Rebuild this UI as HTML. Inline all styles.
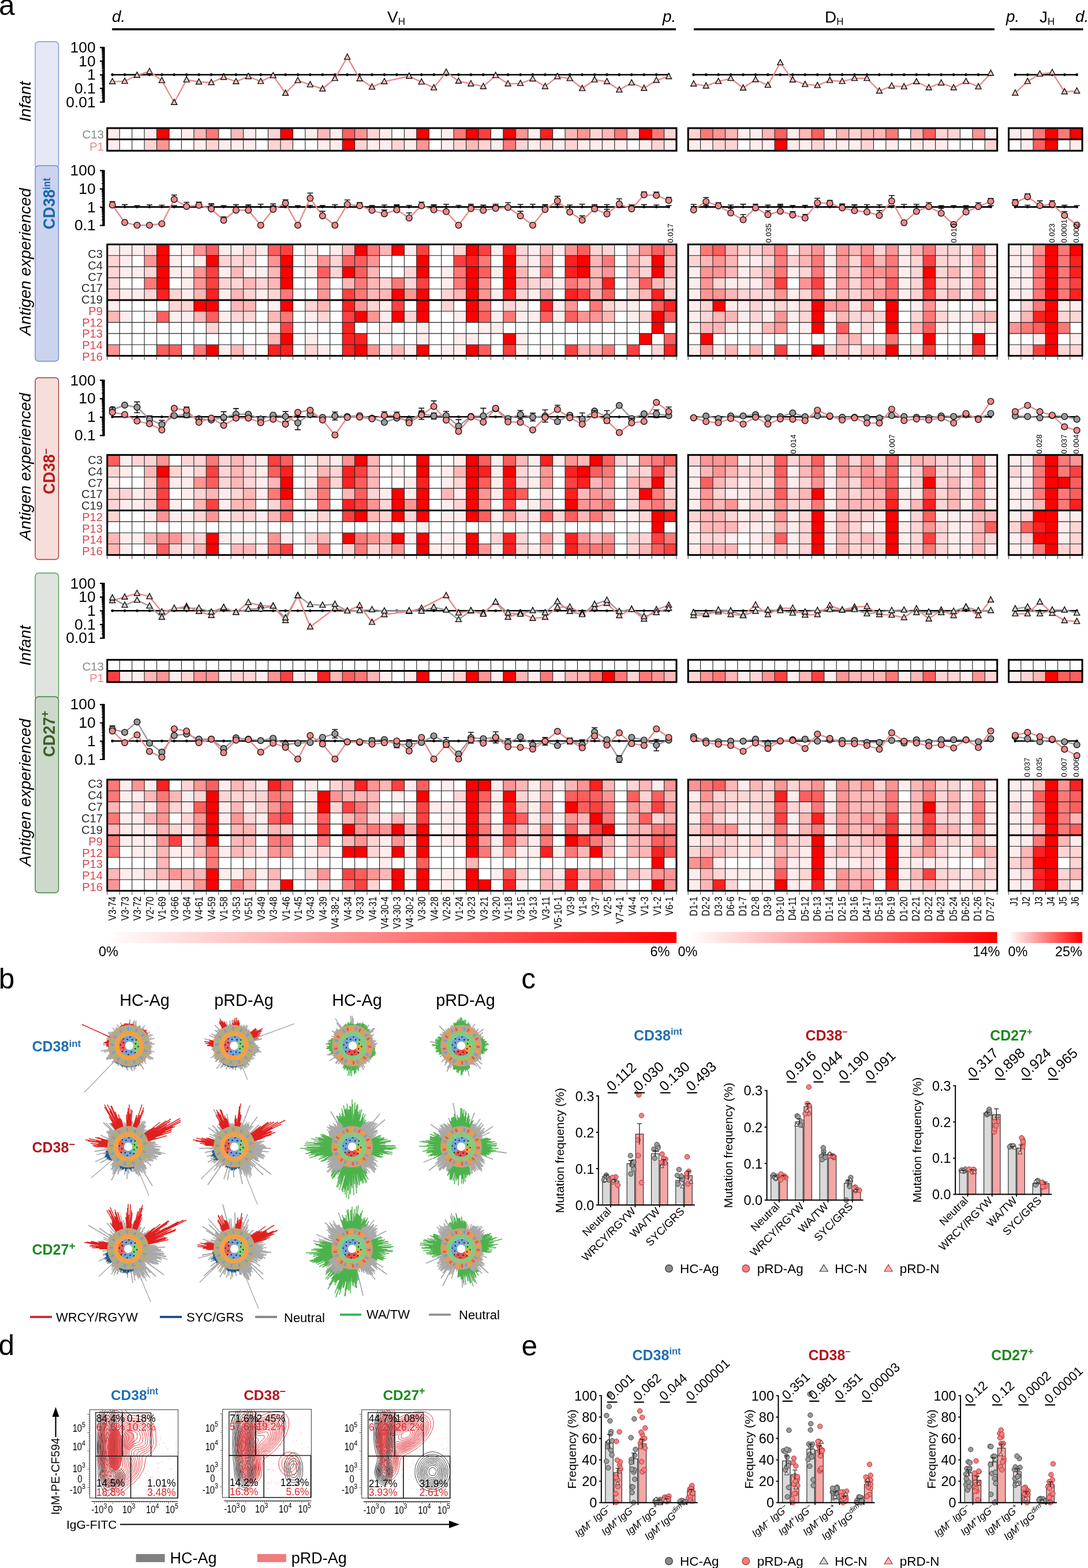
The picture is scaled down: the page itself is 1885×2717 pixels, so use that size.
<!DOCTYPE html>
<html><head><meta charset="utf-8"><title>Figure</title><style>html,body{margin:0;padding:0;background:#fff;}body{width:1885px;height:2717px;overflow:hidden;}svg{display:block;}</style></head><body>
<svg xmlns="http://www.w3.org/2000/svg" width="1885" height="2717" viewBox="0 0 1885 2717" font-family="'Liberation Sans', Arial, Helvetica, sans-serif">
<rect width="1885" height="2717" fill="#fff"/>
<text x="-2" y="25.6" font-size="49.5" text-anchor="start" fill="#000">a</text>
<text x="194" y="38" font-size="28" text-anchor="start" fill="#000" font-style="italic">d.</text>
<text x="1148" y="38" font-size="28" text-anchor="start" fill="#000" font-style="italic">p.</text>
<text x="671" y="38.5" font-size="28" text-anchor="start" fill="#000">V<tspan font-size="17" dy="4.5">H</tspan></text>
<text x="1429" y="38.5" font-size="28" text-anchor="start" fill="#000">D<tspan font-size="17" dy="4.5">H</tspan></text>
<text x="1743" y="38" font-size="28" text-anchor="start" fill="#000" font-style="italic">p.</text>
<text x="1801" y="38.5" font-size="28" text-anchor="start" fill="#000">J<tspan font-size="17" dy="4.5">H</tspan></text>
<text x="1863" y="38" font-size="28" text-anchor="start" fill="#000" font-style="italic">d.</text>
<path d="M194.2 50.7H1171M1202 50.7H1723M1749.4 50.7H1876.5" stroke="#000" stroke-width="3.6" fill="none"/>
<rect x="61" y="72.2" width="40.5" height="219.8" rx="6" ry="6" fill="#e6e8f6" stroke="#7f98cf" stroke-width="1.4"/>
<rect x="61" y="287" width="40.5" height="339" rx="6" ry="6" fill="#ccd3ee" stroke="#6f8cc9" stroke-width="1.4"/>
<rect x="61" y="654.5" width="40.5" height="315" rx="6" ry="6" fill="#f6dedb" stroke="#9b3b3b" stroke-width="1.4"/>
<rect x="61" y="993" width="40.5" height="219" rx="6" ry="6" fill="#dfe4df" stroke="#4f9a4f" stroke-width="1.4"/>
<rect x="61" y="1207.3" width="40.5" height="339.7" rx="6" ry="6" fill="#ccd9cb" stroke="#3f7f3f" stroke-width="1.4"/>
<text x="52.5" y="176" font-size="28" text-anchor="middle" fill="#000" font-style="italic" transform="rotate(-90 52.5 176)">Infant</text>
<text x="52.5" y="453.5" font-size="28" text-anchor="middle" fill="#000" font-style="italic" transform="rotate(-90 52.5 453.5)">Antigen experienced</text>
<text x="52.5" y="808.5" font-size="28" text-anchor="middle" fill="#000" font-style="italic" transform="rotate(-90 52.5 808.5)">Antigen experienced</text>
<text x="52.5" y="1118.5" font-size="28" text-anchor="middle" fill="#000" font-style="italic" transform="rotate(-90 52.5 1118.5)">Infant</text>
<text x="52.5" y="1373" font-size="28" text-anchor="middle" fill="#000" font-style="italic" transform="rotate(-90 52.5 1373)">Antigen experienced</text>
<text font-size="29.5" text-anchor="start" fill="#1668b0" font-weight="bold" transform="translate(94.6 397.5) rotate(-90) scale(0.92 1)">CD38<tspan font-size="17.5" dy="-8">int</tspan></text>
<text font-size="29.5" text-anchor="start" fill="#b81c1c" font-weight="bold" transform="translate(94.8 856.5) rotate(-90) scale(0.92 1)">CD38<tspan font-size="20" dy="-10">&#8211;</tspan></text>
<text font-size="29.5" text-anchor="start" fill="#3b5e25" font-weight="bold" transform="translate(94.6 1311.8) rotate(-90) scale(0.92 1)">CD27<tspan font-size="20" dy="-10">+</tspan></text>
<path d="M179.5 81.3V177.9" stroke="#000" stroke-width="4.4" fill="none"/>
<path d="M179.5 82.3H173M179.5 105.9H173M179.5 129.6H173M179.5 153.2H173M179.5 176.9H173" stroke="#000" stroke-width="2.2" fill="none"/>
<path d="M179.5 98.8H176.2M179.5 94.7H176.2M179.5 91.7H176.2M179.5 89.4H176.2M179.5 87.5H176.2M179.5 86H176.2M179.5 84.6H176.2M179.5 83.4H176.2M179.5 122.5H176.2M179.5 118.3H176.2M179.5 115.4H176.2M179.5 113.1H176.2M179.5 111.2H176.2M179.5 109.6H176.2M179.5 108.2H176.2M179.5 107H176.2M179.5 146.1H176.2M179.5 142H176.2M179.5 139H176.2M179.5 136.7H176.2M179.5 134.8H176.2M179.5 133.3H176.2M179.5 131.9H176.2M179.5 130.7H176.2M179.5 169.8H176.2M179.5 165.6H176.2M179.5 162.7H176.2M179.5 160.4H176.2M179.5 158.5H176.2M179.5 156.9H176.2M179.5 155.5H176.2M179.5 154.3H176.2" stroke="#000" stroke-width="1.5" fill="none"/>
<text x="165.6" y="90.9" font-size="26.4" text-anchor="end" fill="#000">100</text>
<text x="165.6" y="114.5" font-size="26.4" text-anchor="end" fill="#000">10</text>
<text x="165.6" y="138.2" font-size="26.4" text-anchor="end" fill="#000">1</text>
<text x="165.6" y="161.8" font-size="26.4" text-anchor="end" fill="#000">0.1</text>
<text x="165.6" y="185.5" font-size="26.4" text-anchor="end" fill="#000">0.01</text>
<path d="M194.7 129.5H1158.6" stroke="#000" stroke-width="2.6" fill="none"/>
<path d="M194.7 129.5h0M216.1 129.5h0M237.5 129.5h0M259 129.5h0M280.4 129.5h0M301.8 129.5h0M323.2 129.5h0M344.6 129.5h0M366.1 129.5h0M387.5 129.5h0M408.9 129.5h0M430.3 129.5h0M451.7 129.5h0M473.2 129.5h0M494.6 129.5h0M516 129.5h0M537.4 129.5h0M558.8 129.5h0M580.3 129.5h0M601.7 129.5h0M623.1 129.5h0M644.5 129.5h0M665.9 129.5h0M687.4 129.5h0M708.8 129.5h0M730.2 129.5h0M751.6 129.5h0M773 129.5h0M794.5 129.5h0M815.9 129.5h0M837.3 129.5h0M858.7 129.5h0M880.1 129.5h0M901.6 129.5h0M923 129.5h0M944.4 129.5h0M965.8 129.5h0M987.2 129.5h0M1008.7 129.5h0M1030.1 129.5h0M1051.5 129.5h0M1072.9 129.5h0M1094.3 129.5h0M1115.8 129.5h0M1137.2 129.5h0M1158.6 129.5h0" stroke="#000" stroke-width="4.8" stroke-linecap="round" fill="none"/>
<path d="M1201.7 129.5H1716.5" stroke="#000" stroke-width="2.6" fill="none"/>
<path d="M1201.7 129.5h0M1223.2 129.5h0M1244.6 129.5h0M1266 129.5h0M1287.5 129.5h0M1309 129.5h0M1330.4 129.5h0M1351.9 129.5h0M1373.3 129.5h0M1394.8 129.5h0M1416.2 129.5h0M1437.7 129.5h0M1459.1 129.5h0M1480.5 129.5h0M1502 129.5h0M1523.5 129.5h0M1544.9 129.5h0M1566.3 129.5h0M1587.8 129.5h0M1609.2 129.5h0M1630.7 129.5h0M1652.2 129.5h0M1673.6 129.5h0M1695 129.5h0M1716.5 129.5h0" stroke="#000" stroke-width="4.8" stroke-linecap="round" fill="none"/>
<path d="M1758.9 129.5H1865.7" stroke="#000" stroke-width="2.6" fill="none"/>
<path d="M1758.9 129.5h0M1780.3 129.5h0M1801.6 129.5h0M1823 129.5h0M1844.3 129.5h0M1865.7 129.5h0" stroke="#000" stroke-width="4.8" stroke-linecap="round" fill="none"/>
<path d="M194.7 141.4L216.1 140.8L237.5 130.5L259 123.9L280.4 139.6L301.8 177.5L323.2 138.3L344.6 142L366.1 143L387.5 133.9L408.9 141.4L430.3 132.7L451.7 141.1L473.2 131.1L494.6 161.5L516 139.6L537.4 146.8L558.8 154L580.3 135.8L601.7 99.1L623.1 136.4L644.5 150.8L665.9 141.4L708.8 132L730.2 142.1L751.6 152.1L773 125.1L794.5 140.5L815.9 145.2L837.3 149.9L858.7 130.8L880.1 145.2L901.6 144.6L923 136.7L944.4 149.9L965.8 132.7L987.2 136.1L1008.7 153.3L1030.1 138.3L1051.5 141.4L1072.9 155.8L1094.3 143.6L1115.8 153L1137.2 139.2L1158.6 132.7" stroke="#e98a8a" stroke-width="2.4" fill="none" stroke-linejoin="round"/>
<path d="M1201.7 145.4L1223.2 148.9L1244.6 141.1L1266 135.8L1287.5 152.5L1309 138L1330.4 147.6L1351.9 108.6L1373.3 138.4L1394.8 146.3L1416.2 148.1L1437.7 139.3L1459.1 141.1L1480.5 135.8L1502 135.8L1523.5 157.7L1544.9 148.9L1566.3 150.3L1587.8 141.5L1609.2 152L1630.7 143.7L1652.2 152L1673.6 141.1L1695 150.3L1716.5 127" stroke="#e98a8a" stroke-width="2.4" fill="none" stroke-linejoin="round"/>
<path d="M1758.9 161.2L1780.3 141.1L1801.6 128.3L1823 125.7L1844.3 159L1865.7 157.7" stroke="#e98a8a" stroke-width="2.4" fill="none" stroke-linejoin="round"/>
<path d="M194.7 135.7l5 9.5h-10zM216.1 135.1l5 9.5h-10zM237.5 124.8l5 9.5h-10zM259 118.2l5 9.5h-10zM280.4 133.9l5 9.5h-10zM301.8 171.8l5 9.5h-10zM323.2 132.6l5 9.5h-10zM344.6 136.3l5 9.5h-10zM366.1 137.3l5 9.5h-10zM387.5 128.2l5 9.5h-10zM408.9 135.7l5 9.5h-10zM430.3 127l5 9.5h-10zM451.7 135.4l5 9.5h-10zM473.2 125.4l5 9.5h-10zM494.6 155.8l5 9.5h-10zM516 133.9l5 9.5h-10zM537.4 141.1l5 9.5h-10zM558.8 148.3l5 9.5h-10zM580.3 130.1l5 9.5h-10zM601.7 93.4l5 9.5h-10zM623.1 130.7l5 9.5h-10zM644.5 145.1l5 9.5h-10zM665.9 135.7l5 9.5h-10zM708.8 126.3l5 9.5h-10zM730.2 136.4l5 9.5h-10zM751.6 146.4l5 9.5h-10zM773 119.4l5 9.5h-10zM794.5 134.8l5 9.5h-10zM815.9 139.5l5 9.5h-10zM837.3 144.2l5 9.5h-10zM858.7 125.1l5 9.5h-10zM880.1 139.5l5 9.5h-10zM901.6 138.9l5 9.5h-10zM923 131l5 9.5h-10zM944.4 144.2l5 9.5h-10zM965.8 127l5 9.5h-10zM987.2 130.4l5 9.5h-10zM1008.7 147.6l5 9.5h-10zM1030.1 132.6l5 9.5h-10zM1051.5 135.7l5 9.5h-10zM1072.9 150.1l5 9.5h-10zM1094.3 137.9l5 9.5h-10zM1115.8 147.3l5 9.5h-10zM1137.2 133.5l5 9.5h-10zM1158.6 127l5 9.5h-10z" fill="#f6c4c4" stroke="#111" stroke-width="1.4"/>
<path d="M1201.7 139.7l5 9.5h-10zM1223.2 143.2l5 9.5h-10zM1244.6 135.4l5 9.5h-10zM1266 130.1l5 9.5h-10zM1287.5 146.8l5 9.5h-10zM1309 132.3l5 9.5h-10zM1330.4 141.9l5 9.5h-10zM1351.9 102.9l5 9.5h-10zM1373.3 132.7l5 9.5h-10zM1394.8 140.6l5 9.5h-10zM1416.2 142.4l5 9.5h-10zM1437.7 133.6l5 9.5h-10zM1459.1 135.4l5 9.5h-10zM1480.5 130.1l5 9.5h-10zM1502 130.1l5 9.5h-10zM1523.5 152l5 9.5h-10zM1544.9 143.2l5 9.5h-10zM1566.3 144.6l5 9.5h-10zM1587.8 135.8l5 9.5h-10zM1609.2 146.3l5 9.5h-10zM1630.7 138l5 9.5h-10zM1652.2 146.3l5 9.5h-10zM1673.6 135.4l5 9.5h-10zM1695 144.6l5 9.5h-10zM1716.5 121.3l5 9.5h-10z" fill="#f6c4c4" stroke="#111" stroke-width="1.4"/>
<path d="M1758.9 155.5l5 9.5h-10zM1780.3 135.4l5 9.5h-10zM1801.6 122.6l5 9.5h-10zM1823 120l5 9.5h-10zM1844.3 153.3l5 9.5h-10zM1865.7 152l5 9.5h-10z" fill="#f6c4c4" stroke="#111" stroke-width="1.4"/>
<path d="M185.8 222h21.7v19.9h-21.7zM250.1 222h21.7v19.9h-21.7zM314.4 222h21.7v19.9h-21.7zM421.6 222h21.7v19.9h-21.7zM528.8 222h21.7v19.9h-21.7zM571.7 222h21.7v19.9h-21.7zM657.5 222h21.7v19.9h-21.7zM700.4 222h21.7v19.9h-21.7zM764.7 222h21.7v19.9h-21.7zM914.8 222h21.7v19.9h-21.7zM185.8 241.6h21.7v19.9h-21.7zM335.9 241.6h21.7v19.9h-21.7zM378.8 241.6h21.7v19.9h-21.7zM400.2 241.6h21.7v19.9h-21.7zM421.6 241.6h21.7v19.9h-21.7zM550.3 241.6h21.7v19.9h-21.7zM571.7 241.6h21.7v19.9h-21.7zM636 241.6h21.7v19.9h-21.7zM657.5 241.6h21.7v19.9h-21.7zM700.4 241.6h21.7v19.9h-21.7zM764.7 241.6h21.7v19.9h-21.7zM850.4 241.6h21.7v19.9h-21.7zM914.8 241.6h21.7v19.9h-21.7zM957.6 241.6h21.7v19.9h-21.7zM1000.5 241.6h21.7v19.9h-21.7zM1022 241.6h21.7v19.9h-21.7zM1043.4 241.6h21.7v19.9h-21.7zM1064.8 241.6h21.7v19.9h-21.7zM1107.7 241.6h21.7v19.9h-21.7zM1150.6 241.6h21.7v19.9h-21.7z" fill="rgb(255,236,236)"/>
<path d="M464.5 222h21.7v19.9h-21.7zM636 222h21.7v19.9h-21.7zM1022 222h21.7v19.9h-21.7zM1086.3 222h21.7v19.9h-21.7zM1150.6 222h21.7v19.9h-21.7zM250.1 241.6h21.7v19.9h-21.7zM357.3 241.6h21.7v19.9h-21.7zM464.5 241.6h21.7v19.9h-21.7zM486 241.6h21.7v19.9h-21.7zM614.6 241.6h21.7v19.9h-21.7zM678.9 241.6h21.7v19.9h-21.7zM786.1 241.6h21.7v19.9h-21.7zM829 241.6h21.7v19.9h-21.7zM893.3 241.6h21.7v19.9h-21.7zM936.2 241.6h21.7v19.9h-21.7zM979.1 241.6h21.7v19.9h-21.7zM1129.2 241.6h21.7v19.9h-21.7z" fill="rgb(255,212,212)"/>
<path d="M335.9 222h21.7v19.9h-21.7zM400.2 222h21.7v19.9h-21.7zM550.3 222h21.7v19.9h-21.7zM979.1 222h21.7v19.9h-21.7zM1043.4 222h21.7v19.9h-21.7zM807.6 241.6h21.7v19.9h-21.7z" fill="rgb(255,182,182)"/>
<path d="M614.6 222h21.7v19.9h-21.7zM893.3 222h21.7v19.9h-21.7zM1000.5 222h21.7v19.9h-21.7zM271.6 241.6h21.7v19.9h-21.7zM721.8 241.6h21.7v19.9h-21.7z" fill="rgb(255,148,148)"/>
<path d="M357.3 222h21.7v19.9h-21.7zM786.1 222h21.7v19.9h-21.7zM1064.8 222h21.7v19.9h-21.7zM1129.2 222h21.7v19.9h-21.7zM871.9 241.6h21.7v19.9h-21.7z" fill="rgb(255,120,120)"/>
<path d="M593.2 222h21.7v19.9h-21.7z" fill="rgb(255,94,94)"/>
<path d="M829 222h21.7v19.9h-21.7z" fill="rgb(255,64,64)"/>
<path d="M936.2 222h21.7v19.9h-21.7z" fill="rgb(255,32,32)"/>
<path d="M271.6 222h21.7v19.9h-21.7zM486 222h21.7v19.9h-21.7zM721.8 222h21.7v19.9h-21.7zM807.6 222h21.7v19.9h-21.7zM871.9 222h21.7v19.9h-21.7zM1107.7 222h21.7v19.9h-21.7zM593.2 241.6h21.7v19.9h-21.7z" fill="rgb(255,0,0)"/>
<path d="M207.2 222V261.2M228.7 222V261.2M250.1 222V261.2M271.6 222V261.2M293 222V261.2M314.4 222V261.2M335.9 222V261.2M357.3 222V261.2M378.8 222V261.2M400.2 222V261.2M421.6 222V261.2M443.1 222V261.2M464.5 222V261.2M486 222V261.2M507.4 222V261.2M528.8 222V261.2M550.3 222V261.2M571.7 222V261.2M593.2 222V261.2M614.6 222V261.2M636 222V261.2M657.5 222V261.2M678.9 222V261.2M700.4 222V261.2M721.8 222V261.2M743.2 222V261.2M764.7 222V261.2M786.1 222V261.2M807.6 222V261.2M829 222V261.2M850.4 222V261.2M871.9 222V261.2M893.3 222V261.2M914.8 222V261.2M936.2 222V261.2M957.6 222V261.2M979.1 222V261.2M1000.5 222V261.2M1022 222V261.2M1043.4 222V261.2M1064.8 222V261.2M1086.3 222V261.2M1107.7 222V261.2M1129.2 222V261.2M1150.6 222V261.2" stroke="#222" stroke-width="1.1" fill="none"/>
<path d="M185.8 241.6H1172" stroke="#000" stroke-width="3" fill="none"/>
<rect x="185.8" y="222" width="986.2" height="39.2" fill="none" stroke="#000" stroke-width="3"/>
<path d="M1277.9 222h21.7v19.9h-21.7zM1299.3 222h21.7v19.9h-21.7zM1363.6 222h21.7v19.9h-21.7zM1427.8 222h21.7v19.9h-21.7zM1706.3 222h21.7v19.9h-21.7zM1192.2 241.6h21.7v19.9h-21.7zM1213.6 241.6h21.7v19.9h-21.7zM1299.3 241.6h21.7v19.9h-21.7zM1320.7 241.6h21.7v19.9h-21.7zM1363.6 241.6h21.7v19.9h-21.7zM1385 241.6h21.7v19.9h-21.7zM1427.8 241.6h21.7v19.9h-21.7zM1449.2 241.6h21.7v19.9h-21.7zM1470.7 241.6h21.7v19.9h-21.7zM1534.9 241.6h21.7v19.9h-21.7zM1577.8 241.6h21.7v19.9h-21.7zM1599.2 241.6h21.7v19.9h-21.7zM1620.6 241.6h21.7v19.9h-21.7z" fill="rgb(255,236,236)"/>
<path d="M1192.2 222h21.7v19.9h-21.7zM1470.7 222h21.7v19.9h-21.7zM1620.6 222h21.7v19.9h-21.7zM1642 222h21.7v19.9h-21.7zM1235 241.6h21.7v19.9h-21.7zM1256.5 241.6h21.7v19.9h-21.7zM1406.4 241.6h21.7v19.9h-21.7zM1492.1 241.6h21.7v19.9h-21.7zM1706.3 241.6h21.7v19.9h-21.7z" fill="rgb(255,212,212)"/>
<path d="M1256.5 222h21.7v19.9h-21.7zM1320.7 222h21.7v19.9h-21.7zM1385 222h21.7v19.9h-21.7zM1449.2 222h21.7v19.9h-21.7zM1492.1 222h21.7v19.9h-21.7zM1513.5 222h21.7v19.9h-21.7zM1577.8 222h21.7v19.9h-21.7z" fill="rgb(255,182,182)"/>
<path d="M1235 222h21.7v19.9h-21.7zM1684.9 222h21.7v19.9h-21.7z" fill="rgb(255,148,148)"/>
<path d="M1213.6 222h21.7v19.9h-21.7zM1534.9 222h21.7v19.9h-21.7z" fill="rgb(255,120,120)"/>
<path d="M1342.1 222h21.7v19.9h-21.7zM1406.4 222h21.7v19.9h-21.7zM1599.2 222h21.7v19.9h-21.7z" fill="rgb(255,94,94)"/>
<path d="M1342.1 241.6h21.7v19.9h-21.7z" fill="rgb(255,0,0)"/>
<path d="M1213.6 222V261.2M1235 222V261.2M1256.5 222V261.2M1277.9 222V261.2M1299.3 222V261.2M1320.7 222V261.2M1342.1 222V261.2M1363.6 222V261.2M1385 222V261.2M1406.4 222V261.2M1427.8 222V261.2M1449.2 222V261.2M1470.7 222V261.2M1492.1 222V261.2M1513.5 222V261.2M1534.9 222V261.2M1556.3 222V261.2M1577.8 222V261.2M1599.2 222V261.2M1620.6 222V261.2M1642 222V261.2M1663.4 222V261.2M1684.9 222V261.2M1706.3 222V261.2" stroke="#222" stroke-width="1.1" fill="none"/>
<path d="M1192.2 241.6H1727.7" stroke="#000" stroke-width="3" fill="none"/>
<rect x="1192.2" y="222" width="535.5" height="39.2" fill="none" stroke="#000" stroke-width="3"/>
<path d="M1747.6 222h21.6v19.9h-21.6zM1768.8 222h21.6v19.9h-21.6zM1768.8 241.6h21.6v19.9h-21.6zM1853.8 241.6h21.6v19.9h-21.6z" fill="rgb(255,236,236)"/>
<path d="M1790.1 222h21.6v19.9h-21.6zM1832.6 222h21.6v19.9h-21.6z" fill="rgb(255,120,120)"/>
<path d="M1790.1 241.6h21.6v19.9h-21.6z" fill="rgb(255,94,94)"/>
<path d="M1811.3 222h21.6v19.9h-21.6zM1853.8 222h21.6v19.9h-21.6zM1811.3 241.6h21.6v19.9h-21.6z" fill="rgb(255,0,0)"/>
<path d="M1768.8 222V261.2M1790.1 222V261.2M1811.3 222V261.2M1832.6 222V261.2M1853.8 222V261.2" stroke="#222" stroke-width="1.1" fill="none"/>
<path d="M1747.6 241.6H1875.1" stroke="#000" stroke-width="3" fill="none"/>
<rect x="1747.6" y="222" width="127.5" height="39.2" fill="none" stroke="#000" stroke-width="3"/>
<text x="180" y="240.2" font-size="20.5" text-anchor="end" fill="#8a8a8a">C13</text>
<text x="180" y="261.2" font-size="20.5" text-anchor="end" fill="#ee8a8a">P1</text>
<path d="M179.5 294.7V391.6" stroke="#000" stroke-width="4.4" fill="none"/>
<path d="M179.5 295.7H173M179.5 327.3H173M179.5 359H173M179.5 390.6H173" stroke="#000" stroke-width="2.2" fill="none"/>
<path d="M179.5 317.8H176.2M179.5 312.2H176.2M179.5 308.3H176.2M179.5 305.2H176.2M179.5 302.7H176.2M179.5 300.6H176.2M179.5 298.8H176.2M179.5 297.1H176.2M179.5 349.4H176.2M179.5 343.9H176.2M179.5 339.9H176.2M179.5 336.9H176.2M179.5 334.3H176.2M179.5 332.2H176.2M179.5 330.4H176.2M179.5 328.8H176.2M179.5 381.1H176.2M179.5 375.5H176.2M179.5 371.5H176.2M179.5 368.5H176.2M179.5 366H176.2M179.5 363.9H176.2M179.5 362H176.2M179.5 360.4H176.2" stroke="#000" stroke-width="1.5" fill="none"/>
<text x="165.6" y="304.3" font-size="26.4" text-anchor="end" fill="#000">100</text>
<text x="165.6" y="335.9" font-size="26.4" text-anchor="end" fill="#000">10</text>
<text x="165.6" y="367.6" font-size="26.4" text-anchor="end" fill="#000">1</text>
<text x="165.6" y="399.2" font-size="26.4" text-anchor="end" fill="#000">0.1</text>
<path d="M194.7 358.6H1158.6" stroke="#000" stroke-width="2.6" fill="none"/>
<path d="M194.7 358.6h0M216.1 358.6h0M237.5 358.6h0M259 358.6h0M280.4 358.6h0M301.8 358.6h0M323.2 358.6h0M344.6 358.6h0M366.1 358.6h0M387.5 358.6h0M408.9 358.6h0M430.3 358.6h0M451.7 358.6h0M473.2 358.6h0M494.6 358.6h0M516 358.6h0M537.4 358.6h0M558.8 358.6h0M580.3 358.6h0M601.7 358.6h0M623.1 358.6h0M644.5 358.6h0M665.9 358.6h0M687.4 358.6h0M708.8 358.6h0M730.2 358.6h0M751.6 358.6h0M773 358.6h0M794.5 358.6h0M815.9 358.6h0M837.3 358.6h0M858.7 358.6h0M880.1 358.6h0M901.6 358.6h0M923 358.6h0M944.4 358.6h0M965.8 358.6h0M987.2 358.6h0M1008.7 358.6h0M1030.1 358.6h0M1051.5 358.6h0M1072.9 358.6h0M1094.3 358.6h0M1115.8 358.6h0M1137.2 358.6h0M1158.6 358.6h0" stroke="#000" stroke-width="4.8" stroke-linecap="round" fill="none"/>
<path d="M1201.7 358.6H1716.5" stroke="#000" stroke-width="2.6" fill="none"/>
<path d="M1201.7 358.6h0M1223.2 358.6h0M1244.6 358.6h0M1266 358.6h0M1287.5 358.6h0M1309 358.6h0M1330.4 358.6h0M1351.9 358.6h0M1373.3 358.6h0M1394.8 358.6h0M1416.2 358.6h0M1437.7 358.6h0M1459.1 358.6h0M1480.5 358.6h0M1502 358.6h0M1523.5 358.6h0M1544.9 358.6h0M1566.3 358.6h0M1587.8 358.6h0M1609.2 358.6h0M1630.7 358.6h0M1652.2 358.6h0M1673.6 358.6h0M1695 358.6h0M1716.5 358.6h0" stroke="#000" stroke-width="4.8" stroke-linecap="round" fill="none"/>
<path d="M1758.9 358.6H1865.7" stroke="#000" stroke-width="2.6" fill="none"/>
<path d="M1758.9 358.6h0M1780.3 358.6h0M1801.6 358.6h0M1823 358.6h0M1844.3 358.6h0M1865.7 358.6h0" stroke="#000" stroke-width="4.8" stroke-linecap="round" fill="none"/>
<path d="M194.7 355.2L216.1 385.6L237.5 390.3L259 390.3L280.4 387.7L301.8 345.5L323.2 357.7L344.6 355.8L366.1 362L387.5 381.8L408.9 364.2L430.3 364.2L451.7 390.3L473.2 362.7L494.6 352L516 390.3L537.4 343.6L558.8 374L580.3 390.3L601.7 354.2L623.1 356.4L644.5 364.6L665.9 370.5L687.4 363.6L708.8 377.7L730.2 356.4L751.6 363.6L773 366.8L794.5 390.3L815.9 361.4L837.3 364.6L858.7 361.1L880.1 359.5L901.6 374L923 390.3L944.4 363L965.8 348L987.2 367.4L1008.7 381.5L1030.1 362L1051.5 370.8L1072.9 353.6L1094.3 362L1115.8 337.6L1137.2 338.6L1158.6 347.3" stroke="#e98a8a" stroke-width="2.4" fill="none" stroke-linejoin="round"/>
<path d="M1201.7 363.7L1223.2 349.2L1244.6 356.7L1266 369L1287.5 380.8L1309 360.2L1330.4 372L1351.9 365.9L1373.3 372.5L1394.8 377.7L1416.2 351.4L1437.7 352.3L1459.1 360.2L1480.5 365L1502 367.2L1523.5 373.3L1544.9 348.3L1566.3 386L1587.8 366.3L1609.2 358L1630.7 369.4L1652.2 389.1L1673.6 367.2L1695 358L1716.5 348.8" stroke="#e98a8a" stroke-width="2.4" fill="none" stroke-linejoin="round"/>
<path d="M1758.9 351.4L1780.3 340.9L1801.6 356.2L1823 354L1844.3 373.3L1865.7 390" stroke="#e98a8a" stroke-width="2.4" fill="none" stroke-linejoin="round"/>
<path d="M194.7 358.6V355.6m-5 0h10M194.7 355.2V349.4m-5 0h10M216.1 358.6V354.6m-5 0h10M237.5 358.6V356.4m-5 0h10M259 358.6V355m-5 0h10M280.4 358.6V355.5m-5 0h10M301.8 358.6V356.4m-5 0h10M301.8 345.5V338m-5 0h10M323.2 358.6V356.5m-5 0h10M323.2 357.7V350.5m-5 0h10M344.6 358.6V356.4m-5 0h10M344.6 355.8V350.3m-5 0h10M366.1 358.6V355.3m-5 0h10M366.1 362V352.9m-5 0h10M387.5 358.6V356.2m-5 0h10M387.5 381.8V375.7m-5 0h10M408.9 358.6V354.7m-5 0h10M408.9 364.2V354.5m-5 0h10M430.3 358.6V354.9m-5 0h10M430.3 364.2V357.2m-5 0h10M451.7 358.6V353.7m-5 0h10M473.2 358.6V356.5m-5 0h10M473.2 362.7V353.4m-5 0h10M494.6 358.6V355.7m-5 0h10M494.6 352V346.3m-5 0h10M516 358.6V356.2m-5 0h10M537.4 358.6V355.7m-5 0h10M537.4 343.6V334.5m-5 0h10M558.8 358.6V356.1m-5 0h10M558.8 374V366.1m-5 0h10M580.3 358.6V354.7m-5 0h10M601.7 358.6V355.5m-5 0h10M601.7 354.2V346.5m-5 0h10M623.1 358.6V356.4m-5 0h10M623.1 356.4V351.1m-5 0h10M644.5 358.6V356m-5 0h10M644.5 364.6V356.2m-5 0h10M665.9 358.6V355.3m-5 0h10M665.9 370.5V363.9m-5 0h10M687.4 358.6V354.8m-5 0h10M687.4 363.6V356.3m-5 0h10M708.8 358.6V355.7m-5 0h10M708.8 377.7V368.7m-5 0h10M730.2 358.6V354.5m-5 0h10M730.2 356.4V350.2m-5 0h10M751.6 358.6V354.9m-5 0h10M751.6 363.6V356m-5 0h10M773 358.6V354m-5 0h10M773 366.8V358.2m-5 0h10M794.5 358.6V355.7m-5 0h10M815.9 358.6V353.7m-5 0h10M815.9 361.4V355.8m-5 0h10M837.3 358.6V355.3m-5 0h10M837.3 364.6V355.8m-5 0h10M858.7 358.6V356.1m-5 0h10M858.7 361.1V353.7m-5 0h10M880.1 358.6V356.5m-5 0h10M880.1 359.5V351.2m-5 0h10M901.6 358.6V354.3m-5 0h10M901.6 374V366.1m-5 0h10M923 358.6V354m-5 0h10M944.4 358.6V355.7m-5 0h10M944.4 363V354.5m-5 0h10M965.8 358.6V354.8m-5 0h10M965.8 348V340.1m-5 0h10M987.2 358.6V355.2m-5 0h10M987.2 367.4V358.2m-5 0h10M1008.7 358.6V353.8m-5 0h10M1008.7 381.5V374.1m-5 0h10M1030.1 358.6V354.6m-5 0h10M1030.1 362V356.7m-5 0h10M1051.5 358.6V354.5m-5 0h10M1051.5 370.8V362.6m-5 0h10M1072.9 358.6V353.6m-5 0h10M1072.9 353.6V344.5m-5 0h10M1094.3 358.6V355.7m-5 0h10M1094.3 362V355.1m-5 0h10M1115.8 358.6V354.6m-5 0h10M1115.8 337.6V332.5m-5 0h10M1137.2 358.6V355.2m-5 0h10M1137.2 338.6V332.8m-5 0h10M1158.6 358.6V356.2m-5 0h10M1158.6 347.3V342m-5 0h10" stroke="#111" stroke-width="1.6" fill="none"/>
<g fill="#f08888" stroke="#111" stroke-width="1.4"><circle cx="194.7" cy="355.2" r="5.3"/><circle cx="216.1" cy="385.6" r="5.3"/><circle cx="237.5" cy="390.3" r="5.3"/><circle cx="259" cy="390.3" r="5.3"/><circle cx="280.4" cy="387.7" r="5.3"/><circle cx="301.8" cy="345.5" r="5.3"/><circle cx="323.2" cy="357.7" r="5.3"/><circle cx="344.6" cy="355.8" r="5.3"/><circle cx="366.1" cy="362" r="5.3"/><circle cx="387.5" cy="381.8" r="5.3"/><circle cx="408.9" cy="364.2" r="5.3"/><circle cx="430.3" cy="364.2" r="5.3"/><circle cx="451.7" cy="390.3" r="5.3"/><circle cx="473.2" cy="362.7" r="5.3"/><circle cx="494.6" cy="352" r="5.3"/><circle cx="516" cy="390.3" r="5.3"/><circle cx="537.4" cy="343.6" r="5.3"/><circle cx="558.8" cy="374" r="5.3"/><circle cx="580.3" cy="390.3" r="5.3"/><circle cx="601.7" cy="354.2" r="5.3"/><circle cx="623.1" cy="356.4" r="5.3"/><circle cx="644.5" cy="364.6" r="5.3"/><circle cx="665.9" cy="370.5" r="5.3"/><circle cx="687.4" cy="363.6" r="5.3"/><circle cx="708.8" cy="377.7" r="5.3"/><circle cx="730.2" cy="356.4" r="5.3"/><circle cx="751.6" cy="363.6" r="5.3"/><circle cx="773" cy="366.8" r="5.3"/><circle cx="794.5" cy="390.3" r="5.3"/><circle cx="815.9" cy="361.4" r="5.3"/><circle cx="837.3" cy="364.6" r="5.3"/><circle cx="858.7" cy="361.1" r="5.3"/><circle cx="880.1" cy="359.5" r="5.3"/><circle cx="901.6" cy="374" r="5.3"/><circle cx="923" cy="390.3" r="5.3"/><circle cx="944.4" cy="363" r="5.3"/><circle cx="965.8" cy="348" r="5.3"/><circle cx="987.2" cy="367.4" r="5.3"/><circle cx="1008.7" cy="381.5" r="5.3"/><circle cx="1030.1" cy="362" r="5.3"/><circle cx="1051.5" cy="370.8" r="5.3"/><circle cx="1072.9" cy="353.6" r="5.3"/><circle cx="1094.3" cy="362" r="5.3"/><circle cx="1115.8" cy="337.6" r="5.3"/><circle cx="1137.2" cy="338.6" r="5.3"/><circle cx="1158.6" cy="347.3" r="5.3"/></g>
<path d="M1201.7 358.6V354.3m-5 0h10M1201.7 363.7V358.1m-5 0h10M1223.2 358.6V355.9m-5 0h10M1223.2 349.2V342.2m-5 0h10M1244.6 358.6V354m-5 0h10M1244.6 356.7V351.3m-5 0h10M1266 358.6V355.3m-5 0h10M1266 369V361.3m-5 0h10M1287.5 358.6V353.9m-5 0h10M1287.5 380.8V371.7m-5 0h10M1309 358.6V354m-5 0h10M1309 360.2V353.8m-5 0h10M1330.4 358.6V355.4m-5 0h10M1330.4 372V365.2m-5 0h10M1351.9 358.6V353.9m-5 0h10M1351.9 365.9V356.1m-5 0h10M1373.3 358.6V356.1m-5 0h10M1373.3 372.5V366.6m-5 0h10M1394.8 358.6V355.9m-5 0h10M1394.8 377.7V371.5m-5 0h10M1416.2 358.6V355.1m-5 0h10M1416.2 351.4V343.5m-5 0h10M1437.7 358.6V355.8m-5 0h10M1437.7 352.3V347.3m-5 0h10M1459.1 358.6V355.3m-5 0h10M1459.1 360.2V353.4m-5 0h10M1480.5 358.6V354.9m-5 0h10M1480.5 365V355.2m-5 0h10M1502 358.6V354.5m-5 0h10M1502 367.2V359.6m-5 0h10M1523.5 358.6V354.7m-5 0h10M1523.5 373.3V364.9m-5 0h10M1544.9 358.6V356.4m-5 0h10M1544.9 348.3V338.8m-5 0h10M1566.3 358.6V354.3m-5 0h10M1587.8 358.6V354m-5 0h10M1587.8 366.3V357.3m-5 0h10M1609.2 358.6V355.4m-5 0h10M1609.2 358V351m-5 0h10M1630.7 358.6V356.3m-5 0h10M1630.7 369.4V361.2m-5 0h10M1652.2 358.6V356.4m-5 0h10M1673.6 358.6V356.4m-5 0h10M1673.6 367.2V361.2m-5 0h10M1695 358.6V356.1m-5 0h10M1695 358V351.3m-5 0h10M1716.5 358.6V356.4m-5 0h10M1716.5 348.8V343.8m-5 0h10" stroke="#111" stroke-width="1.6" fill="none"/>
<g fill="#f08888" stroke="#111" stroke-width="1.4"><circle cx="1201.7" cy="363.7" r="5.3"/><circle cx="1223.2" cy="349.2" r="5.3"/><circle cx="1244.6" cy="356.7" r="5.3"/><circle cx="1266" cy="369" r="5.3"/><circle cx="1287.5" cy="380.8" r="5.3"/><circle cx="1309" cy="360.2" r="5.3"/><circle cx="1330.4" cy="372" r="5.3"/><circle cx="1351.9" cy="365.9" r="5.3"/><circle cx="1373.3" cy="372.5" r="5.3"/><circle cx="1394.8" cy="377.7" r="5.3"/><circle cx="1416.2" cy="351.4" r="5.3"/><circle cx="1437.7" cy="352.3" r="5.3"/><circle cx="1459.1" cy="360.2" r="5.3"/><circle cx="1480.5" cy="365" r="5.3"/><circle cx="1502" cy="367.2" r="5.3"/><circle cx="1523.5" cy="373.3" r="5.3"/><circle cx="1544.9" cy="348.3" r="5.3"/><circle cx="1566.3" cy="386" r="5.3"/><circle cx="1587.8" cy="366.3" r="5.3"/><circle cx="1609.2" cy="358" r="5.3"/><circle cx="1630.7" cy="369.4" r="5.3"/><circle cx="1652.2" cy="389.1" r="5.3"/><circle cx="1673.6" cy="367.2" r="5.3"/><circle cx="1695" cy="358" r="5.3"/><circle cx="1716.5" cy="348.8" r="5.3"/></g>
<path d="M1758.9 358.6V356.1m-5 0h10M1758.9 351.4V345.9m-5 0h10M1780.3 358.6V355.5m-5 0h10M1780.3 340.9V335.8m-5 0h10M1801.6 358.6V354m-5 0h10M1801.6 356.2V348.1m-5 0h10M1823 358.6V356.2m-5 0h10M1823 354V347.7m-5 0h10M1844.3 358.6V355.6m-5 0h10M1844.3 373.3V366.5m-5 0h10M1865.7 358.6V356.2m-5 0h10" stroke="#111" stroke-width="1.6" fill="none"/>
<g fill="#f08888" stroke="#111" stroke-width="1.4"><circle cx="1758.9" cy="351.4" r="5.3"/><circle cx="1780.3" cy="340.9" r="5.3"/><circle cx="1801.6" cy="356.2" r="5.3"/><circle cx="1823" cy="354" r="5.3"/><circle cx="1844.3" cy="373.3" r="5.3"/><circle cx="1865.7" cy="390" r="5.3"/></g>
<path d="M185.8 423.5h21.7v19.6h-21.7zM207.2 423.5h21.7v19.6h-21.7zM228.7 423.5h21.7v19.6h-21.7zM314.4 423.5h21.7v19.6h-21.7zM378.8 423.5h21.7v19.6h-21.7zM400.2 423.5h21.7v19.6h-21.7zM443.1 423.5h21.7v19.6h-21.7zM528.8 423.5h21.7v19.6h-21.7zM571.7 423.5h21.7v19.6h-21.7zM700.4 423.5h21.7v19.6h-21.7zM850.4 423.5h21.7v19.6h-21.7zM914.8 423.5h21.7v19.6h-21.7zM957.6 423.5h21.7v19.6h-21.7zM207.2 442.8h21.7v19.6h-21.7zM293 442.8h21.7v19.6h-21.7zM335.9 442.8h21.7v19.6h-21.7zM528.8 442.8h21.7v19.6h-21.7zM914.8 442.8h21.7v19.6h-21.7zM207.2 462.1h21.7v19.6h-21.7zM228.7 462.1h21.7v19.6h-21.7zM293 462.1h21.7v19.6h-21.7zM314.4 462.1h21.7v19.6h-21.7zM378.8 462.1h21.7v19.6h-21.7zM421.6 462.1h21.7v19.6h-21.7zM443.1 462.1h21.7v19.6h-21.7zM528.8 462.1h21.7v19.6h-21.7zM764.7 462.1h21.7v19.6h-21.7zM850.4 462.1h21.7v19.6h-21.7zM914.8 462.1h21.7v19.6h-21.7zM314.4 481.4h21.7v19.6h-21.7zM764.7 481.4h21.7v19.6h-21.7zM957.6 481.4h21.7v19.6h-21.7zM207.2 500.7h21.7v19.6h-21.7zM228.7 500.7h21.7v19.6h-21.7zM314.4 500.7h21.7v19.6h-21.7zM378.8 500.7h21.7v19.6h-21.7zM443.1 500.7h21.7v19.6h-21.7zM850.4 500.7h21.7v19.6h-21.7zM914.8 500.7h21.7v19.6h-21.7zM185.8 520h21.7v19.6h-21.7zM464.5 520h21.7v19.6h-21.7zM657.5 520h21.7v19.6h-21.7zM893.3 520h21.7v19.6h-21.7zM957.6 520h21.7v19.6h-21.7zM1064.8 520h21.7v19.6h-21.7zM1086.3 520h21.7v19.6h-21.7zM207.2 539.3h21.7v19.6h-21.7zM250.1 539.3h21.7v19.6h-21.7zM293 539.3h21.7v19.6h-21.7zM314.4 539.3h21.7v19.6h-21.7zM378.8 539.3h21.7v19.6h-21.7zM528.8 539.3h21.7v19.6h-21.7zM657.5 539.3h21.7v19.6h-21.7zM786.1 539.3h21.7v19.6h-21.7zM850.4 539.3h21.7v19.6h-21.7zM893.3 539.3h21.7v19.6h-21.7zM914.8 539.3h21.7v19.6h-21.7zM957.6 539.3h21.7v19.6h-21.7zM1086.3 539.3h21.7v19.6h-21.7zM464.5 558.6h21.7v19.6h-21.7zM657.5 558.6h21.7v19.6h-21.7zM721.8 558.6h21.7v19.6h-21.7zM829 558.6h21.7v19.6h-21.7zM850.4 558.6h21.7v19.6h-21.7zM528.8 577.9h21.7v19.6h-21.7zM721.8 577.9h21.7v19.6h-21.7zM786.1 577.9h21.7v19.6h-21.7zM807.6 577.9h21.7v19.6h-21.7zM893.3 577.9h21.7v19.6h-21.7zM378.8 597.2h21.7v19.6h-21.7zM421.6 597.2h21.7v19.6h-21.7zM550.3 597.2h21.7v19.6h-21.7zM657.5 597.2h21.7v19.6h-21.7zM700.4 597.2h21.7v19.6h-21.7zM764.7 597.2h21.7v19.6h-21.7zM786.1 597.2h21.7v19.6h-21.7zM893.3 597.2h21.7v19.6h-21.7zM936.2 597.2h21.7v19.6h-21.7z" fill="rgb(255,236,236)"/>
<path d="M250.1 423.5h21.7v19.6h-21.7zM421.6 423.5h21.7v19.6h-21.7zM786.1 423.5h21.7v19.6h-21.7zM893.3 423.5h21.7v19.6h-21.7zM1022 423.5h21.7v19.6h-21.7zM1043.4 423.5h21.7v19.6h-21.7zM1086.3 423.5h21.7v19.6h-21.7zM185.8 442.8h21.7v19.6h-21.7zM378.8 442.8h21.7v19.6h-21.7zM400.2 442.8h21.7v19.6h-21.7zM421.6 442.8h21.7v19.6h-21.7zM571.7 442.8h21.7v19.6h-21.7zM893.3 442.8h21.7v19.6h-21.7zM1107.7 442.8h21.7v19.6h-21.7zM185.8 462.1h21.7v19.6h-21.7zM250.1 462.1h21.7v19.6h-21.7zM571.7 462.1h21.7v19.6h-21.7zM700.4 462.1h21.7v19.6h-21.7zM1107.7 462.1h21.7v19.6h-21.7zM185.8 481.4h21.7v19.6h-21.7zM378.8 481.4h21.7v19.6h-21.7zM400.2 481.4h21.7v19.6h-21.7zM443.1 481.4h21.7v19.6h-21.7zM657.5 481.4h21.7v19.6h-21.7zM700.4 481.4h21.7v19.6h-21.7zM914.8 481.4h21.7v19.6h-21.7zM936.2 481.4h21.7v19.6h-21.7zM1086.3 481.4h21.7v19.6h-21.7zM1150.6 481.4h21.7v19.6h-21.7zM185.8 500.7h21.7v19.6h-21.7zM250.1 500.7h21.7v19.6h-21.7zM293 500.7h21.7v19.6h-21.7zM421.6 500.7h21.7v19.6h-21.7zM464.5 500.7h21.7v19.6h-21.7zM764.7 500.7h21.7v19.6h-21.7zM893.3 500.7h21.7v19.6h-21.7zM1086.3 500.7h21.7v19.6h-21.7zM1150.6 500.7h21.7v19.6h-21.7zM293 520h21.7v19.6h-21.7zM314.4 520h21.7v19.6h-21.7zM528.8 520h21.7v19.6h-21.7zM636 520h21.7v19.6h-21.7zM764.7 520h21.7v19.6h-21.7zM871.9 520h21.7v19.6h-21.7zM1043.4 520h21.7v19.6h-21.7zM400.2 539.3h21.7v19.6h-21.7zM421.6 539.3h21.7v19.6h-21.7zM550.3 539.3h21.7v19.6h-21.7zM700.4 539.3h21.7v19.6h-21.7zM1107.7 539.3h21.7v19.6h-21.7zM357.3 558.6h21.7v19.6h-21.7zM528.8 597.2h21.7v19.6h-21.7zM1129.2 597.2h21.7v19.6h-21.7z" fill="rgb(255,212,212)"/>
<path d="M593.2 423.5h21.7v19.6h-21.7zM657.5 423.5h21.7v19.6h-21.7zM936.2 423.5h21.7v19.6h-21.7zM1022 442.8h21.7v19.6h-21.7zM1086.3 442.8h21.7v19.6h-21.7zM1150.6 442.8h21.7v19.6h-21.7zM400.2 462.1h21.7v19.6h-21.7zM464.5 462.1h21.7v19.6h-21.7zM636 462.1h21.7v19.6h-21.7zM893.3 462.1h21.7v19.6h-21.7zM1022 462.1h21.7v19.6h-21.7zM1086.3 462.1h21.7v19.6h-21.7zM1150.6 462.1h21.7v19.6h-21.7zM421.6 481.4h21.7v19.6h-21.7zM464.5 481.4h21.7v19.6h-21.7zM593.2 481.4h21.7v19.6h-21.7zM636 481.4h21.7v19.6h-21.7zM893.3 481.4h21.7v19.6h-21.7zM1022 481.4h21.7v19.6h-21.7zM1129.2 481.4h21.7v19.6h-21.7zM335.9 500.7h21.7v19.6h-21.7zM400.2 500.7h21.7v19.6h-21.7zM636 500.7h21.7v19.6h-21.7zM657.5 500.7h21.7v19.6h-21.7zM786.1 500.7h21.7v19.6h-21.7zM1022 500.7h21.7v19.6h-21.7zM1107.7 500.7h21.7v19.6h-21.7zM400.2 520h21.7v19.6h-21.7zM421.6 520h21.7v19.6h-21.7zM550.3 520h21.7v19.6h-21.7zM185.8 539.3h21.7v19.6h-21.7zM335.9 539.3h21.7v19.6h-21.7zM464.5 539.3h21.7v19.6h-21.7zM1043.4 539.3h21.7v19.6h-21.7zM464.5 577.9h21.7v19.6h-21.7zM400.2 597.2h21.7v19.6h-21.7zM678.9 597.2h21.7v19.6h-21.7zM1000.5 597.2h21.7v19.6h-21.7zM1022 597.2h21.7v19.6h-21.7z" fill="rgb(255,182,182)"/>
<path d="M335.9 423.5h21.7v19.6h-21.7zM979.1 423.5h21.7v19.6h-21.7zM1107.7 423.5h21.7v19.6h-21.7zM1150.6 423.5h21.7v19.6h-21.7zM250.1 442.8h21.7v19.6h-21.7zM464.5 442.8h21.7v19.6h-21.7zM550.3 442.8h21.7v19.6h-21.7zM636 442.8h21.7v19.6h-21.7zM936.2 442.8h21.7v19.6h-21.7zM335.9 462.1h21.7v19.6h-21.7zM1043.4 462.1h21.7v19.6h-21.7zM335.9 481.4h21.7v19.6h-21.7zM550.3 481.4h21.7v19.6h-21.7zM829 481.4h21.7v19.6h-21.7zM1000.5 481.4h21.7v19.6h-21.7zM550.3 500.7h21.7v19.6h-21.7zM700.4 500.7h21.7v19.6h-21.7zM829 500.7h21.7v19.6h-21.7zM936.2 500.7h21.7v19.6h-21.7zM614.6 520h21.7v19.6h-21.7zM979.1 520h21.7v19.6h-21.7zM636 539.3h21.7v19.6h-21.7zM1000.5 539.3h21.7v19.6h-21.7zM1022 539.3h21.7v19.6h-21.7zM185.8 597.2h21.7v19.6h-21.7zM636 597.2h21.7v19.6h-21.7z" fill="rgb(255,148,148)"/>
<path d="M636 423.5h21.7v19.6h-21.7zM829 442.8h21.7v19.6h-21.7zM1043.4 442.8h21.7v19.6h-21.7zM786.1 462.1h21.7v19.6h-21.7zM936.2 462.1h21.7v19.6h-21.7zM250.1 481.4h21.7v19.6h-21.7zM614.6 481.4h21.7v19.6h-21.7zM678.9 481.4h21.7v19.6h-21.7zM786.1 481.4h21.7v19.6h-21.7zM979.1 481.4h21.7v19.6h-21.7zM486 500.7h21.7v19.6h-21.7zM614.6 500.7h21.7v19.6h-21.7zM829 520h21.7v19.6h-21.7zM1022 520h21.7v19.6h-21.7zM486 539.3h21.7v19.6h-21.7zM871.9 539.3h21.7v19.6h-21.7zM335.9 597.2h21.7v19.6h-21.7zM1043.4 597.2h21.7v19.6h-21.7z" fill="rgb(255,120,120)"/>
<path d="M357.3 423.5h21.7v19.6h-21.7zM464.5 423.5h21.7v19.6h-21.7zM1000.5 423.5h21.7v19.6h-21.7zM1129.2 423.5h21.7v19.6h-21.7zM593.2 442.8h21.7v19.6h-21.7zM614.6 442.8h21.7v19.6h-21.7zM550.3 462.1h21.7v19.6h-21.7zM614.6 462.1h21.7v19.6h-21.7zM829 462.1h21.7v19.6h-21.7zM1107.7 481.4h21.7v19.6h-21.7zM1043.4 500.7h21.7v19.6h-21.7zM1129.2 520h21.7v19.6h-21.7zM271.6 539.3h21.7v19.6h-21.7zM357.3 539.3h21.7v19.6h-21.7zM829 539.3h21.7v19.6h-21.7zM936.2 539.3h21.7v19.6h-21.7zM979.1 539.3h21.7v19.6h-21.7zM1150.6 539.3h21.7v19.6h-21.7zM1150.6 577.9h21.7v19.6h-21.7zM271.6 597.2h21.7v19.6h-21.7zM293 597.2h21.7v19.6h-21.7zM829 597.2h21.7v19.6h-21.7z" fill="rgb(255,94,94)"/>
<path d="M486 423.5h21.7v19.6h-21.7zM721.8 423.5h21.7v19.6h-21.7zM829 423.5h21.7v19.6h-21.7zM786.1 442.8h21.7v19.6h-21.7zM357.3 462.1h21.7v19.6h-21.7zM357.3 481.4h21.7v19.6h-21.7zM721.8 481.4h21.7v19.6h-21.7zM593.2 500.7h21.7v19.6h-21.7zM1000.5 500.7h21.7v19.6h-21.7zM678.9 520h21.7v19.6h-21.7zM593.2 539.3h21.7v19.6h-21.7zM486 558.6h21.7v19.6h-21.7zM871.9 597.2h21.7v19.6h-21.7zM979.1 597.2h21.7v19.6h-21.7zM1086.3 597.2h21.7v19.6h-21.7z" fill="rgb(255,64,64)"/>
<path d="M871.9 423.5h21.7v19.6h-21.7zM807.6 442.8h21.7v19.6h-21.7zM979.1 442.8h21.7v19.6h-21.7zM979.1 462.1h21.7v19.6h-21.7zM1043.4 481.4h21.7v19.6h-21.7zM271.6 500.7h21.7v19.6h-21.7zM357.3 500.7h21.7v19.6h-21.7zM871.9 500.7h21.7v19.6h-21.7zM979.1 500.7h21.7v19.6h-21.7zM1129.2 500.7h21.7v19.6h-21.7zM593.2 520h21.7v19.6h-21.7zM936.2 520h21.7v19.6h-21.7zM1150.6 520h21.7v19.6h-21.7zM593.2 558.6h21.7v19.6h-21.7zM593.2 577.9h21.7v19.6h-21.7zM614.6 577.9h21.7v19.6h-21.7zM464.5 597.2h21.7v19.6h-21.7zM486 597.2h21.7v19.6h-21.7zM593.2 597.2h21.7v19.6h-21.7zM1150.6 597.2h21.7v19.6h-21.7z" fill="rgb(255,32,32)"/>
<path d="M271.6 423.5h21.7v19.6h-21.7zM614.6 423.5h21.7v19.6h-21.7zM678.9 423.5h21.7v19.6h-21.7zM807.6 423.5h21.7v19.6h-21.7zM271.6 442.8h21.7v19.6h-21.7zM357.3 442.8h21.7v19.6h-21.7zM486 442.8h21.7v19.6h-21.7zM721.8 442.8h21.7v19.6h-21.7zM871.9 442.8h21.7v19.6h-21.7zM1000.5 442.8h21.7v19.6h-21.7zM1129.2 442.8h21.7v19.6h-21.7zM271.6 462.1h21.7v19.6h-21.7zM486 462.1h21.7v19.6h-21.7zM593.2 462.1h21.7v19.6h-21.7zM721.8 462.1h21.7v19.6h-21.7zM807.6 462.1h21.7v19.6h-21.7zM871.9 462.1h21.7v19.6h-21.7zM1000.5 462.1h21.7v19.6h-21.7zM1129.2 462.1h21.7v19.6h-21.7zM271.6 481.4h21.7v19.6h-21.7zM486 481.4h21.7v19.6h-21.7zM807.6 481.4h21.7v19.6h-21.7zM871.9 481.4h21.7v19.6h-21.7zM678.9 500.7h21.7v19.6h-21.7zM721.8 500.7h21.7v19.6h-21.7zM807.6 500.7h21.7v19.6h-21.7zM335.9 520h21.7v19.6h-21.7zM357.3 520h21.7v19.6h-21.7zM486 520h21.7v19.6h-21.7zM721.8 520h21.7v19.6h-21.7zM807.6 520h21.7v19.6h-21.7zM614.6 539.3h21.7v19.6h-21.7zM678.9 539.3h21.7v19.6h-21.7zM721.8 539.3h21.7v19.6h-21.7zM807.6 539.3h21.7v19.6h-21.7zM1129.2 539.3h21.7v19.6h-21.7zM1129.2 558.6h21.7v19.6h-21.7zM486 577.9h21.7v19.6h-21.7zM871.9 577.9h21.7v19.6h-21.7zM1107.7 577.9h21.7v19.6h-21.7zM357.3 597.2h21.7v19.6h-21.7zM614.6 597.2h21.7v19.6h-21.7zM721.8 597.2h21.7v19.6h-21.7zM807.6 597.2h21.7v19.6h-21.7z" fill="rgb(255,0,0)"/>
<path d="M207.2 423.5V616.5M228.7 423.5V616.5M250.1 423.5V616.5M271.6 423.5V616.5M293 423.5V616.5M314.4 423.5V616.5M335.9 423.5V616.5M357.3 423.5V616.5M378.8 423.5V616.5M400.2 423.5V616.5M421.6 423.5V616.5M443.1 423.5V616.5M464.5 423.5V616.5M486 423.5V616.5M507.4 423.5V616.5M528.8 423.5V616.5M550.3 423.5V616.5M571.7 423.5V616.5M593.2 423.5V616.5M614.6 423.5V616.5M636 423.5V616.5M657.5 423.5V616.5M678.9 423.5V616.5M700.4 423.5V616.5M721.8 423.5V616.5M743.2 423.5V616.5M764.7 423.5V616.5M786.1 423.5V616.5M807.6 423.5V616.5M829 423.5V616.5M850.4 423.5V616.5M871.9 423.5V616.5M893.3 423.5V616.5M914.8 423.5V616.5M936.2 423.5V616.5M957.6 423.5V616.5M979.1 423.5V616.5M1000.5 423.5V616.5M1022 423.5V616.5M1043.4 423.5V616.5M1064.8 423.5V616.5M1086.3 423.5V616.5M1107.7 423.5V616.5M1129.2 423.5V616.5M1150.6 423.5V616.5M185.8 442.8H1172M185.8 462.1H1172M185.8 481.4H1172M185.8 500.7H1172M185.8 539.3H1172M185.8 558.6H1172M185.8 577.9H1172M185.8 597.2H1172" stroke="#222" stroke-width="1.1" fill="none"/>
<path d="M185.8 520H1172" stroke="#000" stroke-width="3" fill="none"/>
<rect x="185.8" y="423.5" width="986.2" height="193" fill="none" stroke="#000" stroke-width="3"/>
<path d="M185.8 616.5V623.5M207.2 616.5V623.5M228.7 616.5V623.5M250.1 616.5V623.5M271.6 616.5V623.5M293 616.5V623.5M314.4 616.5V623.5M335.9 616.5V623.5M357.3 616.5V623.5M378.8 616.5V623.5M400.2 616.5V623.5M421.6 616.5V623.5M443.1 616.5V623.5M464.5 616.5V623.5M486 616.5V623.5M507.4 616.5V623.5M528.8 616.5V623.5M550.3 616.5V623.5M571.7 616.5V623.5M593.2 616.5V623.5M614.6 616.5V623.5M636 616.5V623.5M657.5 616.5V623.5M678.9 616.5V623.5M700.4 616.5V623.5M721.8 616.5V623.5M743.2 616.5V623.5M764.7 616.5V623.5M786.1 616.5V623.5M807.6 616.5V623.5M829 616.5V623.5M850.4 616.5V623.5M871.9 616.5V623.5M893.3 616.5V623.5M914.8 616.5V623.5M936.2 616.5V623.5M957.6 616.5V623.5M979.1 616.5V623.5M1000.5 616.5V623.5M1022 616.5V623.5M1043.4 616.5V623.5M1064.8 616.5V623.5M1086.3 616.5V623.5M1107.7 616.5V623.5M1129.2 616.5V623.5M1150.6 616.5V623.5M1172 616.5V623.5" stroke="#333" stroke-width="1" fill="none"/>
<path d="M1192.2 423.5h21.7v19.6h-21.7zM1363.6 423.5h21.7v19.6h-21.7zM1427.8 423.5h21.7v19.6h-21.7zM1556.3 423.5h21.7v19.6h-21.7zM1663.4 423.5h21.7v19.6h-21.7zM1706.3 423.5h21.7v19.6h-21.7zM1277.9 442.8h21.7v19.6h-21.7zM1299.3 442.8h21.7v19.6h-21.7zM1427.8 442.8h21.7v19.6h-21.7zM1556.3 442.8h21.7v19.6h-21.7zM1663.4 442.8h21.7v19.6h-21.7zM1706.3 442.8h21.7v19.6h-21.7zM1192.2 462.1h21.7v19.6h-21.7zM1277.9 462.1h21.7v19.6h-21.7zM1363.6 462.1h21.7v19.6h-21.7zM1427.8 462.1h21.7v19.6h-21.7zM1556.3 462.1h21.7v19.6h-21.7zM1663.4 462.1h21.7v19.6h-21.7zM1706.3 462.1h21.7v19.6h-21.7zM1192.2 481.4h21.7v19.6h-21.7zM1256.5 481.4h21.7v19.6h-21.7zM1277.9 481.4h21.7v19.6h-21.7zM1299.3 481.4h21.7v19.6h-21.7zM1427.8 481.4h21.7v19.6h-21.7zM1556.3 481.4h21.7v19.6h-21.7zM1663.4 481.4h21.7v19.6h-21.7zM1706.3 481.4h21.7v19.6h-21.7zM1192.2 500.7h21.7v19.6h-21.7zM1363.6 500.7h21.7v19.6h-21.7zM1427.8 500.7h21.7v19.6h-21.7zM1556.3 500.7h21.7v19.6h-21.7zM1663.4 500.7h21.7v19.6h-21.7zM1706.3 500.7h21.7v19.6h-21.7zM1192.2 520h21.7v19.6h-21.7zM1256.5 520h21.7v19.6h-21.7zM1277.9 520h21.7v19.6h-21.7zM1320.7 520h21.7v19.6h-21.7zM1363.6 520h21.7v19.6h-21.7zM1470.7 520h21.7v19.6h-21.7zM1577.8 520h21.7v19.6h-21.7zM1620.6 520h21.7v19.6h-21.7zM1684.9 520h21.7v19.6h-21.7zM1192.2 539.3h21.7v19.6h-21.7zM1277.9 539.3h21.7v19.6h-21.7zM1320.7 539.3h21.7v19.6h-21.7zM1363.6 539.3h21.7v19.6h-21.7zM1427.8 539.3h21.7v19.6h-21.7zM1642 539.3h21.7v19.6h-21.7zM1663.4 539.3h21.7v19.6h-21.7zM1192.2 558.6h21.7v19.6h-21.7zM1256.5 558.6h21.7v19.6h-21.7zM1299.3 558.6h21.7v19.6h-21.7zM1385 558.6h21.7v19.6h-21.7zM1620.6 558.6h21.7v19.6h-21.7zM1684.9 558.6h21.7v19.6h-21.7zM1706.3 558.6h21.7v19.6h-21.7zM1192.2 597.2h21.7v19.6h-21.7zM1235 597.2h21.7v19.6h-21.7zM1470.7 597.2h21.7v19.6h-21.7zM1663.4 597.2h21.7v19.6h-21.7z" fill="rgb(255,236,236)"/>
<path d="M1277.9 423.5h21.7v19.6h-21.7zM1299.3 423.5h21.7v19.6h-21.7zM1513.5 423.5h21.7v19.6h-21.7zM1620.6 423.5h21.7v19.6h-21.7zM1642 423.5h21.7v19.6h-21.7zM1192.2 442.8h21.7v19.6h-21.7zM1320.7 442.8h21.7v19.6h-21.7zM1363.6 442.8h21.7v19.6h-21.7zM1470.7 442.8h21.7v19.6h-21.7zM1577.8 442.8h21.7v19.6h-21.7zM1620.6 442.8h21.7v19.6h-21.7zM1642 442.8h21.7v19.6h-21.7zM1299.3 462.1h21.7v19.6h-21.7zM1385 462.1h21.7v19.6h-21.7zM1470.7 462.1h21.7v19.6h-21.7zM1577.8 462.1h21.7v19.6h-21.7zM1620.6 462.1h21.7v19.6h-21.7zM1235 481.4h21.7v19.6h-21.7zM1470.7 481.4h21.7v19.6h-21.7zM1577.8 481.4h21.7v19.6h-21.7zM1620.6 481.4h21.7v19.6h-21.7zM1642 481.4h21.7v19.6h-21.7zM1277.9 500.7h21.7v19.6h-21.7zM1299.3 500.7h21.7v19.6h-21.7zM1320.7 500.7h21.7v19.6h-21.7zM1385 500.7h21.7v19.6h-21.7zM1470.7 500.7h21.7v19.6h-21.7zM1577.8 500.7h21.7v19.6h-21.7zM1620.6 500.7h21.7v19.6h-21.7zM1213.6 520h21.7v19.6h-21.7zM1299.3 520h21.7v19.6h-21.7zM1342.1 520h21.7v19.6h-21.7zM1385 520h21.7v19.6h-21.7zM1213.6 539.3h21.7v19.6h-21.7zM1299.3 539.3h21.7v19.6h-21.7zM1385 539.3h21.7v19.6h-21.7zM1470.7 539.3h21.7v19.6h-21.7zM1492.1 539.3h21.7v19.6h-21.7zM1513.5 539.3h21.7v19.6h-21.7zM1577.8 539.3h21.7v19.6h-21.7zM1620.6 539.3h21.7v19.6h-21.7zM1492.1 558.6h21.7v19.6h-21.7zM1427.8 597.2h21.7v19.6h-21.7zM1577.8 597.2h21.7v19.6h-21.7z" fill="rgb(255,212,212)"/>
<path d="M1256.5 423.5h21.7v19.6h-21.7zM1320.7 423.5h21.7v19.6h-21.7zM1385 423.5h21.7v19.6h-21.7zM1470.7 423.5h21.7v19.6h-21.7zM1577.8 423.5h21.7v19.6h-21.7zM1213.6 442.8h21.7v19.6h-21.7zM1256.5 442.8h21.7v19.6h-21.7zM1385 442.8h21.7v19.6h-21.7zM1513.5 442.8h21.7v19.6h-21.7zM1256.5 462.1h21.7v19.6h-21.7zM1320.7 462.1h21.7v19.6h-21.7zM1642 462.1h21.7v19.6h-21.7zM1320.7 481.4h21.7v19.6h-21.7zM1513.5 481.4h21.7v19.6h-21.7zM1256.5 500.7h21.7v19.6h-21.7zM1449.2 500.7h21.7v19.6h-21.7zM1492.1 500.7h21.7v19.6h-21.7zM1642 500.7h21.7v19.6h-21.7zM1235 539.3h21.7v19.6h-21.7zM1256.5 539.3h21.7v19.6h-21.7zM1449.2 539.3h21.7v19.6h-21.7zM1684.9 539.3h21.7v19.6h-21.7zM1706.3 539.3h21.7v19.6h-21.7zM1213.6 558.6h21.7v19.6h-21.7zM1235 558.6h21.7v19.6h-21.7zM1320.7 558.6h21.7v19.6h-21.7zM1577.8 558.6h21.7v19.6h-21.7zM1449.2 577.9h21.7v19.6h-21.7zM1470.7 577.9h21.7v19.6h-21.7zM1256.5 597.2h21.7v19.6h-21.7zM1299.3 597.2h21.7v19.6h-21.7zM1449.2 597.2h21.7v19.6h-21.7zM1492.1 597.2h21.7v19.6h-21.7zM1513.5 597.2h21.7v19.6h-21.7z" fill="rgb(255,182,182)"/>
<path d="M1406.4 423.5h21.7v19.6h-21.7zM1449.2 423.5h21.7v19.6h-21.7zM1492.1 423.5h21.7v19.6h-21.7zM1534.9 423.5h21.7v19.6h-21.7zM1684.9 423.5h21.7v19.6h-21.7zM1235 442.8h21.7v19.6h-21.7zM1449.2 442.8h21.7v19.6h-21.7zM1684.9 442.8h21.7v19.6h-21.7zM1213.6 462.1h21.7v19.6h-21.7zM1235 462.1h21.7v19.6h-21.7zM1449.2 462.1h21.7v19.6h-21.7zM1492.1 462.1h21.7v19.6h-21.7zM1513.5 462.1h21.7v19.6h-21.7zM1684.9 462.1h21.7v19.6h-21.7zM1213.6 481.4h21.7v19.6h-21.7zM1385 481.4h21.7v19.6h-21.7zM1449.2 481.4h21.7v19.6h-21.7zM1492.1 481.4h21.7v19.6h-21.7zM1684.9 481.4h21.7v19.6h-21.7zM1213.6 500.7h21.7v19.6h-21.7zM1235 500.7h21.7v19.6h-21.7zM1342.1 500.7h21.7v19.6h-21.7zM1513.5 500.7h21.7v19.6h-21.7zM1684.9 500.7h21.7v19.6h-21.7zM1427.8 520h21.7v19.6h-21.7zM1449.2 520h21.7v19.6h-21.7zM1492.1 520h21.7v19.6h-21.7zM1599.2 520h21.7v19.6h-21.7zM1342.1 539.3h21.7v19.6h-21.7zM1342.1 558.6h21.7v19.6h-21.7zM1213.6 597.2h21.7v19.6h-21.7z" fill="rgb(255,148,148)"/>
<path d="M1213.6 423.5h21.7v19.6h-21.7zM1342.1 423.5h21.7v19.6h-21.7zM1599.2 423.5h21.7v19.6h-21.7zM1342.1 442.8h21.7v19.6h-21.7zM1406.4 442.8h21.7v19.6h-21.7zM1492.1 442.8h21.7v19.6h-21.7zM1534.9 442.8h21.7v19.6h-21.7zM1342.1 462.1h21.7v19.6h-21.7zM1406.4 462.1h21.7v19.6h-21.7zM1534.9 462.1h21.7v19.6h-21.7zM1406.4 500.7h21.7v19.6h-21.7zM1534.9 500.7h21.7v19.6h-21.7zM1599.2 539.3h21.7v19.6h-21.7zM1534.9 577.9h21.7v19.6h-21.7z" fill="rgb(255,120,120)"/>
<path d="M1235 423.5h21.7v19.6h-21.7zM1534.9 481.4h21.7v19.6h-21.7zM1449.2 558.6h21.7v19.6h-21.7zM1599.2 558.6h21.7v19.6h-21.7z" fill="rgb(255,94,94)"/>
<path d="M1599.2 442.8h21.7v19.6h-21.7zM1342.1 481.4h21.7v19.6h-21.7zM1406.4 481.4h21.7v19.6h-21.7zM1599.2 500.7h21.7v19.6h-21.7zM1342.1 597.2h21.7v19.6h-21.7zM1599.2 597.2h21.7v19.6h-21.7zM1684.9 597.2h21.7v19.6h-21.7z" fill="rgb(255,64,64)"/>
<path d="M1599.2 481.4h21.7v19.6h-21.7z" fill="rgb(255,32,32)"/>
<path d="M1599.2 462.1h21.7v19.6h-21.7zM1235 520h21.7v19.6h-21.7zM1406.4 520h21.7v19.6h-21.7zM1534.9 520h21.7v19.6h-21.7zM1406.4 539.3h21.7v19.6h-21.7zM1534.9 539.3h21.7v19.6h-21.7zM1406.4 558.6h21.7v19.6h-21.7zM1534.9 558.6h21.7v19.6h-21.7zM1213.6 577.9h21.7v19.6h-21.7zM1599.2 577.9h21.7v19.6h-21.7zM1684.9 577.9h21.7v19.6h-21.7zM1406.4 597.2h21.7v19.6h-21.7zM1534.9 597.2h21.7v19.6h-21.7z" fill="rgb(255,0,0)"/>
<path d="M1213.6 423.5V616.5M1235 423.5V616.5M1256.5 423.5V616.5M1277.9 423.5V616.5M1299.3 423.5V616.5M1320.7 423.5V616.5M1342.1 423.5V616.5M1363.6 423.5V616.5M1385 423.5V616.5M1406.4 423.5V616.5M1427.8 423.5V616.5M1449.2 423.5V616.5M1470.7 423.5V616.5M1492.1 423.5V616.5M1513.5 423.5V616.5M1534.9 423.5V616.5M1556.3 423.5V616.5M1577.8 423.5V616.5M1599.2 423.5V616.5M1620.6 423.5V616.5M1642 423.5V616.5M1663.4 423.5V616.5M1684.9 423.5V616.5M1706.3 423.5V616.5M1192.2 442.8H1727.7M1192.2 462.1H1727.7M1192.2 481.4H1727.7M1192.2 500.7H1727.7M1192.2 539.3H1727.7M1192.2 558.6H1727.7M1192.2 577.9H1727.7M1192.2 597.2H1727.7" stroke="#222" stroke-width="1.1" fill="none"/>
<path d="M1192.2 520H1727.7" stroke="#000" stroke-width="3" fill="none"/>
<rect x="1192.2" y="423.5" width="535.5" height="193" fill="none" stroke="#000" stroke-width="3"/>
<path d="M1192.2 616.5V623.5M1213.6 616.5V623.5M1235 616.5V623.5M1256.5 616.5V623.5M1277.9 616.5V623.5M1299.3 616.5V623.5M1320.7 616.5V623.5M1342.1 616.5V623.5M1363.6 616.5V623.5M1385 616.5V623.5M1406.4 616.5V623.5M1427.8 616.5V623.5M1449.2 616.5V623.5M1470.7 616.5V623.5M1492.1 616.5V623.5M1513.5 616.5V623.5M1534.9 616.5V623.5M1556.3 616.5V623.5M1577.8 616.5V623.5M1599.2 616.5V623.5M1620.6 616.5V623.5M1642 616.5V623.5M1663.4 616.5V623.5M1684.9 616.5V623.5M1706.3 616.5V623.5M1727.7 616.5V623.5" stroke="#333" stroke-width="1" fill="none"/>
<path d="M1747.6 423.5h21.6v19.6h-21.6zM1768.8 423.5h21.6v19.6h-21.6zM1747.6 442.8h21.6v19.6h-21.6zM1768.8 442.8h21.6v19.6h-21.6zM1747.6 462.1h21.6v19.6h-21.6zM1768.8 462.1h21.6v19.6h-21.6zM1747.6 481.4h21.6v19.6h-21.6zM1768.8 481.4h21.6v19.6h-21.6zM1747.6 500.7h21.6v19.6h-21.6zM1768.8 500.7h21.6v19.6h-21.6zM1832.6 520h21.6v19.6h-21.6zM1853.8 520h21.6v19.6h-21.6zM1747.6 539.3h21.6v19.6h-21.6zM1790.1 577.9h21.6v19.6h-21.6zM1853.8 577.9h21.6v19.6h-21.6zM1747.6 597.2h21.6v19.6h-21.6z" fill="rgb(255,236,236)"/>
<path d="M1768.8 520h21.6v19.6h-21.6zM1832.6 539.3h21.6v19.6h-21.6zM1853.8 539.3h21.6v19.6h-21.6zM1768.8 597.2h21.6v19.6h-21.6zM1832.6 597.2h21.6v19.6h-21.6zM1853.8 597.2h21.6v19.6h-21.6z" fill="rgb(255,212,212)"/>
<path d="M1768.8 539.3h21.6v19.6h-21.6z" fill="rgb(255,182,182)"/>
<path d="M1790.1 423.5h21.6v19.6h-21.6zM1747.6 558.6h21.6v19.6h-21.6z" fill="rgb(255,148,148)"/>
<path d="M1832.6 423.5h21.6v19.6h-21.6zM1790.1 442.8h21.6v19.6h-21.6zM1832.6 442.8h21.6v19.6h-21.6zM1790.1 462.1h21.6v19.6h-21.6zM1832.6 462.1h21.6v19.6h-21.6zM1790.1 481.4h21.6v19.6h-21.6zM1832.6 481.4h21.6v19.6h-21.6zM1790.1 500.7h21.6v19.6h-21.6zM1832.6 500.7h21.6v19.6h-21.6zM1790.1 520h21.6v19.6h-21.6zM1768.8 558.6h21.6v19.6h-21.6zM1832.6 558.6h21.6v19.6h-21.6z" fill="rgb(255,120,120)"/>
<path d="M1790.1 558.6h21.6v19.6h-21.6z" fill="rgb(255,94,94)"/>
<path d="M1853.8 481.4h21.6v19.6h-21.6zM1790.1 597.2h21.6v19.6h-21.6z" fill="rgb(255,64,64)"/>
<path d="M1853.8 442.8h21.6v19.6h-21.6zM1853.8 462.1h21.6v19.6h-21.6zM1853.8 500.7h21.6v19.6h-21.6zM1790.1 539.3h21.6v19.6h-21.6z" fill="rgb(255,32,32)"/>
<path d="M1811.3 423.5h21.6v19.6h-21.6zM1853.8 423.5h21.6v19.6h-21.6zM1811.3 442.8h21.6v19.6h-21.6zM1811.3 462.1h21.6v19.6h-21.6zM1811.3 481.4h21.6v19.6h-21.6zM1811.3 500.7h21.6v19.6h-21.6zM1811.3 520h21.6v19.6h-21.6zM1811.3 539.3h21.6v19.6h-21.6zM1811.3 558.6h21.6v19.6h-21.6zM1811.3 577.9h21.6v19.6h-21.6zM1811.3 597.2h21.6v19.6h-21.6z" fill="rgb(255,0,0)"/>
<path d="M1768.8 423.5V616.5M1790.1 423.5V616.5M1811.3 423.5V616.5M1832.6 423.5V616.5M1853.8 423.5V616.5M1747.6 442.8H1875.1M1747.6 462.1H1875.1M1747.6 481.4H1875.1M1747.6 500.7H1875.1M1747.6 539.3H1875.1M1747.6 558.6H1875.1M1747.6 577.9H1875.1M1747.6 597.2H1875.1" stroke="#222" stroke-width="1.1" fill="none"/>
<path d="M1747.6 520H1875.1" stroke="#000" stroke-width="3" fill="none"/>
<rect x="1747.6" y="423.5" width="127.5" height="193" fill="none" stroke="#000" stroke-width="3"/>
<path d="M1747.6 616.5V623.5M1768.8 616.5V623.5M1790.1 616.5V623.5M1811.3 616.5V623.5M1832.6 616.5V623.5M1853.8 616.5V623.5M1875.1 616.5V623.5" stroke="#333" stroke-width="1" fill="none"/>
<text x="177.8" y="447" font-size="20" text-anchor="end" fill="#2b2b2b">C3</text>
<text x="177.8" y="466.8" font-size="20" text-anchor="end" fill="#2b2b2b">C4</text>
<text x="177.8" y="486.5" font-size="20" text-anchor="end" fill="#2b2b2b">C7</text>
<text x="177.8" y="506.2" font-size="20" text-anchor="end" fill="#2b2b2b">C17</text>
<text x="177.8" y="526" font-size="20" text-anchor="end" fill="#2b2b2b">C19</text>
<text x="177.8" y="545.8" font-size="20" text-anchor="end" fill="#dc4550">P9</text>
<text x="177.8" y="565.5" font-size="20" text-anchor="end" fill="#dc4550">P12</text>
<text x="177.8" y="585.2" font-size="20" text-anchor="end" fill="#dc4550">P13</text>
<text x="177.8" y="605" font-size="20" text-anchor="end" fill="#dc4550">P14</text>
<text x="177.8" y="624.8" font-size="20" text-anchor="end" fill="#dc4550">P16</text>
<text x="1165.8" y="421" font-size="13.5" text-anchor="start" fill="#000" transform="rotate(-90 1165.8 421)">0.017</text>
<text x="1335.9" y="421" font-size="13.5" text-anchor="start" fill="#000" transform="rotate(-90 1335.9 421)">0.035</text>
<text x="1657.2" y="421" font-size="13.5" text-anchor="start" fill="#000" transform="rotate(-90 1657.2 421)">0.010</text>
<text x="1826.5" y="421" font-size="13.5" text-anchor="start" fill="#000" transform="rotate(-90 1826.5 421)">0.023</text>
<text x="1847.7" y="421" font-size="13.5" text-anchor="start" fill="#000" transform="rotate(-90 1847.7 421)">0.0001</text>
<text x="1869" y="421" font-size="13.5" text-anchor="start" fill="#000" transform="rotate(-90 1869 421)">0.002</text>
<path d="M179.5 657.9V755.7" stroke="#000" stroke-width="4.4" fill="none"/>
<path d="M179.5 658.9H173M179.5 690.8H173M179.5 722.8H173M179.5 754.7H173" stroke="#000" stroke-width="2.2" fill="none"/>
<path d="M179.5 681.2H176.2M179.5 675.6H176.2M179.5 671.6H176.2M179.5 668.5H176.2M179.5 666H176.2M179.5 663.8H176.2M179.5 662H176.2M179.5 660.4H176.2M179.5 713.1H176.2M179.5 707.5H176.2M179.5 703.5H176.2M179.5 700.4H176.2M179.5 697.9H176.2M179.5 695.8H176.2M179.5 693.9H176.2M179.5 692.3H176.2M179.5 745.1H176.2M179.5 739.5H176.2M179.5 735.5H176.2M179.5 732.4H176.2M179.5 729.8H176.2M179.5 727.7H176.2M179.5 725.9H176.2M179.5 724.2H176.2" stroke="#000" stroke-width="1.5" fill="none"/>
<text x="165.6" y="667.5" font-size="26.4" text-anchor="end" fill="#000">100</text>
<text x="165.6" y="699.4" font-size="26.4" text-anchor="end" fill="#000">10</text>
<text x="165.6" y="731.4" font-size="26.4" text-anchor="end" fill="#000">1</text>
<text x="165.6" y="763.3" font-size="26.4" text-anchor="end" fill="#000">0.1</text>
<path d="M194.7 722.3H1158.6" stroke="#000" stroke-width="2.6" fill="none"/>
<path d="M194.7 722.3h0M216.1 722.3h0M237.5 722.3h0M259 722.3h0M280.4 722.3h0M301.8 722.3h0M323.2 722.3h0M344.6 722.3h0M366.1 722.3h0M387.5 722.3h0M408.9 722.3h0M430.3 722.3h0M451.7 722.3h0M473.2 722.3h0M494.6 722.3h0M516 722.3h0M537.4 722.3h0M558.8 722.3h0M580.3 722.3h0M601.7 722.3h0M623.1 722.3h0M644.5 722.3h0M665.9 722.3h0M687.4 722.3h0M708.8 722.3h0M730.2 722.3h0M751.6 722.3h0M773 722.3h0M794.5 722.3h0M815.9 722.3h0M837.3 722.3h0M858.7 722.3h0M880.1 722.3h0M901.6 722.3h0M923 722.3h0M944.4 722.3h0M965.8 722.3h0M987.2 722.3h0M1008.7 722.3h0M1030.1 722.3h0M1051.5 722.3h0M1072.9 722.3h0M1094.3 722.3h0M1115.8 722.3h0M1137.2 722.3h0M1158.6 722.3h0" stroke="#000" stroke-width="4.8" stroke-linecap="round" fill="none"/>
<path d="M1201.7 722.3H1716.5" stroke="#000" stroke-width="2.6" fill="none"/>
<path d="M1201.7 722.3h0M1223.2 722.3h0M1244.6 722.3h0M1266 722.3h0M1287.5 722.3h0M1309 722.3h0M1330.4 722.3h0M1351.9 722.3h0M1373.3 722.3h0M1394.8 722.3h0M1416.2 722.3h0M1437.7 722.3h0M1459.1 722.3h0M1480.5 722.3h0M1502 722.3h0M1523.5 722.3h0M1544.9 722.3h0M1566.3 722.3h0M1587.8 722.3h0M1609.2 722.3h0M1630.7 722.3h0M1652.2 722.3h0M1673.6 722.3h0M1695 722.3h0M1716.5 722.3h0" stroke="#000" stroke-width="4.8" stroke-linecap="round" fill="none"/>
<path d="M1758.9 722.3H1865.7" stroke="#000" stroke-width="2.6" fill="none"/>
<path d="M1758.9 722.3h0M1780.3 722.3h0M1801.6 722.3h0M1823 722.3h0M1844.3 722.3h0M1865.7 722.3h0" stroke="#000" stroke-width="4.8" stroke-linecap="round" fill="none"/>
<path d="M194.7 709.8L216.1 702L237.5 705.8L259 726.4L280.4 735.8L301.8 720.2L323.2 718.6L344.6 725.5L366.1 727.7L387.5 723.3L408.9 717.7L430.3 717.7L451.7 726.4L473.2 719.2L494.6 721.4L516 732.7L537.4 717.7L558.8 723.3L580.3 720.8L601.7 721.7L623.1 720.2L644.5 724.5L665.9 731.8L687.4 724.5L708.8 728.6L730.2 717L751.6 720.8L773 720.2L794.5 738.3L815.9 721.4L837.3 720.8L858.7 708.3L880.1 725.2L901.6 718.3L923 722.7L944.4 720.8L965.8 730.5L987.2 719.5L1008.7 726.4L1030.1 712.3L1051.5 722.4L1072.9 702.6L1094.3 725.2L1115.8 717L1137.2 717L1158.6 720.2" stroke="#9a9a9a" stroke-width="2.4" fill="none" stroke-linejoin="round"/>
<path d="M1201.7 723.9L1223.2 720.8L1244.6 725.2L1266 720.8L1287.5 720.8L1309 718.6L1330.4 724.3L1351.9 722.1L1373.3 715.5L1394.8 722.1L1416.2 720.4L1437.7 721.7L1459.1 723L1480.5 723L1502 723.9L1523.5 724.3L1544.9 719.9L1566.3 721.7L1587.8 723L1609.2 723.9L1630.7 720.8L1652.2 721.7L1673.6 718.6L1695 725.2L1716.5 716.4" stroke="#9a9a9a" stroke-width="2.4" fill="none" stroke-linejoin="round"/>
<path d="M1758.9 720.8L1780.3 721.7L1801.6 723.9L1823 719.9L1844.3 721.7L1865.7 726.5" stroke="#9a9a9a" stroke-width="2.4" fill="none" stroke-linejoin="round"/>
<path d="M194.7 714.5L216.1 718.3L237.5 729.6L259 734.3L280.4 744.9L301.8 707.6L323.2 710.8L344.6 731.8L366.1 724.5L387.5 737.1L408.9 724.5L430.3 724.5L451.7 732.4L473.2 726.4L494.6 734.9L516 714.5L537.4 710.8L558.8 727.7L580.3 753.7L601.7 723.3L623.1 722.7L644.5 725.8L665.9 719.8L687.4 720.2L708.8 732.7L730.2 719.2L751.6 704.2L773 728L794.5 747.4L815.9 722.4L837.3 731.4L858.7 707.6L880.1 731.1L901.6 731.8L923 744.9L944.4 723.3L965.8 709.5L987.2 723.9L1008.7 734.9L1030.1 718.9L1051.5 728.9L1072.9 749.6L1094.3 732.7L1115.8 730.2L1137.2 697.3L1158.6 713" stroke="#e98a8a" stroke-width="2.4" fill="none" stroke-linejoin="round"/>
<path d="M1201.7 723.9L1223.2 730.4L1244.6 732.6L1266 725.2L1287.5 734.8L1309 723L1330.4 734.8L1351.9 726L1373.3 726.5L1394.8 728.7L1416.2 710.7L1437.7 720.8L1459.1 727.8L1480.5 723.9L1502 733.1L1523.5 733.1L1544.9 708.9L1566.3 728.7L1587.8 726L1609.2 727.8L1630.7 724.3L1652.2 733.1L1673.6 716.4L1695 726.9L1716.5 695.4" stroke="#e98a8a" stroke-width="2.4" fill="none" stroke-linejoin="round"/>
<path d="M1758.9 713.3L1780.3 702.4L1801.6 713.3L1823 719.5L1844.3 739.6L1865.7 745.8" stroke="#e98a8a" stroke-width="2.4" fill="none" stroke-linejoin="round"/>
<path d="M237.5 705.8V696.4m-5 0h10M237.5 705.8V715.2m-5 0h10M259 726.4V720.5m-5 0h10M259 726.4V732.3m-5 0h10M280.4 735.8V728.4m-5 0h10M280.4 735.8V743.2m-5 0h10M323.2 718.6V713.4m-5 0h10M323.2 718.6V723.8m-5 0h10M387.5 723.3V713.4m-5 0h10M387.5 723.3V733.2m-5 0h10M408.9 717.7V707.9m-5 0h10M408.9 717.7V727.5m-5 0h10M494.6 721.4V713.1m-5 0h10M494.6 721.4V729.7m-5 0h10M516 732.7V720.8m-5 0h10M516 732.7V744.6m-5 0h10M580.3 720.8V713.8m-5 0h10M580.3 720.8V727.8m-5 0h10M730.2 717V707.3m-5 0h10M730.2 717V726.7m-5 0h10M751.6 720.8V715.5m-5 0h10M751.6 720.8V726.1m-5 0h10M773 720.2V712.7m-5 0h10M773 720.2V727.7m-5 0h10M794.5 738.3V727.1m-5 0h10M794.5 738.3V749.5m-5 0h10M837.3 720.8V707.4m-5 0h10M837.3 720.8V734.2m-5 0h10M901.6 718.3V711.3m-5 0h10M901.6 718.3V725.3m-5 0h10M923 722.7V715.9m-5 0h10M923 722.7V729.5m-5 0h10M944.4 720.8V710.2m-5 0h10M944.4 720.8V731.4m-5 0h10M1008.7 726.4V715.5m-5 0h10M1008.7 726.4V737.3m-5 0h10M1051.5 722.4V711.5m-5 0h10M1051.5 722.4V733.3m-5 0h10M1137.2 717V710.4m-5 0h10M1137.2 717V723.6m-5 0h10" stroke="#111" stroke-width="1.6" fill="none"/>
<g fill="#999999" stroke="#111" stroke-width="1.4"><circle cx="194.7" cy="709.8" r="5.3"/><circle cx="216.1" cy="702" r="5.3"/><circle cx="237.5" cy="705.8" r="5.3"/><circle cx="259" cy="726.4" r="5.3"/><circle cx="280.4" cy="735.8" r="5.3"/><circle cx="301.8" cy="720.2" r="5.3"/><circle cx="323.2" cy="718.6" r="5.3"/><circle cx="344.6" cy="725.5" r="5.3"/><circle cx="366.1" cy="727.7" r="5.3"/><circle cx="387.5" cy="723.3" r="5.3"/><circle cx="408.9" cy="717.7" r="5.3"/><circle cx="430.3" cy="717.7" r="5.3"/><circle cx="451.7" cy="726.4" r="5.3"/><circle cx="473.2" cy="719.2" r="5.3"/><circle cx="494.6" cy="721.4" r="5.3"/><circle cx="516" cy="732.7" r="5.3"/><circle cx="537.4" cy="717.7" r="5.3"/><circle cx="558.8" cy="723.3" r="5.3"/><circle cx="580.3" cy="720.8" r="5.3"/><circle cx="601.7" cy="721.7" r="5.3"/><circle cx="623.1" cy="720.2" r="5.3"/><circle cx="644.5" cy="724.5" r="5.3"/><circle cx="665.9" cy="731.8" r="5.3"/><circle cx="687.4" cy="724.5" r="5.3"/><circle cx="708.8" cy="728.6" r="5.3"/><circle cx="730.2" cy="717" r="5.3"/><circle cx="751.6" cy="720.8" r="5.3"/><circle cx="773" cy="720.2" r="5.3"/><circle cx="794.5" cy="738.3" r="5.3"/><circle cx="815.9" cy="721.4" r="5.3"/><circle cx="837.3" cy="720.8" r="5.3"/><circle cx="858.7" cy="708.3" r="5.3"/><circle cx="880.1" cy="725.2" r="5.3"/><circle cx="901.6" cy="718.3" r="5.3"/><circle cx="923" cy="722.7" r="5.3"/><circle cx="944.4" cy="720.8" r="5.3"/><circle cx="965.8" cy="730.5" r="5.3"/><circle cx="987.2" cy="719.5" r="5.3"/><circle cx="1008.7" cy="726.4" r="5.3"/><circle cx="1030.1" cy="712.3" r="5.3"/><circle cx="1051.5" cy="722.4" r="5.3"/><circle cx="1072.9" cy="702.6" r="5.3"/><circle cx="1094.3" cy="725.2" r="5.3"/><circle cx="1115.8" cy="717" r="5.3"/><circle cx="1137.2" cy="717" r="5.3"/><circle cx="1158.6" cy="720.2" r="5.3"/></g>
<path d="M194.7 714.5V705.5m-5 0h10M323.2 710.8V705.2m-5 0h10M344.6 731.8V722.3m-5 0h10M387.5 737.1V728m-5 0h10M494.6 734.9V729.8m-5 0h10M665.9 719.8V713.5m-5 0h10M687.4 720.2V714m-5 0h10M730.2 719.2V712.1m-5 0h10M751.6 704.2V694.6m-5 0h10M965.8 709.5V702.3m-5 0h10M987.2 723.9V718.9m-5 0h10M1030.1 718.9V711.5m-5 0h10M1094.3 732.7V725.1m-5 0h10M1158.6 713V705.2m-5 0h10" stroke="#111" stroke-width="1.6" fill="none"/>
<g fill="#f08888" stroke="#111" stroke-width="1.4"><circle cx="194.7" cy="714.5" r="5.3"/><circle cx="216.1" cy="718.3" r="5.3"/><circle cx="237.5" cy="729.6" r="5.3"/><circle cx="259" cy="734.3" r="5.3"/><circle cx="280.4" cy="744.9" r="5.3"/><circle cx="301.8" cy="707.6" r="5.3"/><circle cx="323.2" cy="710.8" r="5.3"/><circle cx="344.6" cy="731.8" r="5.3"/><circle cx="366.1" cy="724.5" r="5.3"/><circle cx="387.5" cy="737.1" r="5.3"/><circle cx="408.9" cy="724.5" r="5.3"/><circle cx="430.3" cy="724.5" r="5.3"/><circle cx="451.7" cy="732.4" r="5.3"/><circle cx="473.2" cy="726.4" r="5.3"/><circle cx="494.6" cy="734.9" r="5.3"/><circle cx="516" cy="714.5" r="5.3"/><circle cx="537.4" cy="710.8" r="5.3"/><circle cx="558.8" cy="727.7" r="5.3"/><circle cx="580.3" cy="753.7" r="5.3"/><circle cx="601.7" cy="723.3" r="5.3"/><circle cx="623.1" cy="722.7" r="5.3"/><circle cx="644.5" cy="725.8" r="5.3"/><circle cx="665.9" cy="719.8" r="5.3"/><circle cx="687.4" cy="720.2" r="5.3"/><circle cx="708.8" cy="732.7" r="5.3"/><circle cx="730.2" cy="719.2" r="5.3"/><circle cx="751.6" cy="704.2" r="5.3"/><circle cx="773" cy="728" r="5.3"/><circle cx="794.5" cy="747.4" r="5.3"/><circle cx="815.9" cy="722.4" r="5.3"/><circle cx="837.3" cy="731.4" r="5.3"/><circle cx="858.7" cy="707.6" r="5.3"/><circle cx="880.1" cy="731.1" r="5.3"/><circle cx="901.6" cy="731.8" r="5.3"/><circle cx="923" cy="744.9" r="5.3"/><circle cx="944.4" cy="723.3" r="5.3"/><circle cx="965.8" cy="709.5" r="5.3"/><circle cx="987.2" cy="723.9" r="5.3"/><circle cx="1008.7" cy="734.9" r="5.3"/><circle cx="1030.1" cy="718.9" r="5.3"/><circle cx="1051.5" cy="728.9" r="5.3"/><circle cx="1072.9" cy="749.6" r="5.3"/><circle cx="1094.3" cy="732.7" r="5.3"/><circle cx="1115.8" cy="730.2" r="5.3"/><circle cx="1137.2" cy="697.3" r="5.3"/><circle cx="1158.6" cy="713" r="5.3"/></g>
<g fill="#999999" stroke="#111" stroke-width="1.4"><circle cx="1201.7" cy="723.9" r="5.3"/><circle cx="1223.2" cy="720.8" r="5.3"/><circle cx="1244.6" cy="725.2" r="5.3"/><circle cx="1266" cy="720.8" r="5.3"/><circle cx="1287.5" cy="720.8" r="5.3"/><circle cx="1309" cy="718.6" r="5.3"/><circle cx="1330.4" cy="724.3" r="5.3"/><circle cx="1351.9" cy="722.1" r="5.3"/><circle cx="1373.3" cy="715.5" r="5.3"/><circle cx="1394.8" cy="722.1" r="5.3"/><circle cx="1416.2" cy="720.4" r="5.3"/><circle cx="1437.7" cy="721.7" r="5.3"/><circle cx="1459.1" cy="723" r="5.3"/><circle cx="1480.5" cy="723" r="5.3"/><circle cx="1502" cy="723.9" r="5.3"/><circle cx="1523.5" cy="724.3" r="5.3"/><circle cx="1544.9" cy="719.9" r="5.3"/><circle cx="1566.3" cy="721.7" r="5.3"/><circle cx="1587.8" cy="723" r="5.3"/><circle cx="1609.2" cy="723.9" r="5.3"/><circle cx="1630.7" cy="720.8" r="5.3"/><circle cx="1652.2" cy="721.7" r="5.3"/><circle cx="1673.6" cy="718.6" r="5.3"/><circle cx="1695" cy="725.2" r="5.3"/><circle cx="1716.5" cy="716.4" r="5.3"/></g>
<g fill="#f08888" stroke="#111" stroke-width="1.4"><circle cx="1201.7" cy="723.9" r="5.3"/><circle cx="1223.2" cy="730.4" r="5.3"/><circle cx="1244.6" cy="732.6" r="5.3"/><circle cx="1266" cy="725.2" r="5.3"/><circle cx="1287.5" cy="734.8" r="5.3"/><circle cx="1309" cy="723" r="5.3"/><circle cx="1330.4" cy="734.8" r="5.3"/><circle cx="1351.9" cy="726" r="5.3"/><circle cx="1373.3" cy="726.5" r="5.3"/><circle cx="1394.8" cy="728.7" r="5.3"/><circle cx="1416.2" cy="710.7" r="5.3"/><circle cx="1437.7" cy="720.8" r="5.3"/><circle cx="1459.1" cy="727.8" r="5.3"/><circle cx="1480.5" cy="723.9" r="5.3"/><circle cx="1502" cy="733.1" r="5.3"/><circle cx="1523.5" cy="733.1" r="5.3"/><circle cx="1544.9" cy="708.9" r="5.3"/><circle cx="1566.3" cy="728.7" r="5.3"/><circle cx="1587.8" cy="726" r="5.3"/><circle cx="1609.2" cy="727.8" r="5.3"/><circle cx="1630.7" cy="724.3" r="5.3"/><circle cx="1652.2" cy="733.1" r="5.3"/><circle cx="1673.6" cy="716.4" r="5.3"/><circle cx="1695" cy="726.9" r="5.3"/><circle cx="1716.5" cy="695.4" r="5.3"/></g>
<g fill="#999999" stroke="#111" stroke-width="1.4"><circle cx="1758.9" cy="720.8" r="5.3"/><circle cx="1780.3" cy="721.7" r="5.3"/><circle cx="1801.6" cy="723.9" r="5.3"/><circle cx="1823" cy="719.9" r="5.3"/><circle cx="1844.3" cy="721.7" r="5.3"/><circle cx="1865.7" cy="726.5" r="5.3"/></g>
<g fill="#f08888" stroke="#111" stroke-width="1.4"><circle cx="1758.9" cy="713.3" r="5.3"/><circle cx="1780.3" cy="702.4" r="5.3"/><circle cx="1801.6" cy="713.3" r="5.3"/><circle cx="1823" cy="719.5" r="5.3"/><circle cx="1844.3" cy="739.6" r="5.3"/><circle cx="1865.7" cy="745.8" r="5.3"/></g>
<path d="M207.2 788.3h21.7v19.6h-21.7zM443.1 788.3h21.7v19.6h-21.7zM528.8 788.3h21.7v19.6h-21.7zM571.7 788.3h21.7v19.6h-21.7zM786.1 788.3h21.7v19.6h-21.7zM850.4 788.3h21.7v19.6h-21.7zM914.8 788.3h21.7v19.6h-21.7zM957.6 788.3h21.7v19.6h-21.7zM1086.3 788.3h21.7v19.6h-21.7zM207.2 807.6h21.7v19.6h-21.7zM314.4 807.6h21.7v19.6h-21.7zM443.1 807.6h21.7v19.6h-21.7zM528.8 807.6h21.7v19.6h-21.7zM678.9 807.6h21.7v19.6h-21.7zM764.7 807.6h21.7v19.6h-21.7zM850.4 807.6h21.7v19.6h-21.7zM914.8 807.6h21.7v19.6h-21.7zM185.8 826.8h21.7v19.6h-21.7zM293 826.8h21.7v19.6h-21.7zM314.4 826.8h21.7v19.6h-21.7zM443.1 826.8h21.7v19.6h-21.7zM528.8 826.8h21.7v19.6h-21.7zM700.4 826.8h21.7v19.6h-21.7zM764.7 826.8h21.7v19.6h-21.7zM850.4 826.8h21.7v19.6h-21.7zM914.8 826.8h21.7v19.6h-21.7zM228.7 846.1h21.7v19.6h-21.7zM314.4 846.1h21.7v19.6h-21.7zM378.8 846.1h21.7v19.6h-21.7zM443.1 846.1h21.7v19.6h-21.7zM657.5 846.1h21.7v19.6h-21.7zM700.4 846.1h21.7v19.6h-21.7zM786.1 846.1h21.7v19.6h-21.7zM850.4 846.1h21.7v19.6h-21.7zM207.2 865.4h21.7v19.6h-21.7zM228.7 865.4h21.7v19.6h-21.7zM293 865.4h21.7v19.6h-21.7zM378.8 865.4h21.7v19.6h-21.7zM764.7 865.4h21.7v19.6h-21.7zM893.3 865.4h21.7v19.6h-21.7zM914.8 865.4h21.7v19.6h-21.7zM250.1 884.6h21.7v19.6h-21.7zM293 884.6h21.7v19.6h-21.7zM314.4 884.6h21.7v19.6h-21.7zM378.8 884.6h21.7v19.6h-21.7zM443.1 884.6h21.7v19.6h-21.7zM528.8 884.6h21.7v19.6h-21.7zM764.7 884.6h21.7v19.6h-21.7zM786.1 884.6h21.7v19.6h-21.7zM850.4 884.6h21.7v19.6h-21.7zM914.8 884.6h21.7v19.6h-21.7zM1086.3 884.6h21.7v19.6h-21.7zM721.8 903.9h21.7v19.6h-21.7zM207.2 923.2h21.7v19.6h-21.7zM228.7 923.2h21.7v19.6h-21.7zM378.8 923.2h21.7v19.6h-21.7zM400.2 923.2h21.7v19.6h-21.7zM421.6 923.2h21.7v19.6h-21.7zM486 923.2h21.7v19.6h-21.7zM700.4 923.2h21.7v19.6h-21.7zM764.7 923.2h21.7v19.6h-21.7zM786.1 923.2h21.7v19.6h-21.7zM957.6 923.2h21.7v19.6h-21.7zM207.2 942.5h21.7v19.6h-21.7zM250.1 942.5h21.7v19.6h-21.7zM314.4 942.5h21.7v19.6h-21.7zM443.1 942.5h21.7v19.6h-21.7zM528.8 942.5h21.7v19.6h-21.7zM743.2 942.5h21.7v19.6h-21.7zM764.7 942.5h21.7v19.6h-21.7zM786.1 942.5h21.7v19.6h-21.7zM850.4 942.5h21.7v19.6h-21.7zM914.8 942.5h21.7v19.6h-21.7z" fill="rgb(255,236,236)"/>
<path d="M228.7 788.3h21.7v19.6h-21.7zM250.1 788.3h21.7v19.6h-21.7zM314.4 788.3h21.7v19.6h-21.7zM335.9 788.3h21.7v19.6h-21.7zM378.8 788.3h21.7v19.6h-21.7zM421.6 788.3h21.7v19.6h-21.7zM550.3 788.3h21.7v19.6h-21.7zM1064.8 788.3h21.7v19.6h-21.7zM185.8 807.6h21.7v19.6h-21.7zM293 807.6h21.7v19.6h-21.7zM335.9 807.6h21.7v19.6h-21.7zM378.8 807.6h21.7v19.6h-21.7zM421.6 807.6h21.7v19.6h-21.7zM571.7 807.6h21.7v19.6h-21.7zM893.3 807.6h21.7v19.6h-21.7zM1086.3 807.6h21.7v19.6h-21.7zM1107.7 807.6h21.7v19.6h-21.7zM250.1 826.8h21.7v19.6h-21.7zM378.8 826.8h21.7v19.6h-21.7zM421.6 826.8h21.7v19.6h-21.7zM571.7 826.8h21.7v19.6h-21.7zM786.1 826.8h21.7v19.6h-21.7zM893.3 826.8h21.7v19.6h-21.7zM1150.6 826.8h21.7v19.6h-21.7zM185.8 846.1h21.7v19.6h-21.7zM207.2 846.1h21.7v19.6h-21.7zM250.1 846.1h21.7v19.6h-21.7zM335.9 846.1h21.7v19.6h-21.7zM400.2 846.1h21.7v19.6h-21.7zM528.8 846.1h21.7v19.6h-21.7zM636 846.1h21.7v19.6h-21.7zM936.2 846.1h21.7v19.6h-21.7zM1086.3 846.1h21.7v19.6h-21.7zM1150.6 846.1h21.7v19.6h-21.7zM185.8 865.4h21.7v19.6h-21.7zM250.1 865.4h21.7v19.6h-21.7zM464.5 865.4h21.7v19.6h-21.7zM657.5 865.4h21.7v19.6h-21.7zM786.1 865.4h21.7v19.6h-21.7zM1086.3 865.4h21.7v19.6h-21.7zM185.8 884.6h21.7v19.6h-21.7zM335.9 884.6h21.7v19.6h-21.7zM400.2 884.6h21.7v19.6h-21.7zM421.6 884.6h21.7v19.6h-21.7zM550.3 884.6h21.7v19.6h-21.7zM657.5 884.6h21.7v19.6h-21.7zM700.4 884.6h21.7v19.6h-21.7zM893.3 884.6h21.7v19.6h-21.7zM957.6 884.6h21.7v19.6h-21.7zM1107.7 884.6h21.7v19.6h-21.7zM314.4 923.2h21.7v19.6h-21.7zM335.9 923.2h21.7v19.6h-21.7zM528.8 923.2h21.7v19.6h-21.7zM850.4 923.2h21.7v19.6h-21.7zM893.3 923.2h21.7v19.6h-21.7zM1086.3 923.2h21.7v19.6h-21.7zM1107.7 923.2h21.7v19.6h-21.7zM293 942.5h21.7v19.6h-21.7zM593.2 942.5h21.7v19.6h-21.7zM636 942.5h21.7v19.6h-21.7zM657.5 942.5h21.7v19.6h-21.7zM893.3 942.5h21.7v19.6h-21.7zM1086.3 942.5h21.7v19.6h-21.7z" fill="rgb(255,212,212)"/>
<path d="M400.2 788.3h21.7v19.6h-21.7zM636 788.3h21.7v19.6h-21.7zM893.3 788.3h21.7v19.6h-21.7zM1000.5 788.3h21.7v19.6h-21.7zM250.1 807.6h21.7v19.6h-21.7zM400.2 807.6h21.7v19.6h-21.7zM550.3 807.6h21.7v19.6h-21.7zM636 807.6h21.7v19.6h-21.7zM786.1 807.6h21.7v19.6h-21.7zM1150.6 807.6h21.7v19.6h-21.7zM400.2 826.8h21.7v19.6h-21.7zM464.5 826.8h21.7v19.6h-21.7zM636 826.8h21.7v19.6h-21.7zM1022 826.8h21.7v19.6h-21.7zM1086.3 826.8h21.7v19.6h-21.7zM1107.7 826.8h21.7v19.6h-21.7zM357.3 846.1h21.7v19.6h-21.7zM421.6 846.1h21.7v19.6h-21.7zM593.2 846.1h21.7v19.6h-21.7zM764.7 846.1h21.7v19.6h-21.7zM1000.5 846.1h21.7v19.6h-21.7zM1043.4 846.1h21.7v19.6h-21.7zM335.9 865.4h21.7v19.6h-21.7zM400.2 865.4h21.7v19.6h-21.7zM421.6 865.4h21.7v19.6h-21.7zM936.2 865.4h21.7v19.6h-21.7zM1150.6 865.4h21.7v19.6h-21.7zM464.5 884.6h21.7v19.6h-21.7zM636 884.6h21.7v19.6h-21.7zM1000.5 884.6h21.7v19.6h-21.7zM1043.4 884.6h21.7v19.6h-21.7zM185.8 923.2h21.7v19.6h-21.7zM250.1 923.2h21.7v19.6h-21.7zM550.3 923.2h21.7v19.6h-21.7zM657.5 923.2h21.7v19.6h-21.7zM1022 923.2h21.7v19.6h-21.7zM185.8 942.5h21.7v19.6h-21.7zM335.9 942.5h21.7v19.6h-21.7zM400.2 942.5h21.7v19.6h-21.7zM421.6 942.5h21.7v19.6h-21.7zM936.2 942.5h21.7v19.6h-21.7zM1107.7 942.5h21.7v19.6h-21.7z" fill="rgb(255,182,182)"/>
<path d="M271.6 788.3h21.7v19.6h-21.7zM593.2 788.3h21.7v19.6h-21.7zM979.1 788.3h21.7v19.6h-21.7zM1107.7 788.3h21.7v19.6h-21.7zM936.2 807.6h21.7v19.6h-21.7zM335.9 826.8h21.7v19.6h-21.7zM936.2 826.8h21.7v19.6h-21.7zM1043.4 826.8h21.7v19.6h-21.7zM829 846.1h21.7v19.6h-21.7zM1022 846.1h21.7v19.6h-21.7zM636 865.4h21.7v19.6h-21.7zM700.4 865.4h21.7v19.6h-21.7zM829 865.4h21.7v19.6h-21.7zM1000.5 865.4h21.7v19.6h-21.7zM1022 865.4h21.7v19.6h-21.7zM1107.7 865.4h21.7v19.6h-21.7zM271.6 884.6h21.7v19.6h-21.7zM357.3 884.6h21.7v19.6h-21.7zM871.9 884.6h21.7v19.6h-21.7zM271.6 923.2h21.7v19.6h-21.7zM293 923.2h21.7v19.6h-21.7zM464.5 923.2h21.7v19.6h-21.7zM636 923.2h21.7v19.6h-21.7zM936.2 923.2h21.7v19.6h-21.7zM1000.5 923.2h21.7v19.6h-21.7zM1043.4 923.2h21.7v19.6h-21.7zM678.9 942.5h21.7v19.6h-21.7zM829 942.5h21.7v19.6h-21.7z" fill="rgb(255,148,148)"/>
<path d="M357.3 788.3h21.7v19.6h-21.7zM1129.2 788.3h21.7v19.6h-21.7zM1043.4 807.6h21.7v19.6h-21.7zM550.3 826.8h21.7v19.6h-21.7zM464.5 846.1h21.7v19.6h-21.7zM550.3 846.1h21.7v19.6h-21.7zM1129.2 846.1h21.7v19.6h-21.7zM486 865.4h21.7v19.6h-21.7zM550.3 865.4h21.7v19.6h-21.7zM1043.4 865.4h21.7v19.6h-21.7zM1129.2 865.4h21.7v19.6h-21.7zM1022 884.6h21.7v19.6h-21.7zM614.6 923.2h21.7v19.6h-21.7zM1150.6 923.2h21.7v19.6h-21.7zM464.5 942.5h21.7v19.6h-21.7zM550.3 942.5h21.7v19.6h-21.7zM614.6 942.5h21.7v19.6h-21.7zM1000.5 942.5h21.7v19.6h-21.7zM1022 942.5h21.7v19.6h-21.7zM1043.4 942.5h21.7v19.6h-21.7z" fill="rgb(255,120,120)"/>
<path d="M185.8 788.3h21.7v19.6h-21.7zM486 788.3h21.7v19.6h-21.7zM829 788.3h21.7v19.6h-21.7zM871.9 788.3h21.7v19.6h-21.7zM1043.4 788.3h21.7v19.6h-21.7zM1150.6 788.3h21.7v19.6h-21.7zM464.5 807.6h21.7v19.6h-21.7zM1022 807.6h21.7v19.6h-21.7zM357.3 826.8h21.7v19.6h-21.7zM614.6 826.8h21.7v19.6h-21.7zM829 826.8h21.7v19.6h-21.7zM614.6 846.1h21.7v19.6h-21.7zM893.3 846.1h21.7v19.6h-21.7zM486 884.6h21.7v19.6h-21.7zM829 884.6h21.7v19.6h-21.7zM936.2 884.6h21.7v19.6h-21.7zM979.1 884.6h21.7v19.6h-21.7zM271.6 942.5h21.7v19.6h-21.7zM1129.2 942.5h21.7v19.6h-21.7z" fill="rgb(255,94,94)"/>
<path d="M464.5 788.3h21.7v19.6h-21.7zM357.3 807.6h21.7v19.6h-21.7zM614.6 807.6h21.7v19.6h-21.7zM1129.2 807.6h21.7v19.6h-21.7zM271.6 826.8h21.7v19.6h-21.7zM979.1 826.8h21.7v19.6h-21.7zM271.6 846.1h21.7v19.6h-21.7zM271.6 865.4h21.7v19.6h-21.7zM357.3 865.4h21.7v19.6h-21.7zM614.6 865.4h21.7v19.6h-21.7zM871.9 865.4h21.7v19.6h-21.7zM593.2 884.6h21.7v19.6h-21.7zM1129.2 923.2h21.7v19.6h-21.7zM486 942.5h21.7v19.6h-21.7zM1150.6 942.5h21.7v19.6h-21.7z" fill="rgb(255,64,64)"/>
<path d="M936.2 788.3h21.7v19.6h-21.7zM486 807.6h21.7v19.6h-21.7zM593.2 807.6h21.7v19.6h-21.7zM829 807.6h21.7v19.6h-21.7zM979.1 807.6h21.7v19.6h-21.7zM593.2 826.8h21.7v19.6h-21.7zM721.8 826.8h21.7v19.6h-21.7zM871.9 826.8h21.7v19.6h-21.7zM1000.5 826.8h21.7v19.6h-21.7zM871.9 846.1h21.7v19.6h-21.7zM979.1 846.1h21.7v19.6h-21.7zM593.2 865.4h21.7v19.6h-21.7zM1150.6 884.6h21.7v19.6h-21.7zM871.9 923.2h21.7v19.6h-21.7zM979.1 923.2h21.7v19.6h-21.7zM871.9 942.5h21.7v19.6h-21.7zM979.1 942.5h21.7v19.6h-21.7z" fill="rgb(255,32,32)"/>
<path d="M614.6 788.3h21.7v19.6h-21.7zM721.8 788.3h21.7v19.6h-21.7zM807.6 788.3h21.7v19.6h-21.7zM1022 788.3h21.7v19.6h-21.7zM271.6 807.6h21.7v19.6h-21.7zM721.8 807.6h21.7v19.6h-21.7zM807.6 807.6h21.7v19.6h-21.7zM871.9 807.6h21.7v19.6h-21.7zM1000.5 807.6h21.7v19.6h-21.7zM486 826.8h21.7v19.6h-21.7zM807.6 826.8h21.7v19.6h-21.7zM1129.2 826.8h21.7v19.6h-21.7zM486 846.1h21.7v19.6h-21.7zM678.9 846.1h21.7v19.6h-21.7zM721.8 846.1h21.7v19.6h-21.7zM807.6 846.1h21.7v19.6h-21.7zM1107.7 846.1h21.7v19.6h-21.7zM678.9 865.4h21.7v19.6h-21.7zM721.8 865.4h21.7v19.6h-21.7zM807.6 865.4h21.7v19.6h-21.7zM979.1 865.4h21.7v19.6h-21.7zM614.6 884.6h21.7v19.6h-21.7zM678.9 884.6h21.7v19.6h-21.7zM721.8 884.6h21.7v19.6h-21.7zM807.6 884.6h21.7v19.6h-21.7zM1129.2 884.6h21.7v19.6h-21.7zM1129.2 903.9h21.7v19.6h-21.7zM357.3 923.2h21.7v19.6h-21.7zM593.2 923.2h21.7v19.6h-21.7zM678.9 923.2h21.7v19.6h-21.7zM721.8 923.2h21.7v19.6h-21.7zM807.6 923.2h21.7v19.6h-21.7zM357.3 942.5h21.7v19.6h-21.7zM721.8 942.5h21.7v19.6h-21.7zM807.6 942.5h21.7v19.6h-21.7z" fill="rgb(255,0,0)"/>
<path d="M207.2 788.3V961.7M228.7 788.3V961.7M250.1 788.3V961.7M271.6 788.3V961.7M293 788.3V961.7M314.4 788.3V961.7M335.9 788.3V961.7M357.3 788.3V961.7M378.8 788.3V961.7M400.2 788.3V961.7M421.6 788.3V961.7M443.1 788.3V961.7M464.5 788.3V961.7M486 788.3V961.7M507.4 788.3V961.7M528.8 788.3V961.7M550.3 788.3V961.7M571.7 788.3V961.7M593.2 788.3V961.7M614.6 788.3V961.7M636 788.3V961.7M657.5 788.3V961.7M678.9 788.3V961.7M700.4 788.3V961.7M721.8 788.3V961.7M743.2 788.3V961.7M764.7 788.3V961.7M786.1 788.3V961.7M807.6 788.3V961.7M829 788.3V961.7M850.4 788.3V961.7M871.9 788.3V961.7M893.3 788.3V961.7M914.8 788.3V961.7M936.2 788.3V961.7M957.6 788.3V961.7M979.1 788.3V961.7M1000.5 788.3V961.7M1022 788.3V961.7M1043.4 788.3V961.7M1064.8 788.3V961.7M1086.3 788.3V961.7M1107.7 788.3V961.7M1129.2 788.3V961.7M1150.6 788.3V961.7M185.8 807.6H1172M185.8 826.8H1172M185.8 846.1H1172M185.8 865.4H1172M185.8 903.9H1172M185.8 923.2H1172M185.8 942.5H1172" stroke="#222" stroke-width="1.1" fill="none"/>
<path d="M185.8 884.6H1172" stroke="#000" stroke-width="3" fill="none"/>
<rect x="185.8" y="788.3" width="986.2" height="173.4" fill="none" stroke="#000" stroke-width="3"/>
<path d="M185.8 961.7V968.7M207.2 961.7V968.7M228.7 961.7V968.7M250.1 961.7V968.7M271.6 961.7V968.7M293 961.7V968.7M314.4 961.7V968.7M335.9 961.7V968.7M357.3 961.7V968.7M378.8 961.7V968.7M400.2 961.7V968.7M421.6 961.7V968.7M443.1 961.7V968.7M464.5 961.7V968.7M486 961.7V968.7M507.4 961.7V968.7M528.8 961.7V968.7M550.3 961.7V968.7M571.7 961.7V968.7M593.2 961.7V968.7M614.6 961.7V968.7M636 961.7V968.7M657.5 961.7V968.7M678.9 961.7V968.7M700.4 961.7V968.7M721.8 961.7V968.7M743.2 961.7V968.7M764.7 961.7V968.7M786.1 961.7V968.7M807.6 961.7V968.7M829 961.7V968.7M850.4 961.7V968.7M871.9 961.7V968.7M893.3 961.7V968.7M914.8 961.7V968.7M936.2 961.7V968.7M957.6 961.7V968.7M979.1 961.7V968.7M1000.5 961.7V968.7M1022 961.7V968.7M1043.4 961.7V968.7M1064.8 961.7V968.7M1086.3 961.7V968.7M1107.7 961.7V968.7M1129.2 961.7V968.7M1150.6 961.7V968.7M1172 961.7V968.7" stroke="#333" stroke-width="1" fill="none"/>
<path d="M1277.9 788.3h21.7v19.6h-21.7zM1427.8 788.3h21.7v19.6h-21.7zM1556.3 788.3h21.7v19.6h-21.7zM1663.4 788.3h21.7v19.6h-21.7zM1706.3 788.3h21.7v19.6h-21.7zM1192.2 807.6h21.7v19.6h-21.7zM1363.6 807.6h21.7v19.6h-21.7zM1427.8 807.6h21.7v19.6h-21.7zM1663.4 807.6h21.7v19.6h-21.7zM1706.3 807.6h21.7v19.6h-21.7zM1192.2 826.8h21.7v19.6h-21.7zM1277.9 826.8h21.7v19.6h-21.7zM1320.7 826.8h21.7v19.6h-21.7zM1363.6 826.8h21.7v19.6h-21.7zM1427.8 826.8h21.7v19.6h-21.7zM1663.4 826.8h21.7v19.6h-21.7zM1706.3 826.8h21.7v19.6h-21.7zM1192.2 846.1h21.7v19.6h-21.7zM1256.5 846.1h21.7v19.6h-21.7zM1277.9 846.1h21.7v19.6h-21.7zM1427.8 846.1h21.7v19.6h-21.7zM1556.3 846.1h21.7v19.6h-21.7zM1577.8 846.1h21.7v19.6h-21.7zM1663.4 846.1h21.7v19.6h-21.7zM1706.3 846.1h21.7v19.6h-21.7zM1192.2 865.4h21.7v19.6h-21.7zM1277.9 865.4h21.7v19.6h-21.7zM1427.8 865.4h21.7v19.6h-21.7zM1556.3 865.4h21.7v19.6h-21.7zM1663.4 865.4h21.7v19.6h-21.7zM1706.3 865.4h21.7v19.6h-21.7zM1277.9 884.6h21.7v19.6h-21.7zM1320.7 884.6h21.7v19.6h-21.7zM1363.6 884.6h21.7v19.6h-21.7zM1427.8 884.6h21.7v19.6h-21.7zM1513.5 884.6h21.7v19.6h-21.7zM1620.6 884.6h21.7v19.6h-21.7zM1642 884.6h21.7v19.6h-21.7zM1663.4 884.6h21.7v19.6h-21.7zM1192.2 903.9h21.7v19.6h-21.7zM1277.9 903.9h21.7v19.6h-21.7zM1299.3 903.9h21.7v19.6h-21.7zM1320.7 903.9h21.7v19.6h-21.7zM1363.6 903.9h21.7v19.6h-21.7zM1427.8 903.9h21.7v19.6h-21.7zM1492.1 903.9h21.7v19.6h-21.7zM1513.5 903.9h21.7v19.6h-21.7zM1556.3 903.9h21.7v19.6h-21.7zM1642 903.9h21.7v19.6h-21.7zM1663.4 903.9h21.7v19.6h-21.7zM1192.2 923.2h21.7v19.6h-21.7zM1256.5 923.2h21.7v19.6h-21.7zM1299.3 923.2h21.7v19.6h-21.7zM1363.6 923.2h21.7v19.6h-21.7zM1427.8 923.2h21.7v19.6h-21.7zM1556.3 923.2h21.7v19.6h-21.7zM1642 923.2h21.7v19.6h-21.7zM1663.4 923.2h21.7v19.6h-21.7zM1192.2 942.5h21.7v19.6h-21.7zM1299.3 942.5h21.7v19.6h-21.7zM1320.7 942.5h21.7v19.6h-21.7zM1363.6 942.5h21.7v19.6h-21.7zM1427.8 942.5h21.7v19.6h-21.7zM1556.3 942.5h21.7v19.6h-21.7zM1642 942.5h21.7v19.6h-21.7zM1663.4 942.5h21.7v19.6h-21.7zM1706.3 942.5h21.7v19.6h-21.7z" fill="rgb(255,236,236)"/>
<path d="M1192.2 788.3h21.7v19.6h-21.7zM1299.3 788.3h21.7v19.6h-21.7zM1320.7 788.3h21.7v19.6h-21.7zM1363.6 788.3h21.7v19.6h-21.7zM1470.7 788.3h21.7v19.6h-21.7zM1513.5 788.3h21.7v19.6h-21.7zM1620.6 788.3h21.7v19.6h-21.7zM1642 788.3h21.7v19.6h-21.7zM1277.9 807.6h21.7v19.6h-21.7zM1299.3 807.6h21.7v19.6h-21.7zM1320.7 807.6h21.7v19.6h-21.7zM1577.8 807.6h21.7v19.6h-21.7zM1620.6 807.6h21.7v19.6h-21.7zM1642 807.6h21.7v19.6h-21.7zM1256.5 826.8h21.7v19.6h-21.7zM1299.3 826.8h21.7v19.6h-21.7zM1385 826.8h21.7v19.6h-21.7zM1470.7 826.8h21.7v19.6h-21.7zM1577.8 826.8h21.7v19.6h-21.7zM1620.6 826.8h21.7v19.6h-21.7zM1235 846.1h21.7v19.6h-21.7zM1299.3 846.1h21.7v19.6h-21.7zM1320.7 846.1h21.7v19.6h-21.7zM1363.6 846.1h21.7v19.6h-21.7zM1470.7 846.1h21.7v19.6h-21.7zM1620.6 846.1h21.7v19.6h-21.7zM1299.3 865.4h21.7v19.6h-21.7zM1320.7 865.4h21.7v19.6h-21.7zM1363.6 865.4h21.7v19.6h-21.7zM1385 865.4h21.7v19.6h-21.7zM1620.6 865.4h21.7v19.6h-21.7zM1192.2 884.6h21.7v19.6h-21.7zM1256.5 884.6h21.7v19.6h-21.7zM1299.3 884.6h21.7v19.6h-21.7zM1385 884.6h21.7v19.6h-21.7zM1470.7 884.6h21.7v19.6h-21.7zM1492.1 884.6h21.7v19.6h-21.7zM1577.8 884.6h21.7v19.6h-21.7zM1385 903.9h21.7v19.6h-21.7zM1470.7 903.9h21.7v19.6h-21.7zM1577.8 903.9h21.7v19.6h-21.7zM1620.6 903.9h21.7v19.6h-21.7zM1213.6 923.2h21.7v19.6h-21.7zM1235 923.2h21.7v19.6h-21.7zM1320.7 923.2h21.7v19.6h-21.7zM1385 923.2h21.7v19.6h-21.7zM1470.7 923.2h21.7v19.6h-21.7zM1513.5 923.2h21.7v19.6h-21.7zM1577.8 923.2h21.7v19.6h-21.7zM1620.6 923.2h21.7v19.6h-21.7zM1706.3 923.2h21.7v19.6h-21.7zM1385 942.5h21.7v19.6h-21.7zM1470.7 942.5h21.7v19.6h-21.7zM1492.1 942.5h21.7v19.6h-21.7zM1513.5 942.5h21.7v19.6h-21.7zM1577.8 942.5h21.7v19.6h-21.7zM1620.6 942.5h21.7v19.6h-21.7z" fill="rgb(255,212,212)"/>
<path d="M1385 788.3h21.7v19.6h-21.7zM1577.8 788.3h21.7v19.6h-21.7zM1599.2 788.3h21.7v19.6h-21.7zM1213.6 807.6h21.7v19.6h-21.7zM1256.5 807.6h21.7v19.6h-21.7zM1385 807.6h21.7v19.6h-21.7zM1470.7 807.6h21.7v19.6h-21.7zM1513.5 807.6h21.7v19.6h-21.7zM1235 826.8h21.7v19.6h-21.7zM1449.2 826.8h21.7v19.6h-21.7zM1642 826.8h21.7v19.6h-21.7zM1385 846.1h21.7v19.6h-21.7zM1449.2 846.1h21.7v19.6h-21.7zM1492.1 846.1h21.7v19.6h-21.7zM1513.5 846.1h21.7v19.6h-21.7zM1642 846.1h21.7v19.6h-21.7zM1235 865.4h21.7v19.6h-21.7zM1449.2 865.4h21.7v19.6h-21.7zM1470.7 865.4h21.7v19.6h-21.7zM1492.1 865.4h21.7v19.6h-21.7zM1513.5 865.4h21.7v19.6h-21.7zM1577.8 865.4h21.7v19.6h-21.7zM1642 865.4h21.7v19.6h-21.7zM1213.6 884.6h21.7v19.6h-21.7zM1235 884.6h21.7v19.6h-21.7zM1449.2 884.6h21.7v19.6h-21.7zM1684.9 884.6h21.7v19.6h-21.7zM1706.3 884.6h21.7v19.6h-21.7zM1213.6 903.9h21.7v19.6h-21.7zM1235 903.9h21.7v19.6h-21.7zM1256.5 903.9h21.7v19.6h-21.7zM1342.1 903.9h21.7v19.6h-21.7zM1449.2 903.9h21.7v19.6h-21.7zM1684.9 903.9h21.7v19.6h-21.7zM1449.2 923.2h21.7v19.6h-21.7zM1492.1 923.2h21.7v19.6h-21.7zM1684.9 923.2h21.7v19.6h-21.7zM1213.6 942.5h21.7v19.6h-21.7zM1235 942.5h21.7v19.6h-21.7zM1256.5 942.5h21.7v19.6h-21.7zM1342.1 942.5h21.7v19.6h-21.7zM1449.2 942.5h21.7v19.6h-21.7zM1684.9 942.5h21.7v19.6h-21.7z" fill="rgb(255,182,182)"/>
<path d="M1213.6 788.3h21.7v19.6h-21.7zM1235 788.3h21.7v19.6h-21.7zM1256.5 788.3h21.7v19.6h-21.7zM1449.2 788.3h21.7v19.6h-21.7zM1492.1 788.3h21.7v19.6h-21.7zM1684.9 788.3h21.7v19.6h-21.7zM1235 807.6h21.7v19.6h-21.7zM1449.2 807.6h21.7v19.6h-21.7zM1492.1 807.6h21.7v19.6h-21.7zM1406.4 826.8h21.7v19.6h-21.7zM1492.1 826.8h21.7v19.6h-21.7zM1513.5 826.8h21.7v19.6h-21.7zM1684.9 826.8h21.7v19.6h-21.7zM1213.6 846.1h21.7v19.6h-21.7zM1684.9 846.1h21.7v19.6h-21.7zM1213.6 865.4h21.7v19.6h-21.7zM1256.5 865.4h21.7v19.6h-21.7zM1342.1 865.4h21.7v19.6h-21.7zM1684.9 865.4h21.7v19.6h-21.7zM1342.1 884.6h21.7v19.6h-21.7zM1599.2 903.9h21.7v19.6h-21.7z" fill="rgb(255,148,148)"/>
<path d="M1406.4 807.6h21.7v19.6h-21.7zM1684.9 807.6h21.7v19.6h-21.7zM1342.1 826.8h21.7v19.6h-21.7zM1406.4 865.4h21.7v19.6h-21.7zM1599.2 942.5h21.7v19.6h-21.7z" fill="rgb(255,120,120)"/>
<path d="M1342.1 788.3h21.7v19.6h-21.7zM1406.4 788.3h21.7v19.6h-21.7zM1534.9 788.3h21.7v19.6h-21.7zM1342.1 807.6h21.7v19.6h-21.7zM1534.9 807.6h21.7v19.6h-21.7zM1599.2 807.6h21.7v19.6h-21.7zM1213.6 826.8h21.7v19.6h-21.7zM1534.9 826.8h21.7v19.6h-21.7zM1342.1 846.1h21.7v19.6h-21.7zM1599.2 846.1h21.7v19.6h-21.7zM1599.2 884.6h21.7v19.6h-21.7zM1706.3 903.9h21.7v19.6h-21.7zM1342.1 923.2h21.7v19.6h-21.7z" fill="rgb(255,94,94)"/>
<path d="M1534.9 846.1h21.7v19.6h-21.7zM1599.2 923.2h21.7v19.6h-21.7z" fill="rgb(255,64,64)"/>
<path d="M1534.9 865.4h21.7v19.6h-21.7zM1599.2 865.4h21.7v19.6h-21.7z" fill="rgb(255,32,32)"/>
<path d="M1599.2 826.8h21.7v19.6h-21.7zM1406.4 846.1h21.7v19.6h-21.7zM1406.4 884.6h21.7v19.6h-21.7zM1534.9 884.6h21.7v19.6h-21.7zM1406.4 903.9h21.7v19.6h-21.7zM1534.9 903.9h21.7v19.6h-21.7zM1406.4 923.2h21.7v19.6h-21.7zM1534.9 923.2h21.7v19.6h-21.7zM1406.4 942.5h21.7v19.6h-21.7zM1534.9 942.5h21.7v19.6h-21.7z" fill="rgb(255,0,0)"/>
<path d="M1213.6 788.3V961.7M1235 788.3V961.7M1256.5 788.3V961.7M1277.9 788.3V961.7M1299.3 788.3V961.7M1320.7 788.3V961.7M1342.1 788.3V961.7M1363.6 788.3V961.7M1385 788.3V961.7M1406.4 788.3V961.7M1427.8 788.3V961.7M1449.2 788.3V961.7M1470.7 788.3V961.7M1492.1 788.3V961.7M1513.5 788.3V961.7M1534.9 788.3V961.7M1556.3 788.3V961.7M1577.8 788.3V961.7M1599.2 788.3V961.7M1620.6 788.3V961.7M1642 788.3V961.7M1663.4 788.3V961.7M1684.9 788.3V961.7M1706.3 788.3V961.7M1192.2 807.6H1727.7M1192.2 826.8H1727.7M1192.2 846.1H1727.7M1192.2 865.4H1727.7M1192.2 903.9H1727.7M1192.2 923.2H1727.7M1192.2 942.5H1727.7" stroke="#222" stroke-width="1.1" fill="none"/>
<path d="M1192.2 884.6H1727.7" stroke="#000" stroke-width="3" fill="none"/>
<rect x="1192.2" y="788.3" width="535.5" height="173.4" fill="none" stroke="#000" stroke-width="3"/>
<path d="M1192.2 961.7V968.7M1213.6 961.7V968.7M1235 961.7V968.7M1256.5 961.7V968.7M1277.9 961.7V968.7M1299.3 961.7V968.7M1320.7 961.7V968.7M1342.1 961.7V968.7M1363.6 961.7V968.7M1385 961.7V968.7M1406.4 961.7V968.7M1427.8 961.7V968.7M1449.2 961.7V968.7M1470.7 961.7V968.7M1492.1 961.7V968.7M1513.5 961.7V968.7M1534.9 961.7V968.7M1556.3 961.7V968.7M1577.8 961.7V968.7M1599.2 961.7V968.7M1620.6 961.7V968.7M1642 961.7V968.7M1663.4 961.7V968.7M1684.9 961.7V968.7M1706.3 961.7V968.7M1727.7 961.7V968.7" stroke="#333" stroke-width="1" fill="none"/>
<path d="M1747.6 788.3h21.6v19.6h-21.6zM1768.8 788.3h21.6v19.6h-21.6zM1768.8 807.6h21.6v19.6h-21.6zM1747.6 826.8h21.6v19.6h-21.6zM1768.8 826.8h21.6v19.6h-21.6zM1747.6 846.1h21.6v19.6h-21.6zM1768.8 846.1h21.6v19.6h-21.6zM1747.6 865.4h21.6v19.6h-21.6zM1768.8 865.4h21.6v19.6h-21.6zM1747.6 884.6h21.6v19.6h-21.6zM1832.6 884.6h21.6v19.6h-21.6zM1853.8 884.6h21.6v19.6h-21.6zM1832.6 903.9h21.6v19.6h-21.6zM1747.6 923.2h21.6v19.6h-21.6zM1832.6 923.2h21.6v19.6h-21.6zM1747.6 942.5h21.6v19.6h-21.6zM1768.8 942.5h21.6v19.6h-21.6z" fill="rgb(255,236,236)"/>
<path d="M1747.6 807.6h21.6v19.6h-21.6zM1768.8 884.6h21.6v19.6h-21.6zM1747.6 903.9h21.6v19.6h-21.6zM1853.8 903.9h21.6v19.6h-21.6zM1768.8 923.2h21.6v19.6h-21.6zM1853.8 923.2h21.6v19.6h-21.6zM1832.6 942.5h21.6v19.6h-21.6zM1853.8 942.5h21.6v19.6h-21.6z" fill="rgb(255,212,212)"/>
<path d="M1790.1 865.4h21.6v19.6h-21.6z" fill="rgb(255,182,182)"/>
<path d="M1853.8 788.3h21.6v19.6h-21.6z" fill="rgb(255,148,148)"/>
<path d="M1790.1 788.3h21.6v19.6h-21.6zM1832.6 788.3h21.6v19.6h-21.6zM1790.1 807.6h21.6v19.6h-21.6zM1832.6 807.6h21.6v19.6h-21.6zM1790.1 826.8h21.6v19.6h-21.6zM1790.1 846.1h21.6v19.6h-21.6zM1832.6 846.1h21.6v19.6h-21.6zM1832.6 865.4h21.6v19.6h-21.6zM1790.1 942.5h21.6v19.6h-21.6z" fill="rgb(255,120,120)"/>
<path d="M1853.8 826.8h21.6v19.6h-21.6zM1853.8 846.1h21.6v19.6h-21.6zM1768.8 903.9h21.6v19.6h-21.6z" fill="rgb(255,94,94)"/>
<path d="M1853.8 807.6h21.6v19.6h-21.6z" fill="rgb(255,64,64)"/>
<path d="M1853.8 865.4h21.6v19.6h-21.6zM1790.1 903.9h21.6v19.6h-21.6z" fill="rgb(255,32,32)"/>
<path d="M1811.3 788.3h21.6v19.6h-21.6zM1811.3 807.6h21.6v19.6h-21.6zM1811.3 826.8h21.6v19.6h-21.6zM1832.6 826.8h21.6v19.6h-21.6zM1811.3 846.1h21.6v19.6h-21.6zM1811.3 865.4h21.6v19.6h-21.6zM1790.1 884.6h21.6v19.6h-21.6zM1811.3 884.6h21.6v19.6h-21.6zM1811.3 903.9h21.6v19.6h-21.6zM1790.1 923.2h21.6v19.6h-21.6zM1811.3 923.2h21.6v19.6h-21.6zM1811.3 942.5h21.6v19.6h-21.6z" fill="rgb(255,0,0)"/>
<path d="M1768.8 788.3V961.7M1790.1 788.3V961.7M1811.3 788.3V961.7M1832.6 788.3V961.7M1853.8 788.3V961.7M1747.6 807.6H1875.1M1747.6 826.8H1875.1M1747.6 846.1H1875.1M1747.6 865.4H1875.1M1747.6 903.9H1875.1M1747.6 923.2H1875.1M1747.6 942.5H1875.1" stroke="#222" stroke-width="1.1" fill="none"/>
<path d="M1747.6 884.6H1875.1" stroke="#000" stroke-width="3" fill="none"/>
<rect x="1747.6" y="788.3" width="127.5" height="173.4" fill="none" stroke="#000" stroke-width="3"/>
<path d="M1747.6 961.7V968.7M1768.8 961.7V968.7M1790.1 961.7V968.7M1811.3 961.7V968.7M1832.6 961.7V968.7M1853.8 961.7V968.7M1875.1 961.7V968.7" stroke="#333" stroke-width="1" fill="none"/>
<text x="177.8" y="804.3" font-size="20" text-anchor="end" fill="#2b2b2b">C3</text>
<text x="177.8" y="824" font-size="20" text-anchor="end" fill="#2b2b2b">C4</text>
<text x="177.8" y="843.7" font-size="20" text-anchor="end" fill="#2b2b2b">C7</text>
<text x="177.8" y="863.4" font-size="20" text-anchor="end" fill="#2b2b2b">C17</text>
<text x="177.8" y="883.1" font-size="20" text-anchor="end" fill="#2b2b2b">C19</text>
<text x="177.8" y="902.8" font-size="20" text-anchor="end" fill="#dc4550">P12</text>
<text x="177.8" y="922.5" font-size="20" text-anchor="end" fill="#dc4550">P13</text>
<text x="177.8" y="942.2" font-size="20" text-anchor="end" fill="#dc4550">P14</text>
<text x="177.8" y="961.9" font-size="20" text-anchor="end" fill="#dc4550">P16</text>
<text x="1378.8" y="786.5" font-size="13.5" text-anchor="start" fill="#000" transform="rotate(-90 1378.8 786.5)">0.014</text>
<text x="1550.1" y="786.5" font-size="13.5" text-anchor="start" fill="#000" transform="rotate(-90 1550.1 786.5)">0.007</text>
<text x="1805.2" y="786.5" font-size="13.5" text-anchor="start" fill="#000" transform="rotate(-90 1805.2 786.5)">0.028</text>
<text x="1847.7" y="786.5" font-size="13.5" text-anchor="start" fill="#000" transform="rotate(-90 1847.7 786.5)">0.037</text>
<text x="1869" y="786.5" font-size="13.5" text-anchor="start" fill="#000" transform="rotate(-90 1869 786.5)">0.004</text>
<path d="M179.5 1009.9V1106.8" stroke="#000" stroke-width="4.4" fill="none"/>
<path d="M179.5 1010.9H173M179.5 1034.6H173M179.5 1058.3H173M179.5 1082.1H173M179.5 1105.8H173" stroke="#000" stroke-width="2.2" fill="none"/>
<path d="M179.5 1027.5H176.2M179.5 1023.3H176.2M179.5 1020.3H176.2M179.5 1018H176.2M179.5 1016.2H176.2M179.5 1014.6H176.2M179.5 1013.2H176.2M179.5 1012H176.2M179.5 1051.2H176.2M179.5 1047H176.2M179.5 1044.1H176.2M179.5 1041.8H176.2M179.5 1039.9H176.2M179.5 1038.3H176.2M179.5 1036.9H176.2M179.5 1035.7H176.2M179.5 1074.9H176.2M179.5 1070.7H176.2M179.5 1067.8H176.2M179.5 1065.5H176.2M179.5 1063.6H176.2M179.5 1062H176.2M179.5 1060.6H176.2M179.5 1059.4H176.2M179.5 1098.6H176.2M179.5 1094.5H176.2M179.5 1091.5H176.2M179.5 1089.2H176.2M179.5 1087.3H176.2M179.5 1085.7H176.2M179.5 1084.4H176.2M179.5 1083.1H176.2" stroke="#000" stroke-width="1.5" fill="none"/>
<text x="165.6" y="1019.5" font-size="26.4" text-anchor="end" fill="#000">100</text>
<text x="165.6" y="1043.2" font-size="26.4" text-anchor="end" fill="#000">10</text>
<text x="165.6" y="1066.9" font-size="26.4" text-anchor="end" fill="#000">1</text>
<text x="165.6" y="1090.7" font-size="26.4" text-anchor="end" fill="#000">0.1</text>
<text x="165.6" y="1114.4" font-size="26.4" text-anchor="end" fill="#000">0.01</text>
<path d="M194.7 1058.3H1158.6" stroke="#000" stroke-width="2.6" fill="none"/>
<path d="M194.7 1058.3h0M216.1 1058.3h0M237.5 1058.3h0M259 1058.3h0M280.4 1058.3h0M301.8 1058.3h0M323.2 1058.3h0M344.6 1058.3h0M366.1 1058.3h0M387.5 1058.3h0M408.9 1058.3h0M430.3 1058.3h0M451.7 1058.3h0M473.2 1058.3h0M494.6 1058.3h0M516 1058.3h0M537.4 1058.3h0M558.8 1058.3h0M580.3 1058.3h0M601.7 1058.3h0M623.1 1058.3h0M644.5 1058.3h0M665.9 1058.3h0M687.4 1058.3h0M708.8 1058.3h0M730.2 1058.3h0M751.6 1058.3h0M773 1058.3h0M794.5 1058.3h0M815.9 1058.3h0M837.3 1058.3h0M858.7 1058.3h0M880.1 1058.3h0M901.6 1058.3h0M923 1058.3h0M944.4 1058.3h0M965.8 1058.3h0M987.2 1058.3h0M1008.7 1058.3h0M1030.1 1058.3h0M1051.5 1058.3h0M1072.9 1058.3h0M1094.3 1058.3h0M1115.8 1058.3h0M1137.2 1058.3h0M1158.6 1058.3h0" stroke="#000" stroke-width="4.8" stroke-linecap="round" fill="none"/>
<path d="M1201.7 1058.3H1716.5" stroke="#000" stroke-width="2.6" fill="none"/>
<path d="M1201.7 1058.3h0M1223.2 1058.3h0M1244.6 1058.3h0M1266 1058.3h0M1287.5 1058.3h0M1309 1058.3h0M1330.4 1058.3h0M1351.9 1058.3h0M1373.3 1058.3h0M1394.8 1058.3h0M1416.2 1058.3h0M1437.7 1058.3h0M1459.1 1058.3h0M1480.5 1058.3h0M1502 1058.3h0M1523.5 1058.3h0M1544.9 1058.3h0M1566.3 1058.3h0M1587.8 1058.3h0M1609.2 1058.3h0M1630.7 1058.3h0M1652.2 1058.3h0M1673.6 1058.3h0M1695 1058.3h0M1716.5 1058.3h0" stroke="#000" stroke-width="4.8" stroke-linecap="round" fill="none"/>
<path d="M1758.9 1058.3H1865.7" stroke="#000" stroke-width="2.6" fill="none"/>
<path d="M1758.9 1058.3h0M1780.3 1058.3h0M1801.6 1058.3h0M1823 1058.3h0M1844.3 1058.3h0M1865.7 1058.3h0" stroke="#000" stroke-width="4.8" stroke-linecap="round" fill="none"/>
<path d="M194.7 1036L216.1 1048.6L237.5 1040.1L259 1050.1L280.4 1069.5L301.8 1053.9L323.2 1053.9L344.6 1053.9L366.1 1060.5L387.5 1052.6L408.9 1061.1L430.3 1055.5L451.7 1054.8L473.2 1050.1L494.6 1070.5L516 1032L537.4 1047.6L558.8 1048.6L580.3 1047L601.7 1058.6L623.1 1058L644.5 1056.4L665.9 1058.6L708.8 1058.3L730.2 1058.9L751.6 1052.3L773 1057L794.5 1073.6L815.9 1058L837.3 1064.2L858.7 1043.2L880.1 1062L901.6 1064.2L923 1058L944.4 1061.7L965.8 1042.3L987.2 1059.5L1008.7 1064.8L1030.1 1047L1051.5 1040.1L1072.9 1059.5L1094.3 1055.8L1115.8 1068.3L1137.2 1061.4L1158.6 1053.9" stroke="#9a9a9a" stroke-width="2.4" fill="none" stroke-linejoin="round"/>
<path d="M1201.7 1061.4L1223.2 1063.6L1244.6 1057L1266 1058.3L1287.5 1066.7L1309 1059.2L1330.4 1057L1351.9 1057.9L1373.3 1062.3L1394.8 1060.5L1416.2 1057.9L1437.7 1056.1L1459.1 1057L1480.5 1056.1L1502 1063.6L1523.5 1060.5L1544.9 1057.9L1566.3 1057L1587.8 1061.4L1609.2 1060.5L1630.7 1061.4L1652.2 1059.2L1673.6 1051.8L1695 1057.9L1716.5 1057.9" stroke="#9a9a9a" stroke-width="2.4" fill="none" stroke-linejoin="round"/>
<path d="M1758.9 1054.8L1780.3 1051.8L1801.6 1063.6L1823 1057L1844.3 1057L1865.7 1062.3" stroke="#9a9a9a" stroke-width="2.4" fill="none" stroke-linejoin="round"/>
<path d="M194.7 1040.7L216.1 1034.5L237.5 1028.2L259 1033.8L280.4 1060.2L301.8 1054.8L323.2 1050.8L344.6 1059.5L366.1 1066.4L387.5 1052.6L408.9 1061.1L430.3 1043.9L451.7 1049.5L473.2 1050.1L494.6 1075.2L516 1032L537.4 1086.2L580.3 1053.9L601.7 1058.6L623.1 1049.2L644.5 1078.3L665.9 1064.9L708.8 1059.5L730.2 1053.9L773 1032L794.5 1062L815.9 1058.6L837.3 1062.7L858.7 1043.2L880.1 1069.5L901.6 1062L923 1071.4L944.4 1069.5L965.8 1052.3L987.2 1051.7L1008.7 1062.7L1030.1 1053.3L1051.5 1045.4L1072.9 1066.7L1094.3 1055.8L1115.8 1072.7L1137.2 1056.4L1158.6 1048.6" stroke="#e98a8a" stroke-width="2.4" fill="none" stroke-linejoin="round"/>
<path d="M1201.7 1066.7L1223.2 1064.9L1244.6 1060.1L1266 1064.9L1287.5 1066L1309 1048.2L1330.4 1064.9L1351.9 1053.9L1373.3 1053.9L1394.8 1065.8L1416.2 1064.9L1437.7 1049.1L1459.1 1057L1480.5 1051.8L1502 1050.9L1523.5 1064.9L1544.9 1065.8L1566.3 1070.2L1587.8 1054.8L1609.2 1072.4L1630.7 1057L1652.2 1066.7L1673.6 1051.8L1695 1066.7L1716.5 1039.5" stroke="#e98a8a" stroke-width="2.4" fill="none" stroke-linejoin="round"/>
<path d="M1758.9 1063.6L1780.3 1063.6L1801.6 1043L1823 1062.7L1844.3 1075.4L1865.7 1076.8" stroke="#e98a8a" stroke-width="2.4" fill="none" stroke-linejoin="round"/>
<path d="M194.7 1035l5 9.5h-10zM216.1 1028.8l5 9.5h-10zM237.5 1022.5l5 9.5h-10zM259 1028.1l5 9.5h-10zM280.4 1054.5l5 9.5h-10zM301.8 1049.1l5 9.5h-10zM323.2 1045.1l5 9.5h-10zM344.6 1053.8l5 9.5h-10zM366.1 1060.7l5 9.5h-10zM387.5 1046.9l5 9.5h-10zM408.9 1055.4l5 9.5h-10zM430.3 1038.2l5 9.5h-10zM451.7 1043.8l5 9.5h-10zM473.2 1044.4l5 9.5h-10zM494.6 1069.5l5 9.5h-10zM516 1026.3l5 9.5h-10zM537.4 1080.5l5 9.5h-10zM580.3 1048.2l5 9.5h-10zM601.7 1052.9l5 9.5h-10zM623.1 1043.5l5 9.5h-10zM644.5 1072.6l5 9.5h-10zM665.9 1059.2l5 9.5h-10zM708.8 1053.8l5 9.5h-10zM730.2 1048.2l5 9.5h-10zM773 1026.3l5 9.5h-10zM794.5 1056.3l5 9.5h-10zM815.9 1052.9l5 9.5h-10zM837.3 1057l5 9.5h-10zM858.7 1037.5l5 9.5h-10zM880.1 1063.8l5 9.5h-10zM901.6 1056.3l5 9.5h-10zM923 1065.7l5 9.5h-10zM944.4 1063.8l5 9.5h-10zM965.8 1046.6l5 9.5h-10zM987.2 1046l5 9.5h-10zM1008.7 1057l5 9.5h-10zM1030.1 1047.6l5 9.5h-10zM1051.5 1039.7l5 9.5h-10zM1072.9 1061l5 9.5h-10zM1094.3 1050.1l5 9.5h-10zM1115.8 1067l5 9.5h-10zM1137.2 1050.7l5 9.5h-10zM1158.6 1042.9l5 9.5h-10z" fill="#f6c4c4" stroke="#111" stroke-width="1.4"/>
<path d="M194.7 1030.3l5 9.5h-10zM216.1 1042.9l5 9.5h-10zM237.5 1034.4l5 9.5h-10zM259 1044.4l5 9.5h-10zM280.4 1063.8l5 9.5h-10zM301.8 1048.2l5 9.5h-10zM323.2 1048.2l5 9.5h-10zM344.6 1048.2l5 9.5h-10zM366.1 1054.8l5 9.5h-10zM387.5 1046.9l5 9.5h-10zM408.9 1055.4l5 9.5h-10zM430.3 1049.8l5 9.5h-10zM451.7 1049.1l5 9.5h-10zM473.2 1044.4l5 9.5h-10zM494.6 1064.8l5 9.5h-10zM516 1026.3l5 9.5h-10zM537.4 1041.9l5 9.5h-10zM558.8 1042.9l5 9.5h-10zM580.3 1041.3l5 9.5h-10zM601.7 1052.9l5 9.5h-10zM623.1 1052.3l5 9.5h-10zM644.5 1050.7l5 9.5h-10zM665.9 1052.9l5 9.5h-10zM708.8 1052.6l5 9.5h-10zM730.2 1053.2l5 9.5h-10zM751.6 1046.6l5 9.5h-10zM773 1051.3l5 9.5h-10zM794.5 1067.9l5 9.5h-10zM815.9 1052.3l5 9.5h-10zM837.3 1058.5l5 9.5h-10zM858.7 1037.5l5 9.5h-10zM880.1 1056.3l5 9.5h-10zM901.6 1058.5l5 9.5h-10zM923 1052.3l5 9.5h-10zM944.4 1056l5 9.5h-10zM965.8 1036.6l5 9.5h-10zM987.2 1053.8l5 9.5h-10zM1008.7 1059.1l5 9.5h-10zM1030.1 1041.3l5 9.5h-10zM1051.5 1034.4l5 9.5h-10zM1072.9 1053.8l5 9.5h-10zM1094.3 1050.1l5 9.5h-10zM1115.8 1062.6l5 9.5h-10zM1137.2 1055.7l5 9.5h-10zM1158.6 1048.2l5 9.5h-10z" fill="#d4d4d4" stroke="#111" stroke-width="1.4"/>
<path d="M1201.7 1061l5 9.5h-10zM1223.2 1059.2l5 9.5h-10zM1244.6 1054.4l5 9.5h-10zM1266 1059.2l5 9.5h-10zM1287.5 1060.3l5 9.5h-10zM1309 1042.5l5 9.5h-10zM1330.4 1059.2l5 9.5h-10zM1351.9 1048.2l5 9.5h-10zM1373.3 1048.2l5 9.5h-10zM1394.8 1060.1l5 9.5h-10zM1416.2 1059.2l5 9.5h-10zM1437.7 1043.4l5 9.5h-10zM1459.1 1051.3l5 9.5h-10zM1480.5 1046.1l5 9.5h-10zM1502 1045.2l5 9.5h-10zM1523.5 1059.2l5 9.5h-10zM1544.9 1060.1l5 9.5h-10zM1566.3 1064.5l5 9.5h-10zM1587.8 1049.1l5 9.5h-10zM1609.2 1066.7l5 9.5h-10zM1630.7 1051.3l5 9.5h-10zM1652.2 1061l5 9.5h-10zM1673.6 1046.1l5 9.5h-10zM1695 1061l5 9.5h-10zM1716.5 1033.8l5 9.5h-10z" fill="#f6c4c4" stroke="#111" stroke-width="1.4"/>
<path d="M1201.7 1055.7l5 9.5h-10zM1223.2 1057.9l5 9.5h-10zM1244.6 1051.3l5 9.5h-10zM1266 1052.6l5 9.5h-10zM1287.5 1061l5 9.5h-10zM1309 1053.5l5 9.5h-10zM1330.4 1051.3l5 9.5h-10zM1351.9 1052.2l5 9.5h-10zM1373.3 1056.6l5 9.5h-10zM1394.8 1054.8l5 9.5h-10zM1416.2 1052.2l5 9.5h-10zM1437.7 1050.4l5 9.5h-10zM1459.1 1051.3l5 9.5h-10zM1480.5 1050.4l5 9.5h-10zM1502 1057.9l5 9.5h-10zM1523.5 1054.8l5 9.5h-10zM1544.9 1052.2l5 9.5h-10zM1566.3 1051.3l5 9.5h-10zM1587.8 1055.7l5 9.5h-10zM1609.2 1054.8l5 9.5h-10zM1630.7 1055.7l5 9.5h-10zM1652.2 1053.5l5 9.5h-10zM1673.6 1046.1l5 9.5h-10zM1695 1052.2l5 9.5h-10zM1716.5 1052.2l5 9.5h-10z" fill="#d4d4d4" stroke="#111" stroke-width="1.4"/>
<path d="M1758.9 1057.9l5 9.5h-10zM1780.3 1057.9l5 9.5h-10zM1801.6 1037.3l5 9.5h-10zM1823 1057l5 9.5h-10zM1844.3 1069.7l5 9.5h-10zM1865.7 1071.1l5 9.5h-10z" fill="#f6c4c4" stroke="#111" stroke-width="1.4"/>
<path d="M1758.9 1049.1l5 9.5h-10zM1780.3 1046.1l5 9.5h-10zM1801.6 1057.9l5 9.5h-10zM1823 1051.3l5 9.5h-10zM1844.3 1051.3l5 9.5h-10zM1865.7 1056.6l5 9.5h-10z" fill="#d4d4d4" stroke="#111" stroke-width="1.4"/>
<path d="M207.2 1162.6h21.7v19.6h-21.7zM228.7 1162.6h21.7v19.6h-21.7zM293 1162.6h21.7v19.6h-21.7zM378.8 1162.6h21.7v19.6h-21.7zM443.1 1162.6h21.7v19.6h-21.7zM507.4 1162.6h21.7v19.6h-21.7zM528.8 1162.6h21.7v19.6h-21.7zM657.5 1162.6h21.7v19.6h-21.7zM700.4 1162.6h21.7v19.6h-21.7zM764.7 1162.6h21.7v19.6h-21.7zM850.4 1162.6h21.7v19.6h-21.7zM914.8 1162.6h21.7v19.6h-21.7zM957.6 1162.6h21.7v19.6h-21.7z" fill="rgb(255,236,236)"/>
<path d="M314.4 1162.6h21.7v19.6h-21.7zM400.2 1162.6h21.7v19.6h-21.7zM421.6 1162.6h21.7v19.6h-21.7zM786.1 1162.6h21.7v19.6h-21.7zM1086.3 1162.6h21.7v19.6h-21.7z" fill="rgb(255,212,212)"/>
<path d="M250.1 1162.6h21.7v19.6h-21.7zM571.7 1162.6h21.7v19.6h-21.7zM636 1162.6h21.7v19.6h-21.7zM893.3 1162.6h21.7v19.6h-21.7zM979.1 1162.6h21.7v19.6h-21.7zM1000.5 1162.6h21.7v19.6h-21.7zM1150.6 1162.6h21.7v19.6h-21.7z" fill="rgb(255,182,182)"/>
<path d="M271.6 1162.6h21.7v19.6h-21.7zM335.9 1162.6h21.7v19.6h-21.7zM357.3 1162.6h21.7v19.6h-21.7zM464.5 1162.6h21.7v19.6h-21.7zM829 1162.6h21.7v19.6h-21.7zM1129.2 1162.6h21.7v19.6h-21.7z" fill="rgb(255,148,148)"/>
<path d="M614.6 1162.6h21.7v19.6h-21.7zM936.2 1162.6h21.7v19.6h-21.7zM1022 1162.6h21.7v19.6h-21.7zM1064.8 1162.6h21.7v19.6h-21.7zM1107.7 1162.6h21.7v19.6h-21.7z" fill="rgb(255,120,120)"/>
<path d="M593.2 1162.6h21.7v19.6h-21.7z" fill="rgb(255,94,94)"/>
<path d="M185.8 1162.6h21.7v19.6h-21.7zM486 1162.6h21.7v19.6h-21.7z" fill="rgb(255,64,64)"/>
<path d="M550.3 1162.6h21.7v19.6h-21.7z" fill="rgb(255,32,32)"/>
<path d="M721.8 1162.6h21.7v19.6h-21.7zM807.6 1162.6h21.7v19.6h-21.7zM871.9 1162.6h21.7v19.6h-21.7zM1043.4 1162.6h21.7v19.6h-21.7z" fill="rgb(255,0,0)"/>
<path d="M207.2 1143.3V1181.9M228.7 1143.3V1181.9M250.1 1143.3V1181.9M271.6 1143.3V1181.9M293 1143.3V1181.9M314.4 1143.3V1181.9M335.9 1143.3V1181.9M357.3 1143.3V1181.9M378.8 1143.3V1181.9M400.2 1143.3V1181.9M421.6 1143.3V1181.9M443.1 1143.3V1181.9M464.5 1143.3V1181.9M486 1143.3V1181.9M507.4 1143.3V1181.9M528.8 1143.3V1181.9M550.3 1143.3V1181.9M571.7 1143.3V1181.9M593.2 1143.3V1181.9M614.6 1143.3V1181.9M636 1143.3V1181.9M657.5 1143.3V1181.9M678.9 1143.3V1181.9M700.4 1143.3V1181.9M721.8 1143.3V1181.9M743.2 1143.3V1181.9M764.7 1143.3V1181.9M786.1 1143.3V1181.9M807.6 1143.3V1181.9M829 1143.3V1181.9M850.4 1143.3V1181.9M871.9 1143.3V1181.9M893.3 1143.3V1181.9M914.8 1143.3V1181.9M936.2 1143.3V1181.9M957.6 1143.3V1181.9M979.1 1143.3V1181.9M1000.5 1143.3V1181.9M1022 1143.3V1181.9M1043.4 1143.3V1181.9M1064.8 1143.3V1181.9M1086.3 1143.3V1181.9M1107.7 1143.3V1181.9M1129.2 1143.3V1181.9M1150.6 1143.3V1181.9" stroke="#222" stroke-width="1.1" fill="none"/>
<path d="M185.8 1162.6H1172" stroke="#000" stroke-width="3" fill="none"/>
<rect x="185.8" y="1143.3" width="986.2" height="38.6" fill="none" stroke="#000" stroke-width="3"/>
<path d="M1277.9 1162.6h21.7v19.6h-21.7zM1363.6 1162.6h21.7v19.6h-21.7zM1427.8 1162.6h21.7v19.6h-21.7zM1556.3 1162.6h21.7v19.6h-21.7zM1663.4 1162.6h21.7v19.6h-21.7z" fill="rgb(255,236,236)"/>
<path d="M1192.2 1162.6h21.7v19.6h-21.7zM1299.3 1162.6h21.7v19.6h-21.7zM1620.6 1162.6h21.7v19.6h-21.7zM1642 1162.6h21.7v19.6h-21.7zM1706.3 1162.6h21.7v19.6h-21.7z" fill="rgb(255,212,212)"/>
<path d="M1256.5 1162.6h21.7v19.6h-21.7zM1385 1162.6h21.7v19.6h-21.7zM1470.7 1162.6h21.7v19.6h-21.7zM1492.1 1162.6h21.7v19.6h-21.7zM1513.5 1162.6h21.7v19.6h-21.7zM1577.8 1162.6h21.7v19.6h-21.7z" fill="rgb(255,182,182)"/>
<path d="M1213.6 1162.6h21.7v19.6h-21.7zM1320.7 1162.6h21.7v19.6h-21.7zM1449.2 1162.6h21.7v19.6h-21.7zM1684.9 1162.6h21.7v19.6h-21.7z" fill="rgb(255,148,148)"/>
<path d="M1235 1162.6h21.7v19.6h-21.7zM1534.9 1162.6h21.7v19.6h-21.7z" fill="rgb(255,120,120)"/>
<path d="M1599.2 1162.6h21.7v19.6h-21.7z" fill="rgb(255,94,94)"/>
<path d="M1342.1 1162.6h21.7v19.6h-21.7zM1406.4 1162.6h21.7v19.6h-21.7z" fill="rgb(255,64,64)"/>
<path d="M1213.6 1143.3V1181.9M1235 1143.3V1181.9M1256.5 1143.3V1181.9M1277.9 1143.3V1181.9M1299.3 1143.3V1181.9M1320.7 1143.3V1181.9M1342.1 1143.3V1181.9M1363.6 1143.3V1181.9M1385 1143.3V1181.9M1406.4 1143.3V1181.9M1427.8 1143.3V1181.9M1449.2 1143.3V1181.9M1470.7 1143.3V1181.9M1492.1 1143.3V1181.9M1513.5 1143.3V1181.9M1534.9 1143.3V1181.9M1556.3 1143.3V1181.9M1577.8 1143.3V1181.9M1599.2 1143.3V1181.9M1620.6 1143.3V1181.9M1642 1143.3V1181.9M1663.4 1143.3V1181.9M1684.9 1143.3V1181.9M1706.3 1143.3V1181.9" stroke="#222" stroke-width="1.1" fill="none"/>
<path d="M1192.2 1162.6H1727.7" stroke="#000" stroke-width="3" fill="none"/>
<rect x="1192.2" y="1143.3" width="535.5" height="38.6" fill="none" stroke="#000" stroke-width="3"/>
<path d="M1747.6 1162.6h21.6v19.6h-21.6z" fill="rgb(255,236,236)"/>
<path d="M1768.8 1162.6h21.6v19.6h-21.6z" fill="rgb(255,212,212)"/>
<path d="M1790.1 1162.6h21.6v19.6h-21.6z" fill="rgb(255,182,182)"/>
<path d="M1832.6 1162.6h21.6v19.6h-21.6zM1853.8 1162.6h21.6v19.6h-21.6z" fill="rgb(255,94,94)"/>
<path d="M1811.3 1162.6h21.6v19.6h-21.6z" fill="rgb(255,0,0)"/>
<path d="M1768.8 1143.3V1181.9M1790.1 1143.3V1181.9M1811.3 1143.3V1181.9M1832.6 1143.3V1181.9M1853.8 1143.3V1181.9" stroke="#222" stroke-width="1.1" fill="none"/>
<path d="M1747.6 1162.6H1875.1" stroke="#000" stroke-width="3" fill="none"/>
<rect x="1747.6" y="1143.3" width="127.5" height="38.6" fill="none" stroke="#000" stroke-width="3"/>
<text x="180" y="1161.5" font-size="20.5" text-anchor="end" fill="#8a8a8a">C13</text>
<text x="180" y="1181.5" font-size="20.5" text-anchor="end" fill="#ee8a8a">P1</text>
<path d="M179.5 1219.8V1317" stroke="#000" stroke-width="4.4" fill="none"/>
<path d="M179.5 1220.8H173M179.5 1252.5H173M179.5 1284.3H173M179.5 1316H173" stroke="#000" stroke-width="2.2" fill="none"/>
<path d="M179.5 1243H176.2M179.5 1237.4H176.2M179.5 1233.4H176.2M179.5 1230.4H176.2M179.5 1227.8H176.2M179.5 1225.7H176.2M179.5 1223.9H176.2M179.5 1222.3H176.2M179.5 1274.7H176.2M179.5 1269.1H176.2M179.5 1265.2H176.2M179.5 1262.1H176.2M179.5 1259.6H176.2M179.5 1257.4H176.2M179.5 1255.6H176.2M179.5 1254H176.2M179.5 1306.4H176.2M179.5 1300.9H176.2M179.5 1296.9H176.2M179.5 1293.8H176.2M179.5 1291.3H176.2M179.5 1289.2H176.2M179.5 1287.3H176.2M179.5 1285.7H176.2" stroke="#000" stroke-width="1.5" fill="none"/>
<text x="165.6" y="1229.4" font-size="26.4" text-anchor="end" fill="#000">100</text>
<text x="165.6" y="1261.1" font-size="26.4" text-anchor="end" fill="#000">10</text>
<text x="165.6" y="1292.9" font-size="26.4" text-anchor="end" fill="#000">1</text>
<text x="165.6" y="1324.6" font-size="26.4" text-anchor="end" fill="#000">0.1</text>
<path d="M194.7 1284H1158.6" stroke="#000" stroke-width="2.6" fill="none"/>
<path d="M194.7 1284h0M216.1 1284h0M237.5 1284h0M259 1284h0M280.4 1284h0M301.8 1284h0M323.2 1284h0M344.6 1284h0M366.1 1284h0M387.5 1284h0M408.9 1284h0M430.3 1284h0M451.7 1284h0M473.2 1284h0M494.6 1284h0M516 1284h0M537.4 1284h0M558.8 1284h0M580.3 1284h0M601.7 1284h0M623.1 1284h0M644.5 1284h0M665.9 1284h0M687.4 1284h0M708.8 1284h0M730.2 1284h0M751.6 1284h0M773 1284h0M794.5 1284h0M815.9 1284h0M837.3 1284h0M858.7 1284h0M880.1 1284h0M901.6 1284h0M923 1284h0M944.4 1284h0M965.8 1284h0M987.2 1284h0M1008.7 1284h0M1030.1 1284h0M1051.5 1284h0M1072.9 1284h0M1094.3 1284h0M1115.8 1284h0M1137.2 1284h0M1158.6 1284h0" stroke="#000" stroke-width="4.8" stroke-linecap="round" fill="none"/>
<path d="M1201.7 1284H1716.5" stroke="#000" stroke-width="2.6" fill="none"/>
<path d="M1201.7 1284h0M1223.2 1284h0M1244.6 1284h0M1266 1284h0M1287.5 1284h0M1309 1284h0M1330.4 1284h0M1351.9 1284h0M1373.3 1284h0M1394.8 1284h0M1416.2 1284h0M1437.7 1284h0M1459.1 1284h0M1480.5 1284h0M1502 1284h0M1523.5 1284h0M1544.9 1284h0M1566.3 1284h0M1587.8 1284h0M1609.2 1284h0M1630.7 1284h0M1652.2 1284h0M1673.6 1284h0M1695 1284h0M1716.5 1284h0" stroke="#000" stroke-width="4.8" stroke-linecap="round" fill="none"/>
<path d="M1758.9 1284H1865.7" stroke="#000" stroke-width="2.6" fill="none"/>
<path d="M1758.9 1284h0M1780.3 1284h0M1801.6 1284h0M1823 1284h0M1844.3 1284h0M1865.7 1284h0" stroke="#000" stroke-width="4.8" stroke-linecap="round" fill="none"/>
<path d="M194.7 1263.6L216.1 1268.9L237.5 1251L259 1287.7L280.4 1303.3L301.8 1274.5L323.2 1272L344.6 1280.8L366.1 1280.8L387.5 1297.1L408.9 1278.6L430.3 1280.8L451.7 1283.3L473.2 1279.2L494.6 1290.2L516 1287.7L537.4 1286.4L558.8 1277.7L580.3 1271.4L601.7 1285.5L623.1 1286.4L644.5 1283.3L665.9 1281.4L687.4 1290.2L708.8 1289.6L730.2 1286.4L751.6 1275.2L773 1286.4L794.5 1306.5L815.9 1278.3L837.3 1279.9L858.7 1277.7L880.1 1287L901.6 1277L923 1290.8L944.4 1284.5L965.8 1291.8L987.2 1283.9L1008.7 1290.2L1030.1 1268.3L1051.5 1281.7L1072.9 1315.3L1094.3 1277.7L1115.8 1282.4L1137.2 1291.1L1158.6 1282.4" stroke="#9a9a9a" stroke-width="2.4" fill="none" stroke-linejoin="round"/>
<path d="M1201.7 1276.4L1223.2 1283.9L1244.6 1285.2L1266 1284.3L1287.5 1284.3L1309 1280.8L1330.4 1289.6L1351.9 1283.9L1373.3 1281.7L1394.8 1280.8L1416.2 1284.3L1437.7 1282.1L1459.1 1283L1480.5 1283L1502 1286.5L1523.5 1286.5L1544.9 1283L1566.3 1287.4L1587.8 1282.1L1609.2 1286L1630.7 1281.7L1652.2 1281.7L1673.6 1282.1L1695 1285.2L1716.5 1279.9" stroke="#9a9a9a" stroke-width="2.4" fill="none" stroke-linejoin="round"/>
<path d="M1758.9 1276.4L1780.3 1279.9L1801.6 1285.2L1823 1281.7L1844.3 1285.2L1865.7 1290.4" stroke="#9a9a9a" stroke-width="2.4" fill="none" stroke-linejoin="round"/>
<path d="M194.7 1266.7L216.1 1287L237.5 1273.6L259 1302.1L280.4 1312.1L301.8 1262.9L323.2 1266.7L344.6 1287L366.1 1280.8L387.5 1304.3L408.9 1282.4L430.3 1281.4L451.7 1303.3L473.2 1287.7L494.6 1294.9L516 1315.3L537.4 1274.5L558.8 1289.2L580.3 1315.3L601.7 1285.5L623.1 1285.5L644.5 1289.6L665.9 1287L687.4 1283.9L708.8 1301.2L730.2 1277.7L751.6 1315.3L773 1290.2L794.5 1315.3L815.9 1281.7L837.3 1287.7L858.7 1277.7L880.1 1294L901.6 1294.9L923 1298L944.4 1284.5L965.8 1267.3L987.2 1283.9L1008.7 1295.8L1030.1 1275.2L1051.5 1291.1L1072.9 1269.8L1094.3 1288.6L1115.8 1291.8L1137.2 1262.9L1158.6 1277.7" stroke="#e98a8a" stroke-width="2.4" fill="none" stroke-linejoin="round"/>
<path d="M1201.7 1279.9L1223.2 1287.4L1244.6 1289.6L1266 1291.8L1287.5 1301.8L1309 1287.4L1330.4 1297L1351.9 1283.9L1373.3 1283L1394.8 1297L1416.2 1272L1437.7 1279.5L1459.1 1288.7L1480.5 1288.7L1502 1291.8L1523.5 1298.3L1544.9 1269.8L1566.3 1284.3L1587.8 1287.4L1609.2 1292.6L1630.7 1290.4L1652.2 1296.1L1673.6 1282.1L1695 1295.3L1716.5 1266.8" stroke="#e98a8a" stroke-width="2.4" fill="none" stroke-linejoin="round"/>
<path d="M1758.9 1274.2L1780.3 1269L1801.6 1276.4L1823 1280.8L1844.3 1298.3L1865.7 1309.3" stroke="#e98a8a" stroke-width="2.4" fill="none" stroke-linejoin="round"/>
<path d="M194.7 1263.6V1257.9m-5 0h10M194.7 1263.6V1269.3m-5 0h10M580.3 1271.4V1264m-5 0h10M580.3 1271.4V1278.8m-5 0h10M644.5 1283.3V1278.6m-5 0h10M644.5 1283.3V1288m-5 0h10M687.4 1290.2V1284.8m-5 0h10M687.4 1290.2V1295.6m-5 0h10M708.8 1289.6V1281.6m-5 0h10M708.8 1289.6V1297.6m-5 0h10M773 1286.4V1278.1m-5 0h10M773 1286.4V1294.7m-5 0h10M815.9 1278.3V1269m-5 0h10M815.9 1278.3V1287.6m-5 0h10M858.7 1277.7V1268m-5 0h10M858.7 1277.7V1287.4m-5 0h10M880.1 1287V1280.1m-5 0h10M880.1 1287V1293.9m-5 0h10M944.4 1284.5V1277.9m-5 0h10M944.4 1284.5V1291.1m-5 0h10M987.2 1283.9V1278.7m-5 0h10M987.2 1283.9V1289.1m-5 0h10M1008.7 1290.2V1281.9m-5 0h10M1008.7 1290.2V1298.5m-5 0h10M1030.1 1268.3V1261m-5 0h10M1030.1 1268.3V1275.6m-5 0h10M1072.9 1315.3V1309.3m-5 0h10M1072.9 1315.3V1321.3m-5 0h10M1137.2 1291.1V1281.2m-5 0h10M1137.2 1291.1V1301m-5 0h10" stroke="#111" stroke-width="1.6" fill="none"/>
<g fill="#999999" stroke="#111" stroke-width="1.4"><circle cx="194.7" cy="1263.6" r="5.3"/><circle cx="216.1" cy="1268.9" r="5.3"/><circle cx="237.5" cy="1251" r="5.3"/><circle cx="259" cy="1287.7" r="5.3"/><circle cx="280.4" cy="1303.3" r="5.3"/><circle cx="301.8" cy="1274.5" r="5.3"/><circle cx="323.2" cy="1272" r="5.3"/><circle cx="344.6" cy="1280.8" r="5.3"/><circle cx="366.1" cy="1280.8" r="5.3"/><circle cx="387.5" cy="1297.1" r="5.3"/><circle cx="408.9" cy="1278.6" r="5.3"/><circle cx="430.3" cy="1280.8" r="5.3"/><circle cx="451.7" cy="1283.3" r="5.3"/><circle cx="473.2" cy="1279.2" r="5.3"/><circle cx="494.6" cy="1290.2" r="5.3"/><circle cx="516" cy="1287.7" r="5.3"/><circle cx="537.4" cy="1286.4" r="5.3"/><circle cx="558.8" cy="1277.7" r="5.3"/><circle cx="580.3" cy="1271.4" r="5.3"/><circle cx="601.7" cy="1285.5" r="5.3"/><circle cx="623.1" cy="1286.4" r="5.3"/><circle cx="644.5" cy="1283.3" r="5.3"/><circle cx="665.9" cy="1281.4" r="5.3"/><circle cx="687.4" cy="1290.2" r="5.3"/><circle cx="708.8" cy="1289.6" r="5.3"/><circle cx="730.2" cy="1286.4" r="5.3"/><circle cx="751.6" cy="1275.2" r="5.3"/><circle cx="773" cy="1286.4" r="5.3"/><circle cx="794.5" cy="1306.5" r="5.3"/><circle cx="815.9" cy="1278.3" r="5.3"/><circle cx="837.3" cy="1279.9" r="5.3"/><circle cx="858.7" cy="1277.7" r="5.3"/><circle cx="880.1" cy="1287" r="5.3"/><circle cx="901.6" cy="1277" r="5.3"/><circle cx="923" cy="1290.8" r="5.3"/><circle cx="944.4" cy="1284.5" r="5.3"/><circle cx="965.8" cy="1291.8" r="5.3"/><circle cx="987.2" cy="1283.9" r="5.3"/><circle cx="1008.7" cy="1290.2" r="5.3"/><circle cx="1030.1" cy="1268.3" r="5.3"/><circle cx="1051.5" cy="1281.7" r="5.3"/><circle cx="1072.9" cy="1315.3" r="5.3"/><circle cx="1094.3" cy="1277.7" r="5.3"/><circle cx="1115.8" cy="1282.4" r="5.3"/><circle cx="1137.2" cy="1291.1" r="5.3"/><circle cx="1158.6" cy="1282.4" r="5.3"/></g>
<g fill="#f08888" stroke="#111" stroke-width="1.4"><circle cx="194.7" cy="1266.7" r="5.3"/><circle cx="216.1" cy="1287" r="5.3"/><circle cx="237.5" cy="1273.6" r="5.3"/><circle cx="259" cy="1302.1" r="5.3"/><circle cx="280.4" cy="1312.1" r="5.3"/><circle cx="301.8" cy="1262.9" r="5.3"/><circle cx="323.2" cy="1266.7" r="5.3"/><circle cx="344.6" cy="1287" r="5.3"/><circle cx="366.1" cy="1280.8" r="5.3"/><circle cx="387.5" cy="1304.3" r="5.3"/><circle cx="408.9" cy="1282.4" r="5.3"/><circle cx="430.3" cy="1281.4" r="5.3"/><circle cx="451.7" cy="1303.3" r="5.3"/><circle cx="473.2" cy="1287.7" r="5.3"/><circle cx="494.6" cy="1294.9" r="5.3"/><circle cx="516" cy="1315.3" r="5.3"/><circle cx="537.4" cy="1274.5" r="5.3"/><circle cx="558.8" cy="1289.2" r="5.3"/><circle cx="580.3" cy="1315.3" r="5.3"/><circle cx="601.7" cy="1285.5" r="5.3"/><circle cx="623.1" cy="1285.5" r="5.3"/><circle cx="644.5" cy="1289.6" r="5.3"/><circle cx="665.9" cy="1287" r="5.3"/><circle cx="687.4" cy="1283.9" r="5.3"/><circle cx="708.8" cy="1301.2" r="5.3"/><circle cx="730.2" cy="1277.7" r="5.3"/><circle cx="751.6" cy="1315.3" r="5.3"/><circle cx="773" cy="1290.2" r="5.3"/><circle cx="794.5" cy="1315.3" r="5.3"/><circle cx="815.9" cy="1281.7" r="5.3"/><circle cx="837.3" cy="1287.7" r="5.3"/><circle cx="858.7" cy="1277.7" r="5.3"/><circle cx="880.1" cy="1294" r="5.3"/><circle cx="901.6" cy="1294.9" r="5.3"/><circle cx="923" cy="1298" r="5.3"/><circle cx="944.4" cy="1284.5" r="5.3"/><circle cx="965.8" cy="1267.3" r="5.3"/><circle cx="987.2" cy="1283.9" r="5.3"/><circle cx="1008.7" cy="1295.8" r="5.3"/><circle cx="1030.1" cy="1275.2" r="5.3"/><circle cx="1051.5" cy="1291.1" r="5.3"/><circle cx="1072.9" cy="1269.8" r="5.3"/><circle cx="1094.3" cy="1288.6" r="5.3"/><circle cx="1115.8" cy="1291.8" r="5.3"/><circle cx="1137.2" cy="1262.9" r="5.3"/><circle cx="1158.6" cy="1277.7" r="5.3"/></g>
<g fill="#999999" stroke="#111" stroke-width="1.4"><circle cx="1201.7" cy="1276.4" r="5.3"/><circle cx="1223.2" cy="1283.9" r="5.3"/><circle cx="1244.6" cy="1285.2" r="5.3"/><circle cx="1266" cy="1284.3" r="5.3"/><circle cx="1287.5" cy="1284.3" r="5.3"/><circle cx="1309" cy="1280.8" r="5.3"/><circle cx="1330.4" cy="1289.6" r="5.3"/><circle cx="1351.9" cy="1283.9" r="5.3"/><circle cx="1373.3" cy="1281.7" r="5.3"/><circle cx="1394.8" cy="1280.8" r="5.3"/><circle cx="1416.2" cy="1284.3" r="5.3"/><circle cx="1437.7" cy="1282.1" r="5.3"/><circle cx="1459.1" cy="1283" r="5.3"/><circle cx="1480.5" cy="1283" r="5.3"/><circle cx="1502" cy="1286.5" r="5.3"/><circle cx="1523.5" cy="1286.5" r="5.3"/><circle cx="1544.9" cy="1283" r="5.3"/><circle cx="1566.3" cy="1287.4" r="5.3"/><circle cx="1587.8" cy="1282.1" r="5.3"/><circle cx="1609.2" cy="1286" r="5.3"/><circle cx="1630.7" cy="1281.7" r="5.3"/><circle cx="1652.2" cy="1281.7" r="5.3"/><circle cx="1673.6" cy="1282.1" r="5.3"/><circle cx="1695" cy="1285.2" r="5.3"/><circle cx="1716.5" cy="1279.9" r="5.3"/></g>
<g fill="#f08888" stroke="#111" stroke-width="1.4"><circle cx="1201.7" cy="1279.9" r="5.3"/><circle cx="1223.2" cy="1287.4" r="5.3"/><circle cx="1244.6" cy="1289.6" r="5.3"/><circle cx="1266" cy="1291.8" r="5.3"/><circle cx="1287.5" cy="1301.8" r="5.3"/><circle cx="1309" cy="1287.4" r="5.3"/><circle cx="1330.4" cy="1297" r="5.3"/><circle cx="1351.9" cy="1283.9" r="5.3"/><circle cx="1373.3" cy="1283" r="5.3"/><circle cx="1394.8" cy="1297" r="5.3"/><circle cx="1416.2" cy="1272" r="5.3"/><circle cx="1437.7" cy="1279.5" r="5.3"/><circle cx="1459.1" cy="1288.7" r="5.3"/><circle cx="1480.5" cy="1288.7" r="5.3"/><circle cx="1502" cy="1291.8" r="5.3"/><circle cx="1523.5" cy="1298.3" r="5.3"/><circle cx="1544.9" cy="1269.8" r="5.3"/><circle cx="1566.3" cy="1284.3" r="5.3"/><circle cx="1587.8" cy="1287.4" r="5.3"/><circle cx="1609.2" cy="1292.6" r="5.3"/><circle cx="1630.7" cy="1290.4" r="5.3"/><circle cx="1652.2" cy="1296.1" r="5.3"/><circle cx="1673.6" cy="1282.1" r="5.3"/><circle cx="1695" cy="1295.3" r="5.3"/><circle cx="1716.5" cy="1266.8" r="5.3"/></g>
<g fill="#999999" stroke="#111" stroke-width="1.4"><circle cx="1758.9" cy="1276.4" r="5.3"/><circle cx="1780.3" cy="1279.9" r="5.3"/><circle cx="1801.6" cy="1285.2" r="5.3"/><circle cx="1823" cy="1281.7" r="5.3"/><circle cx="1844.3" cy="1285.2" r="5.3"/><circle cx="1865.7" cy="1290.4" r="5.3"/></g>
<g fill="#f08888" stroke="#111" stroke-width="1.4"><circle cx="1758.9" cy="1274.2" r="5.3"/><circle cx="1780.3" cy="1269" r="5.3"/><circle cx="1801.6" cy="1276.4" r="5.3"/><circle cx="1823" cy="1280.8" r="5.3"/><circle cx="1844.3" cy="1298.3" r="5.3"/><circle cx="1865.7" cy="1309.3" r="5.3"/></g>
<path d="M207.2 1350.9h21.7v19.6h-21.7zM250.1 1350.9h21.7v19.6h-21.7zM378.8 1350.9h21.7v19.6h-21.7zM443.1 1350.9h21.7v19.6h-21.7zM528.8 1350.9h21.7v19.6h-21.7zM700.4 1350.9h21.7v19.6h-21.7zM764.7 1350.9h21.7v19.6h-21.7zM850.4 1350.9h21.7v19.6h-21.7zM914.8 1350.9h21.7v19.6h-21.7zM957.6 1350.9h21.7v19.6h-21.7zM1129.2 1350.9h21.7v19.6h-21.7zM207.2 1370.2h21.7v19.6h-21.7zM228.7 1370.2h21.7v19.6h-21.7zM314.4 1370.2h21.7v19.6h-21.7zM528.8 1370.2h21.7v19.6h-21.7zM678.9 1370.2h21.7v19.6h-21.7zM850.4 1370.2h21.7v19.6h-21.7zM914.8 1370.2h21.7v19.6h-21.7zM250.1 1389.4h21.7v19.6h-21.7zM314.4 1389.4h21.7v19.6h-21.7zM378.8 1389.4h21.7v19.6h-21.7zM421.6 1389.4h21.7v19.6h-21.7zM528.8 1389.4h21.7v19.6h-21.7zM700.4 1389.4h21.7v19.6h-21.7zM743.2 1389.4h21.7v19.6h-21.7zM764.7 1389.4h21.7v19.6h-21.7zM786.1 1389.4h21.7v19.6h-21.7zM850.4 1389.4h21.7v19.6h-21.7zM914.8 1389.4h21.7v19.6h-21.7zM207.2 1408.7h21.7v19.6h-21.7zM228.7 1408.7h21.7v19.6h-21.7zM378.8 1408.7h21.7v19.6h-21.7zM443.1 1408.7h21.7v19.6h-21.7zM528.8 1408.7h21.7v19.6h-21.7zM657.5 1408.7h21.7v19.6h-21.7zM700.4 1408.7h21.7v19.6h-21.7zM764.7 1408.7h21.7v19.6h-21.7zM786.1 1408.7h21.7v19.6h-21.7zM914.8 1408.7h21.7v19.6h-21.7zM957.6 1408.7h21.7v19.6h-21.7zM207.2 1427.9h21.7v19.6h-21.7zM228.7 1427.9h21.7v19.6h-21.7zM250.1 1427.9h21.7v19.6h-21.7zM314.4 1427.9h21.7v19.6h-21.7zM443.1 1427.9h21.7v19.6h-21.7zM764.7 1427.9h21.7v19.6h-21.7zM786.1 1427.9h21.7v19.6h-21.7zM850.4 1427.9h21.7v19.6h-21.7zM914.8 1427.9h21.7v19.6h-21.7zM207.2 1447.2h21.7v19.6h-21.7zM228.7 1447.2h21.7v19.6h-21.7zM250.1 1447.2h21.7v19.6h-21.7zM314.4 1447.2h21.7v19.6h-21.7zM528.8 1447.2h21.7v19.6h-21.7zM657.5 1447.2h21.7v19.6h-21.7zM700.4 1447.2h21.7v19.6h-21.7zM764.7 1447.2h21.7v19.6h-21.7zM786.1 1447.2h21.7v19.6h-21.7zM850.4 1447.2h21.7v19.6h-21.7zM914.8 1447.2h21.7v19.6h-21.7zM228.7 1466.5h21.7v19.6h-21.7zM250.1 1466.5h21.7v19.6h-21.7zM293 1466.5h21.7v19.6h-21.7zM314.4 1466.5h21.7v19.6h-21.7zM378.8 1466.5h21.7v19.6h-21.7zM443.1 1466.5h21.7v19.6h-21.7zM528.8 1466.5h21.7v19.6h-21.7zM657.5 1466.5h21.7v19.6h-21.7zM700.4 1466.5h21.7v19.6h-21.7zM850.4 1466.5h21.7v19.6h-21.7zM893.3 1466.5h21.7v19.6h-21.7zM914.8 1466.5h21.7v19.6h-21.7zM957.6 1466.5h21.7v19.6h-21.7zM657.5 1485.7h21.7v19.6h-21.7zM207.2 1505h21.7v19.6h-21.7zM228.7 1505h21.7v19.6h-21.7zM378.8 1505h21.7v19.6h-21.7zM400.2 1505h21.7v19.6h-21.7zM443.1 1505h21.7v19.6h-21.7zM700.4 1505h21.7v19.6h-21.7zM764.7 1505h21.7v19.6h-21.7zM786.1 1505h21.7v19.6h-21.7zM850.4 1505h21.7v19.6h-21.7zM957.6 1505h21.7v19.6h-21.7zM271.6 1524.2h21.7v19.6h-21.7zM293 1524.2h21.7v19.6h-21.7zM764.7 1524.2h21.7v19.6h-21.7zM893.3 1524.2h21.7v19.6h-21.7zM1000.5 1524.2h21.7v19.6h-21.7zM1064.8 1524.2h21.7v19.6h-21.7z" fill="rgb(255,236,236)"/>
<path d="M314.4 1350.9h21.7v19.6h-21.7zM421.6 1350.9h21.7v19.6h-21.7zM571.7 1350.9h21.7v19.6h-21.7zM1086.3 1350.9h21.7v19.6h-21.7zM335.9 1370.2h21.7v19.6h-21.7zM378.8 1370.2h21.7v19.6h-21.7zM400.2 1370.2h21.7v19.6h-21.7zM421.6 1370.2h21.7v19.6h-21.7zM443.1 1370.2h21.7v19.6h-21.7zM786.1 1370.2h21.7v19.6h-21.7zM893.3 1370.2h21.7v19.6h-21.7zM1107.7 1370.2h21.7v19.6h-21.7zM228.7 1389.4h21.7v19.6h-21.7zM293 1389.4h21.7v19.6h-21.7zM443.1 1389.4h21.7v19.6h-21.7zM571.7 1389.4h21.7v19.6h-21.7zM314.4 1408.7h21.7v19.6h-21.7zM421.6 1408.7h21.7v19.6h-21.7zM636 1408.7h21.7v19.6h-21.7zM1129.2 1408.7h21.7v19.6h-21.7zM293 1427.9h21.7v19.6h-21.7zM486 1427.9h21.7v19.6h-21.7zM1000.5 1427.9h21.7v19.6h-21.7zM636 1447.2h21.7v19.6h-21.7zM421.6 1466.5h21.7v19.6h-21.7zM550.3 1466.5h21.7v19.6h-21.7zM636 1466.5h21.7v19.6h-21.7zM250.1 1505h21.7v19.6h-21.7zM528.8 1505h21.7v19.6h-21.7zM893.3 1505h21.7v19.6h-21.7zM1107.7 1505h21.7v19.6h-21.7zM314.4 1524.2h21.7v19.6h-21.7zM464.5 1524.2h21.7v19.6h-21.7zM550.3 1524.2h21.7v19.6h-21.7zM636 1524.2h21.7v19.6h-21.7zM957.6 1524.2h21.7v19.6h-21.7z" fill="rgb(255,212,212)"/>
<path d="M400.2 1350.9h21.7v19.6h-21.7zM593.2 1350.9h21.7v19.6h-21.7zM657.5 1350.9h21.7v19.6h-21.7zM893.3 1350.9h21.7v19.6h-21.7zM936.2 1350.9h21.7v19.6h-21.7zM979.1 1350.9h21.7v19.6h-21.7zM1043.4 1350.9h21.7v19.6h-21.7zM1107.7 1350.9h21.7v19.6h-21.7zM250.1 1370.2h21.7v19.6h-21.7zM293 1370.2h21.7v19.6h-21.7zM593.2 1370.2h21.7v19.6h-21.7zM614.6 1370.2h21.7v19.6h-21.7zM636 1370.2h21.7v19.6h-21.7zM936.2 1370.2h21.7v19.6h-21.7zM1150.6 1370.2h21.7v19.6h-21.7zM185.8 1389.4h21.7v19.6h-21.7zM400.2 1389.4h21.7v19.6h-21.7zM636 1389.4h21.7v19.6h-21.7zM893.3 1389.4h21.7v19.6h-21.7zM1107.7 1389.4h21.7v19.6h-21.7zM250.1 1408.7h21.7v19.6h-21.7zM593.2 1408.7h21.7v19.6h-21.7zM678.9 1408.7h21.7v19.6h-21.7zM936.2 1408.7h21.7v19.6h-21.7zM1000.5 1408.7h21.7v19.6h-21.7zM1086.3 1408.7h21.7v19.6h-21.7zM1150.6 1408.7h21.7v19.6h-21.7zM185.8 1427.9h21.7v19.6h-21.7zM271.6 1427.9h21.7v19.6h-21.7zM400.2 1427.9h21.7v19.6h-21.7zM421.6 1427.9h21.7v19.6h-21.7zM464.5 1427.9h21.7v19.6h-21.7zM700.4 1427.9h21.7v19.6h-21.7zM893.3 1427.9h21.7v19.6h-21.7zM1086.3 1427.9h21.7v19.6h-21.7zM1107.7 1427.9h21.7v19.6h-21.7zM335.9 1447.2h21.7v19.6h-21.7zM400.2 1447.2h21.7v19.6h-21.7zM421.6 1447.2h21.7v19.6h-21.7zM593.2 1447.2h21.7v19.6h-21.7zM893.3 1447.2h21.7v19.6h-21.7zM1043.4 1447.2h21.7v19.6h-21.7zM1086.3 1447.2h21.7v19.6h-21.7zM1107.7 1447.2h21.7v19.6h-21.7zM271.6 1466.5h21.7v19.6h-21.7zM335.9 1466.5h21.7v19.6h-21.7zM400.2 1466.5h21.7v19.6h-21.7zM1000.5 1466.5h21.7v19.6h-21.7zM1043.4 1466.5h21.7v19.6h-21.7zM1086.3 1466.5h21.7v19.6h-21.7zM1107.7 1466.5h21.7v19.6h-21.7zM271.6 1485.7h21.7v19.6h-21.7zM807.6 1485.7h21.7v19.6h-21.7zM185.8 1505h21.7v19.6h-21.7zM271.6 1505h21.7v19.6h-21.7zM314.4 1505h21.7v19.6h-21.7zM335.9 1505h21.7v19.6h-21.7zM421.6 1505h21.7v19.6h-21.7zM464.5 1505h21.7v19.6h-21.7zM657.5 1505h21.7v19.6h-21.7zM936.2 1505h21.7v19.6h-21.7zM1000.5 1505h21.7v19.6h-21.7zM1086.3 1505h21.7v19.6h-21.7zM421.6 1524.2h21.7v19.6h-21.7zM936.2 1524.2h21.7v19.6h-21.7zM1043.4 1524.2h21.7v19.6h-21.7z" fill="rgb(255,182,182)"/>
<path d="M228.7 1350.9h21.7v19.6h-21.7zM335.9 1350.9h21.7v19.6h-21.7zM636 1350.9h21.7v19.6h-21.7zM871.9 1350.9h21.7v19.6h-21.7zM1000.5 1350.9h21.7v19.6h-21.7zM1150.6 1350.9h21.7v19.6h-21.7zM486 1370.2h21.7v19.6h-21.7zM571.7 1370.2h21.7v19.6h-21.7zM1043.4 1370.2h21.7v19.6h-21.7zM271.6 1389.4h21.7v19.6h-21.7zM464.5 1389.4h21.7v19.6h-21.7zM936.2 1389.4h21.7v19.6h-21.7zM1086.3 1389.4h21.7v19.6h-21.7zM1150.6 1389.4h21.7v19.6h-21.7zM271.6 1408.7h21.7v19.6h-21.7zM335.9 1408.7h21.7v19.6h-21.7zM400.2 1408.7h21.7v19.6h-21.7zM614.6 1408.7h21.7v19.6h-21.7zM829 1408.7h21.7v19.6h-21.7zM979.1 1408.7h21.7v19.6h-21.7zM335.9 1427.9h21.7v19.6h-21.7zM614.6 1427.9h21.7v19.6h-21.7zM657.5 1427.9h21.7v19.6h-21.7zM271.6 1447.2h21.7v19.6h-21.7zM614.6 1447.2h21.7v19.6h-21.7zM678.9 1447.2h21.7v19.6h-21.7zM829 1447.2h21.7v19.6h-21.7zM464.5 1466.5h21.7v19.6h-21.7zM486 1466.5h21.7v19.6h-21.7zM871.9 1466.5h21.7v19.6h-21.7zM293 1505h21.7v19.6h-21.7zM550.3 1505h21.7v19.6h-21.7zM636 1505h21.7v19.6h-21.7zM1022 1505h21.7v19.6h-21.7zM1043.4 1505h21.7v19.6h-21.7zM1129.2 1505h21.7v19.6h-21.7zM1150.6 1505h21.7v19.6h-21.7zM185.8 1524.2h21.7v19.6h-21.7zM335.9 1524.2h21.7v19.6h-21.7zM1150.6 1524.2h21.7v19.6h-21.7z" fill="rgb(255,148,148)"/>
<path d="M185.8 1350.9h21.7v19.6h-21.7zM185.8 1370.2h21.7v19.6h-21.7zM271.6 1370.2h21.7v19.6h-21.7zM464.5 1370.2h21.7v19.6h-21.7zM614.6 1389.4h21.7v19.6h-21.7zM829 1389.4h21.7v19.6h-21.7zM1043.4 1389.4h21.7v19.6h-21.7zM185.8 1408.7h21.7v19.6h-21.7zM1043.4 1408.7h21.7v19.6h-21.7zM636 1427.9h21.7v19.6h-21.7zM829 1427.9h21.7v19.6h-21.7zM936.2 1427.9h21.7v19.6h-21.7zM1129.2 1427.9h21.7v19.6h-21.7zM1150.6 1427.9h21.7v19.6h-21.7zM185.8 1447.2h21.7v19.6h-21.7zM464.5 1447.2h21.7v19.6h-21.7zM486 1447.2h21.7v19.6h-21.7zM550.3 1447.2h21.7v19.6h-21.7zM936.2 1447.2h21.7v19.6h-21.7zM1022 1447.2h21.7v19.6h-21.7zM1150.6 1447.2h21.7v19.6h-21.7zM185.8 1466.5h21.7v19.6h-21.7zM357.3 1466.5h21.7v19.6h-21.7zM829 1466.5h21.7v19.6h-21.7zM979.1 1466.5h21.7v19.6h-21.7zM357.3 1485.7h21.7v19.6h-21.7zM400.2 1524.2h21.7v19.6h-21.7zM593.2 1524.2h21.7v19.6h-21.7z" fill="rgb(255,120,120)"/>
<path d="M357.3 1350.9h21.7v19.6h-21.7zM486 1350.9h21.7v19.6h-21.7zM721.8 1350.9h21.7v19.6h-21.7zM829 1370.2h21.7v19.6h-21.7zM979.1 1370.2h21.7v19.6h-21.7zM1000.5 1370.2h21.7v19.6h-21.7zM1022 1370.2h21.7v19.6h-21.7zM1086.3 1370.2h21.7v19.6h-21.7zM1129.2 1370.2h21.7v19.6h-21.7zM335.9 1389.4h21.7v19.6h-21.7zM486 1389.4h21.7v19.6h-21.7zM1000.5 1389.4h21.7v19.6h-21.7zM464.5 1408.7h21.7v19.6h-21.7zM550.3 1408.7h21.7v19.6h-21.7zM893.3 1408.7h21.7v19.6h-21.7zM1107.7 1408.7h21.7v19.6h-21.7zM871.9 1427.9h21.7v19.6h-21.7zM979.1 1427.9h21.7v19.6h-21.7zM871.9 1447.2h21.7v19.6h-21.7zM1129.2 1447.2h21.7v19.6h-21.7zM1150.6 1466.5h21.7v19.6h-21.7zM721.8 1485.7h21.7v19.6h-21.7zM614.6 1505h21.7v19.6h-21.7zM871.9 1505h21.7v19.6h-21.7zM1022 1524.2h21.7v19.6h-21.7z" fill="rgb(255,94,94)"/>
<path d="M678.9 1350.9h21.7v19.6h-21.7zM593.2 1389.4h21.7v19.6h-21.7zM721.8 1389.4h21.7v19.6h-21.7zM1022 1389.4h21.7v19.6h-21.7zM1129.2 1389.4h21.7v19.6h-21.7zM486 1408.7h21.7v19.6h-21.7zM721.8 1408.7h21.7v19.6h-21.7zM550.3 1427.9h21.7v19.6h-21.7zM1022 1427.9h21.7v19.6h-21.7zM293 1447.2h21.7v19.6h-21.7zM1000.5 1447.2h21.7v19.6h-21.7zM593.2 1505h21.7v19.6h-21.7zM614.6 1524.2h21.7v19.6h-21.7z" fill="rgb(255,64,64)"/>
<path d="M271.6 1350.9h21.7v19.6h-21.7zM464.5 1350.9h21.7v19.6h-21.7zM614.6 1350.9h21.7v19.6h-21.7zM1022 1350.9h21.7v19.6h-21.7zM871.9 1389.4h21.7v19.6h-21.7zM871.9 1408.7h21.7v19.6h-21.7zM936.2 1466.5h21.7v19.6h-21.7zM1129.2 1466.5h21.7v19.6h-21.7zM979.1 1505h21.7v19.6h-21.7zM871.9 1524.2h21.7v19.6h-21.7zM979.1 1524.2h21.7v19.6h-21.7z" fill="rgb(255,32,32)"/>
<path d="M807.6 1350.9h21.7v19.6h-21.7zM829 1350.9h21.7v19.6h-21.7zM357.3 1370.2h21.7v19.6h-21.7zM550.3 1370.2h21.7v19.6h-21.7zM721.8 1370.2h21.7v19.6h-21.7zM807.6 1370.2h21.7v19.6h-21.7zM871.9 1370.2h21.7v19.6h-21.7zM357.3 1389.4h21.7v19.6h-21.7zM550.3 1389.4h21.7v19.6h-21.7zM807.6 1389.4h21.7v19.6h-21.7zM979.1 1389.4h21.7v19.6h-21.7zM357.3 1408.7h21.7v19.6h-21.7zM807.6 1408.7h21.7v19.6h-21.7zM1022 1408.7h21.7v19.6h-21.7zM357.3 1427.9h21.7v19.6h-21.7zM593.2 1427.9h21.7v19.6h-21.7zM678.9 1427.9h21.7v19.6h-21.7zM721.8 1427.9h21.7v19.6h-21.7zM807.6 1427.9h21.7v19.6h-21.7zM1043.4 1427.9h21.7v19.6h-21.7zM357.3 1447.2h21.7v19.6h-21.7zM721.8 1447.2h21.7v19.6h-21.7zM807.6 1447.2h21.7v19.6h-21.7zM979.1 1447.2h21.7v19.6h-21.7zM593.2 1466.5h21.7v19.6h-21.7zM614.6 1466.5h21.7v19.6h-21.7zM678.9 1466.5h21.7v19.6h-21.7zM721.8 1466.5h21.7v19.6h-21.7zM807.6 1466.5h21.7v19.6h-21.7zM1022 1466.5h21.7v19.6h-21.7zM1129.2 1485.7h21.7v19.6h-21.7zM357.3 1505h21.7v19.6h-21.7zM678.9 1505h21.7v19.6h-21.7zM721.8 1505h21.7v19.6h-21.7zM807.6 1505h21.7v19.6h-21.7zM357.3 1524.2h21.7v19.6h-21.7zM486 1524.2h21.7v19.6h-21.7zM678.9 1524.2h21.7v19.6h-21.7zM721.8 1524.2h21.7v19.6h-21.7zM807.6 1524.2h21.7v19.6h-21.7zM829 1524.2h21.7v19.6h-21.7zM1129.2 1524.2h21.7v19.6h-21.7z" fill="rgb(255,0,0)"/>
<path d="M207.2 1350.9V1543.5M228.7 1350.9V1543.5M250.1 1350.9V1543.5M271.6 1350.9V1543.5M293 1350.9V1543.5M314.4 1350.9V1543.5M335.9 1350.9V1543.5M357.3 1350.9V1543.5M378.8 1350.9V1543.5M400.2 1350.9V1543.5M421.6 1350.9V1543.5M443.1 1350.9V1543.5M464.5 1350.9V1543.5M486 1350.9V1543.5M507.4 1350.9V1543.5M528.8 1350.9V1543.5M550.3 1350.9V1543.5M571.7 1350.9V1543.5M593.2 1350.9V1543.5M614.6 1350.9V1543.5M636 1350.9V1543.5M657.5 1350.9V1543.5M678.9 1350.9V1543.5M700.4 1350.9V1543.5M721.8 1350.9V1543.5M743.2 1350.9V1543.5M764.7 1350.9V1543.5M786.1 1350.9V1543.5M807.6 1350.9V1543.5M829 1350.9V1543.5M850.4 1350.9V1543.5M871.9 1350.9V1543.5M893.3 1350.9V1543.5M914.8 1350.9V1543.5M936.2 1350.9V1543.5M957.6 1350.9V1543.5M979.1 1350.9V1543.5M1000.5 1350.9V1543.5M1022 1350.9V1543.5M1043.4 1350.9V1543.5M1064.8 1350.9V1543.5M1086.3 1350.9V1543.5M1107.7 1350.9V1543.5M1129.2 1350.9V1543.5M1150.6 1350.9V1543.5M185.8 1370.2H1172M185.8 1389.4H1172M185.8 1408.7H1172M185.8 1427.9H1172M185.8 1466.5H1172M185.8 1485.7H1172M185.8 1505H1172M185.8 1524.2H1172" stroke="#222" stroke-width="1.1" fill="none"/>
<path d="M185.8 1447.2H1172" stroke="#000" stroke-width="3" fill="none"/>
<rect x="185.8" y="1350.9" width="986.2" height="192.6" fill="none" stroke="#000" stroke-width="3"/>
<path d="M185.8 1543.5V1550.5M207.2 1543.5V1550.5M228.7 1543.5V1550.5M250.1 1543.5V1550.5M271.6 1543.5V1550.5M293 1543.5V1550.5M314.4 1543.5V1550.5M335.9 1543.5V1550.5M357.3 1543.5V1550.5M378.8 1543.5V1550.5M400.2 1543.5V1550.5M421.6 1543.5V1550.5M443.1 1543.5V1550.5M464.5 1543.5V1550.5M486 1543.5V1550.5M507.4 1543.5V1550.5M528.8 1543.5V1550.5M550.3 1543.5V1550.5M571.7 1543.5V1550.5M593.2 1543.5V1550.5M614.6 1543.5V1550.5M636 1543.5V1550.5M657.5 1543.5V1550.5M678.9 1543.5V1550.5M700.4 1543.5V1550.5M721.8 1543.5V1550.5M743.2 1543.5V1550.5M764.7 1543.5V1550.5M786.1 1543.5V1550.5M807.6 1543.5V1550.5M829 1543.5V1550.5M850.4 1543.5V1550.5M871.9 1543.5V1550.5M893.3 1543.5V1550.5M914.8 1543.5V1550.5M936.2 1543.5V1550.5M957.6 1543.5V1550.5M979.1 1543.5V1550.5M1000.5 1543.5V1550.5M1022 1543.5V1550.5M1043.4 1543.5V1550.5M1064.8 1543.5V1550.5M1086.3 1543.5V1550.5M1107.7 1543.5V1550.5M1129.2 1543.5V1550.5M1150.6 1543.5V1550.5M1172 1543.5V1550.5" stroke="#333" stroke-width="1" fill="none"/>
<path d="M1277.9 1350.9h21.7v19.6h-21.7zM1427.8 1350.9h21.7v19.6h-21.7zM1556.3 1350.9h21.7v19.6h-21.7zM1663.4 1350.9h21.7v19.6h-21.7zM1706.3 1350.9h21.7v19.6h-21.7zM1192.2 1370.2h21.7v19.6h-21.7zM1363.6 1370.2h21.7v19.6h-21.7zM1427.8 1370.2h21.7v19.6h-21.7zM1663.4 1370.2h21.7v19.6h-21.7zM1706.3 1370.2h21.7v19.6h-21.7zM1277.9 1389.4h21.7v19.6h-21.7zM1427.8 1389.4h21.7v19.6h-21.7zM1556.3 1389.4h21.7v19.6h-21.7zM1663.4 1389.4h21.7v19.6h-21.7zM1706.3 1389.4h21.7v19.6h-21.7zM1192.2 1408.7h21.7v19.6h-21.7zM1256.5 1408.7h21.7v19.6h-21.7zM1277.9 1408.7h21.7v19.6h-21.7zM1299.3 1408.7h21.7v19.6h-21.7zM1363.6 1408.7h21.7v19.6h-21.7zM1663.4 1408.7h21.7v19.6h-21.7zM1706.3 1408.7h21.7v19.6h-21.7zM1277.9 1427.9h21.7v19.6h-21.7zM1299.3 1427.9h21.7v19.6h-21.7zM1363.6 1427.9h21.7v19.6h-21.7zM1427.8 1427.9h21.7v19.6h-21.7zM1556.3 1427.9h21.7v19.6h-21.7zM1663.4 1427.9h21.7v19.6h-21.7zM1706.3 1427.9h21.7v19.6h-21.7zM1192.2 1447.2h21.7v19.6h-21.7zM1277.9 1447.2h21.7v19.6h-21.7zM1320.7 1447.2h21.7v19.6h-21.7zM1427.8 1447.2h21.7v19.6h-21.7zM1556.3 1447.2h21.7v19.6h-21.7zM1663.4 1447.2h21.7v19.6h-21.7zM1706.3 1447.2h21.7v19.6h-21.7zM1277.9 1466.5h21.7v19.6h-21.7zM1320.7 1466.5h21.7v19.6h-21.7zM1385 1466.5h21.7v19.6h-21.7zM1556.3 1466.5h21.7v19.6h-21.7zM1642 1466.5h21.7v19.6h-21.7zM1663.4 1466.5h21.7v19.6h-21.7zM1235 1485.7h21.7v19.6h-21.7zM1320.7 1485.7h21.7v19.6h-21.7zM1363.6 1485.7h21.7v19.6h-21.7zM1385 1485.7h21.7v19.6h-21.7zM1427.8 1485.7h21.7v19.6h-21.7zM1449.2 1485.7h21.7v19.6h-21.7zM1470.7 1485.7h21.7v19.6h-21.7zM1513.5 1485.7h21.7v19.6h-21.7zM1556.3 1485.7h21.7v19.6h-21.7zM1577.8 1485.7h21.7v19.6h-21.7zM1599.2 1485.7h21.7v19.6h-21.7zM1620.6 1485.7h21.7v19.6h-21.7zM1192.2 1505h21.7v19.6h-21.7zM1256.5 1505h21.7v19.6h-21.7zM1277.9 1505h21.7v19.6h-21.7zM1299.3 1505h21.7v19.6h-21.7zM1320.7 1505h21.7v19.6h-21.7zM1363.6 1505h21.7v19.6h-21.7zM1427.8 1505h21.7v19.6h-21.7zM1556.3 1505h21.7v19.6h-21.7zM1663.4 1505h21.7v19.6h-21.7zM1192.2 1524.2h21.7v19.6h-21.7zM1299.3 1524.2h21.7v19.6h-21.7zM1320.7 1524.2h21.7v19.6h-21.7zM1363.6 1524.2h21.7v19.6h-21.7zM1385 1524.2h21.7v19.6h-21.7zM1427.8 1524.2h21.7v19.6h-21.7zM1556.3 1524.2h21.7v19.6h-21.7zM1642 1524.2h21.7v19.6h-21.7zM1663.4 1524.2h21.7v19.6h-21.7zM1706.3 1524.2h21.7v19.6h-21.7z" fill="rgb(255,236,236)"/>
<path d="M1320.7 1350.9h21.7v19.6h-21.7zM1363.6 1350.9h21.7v19.6h-21.7zM1513.5 1350.9h21.7v19.6h-21.7zM1620.6 1350.9h21.7v19.6h-21.7zM1642 1350.9h21.7v19.6h-21.7zM1235 1370.2h21.7v19.6h-21.7zM1256.5 1370.2h21.7v19.6h-21.7zM1277.9 1370.2h21.7v19.6h-21.7zM1299.3 1370.2h21.7v19.6h-21.7zM1320.7 1370.2h21.7v19.6h-21.7zM1620.6 1370.2h21.7v19.6h-21.7zM1192.2 1389.4h21.7v19.6h-21.7zM1256.5 1389.4h21.7v19.6h-21.7zM1299.3 1389.4h21.7v19.6h-21.7zM1320.7 1389.4h21.7v19.6h-21.7zM1363.6 1389.4h21.7v19.6h-21.7zM1385 1389.4h21.7v19.6h-21.7zM1620.6 1389.4h21.7v19.6h-21.7zM1235 1408.7h21.7v19.6h-21.7zM1320.7 1408.7h21.7v19.6h-21.7zM1427.8 1408.7h21.7v19.6h-21.7zM1620.6 1408.7h21.7v19.6h-21.7zM1642 1408.7h21.7v19.6h-21.7zM1192.2 1427.9h21.7v19.6h-21.7zM1320.7 1427.9h21.7v19.6h-21.7zM1213.6 1447.2h21.7v19.6h-21.7zM1235 1447.2h21.7v19.6h-21.7zM1256.5 1447.2h21.7v19.6h-21.7zM1299.3 1447.2h21.7v19.6h-21.7zM1363.6 1447.2h21.7v19.6h-21.7zM1385 1447.2h21.7v19.6h-21.7zM1470.7 1447.2h21.7v19.6h-21.7zM1577.8 1447.2h21.7v19.6h-21.7zM1620.6 1447.2h21.7v19.6h-21.7zM1642 1447.2h21.7v19.6h-21.7zM1192.2 1466.5h21.7v19.6h-21.7zM1256.5 1466.5h21.7v19.6h-21.7zM1299.3 1466.5h21.7v19.6h-21.7zM1363.6 1466.5h21.7v19.6h-21.7zM1427.8 1466.5h21.7v19.6h-21.7zM1470.7 1466.5h21.7v19.6h-21.7zM1492.1 1466.5h21.7v19.6h-21.7zM1513.5 1466.5h21.7v19.6h-21.7zM1620.6 1466.5h21.7v19.6h-21.7zM1492.1 1485.7h21.7v19.6h-21.7zM1706.3 1485.7h21.7v19.6h-21.7zM1235 1505h21.7v19.6h-21.7zM1385 1505h21.7v19.6h-21.7zM1513.5 1505h21.7v19.6h-21.7zM1620.6 1505h21.7v19.6h-21.7zM1642 1505h21.7v19.6h-21.7zM1706.3 1505h21.7v19.6h-21.7zM1256.5 1524.2h21.7v19.6h-21.7zM1577.8 1524.2h21.7v19.6h-21.7zM1620.6 1524.2h21.7v19.6h-21.7zM1684.9 1524.2h21.7v19.6h-21.7z" fill="rgb(255,212,212)"/>
<path d="M1256.5 1350.9h21.7v19.6h-21.7zM1299.3 1350.9h21.7v19.6h-21.7zM1385 1350.9h21.7v19.6h-21.7zM1470.7 1350.9h21.7v19.6h-21.7zM1577.8 1350.9h21.7v19.6h-21.7zM1470.7 1370.2h21.7v19.6h-21.7zM1492.1 1370.2h21.7v19.6h-21.7zM1513.5 1370.2h21.7v19.6h-21.7zM1577.8 1370.2h21.7v19.6h-21.7zM1642 1370.2h21.7v19.6h-21.7zM1213.6 1389.4h21.7v19.6h-21.7zM1235 1389.4h21.7v19.6h-21.7zM1470.7 1389.4h21.7v19.6h-21.7zM1492.1 1389.4h21.7v19.6h-21.7zM1513.5 1389.4h21.7v19.6h-21.7zM1577.8 1389.4h21.7v19.6h-21.7zM1642 1389.4h21.7v19.6h-21.7zM1385 1408.7h21.7v19.6h-21.7zM1470.7 1408.7h21.7v19.6h-21.7zM1513.5 1408.7h21.7v19.6h-21.7zM1577.8 1408.7h21.7v19.6h-21.7zM1385 1427.9h21.7v19.6h-21.7zM1470.7 1427.9h21.7v19.6h-21.7zM1492.1 1427.9h21.7v19.6h-21.7zM1577.8 1427.9h21.7v19.6h-21.7zM1620.6 1427.9h21.7v19.6h-21.7zM1642 1427.9h21.7v19.6h-21.7zM1449.2 1447.2h21.7v19.6h-21.7zM1492.1 1447.2h21.7v19.6h-21.7zM1513.5 1447.2h21.7v19.6h-21.7zM1684.9 1447.2h21.7v19.6h-21.7zM1213.6 1466.5h21.7v19.6h-21.7zM1235 1466.5h21.7v19.6h-21.7zM1342.1 1466.5h21.7v19.6h-21.7zM1449.2 1466.5h21.7v19.6h-21.7zM1577.8 1466.5h21.7v19.6h-21.7zM1706.3 1466.5h21.7v19.6h-21.7zM1213.6 1505h21.7v19.6h-21.7zM1470.7 1505h21.7v19.6h-21.7zM1492.1 1505h21.7v19.6h-21.7zM1577.8 1505h21.7v19.6h-21.7zM1684.9 1505h21.7v19.6h-21.7zM1213.6 1524.2h21.7v19.6h-21.7zM1470.7 1524.2h21.7v19.6h-21.7zM1599.2 1524.2h21.7v19.6h-21.7z" fill="rgb(255,182,182)"/>
<path d="M1192.2 1350.9h21.7v19.6h-21.7zM1342.1 1350.9h21.7v19.6h-21.7zM1406.4 1350.9h21.7v19.6h-21.7zM1449.2 1350.9h21.7v19.6h-21.7zM1492.1 1350.9h21.7v19.6h-21.7zM1534.9 1350.9h21.7v19.6h-21.7zM1599.2 1350.9h21.7v19.6h-21.7zM1684.9 1350.9h21.7v19.6h-21.7zM1213.6 1370.2h21.7v19.6h-21.7zM1449.2 1370.2h21.7v19.6h-21.7zM1684.9 1370.2h21.7v19.6h-21.7zM1449.2 1389.4h21.7v19.6h-21.7zM1213.6 1408.7h21.7v19.6h-21.7zM1449.2 1408.7h21.7v19.6h-21.7zM1492.1 1408.7h21.7v19.6h-21.7zM1213.6 1427.9h21.7v19.6h-21.7zM1235 1427.9h21.7v19.6h-21.7zM1256.5 1427.9h21.7v19.6h-21.7zM1449.2 1427.9h21.7v19.6h-21.7zM1513.5 1427.9h21.7v19.6h-21.7zM1684.9 1427.9h21.7v19.6h-21.7zM1342.1 1447.2h21.7v19.6h-21.7zM1599.2 1466.5h21.7v19.6h-21.7zM1684.9 1466.5h21.7v19.6h-21.7zM1192.2 1485.7h21.7v19.6h-21.7zM1342.1 1485.7h21.7v19.6h-21.7zM1449.2 1505h21.7v19.6h-21.7zM1449.2 1524.2h21.7v19.6h-21.7zM1492.1 1524.2h21.7v19.6h-21.7z" fill="rgb(255,148,148)"/>
<path d="M1213.6 1350.9h21.7v19.6h-21.7zM1534.9 1370.2h21.7v19.6h-21.7zM1599.2 1370.2h21.7v19.6h-21.7zM1406.4 1389.4h21.7v19.6h-21.7zM1534.9 1389.4h21.7v19.6h-21.7zM1684.9 1389.4h21.7v19.6h-21.7zM1684.9 1408.7h21.7v19.6h-21.7zM1342.1 1427.9h21.7v19.6h-21.7zM1406.4 1427.9h21.7v19.6h-21.7zM1599.2 1447.2h21.7v19.6h-21.7zM1213.6 1485.7h21.7v19.6h-21.7z" fill="rgb(255,120,120)"/>
<path d="M1235 1350.9h21.7v19.6h-21.7zM1385 1370.2h21.7v19.6h-21.7zM1406.4 1370.2h21.7v19.6h-21.7zM1342.1 1389.4h21.7v19.6h-21.7zM1342.1 1505h21.7v19.6h-21.7z" fill="rgb(255,94,94)"/>
<path d="M1342.1 1408.7h21.7v19.6h-21.7zM1534.9 1408.7h21.7v19.6h-21.7zM1599.2 1408.7h21.7v19.6h-21.7zM1534.9 1427.9h21.7v19.6h-21.7zM1599.2 1427.9h21.7v19.6h-21.7zM1599.2 1505h21.7v19.6h-21.7z" fill="rgb(255,64,64)"/>
<path d="M1342.1 1370.2h21.7v19.6h-21.7zM1406.4 1408.7h21.7v19.6h-21.7zM1235 1524.2h21.7v19.6h-21.7zM1406.4 1524.2h21.7v19.6h-21.7zM1534.9 1524.2h21.7v19.6h-21.7z" fill="rgb(255,32,32)"/>
<path d="M1599.2 1389.4h21.7v19.6h-21.7zM1406.4 1447.2h21.7v19.6h-21.7zM1534.9 1447.2h21.7v19.6h-21.7zM1406.4 1466.5h21.7v19.6h-21.7zM1534.9 1466.5h21.7v19.6h-21.7zM1406.4 1485.7h21.7v19.6h-21.7zM1534.9 1485.7h21.7v19.6h-21.7zM1406.4 1505h21.7v19.6h-21.7zM1534.9 1505h21.7v19.6h-21.7zM1342.1 1524.2h21.7v19.6h-21.7z" fill="rgb(255,0,0)"/>
<path d="M1213.6 1350.9V1543.5M1235 1350.9V1543.5M1256.5 1350.9V1543.5M1277.9 1350.9V1543.5M1299.3 1350.9V1543.5M1320.7 1350.9V1543.5M1342.1 1350.9V1543.5M1363.6 1350.9V1543.5M1385 1350.9V1543.5M1406.4 1350.9V1543.5M1427.8 1350.9V1543.5M1449.2 1350.9V1543.5M1470.7 1350.9V1543.5M1492.1 1350.9V1543.5M1513.5 1350.9V1543.5M1534.9 1350.9V1543.5M1556.3 1350.9V1543.5M1577.8 1350.9V1543.5M1599.2 1350.9V1543.5M1620.6 1350.9V1543.5M1642 1350.9V1543.5M1663.4 1350.9V1543.5M1684.9 1350.9V1543.5M1706.3 1350.9V1543.5M1192.2 1370.2H1727.7M1192.2 1389.4H1727.7M1192.2 1408.7H1727.7M1192.2 1427.9H1727.7M1192.2 1466.5H1727.7M1192.2 1485.7H1727.7M1192.2 1505H1727.7M1192.2 1524.2H1727.7" stroke="#222" stroke-width="1.1" fill="none"/>
<path d="M1192.2 1447.2H1727.7" stroke="#000" stroke-width="3" fill="none"/>
<rect x="1192.2" y="1350.9" width="535.5" height="192.6" fill="none" stroke="#000" stroke-width="3"/>
<path d="M1192.2 1543.5V1550.5M1213.6 1543.5V1550.5M1235 1543.5V1550.5M1256.5 1543.5V1550.5M1277.9 1543.5V1550.5M1299.3 1543.5V1550.5M1320.7 1543.5V1550.5M1342.1 1543.5V1550.5M1363.6 1543.5V1550.5M1385 1543.5V1550.5M1406.4 1543.5V1550.5M1427.8 1543.5V1550.5M1449.2 1543.5V1550.5M1470.7 1543.5V1550.5M1492.1 1543.5V1550.5M1513.5 1543.5V1550.5M1534.9 1543.5V1550.5M1556.3 1543.5V1550.5M1577.8 1543.5V1550.5M1599.2 1543.5V1550.5M1620.6 1543.5V1550.5M1642 1543.5V1550.5M1663.4 1543.5V1550.5M1684.9 1543.5V1550.5M1706.3 1543.5V1550.5M1727.7 1543.5V1550.5" stroke="#333" stroke-width="1" fill="none"/>
<path d="M1747.6 1350.9h21.6v19.6h-21.6zM1768.8 1350.9h21.6v19.6h-21.6zM1747.6 1370.2h21.6v19.6h-21.6zM1768.8 1370.2h21.6v19.6h-21.6zM1768.8 1389.4h21.6v19.6h-21.6zM1747.6 1408.7h21.6v19.6h-21.6zM1768.8 1408.7h21.6v19.6h-21.6zM1747.6 1427.9h21.6v19.6h-21.6zM1768.8 1427.9h21.6v19.6h-21.6zM1747.6 1447.2h21.6v19.6h-21.6zM1768.8 1447.2h21.6v19.6h-21.6zM1853.8 1447.2h21.6v19.6h-21.6zM1747.6 1466.5h21.6v19.6h-21.6zM1747.6 1505h21.6v19.6h-21.6zM1747.6 1524.2h21.6v19.6h-21.6zM1768.8 1524.2h21.6v19.6h-21.6zM1853.8 1524.2h21.6v19.6h-21.6z" fill="rgb(255,236,236)"/>
<path d="M1747.6 1389.4h21.6v19.6h-21.6zM1832.6 1466.5h21.6v19.6h-21.6zM1853.8 1466.5h21.6v19.6h-21.6zM1747.6 1485.7h21.6v19.6h-21.6zM1853.8 1485.7h21.6v19.6h-21.6zM1768.8 1505h21.6v19.6h-21.6zM1832.6 1505h21.6v19.6h-21.6zM1832.6 1524.2h21.6v19.6h-21.6z" fill="rgb(255,212,212)"/>
<path d="M1790.1 1350.9h21.6v19.6h-21.6zM1853.8 1408.7h21.6v19.6h-21.6zM1790.1 1427.9h21.6v19.6h-21.6zM1832.6 1447.2h21.6v19.6h-21.6zM1768.8 1466.5h21.6v19.6h-21.6zM1768.8 1485.7h21.6v19.6h-21.6zM1853.8 1505h21.6v19.6h-21.6z" fill="rgb(255,182,182)"/>
<path d="M1832.6 1350.9h21.6v19.6h-21.6z" fill="rgb(255,148,148)"/>
<path d="M1832.6 1370.2h21.6v19.6h-21.6zM1790.1 1389.4h21.6v19.6h-21.6zM1832.6 1389.4h21.6v19.6h-21.6zM1790.1 1408.7h21.6v19.6h-21.6zM1832.6 1408.7h21.6v19.6h-21.6zM1832.6 1427.9h21.6v19.6h-21.6zM1790.1 1447.2h21.6v19.6h-21.6z" fill="rgb(255,120,120)"/>
<path d="M1790.1 1370.2h21.6v19.6h-21.6zM1853.8 1370.2h21.6v19.6h-21.6zM1853.8 1389.4h21.6v19.6h-21.6zM1853.8 1427.9h21.6v19.6h-21.6z" fill="rgb(255,94,94)"/>
<path d="M1853.8 1350.9h21.6v19.6h-21.6zM1790.1 1466.5h21.6v19.6h-21.6zM1790.1 1505h21.6v19.6h-21.6zM1790.1 1524.2h21.6v19.6h-21.6z" fill="rgb(255,32,32)"/>
<path d="M1811.3 1350.9h21.6v19.6h-21.6zM1811.3 1370.2h21.6v19.6h-21.6zM1811.3 1389.4h21.6v19.6h-21.6zM1811.3 1408.7h21.6v19.6h-21.6zM1811.3 1427.9h21.6v19.6h-21.6zM1811.3 1447.2h21.6v19.6h-21.6zM1811.3 1466.5h21.6v19.6h-21.6zM1790.1 1485.7h21.6v19.6h-21.6zM1811.3 1485.7h21.6v19.6h-21.6zM1811.3 1505h21.6v19.6h-21.6zM1811.3 1524.2h21.6v19.6h-21.6z" fill="rgb(255,0,0)"/>
<path d="M1768.8 1350.9V1543.5M1790.1 1350.9V1543.5M1811.3 1350.9V1543.5M1832.6 1350.9V1543.5M1853.8 1350.9V1543.5M1747.6 1370.2H1875.1M1747.6 1389.4H1875.1M1747.6 1408.7H1875.1M1747.6 1427.9H1875.1M1747.6 1466.5H1875.1M1747.6 1485.7H1875.1M1747.6 1505H1875.1M1747.6 1524.2H1875.1" stroke="#222" stroke-width="1.1" fill="none"/>
<path d="M1747.6 1447.2H1875.1" stroke="#000" stroke-width="3" fill="none"/>
<rect x="1747.6" y="1350.9" width="127.5" height="192.6" fill="none" stroke="#000" stroke-width="3"/>
<path d="M1747.6 1543.5V1550.5M1768.8 1543.5V1550.5M1790.1 1543.5V1550.5M1811.3 1543.5V1550.5M1832.6 1543.5V1550.5M1853.8 1543.5V1550.5M1875.1 1543.5V1550.5" stroke="#333" stroke-width="1" fill="none"/>
<text x="177.8" y="1365.3" font-size="20" text-anchor="end" fill="#2b2b2b">C3</text>
<text x="177.8" y="1385.2" font-size="20" text-anchor="end" fill="#2b2b2b">C4</text>
<text x="177.8" y="1405" font-size="20" text-anchor="end" fill="#2b2b2b">C7</text>
<text x="177.8" y="1424.9" font-size="20" text-anchor="end" fill="#2b2b2b">C17</text>
<text x="177.8" y="1444.7" font-size="20" text-anchor="end" fill="#2b2b2b">C19</text>
<text x="177.8" y="1464.6" font-size="20" text-anchor="end" fill="#dc4550">P9</text>
<text x="177.8" y="1484.5" font-size="20" text-anchor="end" fill="#dc4550">P12</text>
<text x="177.8" y="1504.3" font-size="20" text-anchor="end" fill="#dc4550">P13</text>
<text x="177.8" y="1524.2" font-size="20" text-anchor="end" fill="#dc4550">P14</text>
<text x="177.8" y="1544" font-size="20" text-anchor="end" fill="#dc4550">P16</text>
<text x="1784" y="1346.5" font-size="13.5" text-anchor="start" fill="#000" transform="rotate(-90 1784 1346.5)">0.037</text>
<text x="1805.2" y="1346.5" font-size="13.5" text-anchor="start" fill="#000" transform="rotate(-90 1805.2 1346.5)">0.035</text>
<text x="1847.7" y="1346.5" font-size="13.5" text-anchor="start" fill="#000" transform="rotate(-90 1847.7 1346.5)">0.007</text>
<text x="1869" y="1346.5" font-size="13.5" text-anchor="start" fill="#000" transform="rotate(-90 1869 1346.5)">0.006</text>
<text font-size="18" text-anchor="end" fill="#000" transform="translate(201.3 1553.5) rotate(-90) scale(0.87 1)">V3-74</text>
<text font-size="18" text-anchor="end" fill="#000" transform="translate(222.8 1553.5) rotate(-90) scale(0.87 1)">V3-73</text>
<text font-size="18" text-anchor="end" fill="#000" transform="translate(244.2 1553.5) rotate(-90) scale(0.87 1)">V3-72</text>
<text font-size="18" text-anchor="end" fill="#000" transform="translate(265.6 1553.5) rotate(-90) scale(0.87 1)">V2-70</text>
<text font-size="18" text-anchor="end" fill="#000" transform="translate(287.1 1553.5) rotate(-90) scale(0.87 1)">V1-69</text>
<text font-size="18" text-anchor="end" fill="#000" transform="translate(308.5 1553.5) rotate(-90) scale(0.87 1)">V3-66</text>
<text font-size="18" text-anchor="end" fill="#000" transform="translate(330 1553.5) rotate(-90) scale(0.87 1)">V3-64</text>
<text font-size="18" text-anchor="end" fill="#000" transform="translate(351.4 1553.5) rotate(-90) scale(0.87 1)">V4-61</text>
<text font-size="18" text-anchor="end" fill="#000" transform="translate(372.8 1553.5) rotate(-90) scale(0.87 1)">V4-59</text>
<text font-size="18" text-anchor="end" fill="#000" transform="translate(394.3 1553.5) rotate(-90) scale(0.87 1)">V1-58</text>
<text font-size="18" text-anchor="end" fill="#000" transform="translate(415.7 1553.5) rotate(-90) scale(0.87 1)">V3-53</text>
<text font-size="18" text-anchor="end" fill="#000" transform="translate(437.2 1553.5) rotate(-90) scale(0.87 1)">V5-51</text>
<text font-size="18" text-anchor="end" fill="#000" transform="translate(458.6 1553.5) rotate(-90) scale(0.87 1)">V3-49</text>
<text font-size="18" text-anchor="end" fill="#000" transform="translate(480 1553.5) rotate(-90) scale(0.87 1)">V3-48</text>
<text font-size="18" text-anchor="end" fill="#000" transform="translate(501.5 1553.5) rotate(-90) scale(0.87 1)">V1-46</text>
<text font-size="18" text-anchor="end" fill="#000" transform="translate(522.9 1553.5) rotate(-90) scale(0.87 1)">V1-45</text>
<text font-size="18" text-anchor="end" fill="#000" transform="translate(544.4 1553.5) rotate(-90) scale(0.87 1)">V3-43</text>
<text font-size="18" text-anchor="end" fill="#000" transform="translate(565.8 1553.5) rotate(-90) scale(0.87 1)">V4-39</text>
<text font-size="18" text-anchor="end" fill="#000" transform="translate(587.2 1553.5) rotate(-90) scale(0.87 1)">V4-38-2</text>
<text font-size="18" text-anchor="end" fill="#000" transform="translate(608.7 1553.5) rotate(-90) scale(0.87 1)">V4-34</text>
<text font-size="18" text-anchor="end" fill="#000" transform="translate(630.1 1553.5) rotate(-90) scale(0.87 1)">V3-33</text>
<text font-size="18" text-anchor="end" fill="#000" transform="translate(651.6 1553.5) rotate(-90) scale(0.87 1)">V4-31</text>
<text font-size="18" text-anchor="end" fill="#000" transform="translate(673 1553.5) rotate(-90) scale(0.87 1)">V4-30-4</text>
<text font-size="18" text-anchor="end" fill="#000" transform="translate(694.4 1553.5) rotate(-90) scale(0.87 1)">V3-30-3</text>
<text font-size="18" text-anchor="end" fill="#000" transform="translate(715.9 1553.5) rotate(-90) scale(0.87 1)">V4-30-2</text>
<text font-size="18" text-anchor="end" fill="#000" transform="translate(737.3 1553.5) rotate(-90) scale(0.87 1)">V3-30</text>
<text font-size="18" text-anchor="end" fill="#000" transform="translate(758.8 1553.5) rotate(-90) scale(0.87 1)">V4-28</text>
<text font-size="18" text-anchor="end" fill="#000" transform="translate(780.2 1553.5) rotate(-90) scale(0.87 1)">V2-26</text>
<text font-size="18" text-anchor="end" fill="#000" transform="translate(801.6 1553.5) rotate(-90) scale(0.87 1)">V1-24</text>
<text font-size="18" text-anchor="end" fill="#000" transform="translate(823.1 1553.5) rotate(-90) scale(0.87 1)">V3-23</text>
<text font-size="18" text-anchor="end" fill="#000" transform="translate(844.5 1553.5) rotate(-90) scale(0.87 1)">V3-21</text>
<text font-size="18" text-anchor="end" fill="#000" transform="translate(866 1553.5) rotate(-90) scale(0.87 1)">V3-20</text>
<text font-size="18" text-anchor="end" fill="#000" transform="translate(887.4 1553.5) rotate(-90) scale(0.87 1)">V1-18</text>
<text font-size="18" text-anchor="end" fill="#000" transform="translate(908.8 1553.5) rotate(-90) scale(0.87 1)">V3-15</text>
<text font-size="18" text-anchor="end" fill="#000" transform="translate(930.3 1553.5) rotate(-90) scale(0.87 1)">V3-13</text>
<text font-size="18" text-anchor="end" fill="#000" transform="translate(951.7 1553.5) rotate(-90) scale(0.87 1)">V3-11</text>
<text font-size="18" text-anchor="end" fill="#000" transform="translate(973.2 1553.5) rotate(-90) scale(0.87 1)">V5-10-1</text>
<text font-size="18" text-anchor="end" fill="#000" transform="translate(994.6 1553.5) rotate(-90) scale(0.87 1)">V3-9</text>
<text font-size="18" text-anchor="end" fill="#000" transform="translate(1016 1553.5) rotate(-90) scale(0.87 1)">V1-8</text>
<text font-size="18" text-anchor="end" fill="#000" transform="translate(1037.5 1553.5) rotate(-90) scale(0.87 1)">V3-7</text>
<text font-size="18" text-anchor="end" fill="#000" transform="translate(1058.9 1553.5) rotate(-90) scale(0.87 1)">V2-5</text>
<text font-size="18" text-anchor="end" fill="#000" transform="translate(1080.4 1553.5) rotate(-90) scale(0.87 1)">V7-4-1</text>
<text font-size="18" text-anchor="end" fill="#000" transform="translate(1101.8 1553.5) rotate(-90) scale(0.87 1)">V4-4</text>
<text font-size="18" text-anchor="end" fill="#000" transform="translate(1123.2 1553.5) rotate(-90) scale(0.87 1)">V1-3</text>
<text font-size="18" text-anchor="end" fill="#000" transform="translate(1144.7 1553.5) rotate(-90) scale(0.87 1)">V1-2</text>
<text font-size="18" text-anchor="end" fill="#000" transform="translate(1166.1 1553.5) rotate(-90) scale(0.87 1)">V6-1</text>
<text font-size="18" text-anchor="end" fill="#000" transform="translate(1207.7 1553.5) rotate(-90) scale(0.87 1)">D1-1</text>
<text font-size="18" text-anchor="end" fill="#000" transform="translate(1229.1 1553.5) rotate(-90) scale(0.87 1)">D2-2</text>
<text font-size="18" text-anchor="end" fill="#000" transform="translate(1250.5 1553.5) rotate(-90) scale(0.87 1)">D3-3</text>
<text font-size="18" text-anchor="end" fill="#000" transform="translate(1272 1553.5) rotate(-90) scale(0.87 1)">D6-6</text>
<text font-size="18" text-anchor="end" fill="#000" transform="translate(1293.4 1553.5) rotate(-90) scale(0.87 1)">D1-7</text>
<text font-size="18" text-anchor="end" fill="#000" transform="translate(1314.8 1553.5) rotate(-90) scale(0.87 1)">D2-8</text>
<text font-size="18" text-anchor="end" fill="#000" transform="translate(1336.2 1553.5) rotate(-90) scale(0.87 1)">D3-9</text>
<text font-size="18" text-anchor="end" fill="#000" transform="translate(1357.7 1553.5) rotate(-90) scale(0.87 1)">D3-10</text>
<text font-size="18" text-anchor="end" fill="#000" transform="translate(1379.1 1553.5) rotate(-90) scale(0.87 1)">D4-11</text>
<text font-size="18" text-anchor="end" fill="#000" transform="translate(1400.5 1553.5) rotate(-90) scale(0.87 1)">D5-12</text>
<text font-size="18" text-anchor="end" fill="#000" transform="translate(1421.9 1553.5) rotate(-90) scale(0.87 1)">D6-13</text>
<text font-size="18" text-anchor="end" fill="#000" transform="translate(1443.3 1553.5) rotate(-90) scale(0.87 1)">D1-14</text>
<text font-size="18" text-anchor="end" fill="#000" transform="translate(1464.8 1553.5) rotate(-90) scale(0.87 1)">D2-15</text>
<text font-size="18" text-anchor="end" fill="#000" transform="translate(1486.2 1553.5) rotate(-90) scale(0.87 1)">D3-16</text>
<text font-size="18" text-anchor="end" fill="#000" transform="translate(1507.6 1553.5) rotate(-90) scale(0.87 1)">D4-17</text>
<text font-size="18" text-anchor="end" fill="#000" transform="translate(1529 1553.5) rotate(-90) scale(0.87 1)">D5-18</text>
<text font-size="18" text-anchor="end" fill="#000" transform="translate(1550.4 1553.5) rotate(-90) scale(0.87 1)">D6-19</text>
<text font-size="18" text-anchor="end" fill="#000" transform="translate(1571.9 1553.5) rotate(-90) scale(0.87 1)">D1-20</text>
<text font-size="18" text-anchor="end" fill="#000" transform="translate(1593.3 1553.5) rotate(-90) scale(0.87 1)">D2-21</text>
<text font-size="18" text-anchor="end" fill="#000" transform="translate(1614.7 1553.5) rotate(-90) scale(0.87 1)">D3-22</text>
<text font-size="18" text-anchor="end" fill="#000" transform="translate(1636.1 1553.5) rotate(-90) scale(0.87 1)">D4-23</text>
<text font-size="18" text-anchor="end" fill="#000" transform="translate(1657.5 1553.5) rotate(-90) scale(0.87 1)">D5-24</text>
<text font-size="18" text-anchor="end" fill="#000" transform="translate(1679 1553.5) rotate(-90) scale(0.87 1)">D6-25</text>
<text font-size="18" text-anchor="end" fill="#000" transform="translate(1700.4 1553.5) rotate(-90) scale(0.87 1)">D1-26</text>
<text font-size="18" text-anchor="end" fill="#000" transform="translate(1721.8 1553.5) rotate(-90) scale(0.87 1)">D7-27</text>
<text font-size="18" text-anchor="end" fill="#000" transform="translate(1763 1553.5) rotate(-90) scale(0.87 1)">J1</text>
<text font-size="18" text-anchor="end" fill="#000" transform="translate(1784.3 1553.5) rotate(-90) scale(0.87 1)">J2</text>
<text font-size="18" text-anchor="end" fill="#000" transform="translate(1805.5 1553.5) rotate(-90) scale(0.87 1)">J3</text>
<text font-size="18" text-anchor="end" fill="#000" transform="translate(1826.8 1553.5) rotate(-90) scale(0.87 1)">J4</text>
<text font-size="18" text-anchor="end" fill="#000" transform="translate(1848 1553.5) rotate(-90) scale(0.87 1)">J5</text>
<text font-size="18" text-anchor="end" fill="#000" transform="translate(1869.3 1553.5) rotate(-90) scale(0.87 1)">J6</text>
<defs><linearGradient id="cb" x1="0" x2="1" y1="0" y2="0"><stop offset="0" stop-color="#ffffff"/><stop offset="1" stop-color="#ff0000"/></linearGradient></defs>
<rect x="185.8" y="1615" width="986.2" height="19" fill="url(#cb)"/>
<rect x="1192.2" y="1615" width="535.5" height="19" fill="url(#cb)"/>
<rect x="1747.6" y="1615" width="127.5" height="19" fill="url(#cb)"/>
<text x="171" y="1657" font-size="23.5" text-anchor="start" fill="#000">0%</text>
<text x="1160.5" y="1657" font-size="23.5" text-anchor="end" fill="#000">6%</text>
<text x="1174.5" y="1657" font-size="23.5" text-anchor="start" fill="#000">0%</text>
<text x="1732.5" y="1657" font-size="23.5" text-anchor="end" fill="#000">14%</text>
<text x="1746.5" y="1657" font-size="23.5" text-anchor="start" fill="#000">0%</text>
<text x="1875" y="1657" font-size="23.5" text-anchor="end" fill="#000">25%</text>
<text x="-2.2" y="1713" font-size="49.5" text-anchor="start" fill="#000">b</text>
<text x="250.5" y="1742.8" font-size="28.8" text-anchor="middle" fill="#000">HC-Ag</text>
<text x="422.5" y="1742.8" font-size="28.8" text-anchor="middle" fill="#000">pRD-Ag</text>
<text x="618.5" y="1742.8" font-size="28.8" text-anchor="middle" fill="#000">HC-Ag</text>
<text x="806.5" y="1742.8" font-size="28.8" text-anchor="middle" fill="#000">pRD-Ag</text>
<text x="55.5" y="1822" font-size="25" text-anchor="start" fill="#1f6fb4" font-weight="bold">CD38<tspan font-size="17" dy="-8">int</tspan></text>
<text x="55.5" y="1997" font-size="25" text-anchor="start" fill="#b4141c" font-weight="bold">CD38<tspan font-size="19" dy="-9">&#8211;</tspan></text>
<text x="55.5" y="2174" font-size="25" text-anchor="start" fill="#1d8a1d" font-weight="bold">CD27<tspan font-size="19" dy="-9">+</tspan></text>
<path d="M256 1812l6 0M256 1814l8 0M256 1815l6 1M256 1817l6 1M255 1818l6 1M255 1819l13 4M255 1821l5 2M254 1823l9 3M254 1824l4 2M253 1825l5 3M252 1827l14 7M252 1828l13 8M251 1830l10 6M250 1831l3 3M249 1832l3 3M248 1833l4 4M247 1834l5 5M246 1835l7 8M244 1837l4 3M243 1837l5 6M242 1838l3 4M241 1839l8 14M239 1840l5 7M238 1841l3 6M237 1841l3 7M235 1842l2 5M234 1842l1 6M232 1843l3 9M231 1843l2 12M229 1844l1 5M228 1844l1 12M226 1844l1 9M225 1844l0 6M223 1844l0 5M222 1844l-1 11M220 1844l-1 9M218 1844l0 4M217 1843l-1 7M216 1843l-2 5M214 1842l-2 8M213 1842l-3 6M211 1841l-1 4M210 1841l-2 4M208 1840l-4 7M207 1839l-3 5M206 1838l-4 5M204 1837l-4 6M203 1836l-4 5M202 1835l-5 6M201 1834l-7 7M200 1833l-3 3M199 1832l-4 3M198 1831l-3 3M197 1829l-4 3M197 1828l-13 8M196 1827l-6 3M195 1825l-5 3M194 1824l-4 2M194 1823l-5 1M193 1821l-4 2M193 1820l-13 3M193 1818l-18 3M192 1817l-5 0M192 1815l-5 0M192 1813l-6 0M192 1812l-5 0M192 1811l-14 -1M192 1809l-7 -1M192 1808l-4 -1M193 1806l-6 -1M193 1804l-7 -2M193 1803l-9 -3M194 1801l-8 -2M194 1800l-8 -3M195 1799l-16 -7M196 1797l-7 -3M196 1796l-8 -5M197 1795l-10 -7M198 1793l-7 -5M199 1792l-5 -4M200 1791l-4 -4M201 1790l-3 -4M202 1789l-7 -8M203 1788l-3 -4M205 1787l-5 -6M206 1786l-4 -6M207 1785l-2 -4M208 1784l-5 -9M210 1783l-2 -4M211 1783l-2 -6M213 1782l-4 -10M214 1782l-1 -4M216 1781l-2 -4M217 1781l-1 -4M218 1780l-1 -7M220 1780l-1 -7M222 1780l0 -4M223 1780l0 -7M225 1780l0 -14M226 1780l1 -6M228 1780l1 -4M230 1780l1 -10M231 1781l2 -13M233 1781l3 -12M234 1782l2 -9M235 1782l2 -5M237 1783l1 -4M238 1783l3 -6M239 1784l4 -7M241 1785l3 -6M242 1786l3 -4M243 1786l8 -9M245 1788l4 -6M246 1788l4 -4M247 1790l7 -6M248 1791l3 -3M249 1792l4 -3M250 1793l3 -2M251 1794l9 -6M251 1796l5 -3M252 1797l10 -5M253 1799l12 -6M254 1800l4 -2M254 1801l9 -3M255 1803l13 -4M255 1804l4 -1M255 1806l5 -1M256 1807l7 -1M256 1809l9 -1M256 1810l12 -1" stroke="#a9a9a9" stroke-width="1.8" fill="none"/>
<path d="M195 1799l-53 -24" stroke="#e0201e" stroke-width="1.4" fill="none"/>
<path d="M192 1813l-8 0M192 1813l-7 0M192 1812l-5 0M192 1811l-8 0M192 1811l-7 -1M192 1810l-7 0M192 1810l-8 -1M192 1808l-13 -1M192 1808l-6 -1M192 1807l-11 -1M192 1807l-9 -2M193 1806l-8 -1M193 1806l-8 -2M193 1805l-8 -2M193 1804l-6 -1M210 1783l-2 -5M211 1783l-2 -5M213 1782l-2 -6M214 1782l-2 -6M215 1781l-2 -5M216 1781l-2 -6M216 1781l-1 -6M218 1781l-2 -8M219 1780l-1 -5M220 1780l-1 -7M220 1780l0 -7M221 1780l0 -6M222 1780l0 -5M224 1780l0 -8M225 1780l0 -5M226 1780l1 -5M227 1780l1 -6M228 1780l1 -6M229 1780l1 -5M230 1781l1 -6M231 1781l1 -5M232 1781l1 -4M245 1788l3 -5M246 1789l4 -4M247 1789l4 -4M247 1790l5 -5M248 1791l6 -6M248 1791l5 -3M249 1792l6 -4M250 1793l4 -2M250 1794l6 -4M251 1794l3 -2M251 1796l5 -3" stroke="#e0201e" stroke-width="1.5" fill="none"/>
<path d="M198 1831l-6 4M198 1830l-8 6M197 1830l-8 5M197 1829l-11 7M197 1829l-9 5M196 1828l-12 7M196 1827l-11 6M196 1827l-12 6M195 1826l-7 4M195 1826l-8 3M195 1825l-6 2M255 1818l5 1M255 1819l7 2M255 1820l7 1M255 1820l6 2M255 1821l8 2M255 1822l7 2M254 1823l6 2M254 1823l6 2M254 1824l6 3M253 1825l6 2M253 1825l6 3M253 1826l5 2M252 1827l6 3M252 1828l4 2" stroke="#a9a9a9" stroke-width="1.5" fill="none"/>
<path d="M202 1835l-56 58" stroke="#a9a9a9" stroke-width="1.4" fill="none"/>
<path d="M239 1840l2 4M238 1841l2 3M238 1841l2 4M237 1841l1 4M236 1842l1 3M235 1842l2 5M234 1842l2 6M233 1843l2 5M232 1843l1 4M231 1843l1 4M230 1843l1 5M229 1844l1 4M228 1844l1 5M228 1844l0 5M226 1844l0 4M225 1844l0 4M224 1844l0 5M224 1844l0 4M222 1844l0 5M221 1844l0 5M220 1844l-1 6M219 1844l-1 5M218 1843l-1 5M217 1843l-1 5M216 1843l-1 5M216 1843l-2 5M214 1842l-2 6M213 1842l-2 5M213 1842l-2 4M211 1841l-2 5M210 1841l-2 4M210 1841l-2 4M209 1840l-2 4M208 1840l-2 3M207 1839l-2 5M206 1839l-3 4M205 1838l-3 4M204 1837l-3 4M203 1837l-2 3" stroke="#1f5a8a" stroke-width="1.5" fill="none"/>
<circle cx="224" cy="1812" r="30" fill="none" stroke="#ada394" stroke-width="12"/>
<path d="M248 1812.4L259.5 1812.6M247.8 1815.3L259.2 1816.9M247.2 1818.1L258.3 1821.1M246.3 1820.9L257 1825.2M245.1 1823.5L255.1 1829M243.5 1826L252.9 1832.7M241.7 1828.2L250.2 1836M239.6 1830.2L247.1 1839M237.3 1832L243.7 1841.6M234.8 1833.4L239.9 1843.7M232.1 1834.6L236 1845.4M229.3 1835.4L231.9 1846.6M226.5 1835.9L227.7 1847.3M223.6 1836L223.4 1847.5M220.7 1835.8L219.1 1847.2M217.9 1835.2L214.9 1846.3M215.1 1834.3L210.8 1845M212.5 1833.1L207 1843.1M210 1831.5L203.3 1840.9M207.8 1829.7L200 1838.2M205.8 1827.6L197 1835.1M204 1825.3L194.4 1831.7M202.6 1822.8L192.3 1827.9M201.4 1820.1L190.6 1824M200.6 1817.3L189.4 1819.9M200.1 1814.5L188.7 1815.7M200 1811.6L188.5 1811.4M200.2 1808.7L188.8 1807.1M200.8 1805.9L189.7 1802.9M201.7 1803.1L191 1798.8M202.9 1800.5L192.9 1795M204.5 1798L195.1 1791.3M206.3 1795.8L197.8 1788M208.4 1793.8L200.9 1785M210.7 1792L204.3 1782.4M213.2 1790.6L208.1 1780.3M215.9 1789.4L212 1778.6M218.7 1788.6L216.1 1777.4M221.5 1788.1L220.3 1776.7M224.4 1788L224.6 1776.5M227.3 1788.2L228.9 1776.8M230.1 1788.8L233.1 1777.7M232.9 1789.7L237.2 1779M235.5 1790.9L241 1780.9M238 1792.5L244.7 1783.1M240.2 1794.3L248 1785.8M242.2 1796.4L251 1788.9M244 1798.7L253.6 1792.3M245.4 1801.2L255.7 1796.1M246.6 1803.9L257.4 1800M247.4 1806.7L258.6 1804.1M247.9 1809.5L259.3 1808.3" stroke="#f3a24e" stroke-width="1.3" fill="none"/>
<path d="M250.4 1813.8L256.4 1814.3M246.5 1825.9L251.7 1829.1M237.5 1834.8L240.6 1840M225.4 1838.5L225.7 1844.5M212.9 1836.1L210.4 1841.5M203 1828.1L198.2 1831.8M197.9 1816.5L192 1817.6M198.8 1803.9L193.1 1802M205.4 1793.1L201.2 1788.8M216.4 1786.6L214.6 1780.9M229 1786L230.2 1780.1M240.5 1791.3L244.3 1786.6M248.3 1801.4L253.8 1798.9" stroke="#7cc47f" stroke-width="3.4" fill="none"/>
<path d="M249.2 1820.1L254.9 1822M242.6 1830.9L246.8 1835.2M231.6 1837.4L233.4 1843.1M219 1838L217.8 1843.9M207.5 1832.7L203.7 1837.4M199.7 1822.6L194.2 1825.1M197.6 1810.2L191.6 1809.7M201.5 1798.1L196.3 1794.9M210.5 1789.2L207.4 1784M222.6 1785.5L222.3 1779.5M235.1 1787.9L237.6 1782.5M245 1795.9L249.8 1792.2M250.1 1807.5L256 1806.4" stroke="#6d9fd8" stroke-width="3.4" fill="none"/>
<circle cx="224" cy="1812" r="20.8" fill="none" stroke="#f7a03c" stroke-width="6.8"/>
<path d="M224 1799.7A12.3 12.3 0 0 1 232.7 1803.3" stroke="#6fa3dc" stroke-width="10.6" fill="none"/>
<path d="M232.7 1803.3A12.3 12.3 0 0 1 236.3 1812" stroke="#7dcf7d" stroke-width="10.6" fill="none"/>
<path d="M236.3 1812A12.3 12.3 0 0 1 232.7 1820.7" stroke="#7dcf7d" stroke-width="10.6" fill="none"/>
<path d="M232.7 1820.7A12.3 12.3 0 0 1 224 1824.3" stroke="#6fa3dc" stroke-width="10.6" fill="none"/>
<path d="M224 1824.3A12.3 12.3 0 0 1 215.3 1820.7" stroke="#6fa3dc" stroke-width="10.6" fill="none"/>
<path d="M215.3 1820.7A12.3 12.3 0 0 1 211.7 1812" stroke="#e56060" stroke-width="10.6" fill="none"/>
<path d="M211.7 1812A12.3 12.3 0 0 1 215.3 1803.3" stroke="#e56060" stroke-width="10.6" fill="none"/>
<path d="M215.3 1803.3A12.3 12.3 0 0 1 224 1799.7" stroke="#6fa3dc" stroke-width="10.6" fill="none"/>
<path d="M239.4 1813.4h0M234.2 1817.3h0M234 1823.9h0M227.5 1823h0M222.6 1827.4h0M218.7 1822.2h0M212.1 1822h0M213 1815.5h0M208.6 1810.6h0M213.8 1806.7h0M214 1800.1h0M220.5 1801h0M225.4 1796.6h0M229.3 1801.8h0M235.9 1802h0M235 1808.5h0" stroke="#3a1a10" stroke-width="2.4" stroke-linecap="round" fill="none"/>
<circle cx="224" cy="1812" r="7.2" fill="#fff"/>
<path d="M437 1812l5 0M437 1814l13 1M437 1815l8 1M437 1816l5 1M437 1818l8 2M437 1820l16 3M436 1821l5 1M436 1822l8 3M435 1824l6 2M435 1825l6 4M434 1827l4 2M433 1828l5 3M432 1829l9 6M431 1831l7 5M430 1832l5 4M429 1833l5 4M428 1834l6 6M427 1835l5 5M426 1836l4 5M425 1837l5 7M424 1838l4 6M423 1839l2 4M421 1840l2 4M420 1841l3 7M418 1841l2 6M417 1842l2 6M415 1842l4 11M414 1843l3 11M412 1843l2 8M411 1843l1 5M410 1844l0 5M408 1844l0 11M406 1844l0 4M405 1844l-1 9M403 1844l-1 9M402 1844l-1 4M400 1844l-2 8M398 1843l-1 6M397 1843l-1 4M395 1842l-3 11M394 1842l-1 4M393 1841l-4 8M391 1841l-1 3M390 1840l-5 9M389 1839l-7 12M387 1838l-2 4M386 1838l-11 14M385 1836l-4 4M384 1836l-5 5M382 1834l-2 3M381 1833l-8 7M381 1832l-6 4M380 1831l-5 3M379 1830l-7 4M378 1828l-6 4M377 1827l-12 6M377 1826l-8 3M376 1824l-6 2M375 1823l-4 2M375 1821l-4 2M374 1820l-5 1M374 1818l-6 1M374 1817l-8 1M374 1815l-6 1M374 1813l-7 1M374 1812l-7 0M374 1811l-8 -1M374 1809l-5 -1M374 1807l-6 0M374 1806l-4 -1M374 1805l-20 -5M375 1803l-6 -2M375 1801l-4 -1M376 1800l-14 -6M377 1798l-6 -2M377 1797l-11 -6M378 1796l-5 -3M379 1794l-5 -2M380 1793l-4 -3M381 1792l-9 -7M381 1791l-6 -5M383 1790l-6 -6M384 1788l-12 -12M385 1787l-3 -4M386 1786l-3 -3M387 1786l-3 -5M389 1785l-3 -4M390 1784l-5 -8M391 1783l-2 -4M393 1783l-2 -4M394 1782l-2 -7M396 1782l-4 -12M397 1781l-1 -4M398 1781l-1 -7M400 1780l-2 -12M402 1780l-1 -5M403 1780l-1 -13M405 1780l-1 -13M406 1780l1 -7M408 1780l0 -4M409 1780l1 -4M411 1780l1 -8M413 1781l1 -7M414 1781l2 -5M415 1782l1 -5M417 1782l2 -6M419 1783l2 -5M420 1783l3 -7M421 1784l3 -6M422 1785l6 -9M424 1786l5 -8M425 1787l3 -5M426 1787l3 -4M427 1789l5 -5M428 1790l4 -4M429 1791l5 -4M431 1792l9 -7M431 1793l8 -5M432 1794l8 -5M433 1796l6 -4M434 1797l10 -6M434 1798l7 -3M435 1800l7 -3M436 1801l5 -1M436 1803l13 -4M437 1804l17 -4M437 1806l4 -1M437 1807l4 0M437 1809l6 -1M437 1811l5 -1" stroke="#a9a9a9" stroke-width="1.8" fill="none"/>
<path d="M388 1785l-4 -5M388 1785l-4 -5M388 1785l-8 -13M389 1784l-9 -15M389 1784l-7 -13M390 1784l-8 -16M391 1784l-10 -19M391 1783l-6 -14M392 1783l-5 -10M393 1783l-5 -11M393 1782l-5 -12M394 1782l-5 -11M404 1780l-1 -8M405 1780l0 -6M406 1780l0 -9M406 1780l0 -12M406 1780l1 -16M407 1780l1 -9M408 1780l1 -8M408 1780l2 -17M409 1780l1 -13M410 1780l2 -11M411 1780l2 -13M411 1780l1 -6M412 1781l2 -12M413 1781l2 -9M431 1792l12 -10M431 1793l13 -10M431 1793l8 -5M432 1794l13 -10M432 1794l10 -7M432 1795l15 -10M433 1795l12 -8M433 1796l22 -14M433 1796l19 -10M434 1797l11 -6M434 1797l20 -11M434 1798l12 -6M434 1798l18 -8M435 1799l11 -5M435 1799l15 -6M435 1800l11 -4M435 1801l9 -4M436 1801l15 -6M436 1801l11 -3M436 1802l9 -3M374 1813l-8 0M374 1812l-14 0M374 1812l-15 0M374 1811l-15 0M374 1810l-12 0M374 1809l-18 -1M374 1809l-17 -1M374 1808l-13 -1M374 1807l-20 -2M374 1807l-19 -2M374 1806l-7 -1M374 1806l-11 -2M374 1805l-12 -3M374 1805l-9 -2" stroke="#e0201e" stroke-width="1.5" fill="none"/>
<path d="M436 1801l74 -27M417 1842l12 29" stroke="#a9a9a9" stroke-width="1.4" fill="none"/>
<path d="M437 1810l6 0M437 1811l8 0M437 1812l10 0M437 1812l6 0M437 1813l9 0M437 1814l11 1M437 1815l10 1M437 1815l7 1M437 1816l12 2M437 1817l12 2M437 1817l7 1M437 1818l12 2M437 1818l13 3M437 1820l11 2M436 1820l8 2M436 1821l7 2M436 1821l11 3M436 1822l7 2M436 1823l7 2M436 1823l7 3M435 1824l5 2M435 1824l7 3M435 1825l6 3M434 1826l9 4M434 1826l8 3M426 1837l4 5M425 1837l7 8M425 1838l7 9M424 1838l5 7M423 1839l6 10M422 1839l5 7M422 1840l4 6M421 1840l6 10M421 1840l4 9M420 1841l5 11M419 1841l4 9M418 1841l3 7M417 1842l2 5M417 1842l3 9M381 1833l-4 4M381 1832l-8 6M380 1831l-5 4M380 1831l-6 4M379 1830l-6 5M378 1829l-7 5M378 1829l-7 4M378 1828l-6 3" stroke="#a9a9a9" stroke-width="1.5" fill="none"/>
<path d="M419 1841l2 4M418 1842l2 4M417 1842l1 4M416 1842l1 4M415 1843l1 4M414 1843l1 4M413 1843l1 4M412 1843l1 5M411 1843l1 5M410 1844l1 5M409 1844l0 6M408 1844l0 6M407 1844l0 5M405 1844l0 6M405 1844l0 6M404 1844l-1 6M403 1844l-1 5M402 1844l-1 6M401 1844l-1 6M400 1843l-1 5M399 1843l0 5M398 1843l-2 6M397 1843l-2 6M396 1843l-1 4M395 1842l-1 5M394 1842l-1 5M393 1841l-2 5M392 1841l-2 5M391 1841l-2 4M391 1840l-3 5M390 1840l-3 4M388 1839l-2 4M388 1839l-2 4M387 1838l-2 3M387 1838l-3 3M385 1837l-3 3M385 1837l-3 3M384 1836l-3 3M384 1835l-3 3" stroke="#1f5a8a" stroke-width="1.5" fill="none"/>
<circle cx="405.5" cy="1812" r="30" fill="none" stroke="#ada394" stroke-width="12"/>
<path d="M429.5 1812.4L441 1812.6M429.3 1815.3L440.7 1816.9M428.7 1818.1L439.8 1821.1M427.8 1820.9L438.5 1825.2M426.6 1823.5L436.6 1829M425 1826L434.4 1832.7M423.2 1828.2L431.7 1836M421.1 1830.2L428.6 1839M418.8 1832L425.2 1841.6M416.3 1833.4L421.4 1843.7M413.6 1834.6L417.5 1845.4M410.8 1835.4L413.4 1846.6M408 1835.9L409.2 1847.3M405.1 1836L404.9 1847.5M402.2 1835.8L400.6 1847.2M399.4 1835.2L396.4 1846.3M396.6 1834.3L392.3 1845M394 1833.1L388.5 1843.1M391.5 1831.5L384.8 1840.9M389.3 1829.7L381.5 1838.2M387.3 1827.6L378.5 1835.1M385.5 1825.3L375.9 1831.7M384.1 1822.8L373.8 1827.9M382.9 1820.1L372.1 1824M382.1 1817.3L370.9 1819.9M381.6 1814.5L370.2 1815.7M381.5 1811.6L370 1811.4M381.7 1808.7L370.3 1807.1M382.3 1805.9L371.2 1802.9M383.2 1803.1L372.5 1798.8M384.4 1800.5L374.4 1795M386 1798L376.6 1791.3M387.8 1795.8L379.3 1788M389.9 1793.8L382.4 1785M392.2 1792L385.8 1782.4M394.7 1790.6L389.6 1780.3M397.4 1789.4L393.5 1778.6M400.2 1788.6L397.6 1777.4M403 1788.1L401.8 1776.7M405.9 1788L406.1 1776.5M408.8 1788.2L410.4 1776.8M411.6 1788.8L414.6 1777.7M414.4 1789.7L418.7 1779M417 1790.9L422.5 1780.9M419.5 1792.5L426.2 1783.1M421.7 1794.3L429.5 1785.8M423.7 1796.4L432.5 1788.9M425.5 1798.7L435.1 1792.3M426.9 1801.2L437.2 1796.1M428.1 1803.9L438.9 1800M428.9 1806.7L440.1 1804.1M429.4 1809.5L440.8 1808.3" stroke="#f3a24e" stroke-width="1.3" fill="none"/>
<path d="M431.9 1813.8L437.9 1814.3M428 1825.9L433.2 1829.1M419 1834.8L422.1 1840M406.9 1838.5L407.2 1844.5M394.4 1836.1L391.9 1841.5M384.5 1828.1L379.7 1831.8M379.4 1816.5L373.5 1817.6M380.3 1803.9L374.6 1802M386.9 1793.1L382.7 1788.8M397.9 1786.6L396.1 1780.9M410.5 1786L411.7 1780.1M422 1791.3L425.8 1786.6M429.8 1801.4L435.3 1798.9" stroke="#7cc47f" stroke-width="3.4" fill="none"/>
<path d="M430.7 1820.1L436.4 1822M424.1 1830.9L428.3 1835.2M413.1 1837.4L414.9 1843.1M400.5 1838L399.3 1843.9M389 1832.7L385.2 1837.4M381.2 1822.6L375.7 1825.1M379.1 1810.2L373.1 1809.7M383 1798.1L377.8 1794.9M392 1789.2L388.9 1784M404.1 1785.5L403.8 1779.5M416.6 1787.9L419.1 1782.5M426.5 1795.9L431.3 1792.2M431.6 1807.5L437.5 1806.4" stroke="#6d9fd8" stroke-width="3.4" fill="none"/>
<circle cx="405.5" cy="1812" r="20.8" fill="none" stroke="#f7a03c" stroke-width="6.8"/>
<path d="M405.5 1799.7A12.3 12.3 0 0 1 414.2 1803.3" stroke="#6fa3dc" stroke-width="10.6" fill="none"/>
<path d="M414.2 1803.3A12.3 12.3 0 0 1 417.8 1812" stroke="#7dcf7d" stroke-width="10.6" fill="none"/>
<path d="M417.8 1812A12.3 12.3 0 0 1 414.2 1820.7" stroke="#7dcf7d" stroke-width="10.6" fill="none"/>
<path d="M414.2 1820.7A12.3 12.3 0 0 1 405.5 1824.3" stroke="#6fa3dc" stroke-width="10.6" fill="none"/>
<path d="M405.5 1824.3A12.3 12.3 0 0 1 396.8 1820.7" stroke="#6fa3dc" stroke-width="10.6" fill="none"/>
<path d="M396.8 1820.7A12.3 12.3 0 0 1 393.2 1812" stroke="#e56060" stroke-width="10.6" fill="none"/>
<path d="M393.2 1812A12.3 12.3 0 0 1 396.8 1803.3" stroke="#e56060" stroke-width="10.6" fill="none"/>
<path d="M396.8 1803.3A12.3 12.3 0 0 1 405.5 1799.7" stroke="#6fa3dc" stroke-width="10.6" fill="none"/>
<path d="M420.9 1813.4h0M415.7 1817.3h0M415.5 1823.9h0M409 1823h0M404.1 1827.4h0M400.2 1822.2h0M393.6 1822h0M394.5 1815.5h0M390.1 1810.6h0M395.3 1806.7h0M395.5 1800.1h0M402 1801h0M406.9 1796.6h0M410.8 1801.8h0M417.4 1802h0M416.5 1808.5h0" stroke="#3a1a10" stroke-width="2.4" stroke-linecap="round" fill="none"/>
<circle cx="405.5" cy="1812" r="7.2" fill="#fff"/>
<path d="M643 1812l7 0M643 1813l8 1M643 1815l6 1M643 1817l7 1M642 1818l7 1M642 1820l6 1M642 1821l8 3M641 1823l5 1M641 1824l9 4M640 1826l7 3M639 1827l6 3M639 1828l5 3M638 1829l6 4M637 1831l6 5M636 1832l3 3M635 1833l6 5M634 1834l6 7M633 1835l4 5M631 1837l3 3M631 1837l4 6M629 1838l4 5M628 1839l3 5M626 1840l6 10M625 1841l3 7M624 1841l6 13M622 1842l3 7M621 1842l2 8M619 1843l3 8M618 1843l3 13M616 1844l1 6M615 1844l0 6M613 1844l1 14M612 1844l0 5M610 1844l0 11M608 1844l0 6M607 1844l-1 8M605 1844l0 4M604 1843l-2 8M603 1843l-2 6M601 1842l-2 6M600 1842l-2 4M598 1841l-2 5M597 1841l-2 4M595 1840l-2 5M594 1839l-3 5M593 1838l-3 4M592 1837l-6 7M590 1837l-3 4M589 1835l-7 8M588 1834l-7 8M587 1833l-4 3M586 1832l-3 3M585 1831l-5 3M584 1829l-13 9M583 1828l-5 3M583 1827l-5 3M582 1826l-7 3M581 1824l-12 5M581 1823l-15 5M580 1821l-6 2M580 1819l-5 2M580 1818l-9 2M579 1816l-4 1M579 1815l-14 2M579 1814l-6 0M579 1812l-6 0M579 1810l-15 -1M579 1809l-4 0M579 1807l-6 -1M580 1806l-5 -1M580 1805l-7 -2M580 1803l-6 -2M581 1801l-6 -2M581 1800l-3 -2M582 1798l-8 -3M583 1797l-4 -2M583 1796l-5 -4M584 1794l-5 -3M585 1793l-10 -7M586 1792l-6 -5M587 1791l-5 -5M588 1790l-6 -6M589 1789l-6 -7M590 1787l-3 -3M591 1787l-2 -4M593 1786l-10 -14M594 1785l-6 -10M595 1784l-2 -5M597 1783l-3 -5M598 1783l-1 -5M600 1782l-2 -4M601 1782l-3 -8M603 1781l-2 -6M604 1781l-1 -4M605 1780l-1 -7M607 1780l0 -4M609 1780l-2 -20M610 1780l0 -20M612 1780l0 -16M613 1780l0 -6M615 1780l1 -5M616 1780l1 -6M618 1781l2 -10M620 1781l1 -5M621 1782l3 -10M622 1782l4 -9M624 1783l5 -12M625 1783l4 -6M626 1784l3 -4M628 1785l6 -9M629 1786l3 -4M631 1787l8 -11M632 1787l2 -3M633 1788l3 -3M634 1790l7 -7M635 1791l6 -5M636 1792l13 -10M637 1793l10 -7M638 1795l4 -3M639 1796l4 -3M639 1797l9 -5M640 1798l6 -3M641 1800l4 -2M641 1801l6 -2M642 1803l4 -1M642 1804l8 -2M642 1806l10 -2M643 1807l6 -1M643 1809l11 -1M643 1811l9 -1" stroke="#a9a9a9" stroke-width="1.8" fill="none"/>
<path d="M581 1824l-5 2M581 1823l-7 2M581 1822l-9 3M580 1822l-6 2M580 1820l-7 2M580 1820l-7 1M580 1819l-9 2M580 1818l-10 2M579 1817l-6 1M579 1817l-9 1M579 1816l-13 1M579 1815l-13 1M579 1814l-12 1M579 1813l-10 1M579 1813l-13 0M579 1812l-9 -1M579 1811l-8 0M579 1810l-9 0M579 1810l-11 -1M579 1809l-12 -1M579 1808l-11 -1M579 1807l-6 -1M579 1806l-11 -2M580 1806l-8 -2M580 1805l-10 -2M580 1804l-9 -2M580 1803l-5 -1M581 1802l-8 -2M619 1843l2 10M618 1843l3 13M618 1843l1 8M616 1844l2 10M615 1844l2 15M615 1844l1 8M614 1844l1 14M613 1844l2 16M613 1844l1 18M612 1844l0 10M611 1844l0 11M610 1844l-1 21M610 1844l-1 12M608 1844l-1 16M608 1844l-2 20M607 1844l-1 10M606 1844l-3 20M605 1843l-2 10M604 1843l-2 12M604 1843l-3 12M603 1843l-2 11M602 1843l-2 9M601 1843l-3 9M601 1842l-3 9M600 1842l-4 12M600 1842l-4 8M598 1841l-3 9M598 1841l-4 10M617 1781l1 -7M618 1781l1 -7M619 1781l2 -8M620 1781l2 -7M620 1781l2 -6M621 1781l2 -8M622 1782l2 -6M622 1782l3 -8M623 1782l3 -5M624 1783l4 -10M625 1783l4 -9M625 1783l5 -9M626 1784l5 -10M627 1784l4 -7M627 1784l5 -9M628 1785l6 -9M629 1785l4 -6M629 1786l6 -9M630 1786l3 -5M630 1787l6 -8M631 1787l6 -7M632 1788l4 -6M633 1788l5 -5M633 1789l4 -5M634 1790l5 -6M634 1790l5 -5M635 1791l5 -4M635 1791l4 -3M643 1815l6 1M643 1816l7 1M643 1817l4 0M642 1818l5 1M642 1818l6 2M642 1819l8 1M642 1820l8 2M642 1821l9 2M642 1821l7 2M641 1822l11 4M641 1823l8 3M641 1824l9 4M641 1824l6 3M640 1825l10 4M640 1826l7 3M639 1827l8 3M639 1828l7 3M639 1828l6 3M638 1828l6 4M638 1830l5 3M637 1830l6 4M598 1783l-2 -5M599 1782l-3 -5M599 1782l-3 -6M600 1782l-2 -6M601 1782l-2 -6M601 1782l-2 -8M602 1781l-1 -4M603 1781l-1 -7M604 1781l-2 -9M605 1781l-2 -7M606 1780l-2 -9M607 1780l-1 -6M607 1780l0 -6M608 1780l-1 -9M609 1780l-1 -6M609 1780l0 -6M610 1780l0 -6M611 1780l0 -6M612 1780l0 -6M612 1780l1 -5M614 1780l0 -5" stroke="#4cb34c" stroke-width="1.5" fill="none"/>
<path d="M594 1785l-13 -20M636 1791l12 -10" stroke="#a9a9a9" stroke-width="1.4" fill="none"/>
<circle cx="611" cy="1812" r="30" fill="none" stroke="#ada394" stroke-width="12"/>
<path d="M635 1812.4L646.5 1812.6M634.8 1815.3L646.2 1816.9M634.2 1818.1L645.3 1821.1M633.3 1820.9L644 1825.2M632.1 1823.5L642.1 1829M630.5 1826L639.9 1832.7M628.7 1828.2L637.2 1836M626.6 1830.2L634.1 1839M624.3 1832L630.7 1841.6M621.8 1833.4L626.9 1843.7M619.1 1834.6L623 1845.4M616.3 1835.4L618.9 1846.6M613.5 1835.9L614.7 1847.3M610.6 1836L610.4 1847.5M607.7 1835.8L606.1 1847.2M604.9 1835.2L601.9 1846.3M602.1 1834.3L597.8 1845M599.5 1833.1L594 1843.1M597 1831.5L590.3 1840.9M594.8 1829.7L587 1838.2M592.8 1827.6L584 1835.1M591 1825.3L581.4 1831.7M589.6 1822.8L579.3 1827.9M588.4 1820.1L577.6 1824M587.6 1817.3L576.4 1819.9M587.1 1814.5L575.7 1815.7M587 1811.6L575.5 1811.4M587.2 1808.7L575.8 1807.1M587.8 1805.9L576.7 1802.9M588.7 1803.1L578 1798.8M589.9 1800.5L579.9 1795M591.5 1798L582.1 1791.3M593.3 1795.8L584.8 1788M595.4 1793.8L587.9 1785M597.7 1792L591.3 1782.4M600.2 1790.6L595.1 1780.3M602.9 1789.4L599 1778.6M605.7 1788.6L603.1 1777.4M608.5 1788.1L607.3 1776.7M611.4 1788L611.6 1776.5M614.3 1788.2L615.9 1776.8M617.1 1788.8L620.1 1777.7M619.9 1789.7L624.2 1779M622.5 1790.9L628 1780.9M625 1792.5L631.7 1783.1M627.2 1794.3L635 1785.8M629.2 1796.4L638 1788.9M631 1798.7L640.6 1792.3M632.4 1801.2L642.7 1796.1M633.6 1803.9L644.4 1800M634.4 1806.7L645.6 1804.1M634.9 1809.5L646.3 1808.3" stroke="#f3a24e" stroke-width="1.3" fill="none"/>
<path d="M637.4 1813.8L643.4 1814.3M629.6 1830.9L633.8 1835.2M612.4 1838.5L612.7 1844.5M594.5 1832.7L590.7 1837.4M584.9 1816.5L579 1817.6M588.5 1798.1L583.3 1794.9M603.4 1786.6L601.6 1780.9M622.1 1787.9L624.6 1782.5M635.3 1801.4L640.8 1798.9" stroke="#f0563e" stroke-width="3.4" fill="none"/>
<path d="M636.2 1820.1L641.9 1822M624.5 1834.8L627.6 1840M606 1838L604.8 1843.9M590 1828.1L585.2 1831.8M584.6 1810.2L578.6 1809.7M592.4 1793.1L588.2 1788.8M609.6 1785.5L609.3 1779.5M627.5 1791.3L631.3 1786.6M637.1 1807.5L643 1806.4" stroke="#f59a3a" stroke-width="3.4" fill="none"/>
<path d="M633.5 1825.9L638.7 1829.1M618.6 1837.4L620.4 1843.1M599.9 1836.1L597.4 1841.5M586.7 1822.6L581.2 1825.1M585.8 1803.9L580.1 1802M597.5 1789.2L594.4 1784M616 1786L617.2 1780.1M632 1795.9L636.8 1792.2" stroke="#6d9fd8" stroke-width="3.4" fill="none"/>
<circle cx="611" cy="1812" r="20.8" fill="none" stroke="#7fcd80" stroke-width="6.8"/>
<path d="M611 1799.7A12.3 12.3 0 0 1 619.7 1803.3" stroke="#6fa3dc" stroke-width="10.6" fill="none"/>
<path d="M619.7 1803.3A12.3 12.3 0 0 1 623.3 1812" stroke="#7dcf7d" stroke-width="10.6" fill="none"/>
<path d="M623.3 1812A12.3 12.3 0 0 1 619.7 1820.7" stroke="#f5a03c" stroke-width="10.6" fill="none"/>
<path d="M619.7 1820.7A12.3 12.3 0 0 1 611 1824.3" stroke="#e85050" stroke-width="10.6" fill="none"/>
<path d="M611 1824.3A12.3 12.3 0 0 1 602.3 1820.7" stroke="#e85050" stroke-width="10.6" fill="none"/>
<path d="M602.3 1820.7A12.3 12.3 0 0 1 598.7 1812" stroke="#6fa3dc" stroke-width="10.6" fill="none"/>
<path d="M598.7 1812A12.3 12.3 0 0 1 602.3 1803.3" stroke="#6fa3dc" stroke-width="10.6" fill="none"/>
<path d="M602.3 1803.3A12.3 12.3 0 0 1 611 1799.7" stroke="#6fa3dc" stroke-width="10.6" fill="none"/>
<path d="M626.4 1813.4h0M621.2 1817.3h0M621 1823.9h0M614.5 1823h0M609.6 1827.4h0M605.7 1822.2h0M599.1 1822h0M600 1815.5h0M595.6 1810.6h0M600.8 1806.7h0M601 1800.1h0M607.5 1801h0M612.4 1796.6h0M616.3 1801.8h0M622.9 1802h0M622 1808.5h0" stroke="#3a1a10" stroke-width="2.4" stroke-linecap="round" fill="none"/>
<circle cx="611" cy="1812" r="7.2" fill="#fff"/>
<path d="M831 1812l6 0M831 1814l9 0M831 1815l4 0M831 1817l4 0M830 1818l13 3M830 1820l4 1M830 1821l5 1M829 1823l4 1M829 1824l4 2M828 1825l6 3M827 1827l6 3M827 1828l7 5M826 1829l8 6M825 1831l9 6M824 1832l5 4M823 1833l12 11M822 1834l5 5M821 1835l4 4M820 1836l13 16M818 1838l8 10M817 1838l5 8M816 1839l3 6M815 1840l3 5M813 1841l2 4M812 1841l1 4M810 1842l3 8M809 1842l2 7M807 1843l6 21M806 1843l2 10M804 1844l1 5M803 1844l1 7M801 1844l1 11M800 1844l0 10M798 1844l0 6M797 1844l-1 8M795 1844l-1 7M794 1844l-2 7M792 1843l-1 6M791 1843l-3 8M789 1842l-2 7M788 1842l-3 7M786 1841l-2 5M785 1841l-5 10M783 1840l-9 17M782 1839l-7 12M781 1838l-3 5M779 1837l-2 4M778 1836l-8 10M777 1835l-6 7M776 1834l-4 4M775 1833l-3 3M774 1832l-9 8M773 1831l-4 3M772 1830l-4 3M771 1828l-4 3M771 1827l-9 4M770 1826l-5 2M769 1824l-5 2M769 1823l-5 1M768 1821l-6 2M768 1820l-10 2M768 1818l-9 2M767 1817l-12 1M767 1815l-4 0M767 1814l-4 0M767 1812l-5 0M767 1810l-8 0M767 1809l-5 -1M767 1808l-22 -3M768 1806l-7 -2M768 1805l-4 -1M768 1803l-6 -2M769 1801l-10 -3M769 1800l-9 -4M770 1799l-5 -3M771 1797l-9 -4M772 1796l-9 -5M772 1794l-5 -3M773 1793l-7 -5M774 1792l-5 -4M775 1791l-14 -13M776 1789l-3 -3M777 1789l-5 -6M778 1787l-3 -4M780 1786l-4 -5M781 1786l-2 -4M782 1785l-2 -4M784 1784l-4 -6M785 1783l-3 -7M786 1783l-2 -6M788 1782l-2 -4M789 1782l-3 -8M790 1781l-1 -6M792 1781l-1 -5M794 1780l-1 -5M795 1780l-1 -8M796 1780l0 -6M798 1780l0 -8M800 1780l0 -17M801 1780l1 -8M803 1780l1 -11M804 1780l2 -8M806 1781l1 -5M808 1781l1 -6M809 1782l3 -8M811 1782l3 -9M812 1783l3 -8M813 1783l3 -5M814 1784l3 -4M816 1785l7 -11M817 1786l3 -4M818 1786l4 -5M820 1788l3 -5M821 1788l3 -3M822 1790l7 -7M823 1791l4 -4M824 1792l4 -3M825 1793l13 -10M826 1794l4 -3M827 1796l10 -7M827 1797l7 -3M828 1799l6 -3M829 1800l9 -4M829 1801l5 -1M830 1803l6 -2M830 1804l8 -1M830 1806l8 -1M831 1807l9 -1M831 1809l8 -1M831 1811l5 -1" stroke="#a9a9a9" stroke-width="1.8" fill="none"/>
<path d="M769 1824l-7 3M769 1823l-9 4M769 1823l-8 3M769 1823l-6 2M769 1822l-8 3M768 1821l-6 2M768 1821l-8 2M768 1820l-13 3M768 1819l-12 3M768 1819l-8 2M768 1818l-13 3M768 1818l-9 1M767 1818l-7 1M767 1817l-10 1M767 1816l-8 1M767 1816l-11 1M767 1815l-14 1M767 1815l-8 0M767 1814l-12 1M767 1813l-12 1M767 1813l-11 0M767 1812l-8 0M767 1812l-18 0M767 1811l-11 0M767 1811l-19 -1M767 1810l-9 -1M767 1809l-13 -1M767 1809l-12 -1M767 1808l-13 -1M767 1808l-10 -2M767 1807l-9 -1M767 1806l-13 -2M768 1806l-8 -2M768 1805l-13 -2M768 1805l-14 -3M768 1804l-8 -1M768 1804l-13 -4M768 1803l-7 -2M768 1802l-5 -1M769 1802l-10 -3M769 1801l-11 -3M769 1801l-10 -4M769 1801l-10 -4M769 1800l-8 -3M811 1842l3 7M810 1842l4 9M810 1842l3 9M809 1842l3 9M809 1842l3 10M808 1843l4 10M808 1843l2 6M807 1843l3 11M806 1843l3 11M806 1843l2 8M806 1843l2 10M805 1843l2 14M805 1843l2 12M804 1844l2 11M803 1844l2 8M803 1844l1 10M802 1844l1 13M802 1844l0 9M801 1844l1 13M801 1844l0 18M800 1844l0 17M799 1844l0 18M799 1844l0 20M798 1844l0 10M798 1844l-1 8M797 1844l0 9M797 1844l-1 12M796 1844l-2 15M795 1844l-2 15M795 1844l-2 13M794 1844l-1 8M794 1844l-2 11M793 1843l-2 15M792 1843l-2 10M792 1843l-3 10M791 1843l-2 10M791 1843l-3 10M790 1843l-3 11M790 1843l-3 9M789 1842l-3 10M789 1842l-4 11M788 1842l-3 8M788 1842l-3 8M787 1842l-2 5M789 1782l-3 -8M789 1782l-3 -9M789 1782l-3 -10M790 1781l-2 -8M790 1781l-2 -8M791 1781l-2 -9M791 1781l-2 -9M792 1781l-2 -8M793 1781l-2 -10M794 1780l-2 -9M794 1780l-2 -12M794 1780l-1 -10M795 1780l-2 -10M796 1780l-2 -14M796 1780l0 -10M797 1780l-1 -10M797 1780l-1 -13M798 1780l-1 -17M799 1780l0 -8M799 1780l0 -17M799 1780l1 -14M800 1780l1 -9M801 1780l0 -7M801 1780l1 -12M802 1780l1 -10M802 1780l1 -11M803 1780l1 -10M803 1780l2 -13M804 1780l1 -7M805 1780l2 -13M805 1781l2 -11M806 1781l1 -8M807 1781l1 -7M807 1781l1 -6M808 1781l1 -6M808 1781l3 -9M808 1781l4 -10M809 1782l2 -7M810 1782l2 -6M829 1801l8 -2M829 1802l7 -2M829 1802l8 -2M830 1803l5 -2M830 1803l7 -2M830 1804l10 -3M830 1805l9 -2M830 1805l9 -2M830 1806l12 -2M830 1806l11 -2M831 1807l11 -2M831 1807l13 -2M831 1808l7 -1M831 1808l10 -1M831 1809l14 -1M831 1810l15 -2M831 1811l16 -1M831 1811l13 0M831 1811l9 0M831 1812l10 0M831 1812l8 1M831 1813l11 1M831 1813l8 1M831 1814l8 1M831 1815l9 1M831 1816l9 1M831 1816l14 2M831 1817l13 2M831 1817l12 2M830 1818l11 2M830 1818l11 2M830 1819l8 1M830 1820l11 2M830 1820l11 2M830 1820l7 2M830 1821l8 3M830 1821l10 4M829 1822l9 3M829 1823l8 3" stroke="#4cb34c" stroke-width="1.5" fill="none"/>
<circle cx="799" cy="1812" r="30" fill="none" stroke="#ada394" stroke-width="12"/>
<path d="M823 1812.4L834.5 1812.6M822.8 1815.3L834.2 1816.9M822.2 1818.1L833.3 1821.1M821.3 1820.9L832 1825.2M820.1 1823.5L830.1 1829M818.5 1826L827.9 1832.7M816.7 1828.2L825.2 1836M814.6 1830.2L822.1 1839M812.3 1832L818.7 1841.6M809.8 1833.4L814.9 1843.7M807.1 1834.6L811 1845.4M804.3 1835.4L806.9 1846.6M801.5 1835.9L802.7 1847.3M798.6 1836L798.4 1847.5M795.7 1835.8L794.1 1847.2M792.9 1835.2L789.9 1846.3M790.1 1834.3L785.8 1845M787.5 1833.1L782 1843.1M785 1831.5L778.3 1840.9M782.8 1829.7L775 1838.2M780.8 1827.6L772 1835.1M779 1825.3L769.4 1831.7M777.6 1822.8L767.3 1827.9M776.4 1820.1L765.6 1824M775.6 1817.3L764.4 1819.9M775.1 1814.5L763.7 1815.7M775 1811.6L763.5 1811.4M775.2 1808.7L763.8 1807.1M775.8 1805.9L764.7 1802.9M776.7 1803.1L766 1798.8M777.9 1800.5L767.9 1795M779.5 1798L770.1 1791.3M781.3 1795.8L772.8 1788M783.4 1793.8L775.9 1785M785.7 1792L779.3 1782.4M788.2 1790.6L783.1 1780.3M790.9 1789.4L787 1778.6M793.7 1788.6L791.1 1777.4M796.5 1788.1L795.3 1776.7M799.4 1788L799.6 1776.5M802.3 1788.2L803.9 1776.8M805.1 1788.8L808.1 1777.7M807.9 1789.7L812.2 1779M810.5 1790.9L816 1780.9M813 1792.5L819.7 1783.1M815.2 1794.3L823 1785.8M817.2 1796.4L826 1788.9M819 1798.7L828.6 1792.3M820.4 1801.2L830.7 1796.1M821.6 1803.9L832.4 1800M822.4 1806.7L833.6 1804.1M822.9 1809.5L834.3 1808.3" stroke="#f3a24e" stroke-width="1.3" fill="none"/>
<path d="M825.4 1813.8L831.4 1814.3M817.6 1830.9L821.8 1835.2M800.4 1838.5L800.7 1844.5M782.5 1832.7L778.7 1837.4M772.9 1816.5L767 1817.6M776.5 1798.1L771.3 1794.9M791.4 1786.6L789.6 1780.9M810.1 1787.9L812.6 1782.5M823.3 1801.4L828.8 1798.9" stroke="#f0563e" stroke-width="3.4" fill="none"/>
<path d="M824.2 1820.1L829.9 1822M812.5 1834.8L815.6 1840M794 1838L792.8 1843.9M778 1828.1L773.2 1831.8M772.6 1810.2L766.6 1809.7M780.4 1793.1L776.2 1788.8M797.6 1785.5L797.3 1779.5M815.5 1791.3L819.3 1786.6M825.1 1807.5L831 1806.4" stroke="#f59a3a" stroke-width="3.4" fill="none"/>
<path d="M821.5 1825.9L826.7 1829.1M806.6 1837.4L808.4 1843.1M787.9 1836.1L785.4 1841.5M774.7 1822.6L769.2 1825.1M773.8 1803.9L768.1 1802M785.5 1789.2L782.4 1784M804 1786L805.2 1780.1M820 1795.9L824.8 1792.2" stroke="#6d9fd8" stroke-width="3.4" fill="none"/>
<circle cx="799" cy="1812" r="20.8" fill="none" stroke="#7fcd80" stroke-width="6.8"/>
<path d="M799 1799.7A12.3 12.3 0 0 1 807.7 1803.3" stroke="#6fa3dc" stroke-width="10.6" fill="none"/>
<path d="M807.7 1803.3A12.3 12.3 0 0 1 811.3 1812" stroke="#7dcf7d" stroke-width="10.6" fill="none"/>
<path d="M811.3 1812A12.3 12.3 0 0 1 807.7 1820.7" stroke="#f5a03c" stroke-width="10.6" fill="none"/>
<path d="M807.7 1820.7A12.3 12.3 0 0 1 799 1824.3" stroke="#e85050" stroke-width="10.6" fill="none"/>
<path d="M799 1824.3A12.3 12.3 0 0 1 790.3 1820.7" stroke="#e85050" stroke-width="10.6" fill="none"/>
<path d="M790.3 1820.7A12.3 12.3 0 0 1 786.7 1812" stroke="#6fa3dc" stroke-width="10.6" fill="none"/>
<path d="M786.7 1812A12.3 12.3 0 0 1 790.3 1803.3" stroke="#6fa3dc" stroke-width="10.6" fill="none"/>
<path d="M790.3 1803.3A12.3 12.3 0 0 1 799 1799.7" stroke="#6fa3dc" stroke-width="10.6" fill="none"/>
<path d="M814.4 1813.4h0M809.2 1817.3h0M809 1823.9h0M802.5 1823h0M797.6 1827.4h0M793.7 1822.2h0M787.1 1822h0M788 1815.5h0M783.6 1810.6h0M788.8 1806.7h0M789 1800.1h0M795.5 1801h0M800.4 1796.6h0M804.3 1801.8h0M810.9 1802h0M810 1808.5h0" stroke="#3a1a10" stroke-width="2.4" stroke-linecap="round" fill="none"/>
<circle cx="799" cy="1812" r="7.2" fill="#fff"/>
<path d="M254 1987l22 0M254 1989l6 0M254 1990l15 1M254 1992l4 0M253 1993l24 4M253 1994l13 4M253 1996l12 4M252 1998l11 4M252 1999l7 3M251 2001l12 5M250 2002l9 4M250 2003l5 4M249 2004l10 7M248 2006l10 7M247 2007l15 13M246 2008l7 6M245 2010l5 5M244 2011l4 4M242 2012l3 3M241 2012l12 15M240 2013l8 11M239 2014l25 41M238 2015l5 9M236 2016l4 7M235 2016l2 5M233 2017l2 4M232 2017l1 4M230 2018l2 6M229 2018l3 13M227 2019l2 12M226 2019l1 11M224 2019l1 7M223 2019l0 15M221 2019l-1 24M219 2019l0 10M218 2019l-2 16M217 2019l-1 4M215 2018l-1 6M214 2018l-3 9M212 2018l-3 11M211 2017l-7 18M209 2016l-3 7M208 2016l-15 29M206 2015l-10 18M205 2014l-7 13M204 2013l-3 5M203 2012l-4 5M202 2012l-4 4M200 2011l-4 4M199 2009l-3 4M198 2008l-3 3M197 2007l-5 4M196 2006l-5 4M195 2005l-8 5M195 2003l-21 12M194 2002l-8 4M193 2000l-28 13M192 1999l-8 3M192 1998l-8 3M191 1996l-12 4M191 1995l-24 6M191 1993l-8 2M190 1991l-26 4M190 1990l-4 1M190 1989l-9 0M190 1987l-8 0M190 1985l-4 0M190 1984l-5 0M190 1982l-7 -1M191 1981l-14 -3M191 1980l-9 -3M191 1978l-17 -5M192 1976l-8 -2M192 1975l-18 -8M193 1974l-5 -2M194 1972l-7 -3M194 1971l-7 -5M195 1969l-11 -8M196 1968l-10 -8M197 1967l-9 -7M198 1966l-9 -8M199 1965l-20 -20M200 1964l-16 -18M201 1963l-4 -5M202 1962l-12 -16M204 1961l-9 -14M205 1960l-3 -5M206 1959l-2 -4M208 1958l-2 -4M209 1958l-1 -4M211 1957l-5 -11M212 1957l-2 -5M214 1956l-2 -7M215 1956l-4 -15M217 1955l-2 -11M218 1955l-1 -9M220 1955l-1 -6M221 1955l0 -16M223 1955l0 -20M225 1955l0 -10M226 1955l1 -5M227 1955l3 -13M229 1956l2 -10M230 1956l7 -23M232 1957l1 -5M233 1957l3 -6M235 1958l8 -18M236 1958l3 -6M238 1959l9 -16M239 1960l5 -7M240 1961l12 -17M242 1962l6 -9M243 1963l3 -4M244 1963l2 -3M245 1964l7 -7M246 1966l9 -8M247 1967l13 -10M248 1968l6 -4M249 1969l23 -14M250 1971l12 -8M250 1972l5 -2M251 1973l7 -3M252 1975l21 -9M252 1976l6 -2M253 1978l4 -1M253 1979l9 -2M253 1981l9 -2M254 1983l4 -1M254 1984l6 -1M254 1986l6 -1" stroke="#a9a9a9" stroke-width="1.8" fill="none"/>
<path d="M203 1961l-11 -15M204 1961l-9 -13M204 1961l-8 -11M204 1960l-10 -14M205 1960l-16 -25M205 1960l-12 -20M206 1959l-25 -41M206 1959l-12 -21M206 1959l-25 -45M207 1959l-17 -34M207 1958l-10 -20M208 1958l-22 -44M208 1958l-17 -37M209 1958l-10 -24M209 1958l-17 -42M210 1957l-17 -41M211 1957l-12 -31M211 1957l-11 -29M212 1957l-7 -19M212 1957l-6 -19M213 1956l-5 -14M213 1956l-8 -25M214 1956l-5 -18M220 1955l-1 -24M221 1955l-1 -13M221 1955l0 -29M222 1955l0 -35M222 1955l0 -21M223 1955l1 -41M223 1955l1 -25M224 1955l1 -25M225 1955l2 -33M225 1955l2 -15M226 1955l3 -31M226 1955l2 -12M230 1956l7 -24M230 1956l4 -12M231 1956l6 -20M231 1956l5 -15M232 1957l14 -43M233 1957l9 -25M233 1957l10 -24M234 1957l7 -19M234 1957l15 -38M235 1958l14 -34M235 1958l6 -12M236 1958l7 -15M247 1967l12 -9M247 1968l30 -23M248 1968l18 -13M248 1968l20 -14M248 1969l40 -27M248 1969l20 -14M249 1970l47 -31M249 1970l20 -12M249 1970l46 -27M250 1971l39 -23M250 1971l22 -12M250 1972l62 -34M250 1972l38 -19M251 1973l62 -32M251 1973l62 -29M251 1974l49 -22M251 1974l52 -22M252 1975l34 -15M252 1975l46 -18M252 1975l45 -17M252 1976l29 -11M252 1976l45 -15M252 1977l17 -6M253 1977l17 -5M253 1978l36 -10M253 1978l21 -6M190 1987l-25 0M190 1987l-28 -1M190 1986l-21 0M190 1985l-30 -1M190 1985l-22 -1M190 1984l-33 -3M190 1984l-23 -2M190 1983l-19 -2M190 1983l-20 -3M190 1982l-38 -5M190 1982l-42 -7M191 1981l-25 -4M191 1981l-37 -8M191 1980l-18 -3M191 1980l-16 -4M191 1979l-15 -4M191 1978l-26 -7M191 1978l-22 -7" stroke="#e0201e" stroke-width="1.5" fill="none"/>
<path d="M253 1980l8 -2M253 1981l16 -3M253 1981l14 -2M254 1982l14 -2M254 1982l14 -2M254 1983l16 -2M254 1984l10 -2M254 1984l19 -1M254 1985l20 -2M254 1985l15 -1M254 1986l12 -1M254 1986l17 0M254 1987l25 0M254 1987l16 0M254 1988l12 0M254 1988l14 1M254 1989l23 2M254 1990l23 1M254 1990l18 1M254 1991l23 2M254 1991l20 3M254 1992l16 2M254 1992l26 5M253 1993l34 6M253 1993l23 5M253 1994l26 5M253 1994l26 6M253 1995l27 6M253 1995l23 6M253 1996l16 4M253 1996l12 4M252 1997l22 7M252 1997l18 6M252 1998l21 7M252 1998l19 7M252 1999l18 7M252 1999l10 5M251 2000l21 9M251 2000l11 5M251 2001l10 5M251 2001l16 8M251 2002l10 5M250 2002l14 8M250 2003l16 9M250 2003l15 9M249 2003l9 6M249 2004l13 8M236 1958l3 -6M236 1958l5 -9M236 1958l6 -10M237 1959l6 -10M238 1959l5 -9M238 1959l8 -13M238 1960l5 -8M239 1960l11 -18M240 1960l6 -9M240 1960l12 -17M240 1961l12 -17M241 1961l9 -12M241 1961l7 -9M242 1962l9 -12M242 1962l8 -10M243 1962l9 -11M243 1963l10 -12M243 1963l6 -7M244 1963l6 -6M244 1964l6 -6M245 1964l4 -5M244 2011l9 10M243 2011l7 7M243 2011l11 14M242 2012l10 12M242 2012l11 14M242 2012l9 12M241 2013l9 11M241 2013l6 10M240 2013l11 15M240 2014l13 19M239 2014l6 8M239 2014l8 13M238 2014l6 10M238 2015l9 17M237 2015l10 18M237 2015l8 16M236 2016l7 12M236 2016l7 14M236 2016l5 11M235 2016l6 15M234 2016l9 21M234 2017l6 15M234 2017l8 20M233 2017l4 12M233 2017l7 21M232 2017l5 16M231 2018l6 17M231 2018l5 16M230 2018l4 12M230 2018l3 11M229 2018l2 9M214 2018l-2 6M213 2018l-3 8M212 2017l-3 8M212 2017l-4 10M211 2017l-5 11M210 2017l-6 15M210 2017l-6 14M209 2016l-5 10M208 2016l-6 13M207 2016l-5 10M207 2015l-9 18M207 2015l-10 19M206 2015l-11 20M206 2014l-7 12M205 2014l-10 16M204 2014l-6 9M204 2013l-10 14M203 2013l-11 14M203 2012l-9 12M202 2012l-8 10M201 2012l-6 8M201 2011l-7 9M201 2011l-7 7M200 2010l-6 7M200 2010l-8 9" stroke="#a9a9a9" stroke-width="1.5" fill="none"/>
<path d="M235 2016l23 56M197 2008l-39 33" stroke="#a9a9a9" stroke-width="1.4" fill="none"/>
<path d="M197 2007l-5 4M197 2007l-5 4M196 2006l-6 4M196 2005l-7 5M195 2004l-7 5M195 2004l-5 3M194 2003l-8 5M194 2003l-9 5M194 2002l-8 4M193 2001l-8 5M193 2001l-9 4M193 2000l-12 5M192 1999l-10 4M192 1998l-9 3M192 1998l-7 2M192 1997l-9 3M191 1996l-5 2M191 1995l-6 1M191 1995l-8 2M191 1994l-8 1M191 1993l-5 1M230 2018l2 6M229 2018l2 6M228 2018l1 7M228 2019l0 4M227 2019l1 5M226 2019l1 9M225 2019l1 8M224 2019l1 7M223 2019l1 6M222 2019l0 6M222 2019l0 6M221 2019l0 6M220 2019l0 7M219 2019l-1 9M219 2019l-1 11M218 2019l-1 9M217 2019l-1 6M216 2019l-1 5M216 2018l-2 8M215 2018l-2 9M214 2018l-2 9M213 2018l-1 7M213 2018l-2 6M212 2017l-3 8M211 2017l-3 7M210 2017l-1 5M210 2017l-2 4M209 2016l-2 5" stroke="#1f5a8a" stroke-width="1.5" fill="none"/>
<circle cx="222" cy="1987" r="30" fill="none" stroke="#ada394" stroke-width="12"/>
<path d="M246 1987.4L257.5 1987.6M245.8 1990.3L257.2 1991.9M245.2 1993.1L256.3 1996.1M244.3 1995.9L255 2000.2M243.1 1998.5L253.1 2004M241.5 2001L250.9 2007.7M239.7 2003.2L248.2 2011M237.6 2005.2L245.1 2014M235.3 2007L241.7 2016.6M232.8 2008.4L237.9 2018.7M230.1 2009.6L234 2020.4M227.3 2010.4L229.9 2021.6M224.5 2010.9L225.7 2022.3M221.6 2011L221.4 2022.5M218.7 2010.8L217.1 2022.2M215.9 2010.2L212.9 2021.3M213.1 2009.3L208.8 2020M210.5 2008.1L205 2018.1M208 2006.5L201.3 2015.9M205.8 2004.7L198 2013.2M203.8 2002.6L195 2010.1M202 2000.3L192.4 2006.7M200.6 1997.8L190.3 2002.9M199.4 1995.1L188.6 1999M198.6 1992.3L187.4 1994.9M198.1 1989.5L186.7 1990.7M198 1986.6L186.5 1986.4M198.2 1983.7L186.8 1982.1M198.8 1980.9L187.7 1977.9M199.7 1978.1L189 1973.8M200.9 1975.5L190.9 1970M202.5 1973L193.1 1966.3M204.3 1970.8L195.8 1963M206.4 1968.8L198.9 1960M208.7 1967L202.3 1957.4M211.2 1965.6L206.1 1955.3M213.9 1964.4L210 1953.6M216.7 1963.6L214.1 1952.4M219.5 1963.1L218.3 1951.7M222.4 1963L222.6 1951.5M225.3 1963.2L226.9 1951.8M228.1 1963.8L231.1 1952.7M230.9 1964.7L235.2 1954M233.5 1965.9L239 1955.9M236 1967.5L242.7 1958.1M238.2 1969.3L246 1960.8M240.2 1971.4L249 1963.9M242 1973.7L251.6 1967.3M243.4 1976.2L253.7 1971.1M244.6 1978.9L255.4 1975M245.4 1981.7L256.6 1979.1M245.9 1984.5L257.3 1983.3" stroke="#f3a24e" stroke-width="1.3" fill="none"/>
<path d="M248.4 1988.8L254.4 1989.3M244.5 2000.9L249.7 2004.1M235.5 2009.8L238.6 2015M223.4 2013.5L223.7 2019.5M210.9 2011.1L208.4 2016.5M201 2003.1L196.2 2006.8M195.9 1991.5L190 1992.6M196.8 1978.9L191.1 1977M203.4 1968.1L199.2 1963.8M214.4 1961.6L212.6 1955.9M227 1961L228.2 1955.1M238.5 1966.3L242.3 1961.6M246.3 1976.4L251.8 1973.9" stroke="#7cc47f" stroke-width="3.4" fill="none"/>
<path d="M247.2 1995.1L252.9 1997M240.6 2005.9L244.8 2010.2M229.6 2012.4L231.4 2018.1M217 2013L215.8 2018.9M205.5 2007.7L201.7 2012.4M197.7 1997.6L192.2 2000.1M195.6 1985.2L189.6 1984.7M199.5 1973.1L194.3 1969.9M208.5 1964.2L205.4 1959M220.6 1960.5L220.3 1954.5M233.1 1962.9L235.6 1957.5M243 1970.9L247.8 1967.2M248.1 1982.5L254 1981.4" stroke="#6d9fd8" stroke-width="3.4" fill="none"/>
<circle cx="222" cy="1987" r="20.8" fill="none" stroke="#f7a03c" stroke-width="6.8"/>
<path d="M222 1974.7A12.3 12.3 0 0 1 230.7 1978.3" stroke="#6fa3dc" stroke-width="10.6" fill="none"/>
<path d="M230.7 1978.3A12.3 12.3 0 0 1 234.3 1987" stroke="#7dcf7d" stroke-width="10.6" fill="none"/>
<path d="M234.3 1987A12.3 12.3 0 0 1 230.7 1995.7" stroke="#7dcf7d" stroke-width="10.6" fill="none"/>
<path d="M230.7 1995.7A12.3 12.3 0 0 1 222 1999.3" stroke="#6fa3dc" stroke-width="10.6" fill="none"/>
<path d="M222 1999.3A12.3 12.3 0 0 1 213.3 1995.7" stroke="#6fa3dc" stroke-width="10.6" fill="none"/>
<path d="M213.3 1995.7A12.3 12.3 0 0 1 209.7 1987" stroke="#e56060" stroke-width="10.6" fill="none"/>
<path d="M209.7 1987A12.3 12.3 0 0 1 213.3 1978.3" stroke="#e56060" stroke-width="10.6" fill="none"/>
<path d="M213.3 1978.3A12.3 12.3 0 0 1 222 1974.7" stroke="#6fa3dc" stroke-width="10.6" fill="none"/>
<path d="M237.4 1988.4h0M232.2 1992.3h0M232 1998.9h0M225.5 1998h0M220.6 2002.4h0M216.7 1997.2h0M210.1 1997h0M211 1990.5h0M206.6 1985.6h0M211.8 1981.7h0M212 1975.1h0M218.5 1976h0M223.4 1971.6h0M227.3 1976.8h0M233.9 1977h0M233 1983.5h0" stroke="#3a1a10" stroke-width="2.4" stroke-linecap="round" fill="none"/>
<circle cx="222" cy="1987" r="7.2" fill="#fff"/>
<path d="M438 1987l8 0M438 1989l31 1M438 1990l17 2M438 1992l5 0M437 1993l17 3M437 1994l13 4M437 1996l5 2M436 1998l8 2M436 1999l21 9M435 2001l6 2M434 2002l11 6M433 2003l17 10M433 2005l5 3M432 2006l38 29M431 2007l4 3M430 2008l13 12M429 2010l27 26M428 2011l10 11M427 2011l7 9M425 2012l11 14M424 2013l11 17M423 2014l6 10M421 2015l9 16M420 2016l6 13M419 2016l4 8M417 2017l3 6M416 2017l2 5M414 2018l5 17M413 2018l7 34M411 2019l1 4M410 2019l1 4M408 2019l1 7M407 2019l0 9M405 2019l0 21M404 2019l-1 5M402 2019l-1 8M400 2018l-1 7M399 2018l-5 27M398 2018l-2 5M396 2017l-8 26M395 2017l-2 5M393 2016l-3 7M392 2016l-2 4M390 2015l-3 5M389 2014l-4 7M388 2013l-28 40M387 2013l-8 10M385 2012l-14 16M384 2010l-10 11M383 2009l-8 8M382 2008l-3 3M381 2007l-11 9M380 2006l-10 7M379 2005l-13 9M378 2003l-18 11M378 2002l-13 6M377 2001l-7 3M376 1999l-12 5M376 1998l-18 6M375 1996l-6 2M375 1995l-7 2M375 1993l-20 4M374 1991l-4 1M374 1990l-11 1M374 1989l-29 1M374 1987l-7 0M374 1985l-9 0M374 1984l-10 -1M374 1982l-4 0M375 1981l-7 -2M375 1979l-6 -1M375 1978l-4 -2M376 1977l-6 -2M376 1975l-13 -6M377 1973l-4 -2M378 1972l-15 -7M378 1971l-8 -5M379 1970l-7 -5M380 1968l-19 -14M381 1967l-6 -5M382 1966l-9 -8M383 1965l-15 -15M384 1964l-3 -4M385 1962l-9 -11M386 1962l-6 -9M388 1961l-7 -12M389 1960l-5 -9M390 1959l-20 -37M392 1958l-5 -8M393 1958l-4 -10M395 1957l-5 -14M396 1956l-2 -6M397 1956l-2 -8M399 1956l-6 -26M400 1955l-1 -9M402 1955l-1 -8M404 1955l-1 -9M405 1955l0 -7M407 1955l0 -4M408 1955l1 -19M410 1955l1 -9M411 1955l2 -9M413 1956l2 -9M414 1956l3 -12M416 1957l3 -12M417 1957l16 -42M419 1958l3 -9M420 1958l2 -4M422 1959l4 -8M423 1960l4 -7M424 1961l6 -10M426 1962l20 -27M427 1962l9 -11M428 1964l11 -13M429 1965l3 -4M430 1966l19 -17M431 1967l3 -3M432 1968l4 -3M433 1969l26 -17M433 1971l15 -9M434 1972l9 -4M435 1973l6 -2M436 1975l10 -4M436 1976l10 -3M437 1978l22 -7M437 1979l8 -2M437 1981l21 -4M438 1982l16 -2M438 1984l8 -1M438 1986l5 -1" stroke="#a9a9a9" stroke-width="1.8" fill="none"/>
<path d="M388 1961l-9 -14M388 1960l-7 -10M389 1960l-9 -15M389 1960l-7 -12M390 1959l-16 -27M390 1959l-11 -18M390 1959l-8 -16M391 1959l-14 -28M392 1958l-16 -31M392 1958l-17 -35M392 1958l-14 -31M393 1958l-7 -17M393 1958l-12 -28M394 1957l-7 -15M394 1957l-13 -35M395 1957l-12 -34M395 1957l-4 -14M396 1957l-7 -20M397 1956l-8 -23M397 1956l-5 -18M398 1956l-5 -17M407 1955l0 -16M407 1955l1 -23M408 1955l1 -15M408 1955l2 -17M409 1955l1 -16M410 1955l5 -38M410 1955l5 -38M411 1955l6 -43M411 1955l5 -28M412 1956l2 -14M412 1956l5 -25M413 1956l5 -24M414 1956l2 -10M414 1956l3 -10M431 1967l21 -16M431 1967l19 -14M432 1968l33 -24M432 1968l27 -18M432 1969l33 -23M433 1969l37 -25M433 1969l22 -14M433 1970l42 -26M433 1971l21 -13M434 1971l31 -18M434 1971l48 -27M434 1972l31 -16M434 1972l60 -31M435 1973l37 -19M435 1973l52 -25M435 1973l33 -15M435 1974l27 -12M435 1974l35 -14M436 1975l36 -14M436 1975l28 -11M436 1976l19 -7M436 1976l41 -14M436 1977l34 -11M437 1978l18 -6M374 1985l-18 0M374 1985l-21 -2M374 1984l-14 -1M374 1984l-28 -3M374 1983l-19 -2M374 1983l-25 -4M374 1982l-35 -5M374 1982l-40 -7M375 1981l-27 -5M375 1981l-17 -4M375 1980l-35 -8M375 1980l-14 -4M375 1979l-20 -5M375 1979l-26 -7M375 1978l-18 -6M375 1977l-15 -5" stroke="#e0201e" stroke-width="1.5" fill="none"/>
<path d="M437 1980l9 -1M437 1981l11 -2M438 1982l10 -2M438 1982l9 -2M438 1982l9 -1M438 1983l14 -2M438 1984l9 -1M438 1984l10 -1M438 1985l19 -2M438 1985l15 -1M438 1986l20 -1M438 1986l22 0M438 1987l22 0M438 1987l11 1M438 1988l24 0M438 1988l10 1M438 1989l19 1M438 1989l17 1M438 1990l18 1M438 1990l12 2M438 1991l16 2M438 1992l28 4M438 1992l24 4M437 1993l17 3M437 1993l16 3M437 1994l17 3M437 1994l15 4M437 1995l14 3M437 1995l12 4M437 1996l20 5M437 1996l21 6M437 1997l23 7M436 1997l22 7M436 1998l15 5M436 1998l21 8M436 1999l13 5M436 1999l12 5M435 2000l10 4M435 2000l9 4M435 2001l12 5M435 2001l10 5M435 2001l13 7M434 2002l13 7M434 2003l12 6M434 2003l12 7M433 2003l10 6M433 2004l13 8M428 2011l7 8M427 2011l11 12M427 2011l5 6M426 2012l8 8M426 2012l8 11M426 2012l7 10M425 2013l9 13M425 2013l10 14M424 2013l6 9M424 2014l6 10M423 2014l13 20M423 2014l13 20M422 2014l14 24M422 2015l9 14M422 2015l12 21M421 2015l7 12M421 2015l13 26M420 2016l9 19M420 2016l6 14M419 2016l10 23M419 2016l4 11M418 2017l6 14M418 2017l5 13M417 2017l7 20M417 2017l4 12M416 2017l3 10M415 2018l3 7M415 2018l4 15M414 2018l2 7M414 2018l3 11M413 2018l2 7M417 1957l3 -6M418 1957l4 -8M418 1957l3 -6M419 1958l3 -7M419 1958l3 -6M420 1958l5 -11M421 1959l7 -15M421 1959l5 -9M422 1959l7 -12M422 1959l7 -12M423 1960l9 -16M423 1960l8 -11M424 1960l8 -12M424 1961l7 -10M425 1961l7 -10M425 1961l4 -5M426 1962l5 -6M426 1962l4 -4" stroke="#a9a9a9" stroke-width="1.5" fill="none"/>
<path d="M418 2017l28 70M383 2009l-35 34" stroke="#a9a9a9" stroke-width="1.4" fill="none"/>
<path d="M381 2007l-4 3M381 2007l-5 3M380 2006l-6 4M380 2006l-5 3M379 2005l-6 4M379 2004l-9 6M378 2003l-5 3M378 2003l-5 3M378 2002l-7 3M377 2001l-7 4M377 2000l-7 3M377 1999l-11 5M376 1999l-8 3M376 1998l-8 3M376 1997l-8 3M376 1997l-7 2M375 1996l-5 1M375 1995l-8 2M375 1995l-7 1M375 1994l-5 1M375 1993l-8 1M414 2018l1 5M413 2018l1 7M412 2018l2 7M412 2018l1 7M411 2019l0 4M410 2019l1 5M409 2019l1 7M409 2019l0 5M408 2019l0 7M407 2019l0 6M406 2019l0 9M405 2019l0 6M404 2019l-1 9M403 2019l0 9M403 2019l-1 9M402 2019l0 5M402 2019l-2 9M401 2019l-1 6M399 2018l-1 6M399 2018l-1 5M398 2018l-1 7M397 2018l-1 5M396 2017l-2 7M396 2017l-2 6M395 2017l-2 6M394 2017l-2 5M394 2017l-3 5M393 2016l-2 4" stroke="#1f5a8a" stroke-width="1.5" fill="none"/>
<circle cx="406" cy="1987" r="30" fill="none" stroke="#ada394" stroke-width="12"/>
<path d="M430 1987.4L441.5 1987.6M429.8 1990.3L441.2 1991.9M429.2 1993.1L440.3 1996.1M428.3 1995.9L439 2000.2M427.1 1998.5L437.1 2004M425.5 2001L434.9 2007.7M423.7 2003.2L432.2 2011M421.6 2005.2L429.1 2014M419.3 2007L425.7 2016.6M416.8 2008.4L421.9 2018.7M414.1 2009.6L418 2020.4M411.3 2010.4L413.9 2021.6M408.5 2010.9L409.7 2022.3M405.6 2011L405.4 2022.5M402.7 2010.8L401.1 2022.2M399.9 2010.2L396.9 2021.3M397.1 2009.3L392.8 2020M394.5 2008.1L389 2018.1M392 2006.5L385.3 2015.9M389.8 2004.7L382 2013.2M387.8 2002.6L379 2010.1M386 2000.3L376.4 2006.7M384.6 1997.8L374.3 2002.9M383.4 1995.1L372.6 1999M382.6 1992.3L371.4 1994.9M382.1 1989.5L370.7 1990.7M382 1986.6L370.5 1986.4M382.2 1983.7L370.8 1982.1M382.8 1980.9L371.7 1977.9M383.7 1978.1L373 1973.8M384.9 1975.5L374.9 1970M386.5 1973L377.1 1966.3M388.3 1970.8L379.8 1963M390.4 1968.8L382.9 1960M392.7 1967L386.3 1957.4M395.2 1965.6L390.1 1955.3M397.9 1964.4L394 1953.6M400.7 1963.6L398.1 1952.4M403.5 1963.1L402.3 1951.7M406.4 1963L406.6 1951.5M409.3 1963.2L410.9 1951.8M412.1 1963.8L415.1 1952.7M414.9 1964.7L419.2 1954M417.5 1965.9L423 1955.9M420 1967.5L426.7 1958.1M422.2 1969.3L430 1960.8M424.2 1971.4L433 1963.9M426 1973.7L435.6 1967.3M427.4 1976.2L437.7 1971.1M428.6 1978.9L439.4 1975M429.4 1981.7L440.6 1979.1M429.9 1984.5L441.3 1983.3" stroke="#f3a24e" stroke-width="1.3" fill="none"/>
<path d="M432.4 1988.8L438.4 1989.3M428.5 2000.9L433.7 2004.1M419.5 2009.8L422.6 2015M407.4 2013.5L407.7 2019.5M394.9 2011.1L392.4 2016.5M385 2003.1L380.2 2006.8M379.9 1991.5L374 1992.6M380.8 1978.9L375.1 1977M387.4 1968.1L383.2 1963.8M398.4 1961.6L396.6 1955.9M411 1961L412.2 1955.1M422.5 1966.3L426.3 1961.6M430.3 1976.4L435.8 1973.9" stroke="#7cc47f" stroke-width="3.4" fill="none"/>
<path d="M431.2 1995.1L436.9 1997M424.6 2005.9L428.8 2010.2M413.6 2012.4L415.4 2018.1M401 2013L399.8 2018.9M389.5 2007.7L385.7 2012.4M381.7 1997.6L376.2 2000.1M379.6 1985.2L373.6 1984.7M383.5 1973.1L378.3 1969.9M392.5 1964.2L389.4 1959M404.6 1960.5L404.3 1954.5M417.1 1962.9L419.6 1957.5M427 1970.9L431.8 1967.2M432.1 1982.5L438 1981.4" stroke="#6d9fd8" stroke-width="3.4" fill="none"/>
<circle cx="406" cy="1987" r="20.8" fill="none" stroke="#f7a03c" stroke-width="6.8"/>
<path d="M406 1974.7A12.3 12.3 0 0 1 414.7 1978.3" stroke="#6fa3dc" stroke-width="10.6" fill="none"/>
<path d="M414.7 1978.3A12.3 12.3 0 0 1 418.3 1987" stroke="#7dcf7d" stroke-width="10.6" fill="none"/>
<path d="M418.3 1987A12.3 12.3 0 0 1 414.7 1995.7" stroke="#7dcf7d" stroke-width="10.6" fill="none"/>
<path d="M414.7 1995.7A12.3 12.3 0 0 1 406 1999.3" stroke="#6fa3dc" stroke-width="10.6" fill="none"/>
<path d="M406 1999.3A12.3 12.3 0 0 1 397.3 1995.7" stroke="#6fa3dc" stroke-width="10.6" fill="none"/>
<path d="M397.3 1995.7A12.3 12.3 0 0 1 393.7 1987" stroke="#e56060" stroke-width="10.6" fill="none"/>
<path d="M393.7 1987A12.3 12.3 0 0 1 397.3 1978.3" stroke="#e56060" stroke-width="10.6" fill="none"/>
<path d="M397.3 1978.3A12.3 12.3 0 0 1 406 1974.7" stroke="#6fa3dc" stroke-width="10.6" fill="none"/>
<path d="M421.4 1988.4h0M416.2 1992.3h0M416 1998.9h0M409.5 1998h0M404.6 2002.4h0M400.7 1997.2h0M394.1 1997h0M395 1990.5h0M390.6 1985.6h0M395.8 1981.7h0M396 1975.1h0M402.5 1976h0M407.4 1971.6h0M411.3 1976.8h0M417.9 1977h0M417 1983.5h0" stroke="#3a1a10" stroke-width="2.4" stroke-linecap="round" fill="none"/>
<circle cx="406" cy="1987" r="7.2" fill="#fff"/>
<path d="M642 1987l27 0M642 1988l32 2M642 1990l4 1M642 1992l20 3M641 1993l39 7M641 1995l10 2M641 1996l15 5M640 1998l7 2M640 1999l5 2M639 2000l10 5M638 2002l8 3M637 2003l6 3M637 2005l3 2M636 2006l4 3M635 2007l14 11M634 2008l9 8M633 2009l8 8M632 2010l4 5M631 2011l4 5M630 2012l4 7M628 2013l4 6M627 2014l4 6M626 2015l10 19M624 2016l8 16M623 2016l4 11M621 2017l4 8M620 2017l2 7M618 2018l3 9M617 2018l5 24M615 2019l1 5M614 2019l2 17M612 2019l1 5M611 2019l0 12M609 2019l0 11M608 2019l-1 12M606 2019l-1 6M604 2019l-3 17M603 2018l-1 7M602 2018l-5 19M600 2017l-1 5M599 2017l-3 7M597 2016l-3 7M596 2016l-3 7M594 2015l-4 8M593 2014l-3 5M592 2013l-3 4M590 2012l-6 9M589 2012l-3 4M588 2010l-3 3M587 2009l-10 11M586 2008l-12 11M585 2007l-6 5M584 2006l-16 12M583 2004l-10 7M582 2003l-3 2M582 2002l-11 6M581 2000l-12 6M580 1999l-4 2M580 1998l-6 2M579 1996l-6 2M579 1995l-11 2M579 1993l-14 3M578 1991l-8 2M578 1990l-23 3M578 1989l-26 1M578 1987l-9 0M578 1985l-5 0M578 1984l-7 -1M578 1982l-35 -5M579 1981l-8 -2M579 1979l-11 -3M579 1978l-8 -2M580 1977l-13 -5M580 1975l-11 -5M581 1973l-9 -4M582 1972l-12 -6M582 1971l-11 -7M583 1969l-8 -5M584 1968l-4 -3M585 1967l-5 -4M586 1966l-4 -4M587 1965l-17 -16M588 1963l-9 -10M589 1962l-2 -3M590 1962l-10 -14M592 1961l-3 -4M593 1960l-20 -34M594 1959l-4 -8M596 1958l-4 -7M597 1958l-5 -12M599 1957l-7 -17M600 1957l-3 -11M601 1956l-8 -30M603 1956l-7 -34M604 1955l-1 -5M606 1955l-1 -10M608 1955l-1 -14M609 1955l0 -5M611 1955l0 -7M612 1955l1 -14M614 1955l0 -5M615 1955l1 -4M617 1956l2 -9M618 1956l1 -5M620 1957l5 -15M621 1957l4 -9M623 1958l4 -10M624 1958l5 -10M626 1959l5 -11M627 1960l6 -10M628 1961l8 -13M630 1962l10 -14M631 1963l27 -33M632 1964l6 -7M633 1965l5 -5M634 1966l10 -9M635 1967l32 -27M636 1968l9 -6M637 1970l7 -5M638 1971l4 -3M638 1972l6 -3M639 1973l13 -6M640 1975l4 -2M640 1976l13 -4M641 1978l11 -3M641 1979l23 -5M641 1981l4 -1M642 1982l12 -1M642 1984l15 -2M642 1986l22 -1" stroke="#a9a9a9" stroke-width="1.8" fill="none"/>
<path d="M594 1959l-5 -9M595 1959l-7 -12M595 1959l-10 -19M595 1959l-12 -25M596 1958l-12 -23M596 1958l-12 -25M597 1958l-9 -20M597 1958l-10 -24M598 1957l-10 -24M598 1957l-5 -14M599 1957l-11 -28M599 1957l-5 -15M599 1957l-7 -23M600 1957l-8 -28M601 1956l-4 -14M601 1956l-6 -20M601 1956l-9 -35M602 1956l-5 -22M603 1956l-5 -19M603 1956l-5 -26M604 1956l-9 -41M604 1956l-6 -34M605 1955l-6 -32M605 1955l-5 -35M605 1955l-4 -32M606 1955l-3 -21M606 1955l-5 -43M607 1955l-3 -32M607 1955l-2 -33M608 1955l-2 -39M609 1955l-2 -36M609 1955l-1 -17M609 1955l-1 -38M610 1955l0 -50M611 1955l0 -42M611 1955l0 -19M612 1955l1 -25M612 1955l3 -45M612 1955l3 -41M613 1955l3 -33M613 1955l5 -40M614 1955l6 -42M615 1955l5 -38M615 1955l5 -29M615 1955l6 -29M616 1956l3 -16M616 1956l5 -26M617 1956l7 -33M617 1956l6 -26M618 1956l9 -34M618 1956l7 -24M619 1956l4 -14M619 1956l5 -13M620 1957l5 -15M620 1957l10 -28M621 1957l9 -28M621 1957l8 -21M622 1957l6 -16M622 1957l11 -26M623 1958l6 -15M623 1958l8 -17M624 1958l8 -19M624 1958l7 -13M624 1958l10 -17M625 1959l7 -13M625 1959l8 -14M626 1959l8 -14M626 2015l10 18M626 2015l7 14M625 2015l9 19M624 2016l7 12M624 2016l14 28M624 2016l12 25M623 2016l11 23M623 2016l6 16M622 2017l14 32M622 2017l11 28M621 2017l13 33M621 2017l9 26M620 2017l6 18M620 2017l10 32M619 2018l10 33M619 2018l8 28M618 2018l8 28M618 2018l4 15M618 2018l7 29M617 2018l6 30M616 2018l7 33M616 2018l7 36M615 2019l3 16M615 2019l5 34M614 2019l3 18M614 2019l5 39M613 2019l3 24M613 2019l5 49M612 2019l2 33M612 2019l1 25M611 2019l2 52M611 2019l1 31M610 2019l0 26M610 2019l0 40M609 2019l0 36M609 2019l-2 50M608 2019l-1 29M608 2019l-4 59M607 2019l-1 23M607 2019l-4 44M606 2019l-6 56M606 2019l-5 35M605 2019l-7 51M605 2019l-7 42M605 2019l-9 47M604 2018l-5 29M604 2018l-8 41M603 2018l-10 48M603 2018l-11 45M602 2018l-5 19M601 2018l-10 36M601 2018l-13 44M600 2018l-9 29M600 2017l-11 35M600 2017l-7 19M599 2017l-14 41M598 2017l-15 40M598 2017l-13 32M598 2017l-11 27M597 2016l-11 26M597 2016l-12 27M596 2016l-7 16M596 2016l-7 14M595 2015l-10 21M595 2015l-9 16M595 2015l-7 13M594 2015l-11 19M594 2015l-16 26M593 2014l-9 16M593 2014l-18 29M593 2014l-18 28M592 2013l-18 26M591 2013l-17 24M591 2013l-17 25M591 2013l-17 23M590 2012l-14 18M590 2012l-16 20M590 2012l-12 14M581 2001l-21 11M581 2001l-25 12M581 2001l-24 11M581 2000l-19 8M581 2000l-15 6M580 1999l-11 5M580 1998l-28 11M580 1998l-21 8M580 1998l-17 6M580 1997l-25 8M579 1997l-20 6M579 1996l-19 6M579 1996l-16 4M579 1995l-24 7M579 1995l-43 11M579 1994l-34 8M579 1994l-32 6M579 1993l-44 9M579 1993l-22 4M578 1992l-39 7M578 1992l-49 7M578 1991l-43 6M578 1991l-24 3M578 1991l-40 4M578 1990l-46 4M578 1989l-42 3M578 1989l-50 3M578 1989l-26 1M578 1988l-58 2M578 1987l-47 1M578 1987l-24 0M578 1986l-51 -1M578 1986l-23 -1M578 1985l-20 -1M578 1985l-50 -3M578 1984l-34 -2M578 1984l-48 -5M578 1983l-28 -3M578 1983l-20 -2M578 1982l-22 -3M578 1982l-25 -4M579 1981l-19 -3M579 1981l-40 -8M579 1980l-18 -4M579 1980l-28 -6M579 1979l-26 -6M579 1979l-33 -8M579 1978l-27 -7M579 1978l-19 -5M579 1978l-16 -5M580 1977l-20 -6M580 1977l-24 -8M580 1976l-21 -7M580 1976l-25 -10M580 1975l-16 -7M580 1975l-22 -10M640 1975l20 -8M640 1975l19 -7M640 1976l9 -4M640 1976l13 -4M640 1977l20 -7M641 1978l15 -5M641 1978l17 -5M641 1978l25 -7M641 1979l18 -5M641 1979l25 -6M641 1980l22 -5M641 1980l30 -6M641 1981l21 -5M641 1981l17 -3M642 1982l35 -6M642 1982l15 -2M642 1983l35 -5M642 1983l18 -2M642 1984l26 -3M642 1984l16 -1M642 1985l16 -2M642 1985l25 -1M642 1986l27 -1M642 1986l41 -1M642 1987l44 -1M642 1987l20 1M642 1988l45 1M642 1988l42 2M642 1989l39 2M642 1989l36 3M642 1990l26 2M642 1990l22 2M642 1991l23 2M642 1991l32 5M642 1992l38 5M642 1992l28 5M641 1993l29 5M641 1993l33 7M641 1994l13 2M641 1994l19 5M641 1995l23 5M641 1995l22 6M641 1996l14 4M641 1996l17 5M640 1997l14 4M640 1997l24 8M640 1997l11 4M640 1998l21 8M640 1998l12 5M640 1999l16 6" stroke="#4cb34c" stroke-width="1.5" fill="none"/>
<path d="M581 1973l-9 -4M581 1973l-11 -5M582 1972l-10 -5M582 1972l-7 -4M582 1971l-11 -6M582 1971l-12 -7M583 1971l-14 -8M583 1970l-14 -9M583 1970l-10 -7M584 1969l-18 -12M584 1969l-16 -11M584 1968l-12 -9M584 1968l-12 -9M585 1967l-16 -12M585 1967l-19 -15M586 1966l-17 -13M586 1966l-11 -9M586 1966l-15 -14M586 1965l-9 -8M587 1965l-9 -8M587 1964l-10 -10M588 1964l-15 -14M588 1964l-12 -13M588 1964l-9 -10M589 1963l-10 -11M589 1963l-7 -8M589 1962l-10 -13M590 1962l-13 -16M590 1962l-6 -8M591 1961l-6 -7M591 1961l-6 -9M591 1961l-7 -11M592 1960l-7 -10M593 1960l-9 -12M593 1960l-11 -17M594 1960l-5 -8M594 1959l-9 -14M594 1959l-8 -15M595 1959l-7 -12M595 1959l-7 -15M596 1958l-5 -9M596 1958l-6 -12M624 1958l6 -13M624 1958l6 -11M625 1959l4 -8M625 1959l8 -13M626 1959l5 -9M626 1959l6 -8M626 1960l10 -16M627 1960l6 -9M627 1960l12 -17M628 1961l7 -10M628 1961l12 -16M629 1961l13 -18M629 1961l13 -17M630 1962l13 -17M630 1962l15 -19M630 1962l12 -14M631 1963l8 -9M631 1963l9 -10M632 1963l16 -18M632 1964l18 -19M633 1964l9 -9M633 1965l19 -19M633 1965l10 -10M634 1965l20 -18M634 1966l16 -15M634 1966l14 -11M635 1967l18 -15M635 1967l17 -13M635 1968l14 -11M635 1968l13 -10M636 1968l11 -8M636 1969l15 -11M636 1969l10 -7M637 1969l17 -11M637 1970l17 -10M638 1971l9 -6M638 1971l9 -6M638 1972l12 -7M638 1972l16 -9M638 1972l10 -5M639 1973l9 -5M639 1973l10 -4M639 2001l13 6M639 2001l11 5M638 2002l9 4M638 2002l9 4M638 2002l12 7M638 2003l16 10M637 2004l12 7M637 2004l9 5M637 2005l9 6M636 2005l11 7M636 2005l16 12M636 2006l16 12M635 2006l19 15M635 2007l8 6M635 2007l20 15M635 2008l15 13M634 2008l11 9M634 2008l12 12M634 2009l16 15M633 2009l19 17M633 2009l18 18M633 2010l17 18M632 2010l18 18M632 2011l18 20M631 2011l16 18M631 2011l18 21M631 2011l8 10M630 2012l10 13M630 2012l6 8M629 2013l8 10M629 2013l8 10M629 2013l6 9M628 2014l12 18M628 2014l5 8M627 2014l6 9M627 2014l9 16M626 2015l9 16M626 2015l5 11M625 2015l5 9M625 2016l6 12M624 2016l5 10M624 2016l6 13M596 2016l-3 6M596 2016l-8 14M595 2015l-6 12M595 2015l-6 12M594 2015l-4 8M594 2015l-7 12M593 2014l-7 12M593 2014l-11 17M593 2014l-11 16M592 2013l-6 9M591 2013l-10 15M591 2013l-8 12M591 2013l-12 15M591 2012l-13 17M590 2012l-10 12M590 2012l-12 14M589 2011l-15 18M589 2011l-11 12M588 2011l-13 14M588 2010l-20 22M588 2010l-18 17M587 2009l-21 22M587 2009l-15 14M586 2009l-15 14M586 2008l-18 16M586 2008l-13 11M585 2007l-18 16M585 2007l-11 9M585 2007l-15 11M584 2006l-16 13M584 2006l-10 8M584 2005l-9 7M583 2005l-10 7M583 2005l-14 9M583 2004l-14 9M583 2004l-17 10M582 2003l-11 6M582 2003l-14 7M582 2002l-9 5M582 2002l-11 5M581 2001l-15 8M581 2001l-14 6" stroke="#a9a9a9" stroke-width="1.5" fill="none"/>
<circle cx="610" cy="1987" r="30" fill="none" stroke="#ada394" stroke-width="12"/>
<path d="M634 1987.4L645.5 1987.6M633.8 1990.3L645.2 1991.9M633.2 1993.1L644.3 1996.1M632.3 1995.9L643 2000.2M631.1 1998.5L641.1 2004M629.5 2001L638.9 2007.7M627.7 2003.2L636.2 2011M625.6 2005.2L633.1 2014M623.3 2007L629.7 2016.6M620.8 2008.4L625.9 2018.7M618.1 2009.6L622 2020.4M615.3 2010.4L617.9 2021.6M612.5 2010.9L613.7 2022.3M609.6 2011L609.4 2022.5M606.7 2010.8L605.1 2022.2M603.9 2010.2L600.9 2021.3M601.1 2009.3L596.8 2020M598.5 2008.1L593 2018.1M596 2006.5L589.3 2015.9M593.8 2004.7L586 2013.2M591.8 2002.6L583 2010.1M590 2000.3L580.4 2006.7M588.6 1997.8L578.3 2002.9M587.4 1995.1L576.6 1999M586.6 1992.3L575.4 1994.9M586.1 1989.5L574.7 1990.7M586 1986.6L574.5 1986.4M586.2 1983.7L574.8 1982.1M586.8 1980.9L575.7 1977.9M587.7 1978.1L577 1973.8M588.9 1975.5L578.9 1970M590.5 1973L581.1 1966.3M592.3 1970.8L583.8 1963M594.4 1968.8L586.9 1960M596.7 1967L590.3 1957.4M599.2 1965.6L594.1 1955.3M601.9 1964.4L598 1953.6M604.7 1963.6L602.1 1952.4M607.5 1963.1L606.3 1951.7M610.4 1963L610.6 1951.5M613.3 1963.2L614.9 1951.8M616.1 1963.8L619.1 1952.7M618.9 1964.7L623.2 1954M621.5 1965.9L627 1955.9M624 1967.5L630.7 1958.1M626.2 1969.3L634 1960.8M628.2 1971.4L637 1963.9M630 1973.7L639.6 1967.3M631.4 1976.2L641.7 1971.1M632.6 1978.9L643.4 1975M633.4 1981.7L644.6 1979.1M633.9 1984.5L645.3 1983.3" stroke="#f3a24e" stroke-width="1.3" fill="none"/>
<path d="M636.4 1988.8L642.4 1989.3M628.6 2005.9L632.8 2010.2M611.4 2013.5L611.7 2019.5M593.5 2007.7L589.7 2012.4M583.9 1991.5L578 1992.6M587.5 1973.1L582.3 1969.9M602.4 1961.6L600.6 1955.9M621.1 1962.9L623.6 1957.5M634.3 1976.4L639.8 1973.9" stroke="#f0563e" stroke-width="3.4" fill="none"/>
<path d="M635.2 1995.1L640.9 1997M623.5 2009.8L626.6 2015M605 2013L603.8 2018.9M589 2003.1L584.2 2006.8M583.6 1985.2L577.6 1984.7M591.4 1968.1L587.2 1963.8M608.6 1960.5L608.3 1954.5M626.5 1966.3L630.3 1961.6M636.1 1982.5L642 1981.4" stroke="#f59a3a" stroke-width="3.4" fill="none"/>
<path d="M632.5 2000.9L637.7 2004.1M617.6 2012.4L619.4 2018.1M598.9 2011.1L596.4 2016.5M585.7 1997.6L580.2 2000.1M584.8 1978.9L579.1 1977M596.5 1964.2L593.4 1959M615 1961L616.2 1955.1M631 1970.9L635.8 1967.2" stroke="#6d9fd8" stroke-width="3.4" fill="none"/>
<circle cx="610" cy="1987" r="20.8" fill="none" stroke="#7fcd80" stroke-width="6.8"/>
<path d="M610 1974.7A12.3 12.3 0 0 1 618.7 1978.3" stroke="#6fa3dc" stroke-width="10.6" fill="none"/>
<path d="M618.7 1978.3A12.3 12.3 0 0 1 622.3 1987" stroke="#7dcf7d" stroke-width="10.6" fill="none"/>
<path d="M622.3 1987A12.3 12.3 0 0 1 618.7 1995.7" stroke="#f5a03c" stroke-width="10.6" fill="none"/>
<path d="M618.7 1995.7A12.3 12.3 0 0 1 610 1999.3" stroke="#e85050" stroke-width="10.6" fill="none"/>
<path d="M610 1999.3A12.3 12.3 0 0 1 601.3 1995.7" stroke="#e85050" stroke-width="10.6" fill="none"/>
<path d="M601.3 1995.7A12.3 12.3 0 0 1 597.7 1987" stroke="#6fa3dc" stroke-width="10.6" fill="none"/>
<path d="M597.7 1987A12.3 12.3 0 0 1 601.3 1978.3" stroke="#6fa3dc" stroke-width="10.6" fill="none"/>
<path d="M601.3 1978.3A12.3 12.3 0 0 1 610 1974.7" stroke="#6fa3dc" stroke-width="10.6" fill="none"/>
<path d="M625.4 1988.4h0M620.2 1992.3h0M620 1998.9h0M613.5 1998h0M608.6 2002.4h0M604.7 1997.2h0M598.1 1997h0M599 1990.5h0M594.6 1985.6h0M599.8 1981.7h0M600 1975.1h0M606.5 1976h0M611.4 1971.6h0M615.3 1976.8h0M621.9 1977h0M621 1983.5h0" stroke="#3a1a10" stroke-width="2.4" stroke-linecap="round" fill="none"/>
<circle cx="610" cy="1987" r="7.2" fill="#fff"/>
<path d="M831 1987l12 0M831 1989l14 1M831 1990l7 1M831 1991l47 7M830 1993l7 2M830 1995l15 3M830 1996l6 2M829 1998l6 1M829 1999l25 10M828 2001l5 2M827 2002l5 2M827 2003l8 5M826 2004l6 4M825 2006l7 5M824 2007l5 4M823 2008l6 6M822 2009l5 5M821 2011l14 15M820 2012l15 18M818 2013l5 5M817 2013l7 10M816 2014l9 15M814 2015l9 16M813 2016l6 12M812 2016l7 17M810 2017l7 17M809 2017l3 10M807 2018l3 8M806 2018l2 12M804 2019l2 8M803 2019l1 14M801 2019l2 33M800 2019l0 9M798 2019l0 11M797 2019l-1 7M795 2019l-2 21M794 2019l-4 22M792 2018l-6 26M790 2018l-7 25M789 2017l-9 27M788 2017l-3 8M786 2016l-7 16M785 2016l-7 12M783 2015l-2 4M782 2014l-2 4M781 2013l-2 4M780 2012l-5 6M778 2011l-3 4M777 2011l-16 18M776 2009l-8 7M775 2008l-6 5M774 2007l-5 4M773 2006l-30 22M772 2004l-18 12M772 2003l-12 7M771 2002l-14 7M770 2001l-11 5M769 1999l-35 15M769 1997l-9 3M768 1996l-17 5M768 1995l-21 5M768 1993l-7 1M767 1992l-7 1M767 1990l-9 1M767 1989l-19 1M767 1987l-6 0M767 1986l-5 -1M767 1984l-12 -1M767 1982l-35 -5M768 1981l-9 -2M768 1979l-12 -3M768 1978l-7 -3M769 1976l-6 -2M769 1975l-6 -2M770 1974l-12 -6M771 1972l-4 -2M771 1971l-5 -3M772 1969l-13 -9M773 1968l-27 -20M774 1967l-5 -4M775 1966l-7 -7M776 1965l-4 -4M777 1963l-6 -6M778 1963l-4 -5M779 1962l-2 -4M781 1961l-6 -8M782 1960l-4 -7M783 1959l-5 -9M785 1958l-2 -4M786 1958l-9 -21M788 1957l-4 -10M789 1957l-2 -8M790 1956l-2 -7M792 1956l-1 -4M793 1955l-8 -44M795 1955l0 -4M797 1955l-1 -5M798 1955l0 -12M800 1955l0 -9M801 1955l1 -10M803 1955l1 -7M804 1955l1 -6M806 1956l4 -17M807 1956l6 -20M809 1957l4 -15M811 1957l11 -29M812 1958l3 -7M813 1958l6 -11M815 1959l5 -11M816 1960l2 -4M817 1961l15 -22M818 1961l4 -5M820 1963l15 -18M821 1964l7 -8M822 1965l5 -5M823 1966l5 -5M824 1967l6 -5M825 1968l4 -3M826 1970l28 -18M827 1971l4 -3M827 1972l22 -10M828 1973l8 -3M829 1975l7 -3M829 1977l5 -2M830 1978l17 -5M830 1979l5 -1M830 1981l19 -4M831 1982l23 -3M831 1984l4 0M831 1986l6 -1" stroke="#a9a9a9" stroke-width="1.8" fill="none"/>
<path d="M786 1958l-7 -15M786 1958l-7 -16M787 1957l-6 -14M787 1957l-6 -14M788 1957l-6 -15M788 1957l-6 -17M788 1957l-6 -19M789 1957l-7 -21M790 1956l-6 -19M790 1956l-3 -11M791 1956l-6 -21M792 1956l-6 -21M792 1956l-4 -17M792 1956l-5 -26M793 1956l-3 -15M793 1956l-3 -19M794 1955l-3 -14M794 1955l-2 -14M795 1955l-3 -23M796 1955l-2 -19M796 1955l-1 -13M796 1955l-1 -16M797 1955l-1 -18M798 1955l-1 -20M798 1955l0 -25M799 1955l-1 -35M800 1955l0 -35M800 1955l0 -27M800 1955l1 -32M801 1955l1 -25M801 1955l3 -33M802 1955l2 -21M803 1955l1 -14M803 1955l2 -18M803 1955l4 -30M804 1955l4 -27M804 1955l4 -19M805 1956l2 -11M806 1956l6 -27M806 1956l3 -13M807 1956l4 -18M807 1956l6 -23M808 1956l3 -12M808 1956l6 -17M809 1957l5 -17M809 1957l4 -11M810 1957l3 -11M810 1957l4 -9M811 1957l4 -9M811 1958l7 -16M812 1958l4 -11M812 1958l8 -17M810 2017l4 11M809 2017l6 18M809 2017l3 10M808 2018l6 19M808 2018l4 16M807 2018l4 15M807 2018l4 18M806 2018l4 19M805 2018l4 18M805 2018l2 12M804 2019l4 21M804 2019l3 19M804 2019l3 22M803 2019l2 17M802 2019l4 29M802 2019l2 16M801 2019l2 24M801 2019l2 30M800 2019l1 24M799 2019l1 18M799 2019l1 32M798 2019l0 17M798 2019l0 16M798 2019l-1 18M797 2019l-2 21M796 2019l-2 35M796 2019l-1 15M796 2019l-3 24M795 2019l-4 27M794 2019l-3 26M794 2019l-3 19M793 2018l-6 34M793 2018l-4 17M792 2018l-4 18M792 2018l-7 28M791 2018l-3 14M791 2018l-4 14M790 2018l-8 26M790 2018l-5 15M789 2017l-9 28M788 2017l-9 26M788 2017l-5 16M788 2017l-9 23M787 2017l-8 20M786 2016l-7 17M786 2016l-5 10M786 2016l-10 21M785 2016l-10 21M785 2016l-8 14M784 2015l-7 13M784 2015l-7 14M783 2015l-8 14M769 1999l-18 8M769 1999l-13 5M769 1998l-11 4M769 1998l-10 4M769 1997l-17 6M768 1996l-22 7M768 1996l-15 5M768 1996l-26 7M768 1995l-15 4M768 1995l-23 6M768 1994l-18 4M768 1993l-18 4M768 1993l-20 4M767 1993l-29 5M767 1992l-13 3M767 1992l-27 4M767 1991l-35 4M767 1990l-31 4M767 1990l-15 1M767 1989l-28 2M767 1989l-24 1M767 1988l-26 1M767 1988l-16 0M767 1987l-17 0M767 1987l-41 -1M767 1986l-34 0M767 1985l-26 -1M767 1985l-28 -1M767 1984l-15 -1M767 1984l-24 -2M767 1984l-25 -3M767 1983l-40 -5M767 1982l-25 -4M767 1982l-15 -3M768 1981l-25 -4M768 1981l-30 -5M768 1980l-23 -5M768 1980l-24 -6M768 1979l-13 -3M768 1979l-23 -6M768 1978l-18 -5M768 1978l-23 -7M769 1977l-23 -7M769 1977l-24 -8M769 1976l-14 -5M769 1976l-17 -6M769 1975l-24 -10M769 1975l-13 -6M770 1974l-14 -6M770 1974l-18 -9M770 1973l-13 -6M770 1972l-19 -10M829 1976l14 -4M829 1977l14 -5M830 1977l15 -5M830 1978l16 -5M830 1978l19 -5M830 1979l21 -5M830 1979l11 -2M830 1980l16 -3M830 1981l17 -4M830 1981l13 -2M831 1982l21 -4M831 1982l11 -1M831 1982l27 -4M831 1983l13 -2M831 1984l13 -2M831 1984l30 -3M831 1985l19 -1M831 1985l30 -1M831 1986l19 -1M831 1986l29 0M831 1987l16 -1M831 1987l21 1M831 1988l21 1M831 1988l33 2M831 1989l13 0M831 1989l23 2M831 1990l12 1M831 1990l18 2M831 1991l28 3M831 1991l22 3M831 1992l24 4M831 1992l19 4M830 1993l19 4M830 1993l21 5M830 1994l14 3M830 1995l17 4M830 1995l19 5M830 1996l14 4M830 1996l17 5M830 1997l12 4M829 1997l8 3M829 1998l15 5" stroke="#4cb34c" stroke-width="1.5" fill="none"/>
<path d="M770 1973l-10 -4M770 1973l-9 -5M771 1972l-10 -4M771 1972l-8 -5M771 1971l-6 -4M772 1970l-11 -6M772 1970l-10 -6M772 1970l-8 -6M772 1969l-10 -6M773 1969l-12 -8M773 1968l-8 -5M773 1968l-12 -9M774 1968l-14 -11M774 1967l-8 -7M774 1967l-13 -12M775 1966l-13 -11M775 1966l-14 -12M776 1965l-11 -10M776 1965l-13 -14M776 1964l-14 -14M777 1964l-12 -12M777 1964l-13 -14M778 1963l-13 -15M778 1963l-8 -9M779 1962l-8 -9M779 1962l-6 -8M779 1962l-11 -15M780 1961l-6 -8M780 1961l-10 -14M781 1961l-9 -13M781 1960l-6 -10M782 1960l-7 -10M782 1960l-4 -8M783 1959l-8 -13M783 1959l-7 -12M783 1959l-4 -9M784 1959l-6 -12M785 1958l-3 -6M785 1958l-5 -10M813 1958l5 -10M813 1958l5 -9M814 1959l6 -11M814 1959l6 -10M815 1959l5 -8M815 1960l7 -12M816 1960l8 -14M816 1960l8 -12M817 1960l4 -6M817 1961l7 -10M818 1961l6 -9M818 1962l7 -9M819 1962l8 -11M819 1962l5 -7M820 1963l7 -9M820 1963l13 -15M820 1963l11 -12M821 1963l8 -9M821 1964l11 -11M822 1964l16 -16M822 1965l15 -15M822 1965l11 -10M823 1966l11 -11M823 1966l9 -7M824 1967l7 -7M824 1967l15 -12M824 1967l16 -12M825 1968l6 -5M825 1968l14 -10M825 1969l12 -8M826 1969l6 -4M826 1970l11 -7M826 1970l14 -8M827 1971l7 -4M827 1971l8 -5M827 1971l8 -4M827 1972l6 -3M828 1973l6 -4M828 1973l6 -3M828 2001l7 3M828 2001l6 4M827 2002l7 3M827 2002l9 5M827 2003l12 7M827 2003l11 7M826 2004l7 4M826 2004l14 9M826 2005l11 7M825 2005l14 10M825 2006l10 7M825 2006l15 11M824 2007l8 6M824 2007l8 7M824 2007l10 9M823 2008l14 12M823 2008l8 8M823 2009l14 13M822 2009l13 13M822 2010l10 10M821 2010l13 14M821 2010l11 13M820 2011l15 16M820 2011l13 15M820 2011l13 16M819 2012l7 8M819 2012l12 15M818 2013l6 9M818 2013l10 15M817 2013l9 12M817 2014l7 10M816 2014l8 12M816 2014l6 10M815 2014l7 12M815 2015l6 12M814 2015l6 10M814 2015l3 7M814 2016l2 5M813 2016l2 6M785 2016l-3 8M785 2016l-6 11M784 2015l-5 11M784 2015l-5 9M783 2015l-7 13M782 2014l-6 11M782 2014l-9 15M782 2014l-8 13M781 2014l-8 12M781 2013l-7 10M780 2013l-5 7M780 2013l-7 9M779 2012l-10 13M779 2012l-11 14M779 2012l-12 13M778 2011l-9 10M778 2011l-13 14M777 2010l-16 17M777 2010l-14 14M776 2010l-16 16M776 2009l-9 8M775 2009l-15 14M775 2008l-10 9M775 2008l-17 14M774 2007l-16 13M774 2007l-7 6M774 2006l-9 7M773 2006l-6 5M773 2006l-16 11M773 2005l-14 10M772 2005l-14 10M772 2004l-8 6M772 2004l-14 8M772 2003l-14 9M771 2003l-13 7M771 2002l-11 6M771 2002l-10 4M770 2001l-7 4M770 2001l-7 3" stroke="#a9a9a9" stroke-width="1.5" fill="none"/>
<circle cx="799" cy="1987" r="30" fill="none" stroke="#ada394" stroke-width="12"/>
<path d="M823 1987.4L834.5 1987.6M822.8 1990.3L834.2 1991.9M822.2 1993.1L833.3 1996.1M821.3 1995.9L832 2000.2M820.1 1998.5L830.1 2004M818.5 2001L827.9 2007.7M816.7 2003.2L825.2 2011M814.6 2005.2L822.1 2014M812.3 2007L818.7 2016.6M809.8 2008.4L814.9 2018.7M807.1 2009.6L811 2020.4M804.3 2010.4L806.9 2021.6M801.5 2010.9L802.7 2022.3M798.6 2011L798.4 2022.5M795.7 2010.8L794.1 2022.2M792.9 2010.2L789.9 2021.3M790.1 2009.3L785.8 2020M787.5 2008.1L782 2018.1M785 2006.5L778.3 2015.9M782.8 2004.7L775 2013.2M780.8 2002.6L772 2010.1M779 2000.3L769.4 2006.7M777.6 1997.8L767.3 2002.9M776.4 1995.1L765.6 1999M775.6 1992.3L764.4 1994.9M775.1 1989.5L763.7 1990.7M775 1986.6L763.5 1986.4M775.2 1983.7L763.8 1982.1M775.8 1980.9L764.7 1977.9M776.7 1978.1L766 1973.8M777.9 1975.5L767.9 1970M779.5 1973L770.1 1966.3M781.3 1970.8L772.8 1963M783.4 1968.8L775.9 1960M785.7 1967L779.3 1957.4M788.2 1965.6L783.1 1955.3M790.9 1964.4L787 1953.6M793.7 1963.6L791.1 1952.4M796.5 1963.1L795.3 1951.7M799.4 1963L799.6 1951.5M802.3 1963.2L803.9 1951.8M805.1 1963.8L808.1 1952.7M807.9 1964.7L812.2 1954M810.5 1965.9L816 1955.9M813 1967.5L819.7 1958.1M815.2 1969.3L823 1960.8M817.2 1971.4L826 1963.9M819 1973.7L828.6 1967.3M820.4 1976.2L830.7 1971.1M821.6 1978.9L832.4 1975M822.4 1981.7L833.6 1979.1M822.9 1984.5L834.3 1983.3" stroke="#f3a24e" stroke-width="1.3" fill="none"/>
<path d="M825.4 1988.8L831.4 1989.3M817.6 2005.9L821.8 2010.2M800.4 2013.5L800.7 2019.5M782.5 2007.7L778.7 2012.4M772.9 1991.5L767 1992.6M776.5 1973.1L771.3 1969.9M791.4 1961.6L789.6 1955.9M810.1 1962.9L812.6 1957.5M823.3 1976.4L828.8 1973.9" stroke="#f0563e" stroke-width="3.4" fill="none"/>
<path d="M824.2 1995.1L829.9 1997M812.5 2009.8L815.6 2015M794 2013L792.8 2018.9M778 2003.1L773.2 2006.8M772.6 1985.2L766.6 1984.7M780.4 1968.1L776.2 1963.8M797.6 1960.5L797.3 1954.5M815.5 1966.3L819.3 1961.6M825.1 1982.5L831 1981.4" stroke="#f59a3a" stroke-width="3.4" fill="none"/>
<path d="M821.5 2000.9L826.7 2004.1M806.6 2012.4L808.4 2018.1M787.9 2011.1L785.4 2016.5M774.7 1997.6L769.2 2000.1M773.8 1978.9L768.1 1977M785.5 1964.2L782.4 1959M804 1961L805.2 1955.1M820 1970.9L824.8 1967.2" stroke="#6d9fd8" stroke-width="3.4" fill="none"/>
<circle cx="799" cy="1987" r="20.8" fill="none" stroke="#7fcd80" stroke-width="6.8"/>
<path d="M799 1974.7A12.3 12.3 0 0 1 807.7 1978.3" stroke="#6fa3dc" stroke-width="10.6" fill="none"/>
<path d="M807.7 1978.3A12.3 12.3 0 0 1 811.3 1987" stroke="#7dcf7d" stroke-width="10.6" fill="none"/>
<path d="M811.3 1987A12.3 12.3 0 0 1 807.7 1995.7" stroke="#f5a03c" stroke-width="10.6" fill="none"/>
<path d="M807.7 1995.7A12.3 12.3 0 0 1 799 1999.3" stroke="#e85050" stroke-width="10.6" fill="none"/>
<path d="M799 1999.3A12.3 12.3 0 0 1 790.3 1995.7" stroke="#e85050" stroke-width="10.6" fill="none"/>
<path d="M790.3 1995.7A12.3 12.3 0 0 1 786.7 1987" stroke="#6fa3dc" stroke-width="10.6" fill="none"/>
<path d="M786.7 1987A12.3 12.3 0 0 1 790.3 1978.3" stroke="#6fa3dc" stroke-width="10.6" fill="none"/>
<path d="M790.3 1978.3A12.3 12.3 0 0 1 799 1974.7" stroke="#6fa3dc" stroke-width="10.6" fill="none"/>
<path d="M814.4 1988.4h0M809.2 1992.3h0M809 1998.9h0M802.5 1998h0M797.6 2002.4h0M793.7 1997.2h0M787.1 1997h0M788 1990.5h0M783.6 1985.6h0M788.8 1981.7h0M789 1975.1h0M795.5 1976h0M800.4 1971.6h0M804.3 1976.8h0M810.9 1977h0M810 1983.5h0" stroke="#3a1a10" stroke-width="2.4" stroke-linecap="round" fill="none"/>
<circle cx="799" cy="1987" r="7.2" fill="#fff"/>
<path d="M254 2164l19 0M254 2166l8 0M254 2167l6 1M254 2168l6 1M253 2170l21 4M253 2171l6 2M253 2173l25 8M252 2174l7 3M252 2176l7 4M251 2178l13 6M250 2179l4 2M250 2180l16 10M249 2182l6 4M248 2183l36 26M247 2184l4 4M246 2185l7 7M245 2187l25 25M244 2187l17 19M242 2189l4 3M241 2189l19 25M240 2190l6 8M239 2191l4 7M237 2192l3 5M236 2193l5 10M235 2193l7 17M233 2194l8 20M232 2194l3 11M231 2195l4 15M229 2195l5 24M228 2196l1 6M226 2196l4 27M224 2196l1 5M223 2196l0 9M221 2196l0 18M220 2196l-1 10M218 2196l-1 8M217 2196l-1 5M215 2195l-2 11M213 2195l-3 11M212 2194l-1 5M210 2194l-2 7M209 2193l-6 15M208 2193l-3 4M207 2192l-3 6M205 2191l-6 9M204 2190l-8 12M203 2189l-3 4M202 2189l-6 6M200 2187l-6 7M199 2186l-6 6M198 2185l-4 4M197 2184l-4 3M196 2183l-10 7M195 2182l-10 7M194 2180l-11 7M194 2179l-5 2M193 2177l-12 6M192 2176l-21 9M192 2175l-6 1M191 2173l-8 3M191 2172l-13 3M191 2170l-12 3M190 2169l-5 0M190 2167l-13 1M190 2165l-5 1M190 2164l-15 0M190 2162l-11 0M190 2161l-8 -1M190 2160l-13 -2M191 2158l-22 -4M191 2156l-4 -1M191 2155l-17 -5M192 2154l-6 -2M192 2152l-13 -5M193 2150l-14 -6M194 2149l-6 -3M195 2148l-42 -25M195 2146l-5 -3M196 2145l-24 -17M197 2144l-7 -6M198 2143l-3 -3M199 2142l-8 -9M200 2141l-4 -4M202 2139l-17 -20M202 2139l-3 -5M204 2138l-5 -8M205 2137l-5 -9M206 2136l-15 -28M208 2135l-13 -26M209 2135l-2 -5M211 2134l-11 -30M212 2134l-4 -11M214 2133l-2 -6M215 2133l-6 -27M217 2132l-3 -18M218 2132l-2 -13M220 2132l-1 -7M221 2132l0 -9M223 2132l0 -8M224 2132l1 -9M226 2132l1 -10M228 2132l2 -12M229 2133l4 -18M230 2133l3 -10M232 2134l1 -4M234 2134l4 -12M235 2135l5 -12M236 2135l8 -15M238 2136l5 -10M239 2137l6 -10M240 2138l2 -4M242 2139l9 -13M242 2139l6 -6M244 2140l3 -3M245 2142l6 -6M246 2143l12 -11M247 2144l5 -4M248 2145l5 -4M249 2146l5 -3M250 2148l5 -3M250 2149l22 -12M251 2151l6 -3M252 2152l26 -11M252 2153l21 -7M253 2155l4 -1M253 2157l7 -2M253 2158l5 -1M254 2159l14 -2M254 2161l18 -2M254 2162l32 -1" stroke="#a9a9a9" stroke-width="1.8" fill="none"/>
<path d="M204 2138l-13 -19M204 2137l-10 -15M205 2137l-10 -16M205 2137l-11 -18M206 2136l-9 -15M206 2136l-12 -20M207 2136l-22 -39M207 2136l-14 -29M208 2135l-20 -39M208 2135l-17 -36M208 2135l-18 -38M209 2135l-10 -23M209 2135l-18 -43M210 2134l-11 -26M210 2134l-10 -26M211 2134l-8 -22M211 2134l-12 -34M212 2134l-13 -38M213 2133l-5 -15M213 2133l-9 -31M213 2133l-9 -33M214 2133l-3 -12M214 2133l-4 -16M220 2132l-2 -23M221 2132l-2 -31M221 2132l0 -23M221 2132l0 -39M222 2132l0 -46M223 2132l0 -27M224 2132l2 -45M224 2132l2 -42M225 2132l3 -35M225 2132l2 -20M226 2132l3 -31M226 2132l2 -11M229 2133l4 -16M230 2133l4 -18M230 2133l9 -34M231 2133l12 -40M232 2134l8 -27M232 2134l15 -46M233 2134l14 -41M233 2134l12 -30M234 2134l12 -30M234 2134l7 -16M235 2135l11 -25M235 2135l8 -19M247 2144l21 -17M247 2144l18 -14M248 2145l30 -24M248 2145l15 -10M248 2146l44 -31M248 2146l45 -30M249 2147l41 -27M249 2147l21 -13M249 2147l28 -16M250 2148l19 -12M250 2148l39 -21M250 2149l59 -32M250 2149l68 -35M250 2149l58 -29M251 2150l72 -36M251 2151l46 -21M251 2151l35 -16M251 2151l39 -17M252 2152l53 -22M252 2152l50 -19M252 2152l52 -20M252 2153l32 -11M252 2154l26 -10M253 2154l34 -10M253 2155l17 -6M253 2155l37 -10M253 2156l34 -9M253 2156l23 -6M253 2157l39 -9M190 2164l-18 0M190 2163l-31 -1M190 2162l-16 0M190 2162l-24 -1M190 2162l-35 -3M190 2161l-32 -3M190 2160l-19 -2M190 2160l-34 -5M190 2159l-44 -6M190 2159l-40 -7M191 2158l-34 -6M191 2158l-33 -7M191 2157l-19 -4M191 2157l-21 -6M191 2156l-15 -4M191 2155l-13 -3" stroke="#e0201e" stroke-width="1.5" fill="none"/>
<path d="M254 2162l10 -1M254 2162l16 -1M254 2163l21 -1M254 2163l11 -1M254 2164l21 -1M254 2164l24 1M254 2165l25 0M254 2165l25 1M254 2166l25 1M254 2166l21 2M254 2167l29 2M254 2168l11 1M254 2168l30 4M254 2169l31 4M254 2169l26 4M254 2169l30 5M253 2170l26 4M253 2170l35 7M253 2171l34 7M253 2172l19 4M253 2172l37 10M253 2173l26 7M253 2173l19 5M252 2174l29 9M252 2174l14 5M252 2175l20 7M252 2175l15 6M252 2176l15 6M252 2176l27 11M251 2177l22 9M251 2177l23 10M251 2178l10 4M251 2178l24 12M251 2178l21 11M250 2179l24 12M250 2180l20 11M250 2180l14 8M249 2180l16 10M249 2181l11 7M249 2181l8 6M249 2182l8 6M248 2182l14 10M244 2187l10 11M243 2188l6 6M243 2188l10 12M242 2189l14 17M242 2189l13 16M242 2189l7 10M241 2190l9 12M241 2190l15 20M240 2190l9 12M240 2191l14 21M239 2191l8 12M239 2191l11 18M238 2192l14 23M238 2192l16 28M238 2192l10 18M237 2192l12 23M237 2192l10 21M236 2193l5 11M235 2193l9 18M235 2193l8 18M235 2193l11 27M234 2194l6 14M234 2194l8 20M233 2194l4 11M233 2194l7 22M232 2194l6 18M232 2195l3 9M231 2195l3 11M230 2195l3 11M230 2195l4 15M229 2195l4 16M213 2195l-1 6M213 2195l-4 11M212 2194l-3 11M211 2194l-3 10M211 2194l-4 10M210 2194l-2 7M209 2193l-3 7M209 2193l-7 15M208 2193l-4 8M208 2193l-5 9M207 2192l-10 18M207 2192l-6 10M206 2192l-8 14M205 2191l-5 8M205 2191l-12 17M204 2191l-5 7M204 2190l-9 14M203 2190l-8 12M203 2189l-5 7M202 2189l-9 11M202 2189l-6 6M201 2188l-4 5M201 2188l-7 7M200 2187l-7 9M199 2187l-5 5" stroke="#a9a9a9" stroke-width="1.5" fill="none"/>
<path d="M235 2193l26 63M199 2186l-28 26" stroke="#a9a9a9" stroke-width="1.4" fill="none"/>
<path d="M197 2184l-4 3M196 2183l-6 6M196 2183l-5 4M196 2182l-8 5M195 2182l-5 3M195 2181l-8 5M194 2180l-8 5M194 2179l-10 6M194 2179l-9 4M194 2179l-6 2M193 2177l-10 5M193 2177l-9 4M192 2176l-11 4M192 2175l-11 5M192 2175l-8 2M192 2174l-8 2M191 2173l-7 2M191 2172l-6 2M191 2171l-9 3M191 2171l-8 1M191 2170l-6 1M230 2195l1 6M229 2195l2 5M229 2195l1 8M227 2196l1 7M227 2196l1 7M226 2196l1 9M225 2196l1 7M225 2196l0 5M224 2196l0 9M223 2196l0 9M222 2196l0 9M221 2196l0 10M221 2196l-1 12M219 2196l-1 10M219 2196l-1 10M218 2196l-1 8M217 2196l-1 10M216 2195l-1 10M216 2195l-3 11M215 2195l-2 8M214 2195l-1 5M213 2195l-1 6M212 2195l-2 7M212 2194l-3 9M211 2194l-2 6M210 2194l-2 5M210 2193l-3 7M209 2193l-2 5" stroke="#1f5a8a" stroke-width="1.5" fill="none"/>
<circle cx="222" cy="2164" r="30" fill="none" stroke="#ada394" stroke-width="12"/>
<path d="M246 2164.4L257.5 2164.6M245.8 2167.3L257.2 2168.9M245.2 2170.1L256.3 2173.1M244.3 2172.9L255 2177.2M243.1 2175.5L253.1 2181M241.5 2178L250.9 2184.7M239.7 2180.2L248.2 2188M237.6 2182.2L245.1 2191M235.3 2184L241.7 2193.6M232.8 2185.4L237.9 2195.7M230.1 2186.6L234 2197.4M227.3 2187.4L229.9 2198.6M224.5 2187.9L225.7 2199.3M221.6 2188L221.4 2199.5M218.7 2187.8L217.1 2199.2M215.9 2187.2L212.9 2198.3M213.1 2186.3L208.8 2197M210.5 2185.1L205 2195.1M208 2183.5L201.3 2192.9M205.8 2181.7L198 2190.2M203.8 2179.6L195 2187.1M202 2177.3L192.4 2183.7M200.6 2174.8L190.3 2179.9M199.4 2172.1L188.6 2176M198.6 2169.3L187.4 2171.9M198.1 2166.5L186.7 2167.7M198 2163.6L186.5 2163.4M198.2 2160.7L186.8 2159.1M198.8 2157.9L187.7 2154.9M199.7 2155.1L189 2150.8M200.9 2152.5L190.9 2147M202.5 2150L193.1 2143.3M204.3 2147.8L195.8 2140M206.4 2145.8L198.9 2137M208.7 2144L202.3 2134.4M211.2 2142.6L206.1 2132.3M213.9 2141.4L210 2130.6M216.7 2140.6L214.1 2129.4M219.5 2140.1L218.3 2128.7M222.4 2140L222.6 2128.5M225.3 2140.2L226.9 2128.8M228.1 2140.8L231.1 2129.7M230.9 2141.7L235.2 2131M233.5 2142.9L239 2132.9M236 2144.5L242.7 2135.1M238.2 2146.3L246 2137.8M240.2 2148.4L249 2140.9M242 2150.7L251.6 2144.3M243.4 2153.2L253.7 2148.1M244.6 2155.9L255.4 2152M245.4 2158.7L256.6 2156.1M245.9 2161.5L257.3 2160.3" stroke="#f3a24e" stroke-width="1.3" fill="none"/>
<path d="M248.4 2165.8L254.4 2166.3M244.5 2177.9L249.7 2181.1M235.5 2186.8L238.6 2192M223.4 2190.5L223.7 2196.5M210.9 2188.1L208.4 2193.5M201 2180.1L196.2 2183.8M195.9 2168.5L190 2169.6M196.8 2155.9L191.1 2154M203.4 2145.1L199.2 2140.8M214.4 2138.6L212.6 2132.9M227 2138L228.2 2132.1M238.5 2143.3L242.3 2138.6M246.3 2153.4L251.8 2150.9" stroke="#7cc47f" stroke-width="3.4" fill="none"/>
<path d="M247.2 2172.1L252.9 2174M240.6 2182.9L244.8 2187.2M229.6 2189.4L231.4 2195.1M217 2190L215.8 2195.9M205.5 2184.7L201.7 2189.4M197.7 2174.6L192.2 2177.1M195.6 2162.2L189.6 2161.7M199.5 2150.1L194.3 2146.9M208.5 2141.2L205.4 2136M220.6 2137.5L220.3 2131.5M233.1 2139.9L235.6 2134.5M243 2147.9L247.8 2144.2M248.1 2159.5L254 2158.4" stroke="#6d9fd8" stroke-width="3.4" fill="none"/>
<circle cx="222" cy="2164" r="20.8" fill="none" stroke="#f7a03c" stroke-width="6.8"/>
<path d="M222 2151.7A12.3 12.3 0 0 1 230.7 2155.3" stroke="#6fa3dc" stroke-width="10.6" fill="none"/>
<path d="M230.7 2155.3A12.3 12.3 0 0 1 234.3 2164" stroke="#7dcf7d" stroke-width="10.6" fill="none"/>
<path d="M234.3 2164A12.3 12.3 0 0 1 230.7 2172.7" stroke="#7dcf7d" stroke-width="10.6" fill="none"/>
<path d="M230.7 2172.7A12.3 12.3 0 0 1 222 2176.3" stroke="#6fa3dc" stroke-width="10.6" fill="none"/>
<path d="M222 2176.3A12.3 12.3 0 0 1 213.3 2172.7" stroke="#6fa3dc" stroke-width="10.6" fill="none"/>
<path d="M213.3 2172.7A12.3 12.3 0 0 1 209.7 2164" stroke="#e56060" stroke-width="10.6" fill="none"/>
<path d="M209.7 2164A12.3 12.3 0 0 1 213.3 2155.3" stroke="#e56060" stroke-width="10.6" fill="none"/>
<path d="M213.3 2155.3A12.3 12.3 0 0 1 222 2151.7" stroke="#6fa3dc" stroke-width="10.6" fill="none"/>
<path d="M237.4 2165.4h0M232.2 2169.3h0M232 2175.9h0M225.5 2175h0M220.6 2179.4h0M216.7 2174.2h0M210.1 2174h0M211 2167.5h0M206.6 2162.6h0M211.8 2158.7h0M212 2152.1h0M218.5 2153h0M223.4 2148.6h0M227.3 2153.8h0M233.9 2154h0M233 2160.5h0" stroke="#3a1a10" stroke-width="2.4" stroke-linecap="round" fill="none"/>
<circle cx="222" cy="2164" r="7.2" fill="#fff"/>
<path d="M438 2164l10 0M438 2166l5 0M438 2167l32 3M438 2169l10 1M437 2170l10 2M437 2172l20 4M437 2173l23 7M436 2175l11 4M436 2176l4 2M435 2177l16 8M434 2179l12 6M434 2180l13 8M433 2182l18 12M432 2183l7 5M431 2184l4 3M430 2185l26 23M429 2186l6 6M428 2187l28 30M426 2189l10 11M425 2190l7 8M424 2190l10 15M423 2191l2 4M422 2192l5 10M420 2193l12 25M419 2193l3 9M417 2194l7 16M416 2194l2 8M414 2195l4 12M413 2195l3 14M411 2196l2 8M410 2196l1 6M408 2196l1 15M407 2196l0 8M405 2196l0 7M404 2196l-1 17M402 2196l-2 21M400 2196l-1 6M399 2195l-3 16M398 2195l-6 19M396 2194l-2 6M394 2194l-5 15M393 2193l-6 14M392 2193l-11 20M391 2192l-3 4M389 2191l-8 14M388 2190l-9 13M387 2190l-4 4M385 2188l-8 10M384 2188l-3 3M383 2186l-15 14M382 2185l-29 26M381 2184l-6 6M380 2183l-15 11M379 2181l-3 3M378 2180l-4 3M378 2179l-13 7M377 2178l-8 3M376 2176l-16 7M376 2175l-14 4M375 2173l-6 2M375 2172l-32 8M375 2170l-25 5M374 2169l-7 1M374 2167l-6 1M374 2165l-13 1M374 2164l-14 0M374 2162l-5 0M374 2161l-6 -1M374 2159l-5 0M375 2158l-11 -2M375 2156l-13 -3M375 2155l-24 -8M376 2153l-11 -4M376 2152l-10 -4M377 2151l-5 -2M378 2149l-9 -5M379 2148l-4 -3M379 2146l-22 -14M380 2145l-29 -20M381 2144l-8 -7M382 2143l-9 -8M383 2142l-21 -20M384 2141l-3 -3M385 2140l-24 -28M386 2139l-4 -6M388 2138l-6 -9M389 2137l-8 -13M390 2136l-2 -4M392 2135l-7 -13M393 2135l-6 -14M394 2134l-1 -4M396 2134l-2 -7M398 2133l-12 -46M399 2133l-3 -15M400 2133l-3 -21M402 2132l-2 -21M404 2132l0 -4M405 2132l0 -7M407 2132l0 -31M408 2132l1 -12M410 2132l1 -11M411 2132l2 -11M413 2133l3 -15M415 2133l1 -7M416 2134l5 -16M417 2134l12 -30M419 2135l4 -10M420 2135l11 -22M422 2136l8 -14M423 2137l6 -10M424 2138l5 -6M425 2138l6 -7M427 2140l3 -4M428 2141l3 -4M429 2141l10 -10M430 2143l5 -5M431 2144l9 -7M432 2145l12 -9M433 2147l15 -10M434 2148l24 -15M434 2149l15 -7M435 2150l5 -2M436 2152l16 -7M436 2154l28 -10M437 2155l4 -2M437 2156l11 -2M437 2158l6 -1M438 2159l13 -1M438 2161l5 -1M438 2162l13 0" stroke="#a9a9a9" stroke-width="1.8" fill="none"/>
<path d="M388 2137l-5 -9M389 2137l-7 -10M389 2137l-6 -12M390 2136l-13 -21M390 2136l-9 -14M391 2136l-13 -23M391 2136l-6 -13M392 2135l-10 -20M392 2135l-14 -28M392 2135l-14 -30M393 2135l-6 -14M393 2135l-11 -28M394 2134l-7 -15M395 2134l-11 -29M395 2134l-6 -14M396 2134l-6 -18M396 2134l-7 -20M397 2133l-6 -19M397 2133l-5 -15M398 2133l-5 -17M398 2133l-3 -11M408 2132l1 -10M408 2132l1 -11M409 2132l1 -11M409 2132l3 -22M410 2132l2 -17M410 2132l2 -12M411 2132l3 -19M412 2133l4 -20M413 2133l6 -31M413 2133l4 -19M414 2133l6 -24M414 2133l3 -12M414 2133l5 -16M415 2133l3 -11M431 2144l15 -11M432 2145l17 -12M432 2145l28 -20M432 2146l17 -12M432 2146l19 -12M433 2147l21 -14M433 2147l20 -13M433 2147l16 -9M434 2148l41 -25M434 2149l28 -16M434 2149l18 -10M434 2149l28 -14M435 2150l26 -13M435 2150l29 -14M435 2151l39 -18M435 2151l45 -19M435 2152l46 -20M436 2152l36 -15M436 2153l39 -15M436 2153l35 -13M436 2154l17 -6M436 2154l32 -10M437 2155l22 -8M437 2155l25 -8M374 2165l-17 0M374 2165l-17 0M374 2164l-23 -1M374 2163l-15 0M374 2163l-22 -1M374 2162l-32 -2M374 2162l-26 -2M374 2161l-17 -2M374 2161l-32 -4M374 2160l-16 -2M374 2159l-20 -3M374 2159l-27 -5M375 2158l-21 -4M375 2157l-18 -3M375 2157l-11 -2M375 2157l-17 -5" stroke="#e0201e" stroke-width="1.5" fill="none"/>
<path d="M437 2156l16 -5M437 2157l16 -4M437 2157l8 -2M437 2157l19 -4M437 2158l10 -2M438 2159l17 -3M438 2159l15 -2M438 2160l22 -4M438 2160l10 -1M438 2161l13 -1M438 2161l19 -2M438 2162l16 -1M438 2162l12 0M438 2163l24 -1M438 2163l13 0M438 2164l18 0M438 2164l13 0M438 2165l17 1M438 2166l15 0M438 2166l17 1M438 2166l23 2M438 2167l29 3M438 2168l26 3M438 2168l13 2M438 2169l12 2M438 2169l24 5M437 2170l19 3M437 2170l13 2M437 2171l24 5M437 2171l14 4M437 2172l11 3M437 2172l19 5M437 2173l12 3M437 2173l22 7M436 2174l19 6M436 2174l14 5M436 2175l19 6M436 2175l13 5M436 2176l17 6M435 2176l11 5M435 2177l9 4M435 2177l7 3M428 2187l6 7M427 2188l10 11M427 2188l9 12M427 2189l5 6M426 2189l12 16M426 2189l7 9M425 2190l8 10M425 2190l10 14M424 2190l9 13M424 2191l6 9M423 2191l12 18M423 2191l6 10M423 2191l12 21M422 2192l12 19M421 2192l8 13M421 2192l10 20M420 2193l12 22M420 2193l6 12M419 2193l11 23M419 2193l12 25M419 2193l10 24M418 2194l7 16M417 2194l8 21M417 2194l6 18M417 2194l4 13M416 2194l4 11M415 2195l3 8M415 2195l4 14M415 2195l3 13M414 2195l3 14M413 2195l3 13" stroke="#a9a9a9" stroke-width="1.5" fill="none"/>
<path d="M418 2194l30 74M383 2186l-37 36" stroke="#a9a9a9" stroke-width="1.4" fill="none"/>
<path d="M381 2184l-6 4M381 2183l-7 5M380 2183l-3 3M380 2182l-5 4M379 2181l-5 4M379 2181l-5 4M379 2181l-7 4M378 2180l-6 3M378 2179l-9 5M377 2178l-6 3M377 2177l-8 4M377 2177l-11 5M376 2176l-7 3M376 2175l-5 2M376 2175l-6 2M376 2174l-7 2M375 2173l-5 2M375 2172l-5 2M375 2171l-5 1M375 2170l-7 2M374 2170l-5 1M414 2195l1 4M413 2195l1 5M413 2195l1 7M412 2195l1 7M411 2196l1 7M410 2196l1 6M409 2196l1 6M408 2196l1 8M407 2196l1 9M407 2196l0 9M406 2196l0 7M405 2196l0 9M405 2196l-1 6M403 2196l0 8M403 2196l-1 9M402 2196l-1 9M401 2196l-1 7M401 2196l-2 7M399 2195l-1 8M399 2195l-1 6M398 2195l-2 7M397 2195l-2 8M396 2195l-2 7M396 2194l-2 6M395 2194l-2 6M395 2194l-2 5M394 2194l-2 4M393 2193l-2 4" stroke="#1f5a8a" stroke-width="1.5" fill="none"/>
<circle cx="406" cy="2164" r="30" fill="none" stroke="#ada394" stroke-width="12"/>
<path d="M430 2164.4L441.5 2164.6M429.8 2167.3L441.2 2168.9M429.2 2170.1L440.3 2173.1M428.3 2172.9L439 2177.2M427.1 2175.5L437.1 2181M425.5 2178L434.9 2184.7M423.7 2180.2L432.2 2188M421.6 2182.2L429.1 2191M419.3 2184L425.7 2193.6M416.8 2185.4L421.9 2195.7M414.1 2186.6L418 2197.4M411.3 2187.4L413.9 2198.6M408.5 2187.9L409.7 2199.3M405.6 2188L405.4 2199.5M402.7 2187.8L401.1 2199.2M399.9 2187.2L396.9 2198.3M397.1 2186.3L392.8 2197M394.5 2185.1L389 2195.1M392 2183.5L385.3 2192.9M389.8 2181.7L382 2190.2M387.8 2179.6L379 2187.1M386 2177.3L376.4 2183.7M384.6 2174.8L374.3 2179.9M383.4 2172.1L372.6 2176M382.6 2169.3L371.4 2171.9M382.1 2166.5L370.7 2167.7M382 2163.6L370.5 2163.4M382.2 2160.7L370.8 2159.1M382.8 2157.9L371.7 2154.9M383.7 2155.1L373 2150.8M384.9 2152.5L374.9 2147M386.5 2150L377.1 2143.3M388.3 2147.8L379.8 2140M390.4 2145.8L382.9 2137M392.7 2144L386.3 2134.4M395.2 2142.6L390.1 2132.3M397.9 2141.4L394 2130.6M400.7 2140.6L398.1 2129.4M403.5 2140.1L402.3 2128.7M406.4 2140L406.6 2128.5M409.3 2140.2L410.9 2128.8M412.1 2140.8L415.1 2129.7M414.9 2141.7L419.2 2131M417.5 2142.9L423 2132.9M420 2144.5L426.7 2135.1M422.2 2146.3L430 2137.8M424.2 2148.4L433 2140.9M426 2150.7L435.6 2144.3M427.4 2153.2L437.7 2148.1M428.6 2155.9L439.4 2152M429.4 2158.7L440.6 2156.1M429.9 2161.5L441.3 2160.3" stroke="#f3a24e" stroke-width="1.3" fill="none"/>
<path d="M432.4 2165.8L438.4 2166.3M428.5 2177.9L433.7 2181.1M419.5 2186.8L422.6 2192M407.4 2190.5L407.7 2196.5M394.9 2188.1L392.4 2193.5M385 2180.1L380.2 2183.8M379.9 2168.5L374 2169.6M380.8 2155.9L375.1 2154M387.4 2145.1L383.2 2140.8M398.4 2138.6L396.6 2132.9M411 2138L412.2 2132.1M422.5 2143.3L426.3 2138.6M430.3 2153.4L435.8 2150.9" stroke="#7cc47f" stroke-width="3.4" fill="none"/>
<path d="M431.2 2172.1L436.9 2174M424.6 2182.9L428.8 2187.2M413.6 2189.4L415.4 2195.1M401 2190L399.8 2195.9M389.5 2184.7L385.7 2189.4M381.7 2174.6L376.2 2177.1M379.6 2162.2L373.6 2161.7M383.5 2150.1L378.3 2146.9M392.5 2141.2L389.4 2136M404.6 2137.5L404.3 2131.5M417.1 2139.9L419.6 2134.5M427 2147.9L431.8 2144.2M432.1 2159.5L438 2158.4" stroke="#6d9fd8" stroke-width="3.4" fill="none"/>
<circle cx="406" cy="2164" r="20.8" fill="none" stroke="#f7a03c" stroke-width="6.8"/>
<path d="M406 2151.7A12.3 12.3 0 0 1 414.7 2155.3" stroke="#6fa3dc" stroke-width="10.6" fill="none"/>
<path d="M414.7 2155.3A12.3 12.3 0 0 1 418.3 2164" stroke="#7dcf7d" stroke-width="10.6" fill="none"/>
<path d="M418.3 2164A12.3 12.3 0 0 1 414.7 2172.7" stroke="#7dcf7d" stroke-width="10.6" fill="none"/>
<path d="M414.7 2172.7A12.3 12.3 0 0 1 406 2176.3" stroke="#6fa3dc" stroke-width="10.6" fill="none"/>
<path d="M406 2176.3A12.3 12.3 0 0 1 397.3 2172.7" stroke="#6fa3dc" stroke-width="10.6" fill="none"/>
<path d="M397.3 2172.7A12.3 12.3 0 0 1 393.7 2164" stroke="#e56060" stroke-width="10.6" fill="none"/>
<path d="M393.7 2164A12.3 12.3 0 0 1 397.3 2155.3" stroke="#e56060" stroke-width="10.6" fill="none"/>
<path d="M397.3 2155.3A12.3 12.3 0 0 1 406 2151.7" stroke="#6fa3dc" stroke-width="10.6" fill="none"/>
<path d="M421.4 2165.4h0M416.2 2169.3h0M416 2175.9h0M409.5 2175h0M404.6 2179.4h0M400.7 2174.2h0M394.1 2174h0M395 2167.5h0M390.6 2162.6h0M395.8 2158.7h0M396 2152.1h0M402.5 2153h0M407.4 2148.6h0M411.3 2153.8h0M417.9 2154h0M417 2160.5h0" stroke="#3a1a10" stroke-width="2.4" stroke-linecap="round" fill="none"/>
<circle cx="406" cy="2164" r="7.2" fill="#fff"/>
<path d="M642 2164l9 0M642 2166l7 0M642 2167l7 1M642 2169l4 0M641 2170l8 2M641 2171l20 5M641 2173l5 2M640 2175l11 4M640 2176l12 5M639 2178l7 3M638 2179l10 5M637 2180l27 16M637 2182l8 5M636 2183l34 25M635 2184l5 4M634 2185l5 5M633 2186l17 17M632 2187l5 6M631 2188l3 5M629 2190l21 27M628 2190l2 4M627 2191l3 5M626 2192l3 5M624 2193l5 9M623 2193l4 11M621 2194l2 4M620 2195l3 9M618 2195l2 8M617 2195l12 50M615 2196l1 5M614 2196l3 30M613 2196l2 34M611 2196l0 5M609 2196l0 25M608 2196l-1 12M606 2196l-1 7M605 2196l-1 4M603 2195l-2 13M602 2195l-1 4M600 2194l-1 4M599 2194l-2 5M597 2193l-3 8M596 2193l-7 13M595 2192l-3 4M593 2191l-5 9M592 2190l-7 10M590 2189l-8 12M589 2189l-4 5M588 2187l-8 9M587 2186l-22 21M586 2185l-10 9M585 2184l-6 5M584 2183l-7 5M583 2182l-5 3M583 2180l-6 3M582 2179l-5 3M581 2177l-4 2M580 2176l-15 6M580 2175l-10 3M579 2173l-31 9M579 2172l-5 1M579 2170l-6 2M578 2169l-20 3M578 2167l-5 0M578 2165l-27 2M578 2164l-11 0M578 2163l-9 -1M578 2161l-6 -1M578 2159l-13 -2M579 2158l-36 -8M579 2156l-9 -2M579 2155l-27 -8M580 2153l-19 -7M580 2152l-32 -13M581 2151l-6 -3M582 2149l-7 -3M582 2148l-10 -7M583 2146l-6 -3M584 2145l-10 -7M585 2144l-6 -5M586 2143l-18 -16M587 2142l-24 -24M588 2141l-3 -4M589 2140l-18 -22M591 2139l-14 -19M592 2138l-15 -23M593 2137l-2 -4M594 2136l-2 -4M596 2135l-3 -6M597 2135l-4 -10M599 2134l-13 -33M600 2134l-6 -21M601 2133l-3 -12M603 2133l-2 -10M604 2132l-1 -9M606 2132l-2 -25M608 2132l0 -5M609 2132l0 -9M611 2132l0 -11M612 2132l1 -7M614 2132l2 -12M615 2132l2 -11M617 2133l1 -5M618 2133l2 -8M620 2134l1 -5M621 2134l9 -23M623 2135l4 -11M624 2135l9 -16M625 2136l4 -7M627 2137l4 -7M628 2138l8 -11M629 2139l19 -25M631 2140l4 -6M632 2141l3 -4M633 2142l3 -3M634 2143l3 -3M635 2144l19 -16M636 2145l15 -11M637 2147l4 -3M638 2148l4 -2M638 2149l31 -16M639 2150l8 -3M640 2152l14 -6M640 2153l6 -1M641 2155l5 -2M641 2156l5 -1M641 2158l6 -1M642 2159l7 -1M642 2161l5 0M642 2163l10 -1" stroke="#a9a9a9" stroke-width="1.8" fill="none"/>
<path d="M598 2134l-3 -9M598 2134l-8 -21M599 2134l-5 -14M599 2134l-6 -18M600 2134l-6 -20M601 2133l-7 -20M601 2133l-7 -20M601 2133l-8 -28M602 2133l-6 -24M602 2133l-5 -19M603 2133l-5 -22M603 2133l-3 -14M604 2133l-3 -14M604 2133l-5 -28M605 2132l-3 -16M605 2132l-2 -14M606 2132l-5 -35M606 2132l-3 -34M607 2132l-4 -37M607 2132l-1 -16M608 2132l-1 -14M608 2132l-1 -17M609 2132l-2 -35M609 2132l0 -24M610 2132l-1 -36M610 2132l0 -41M611 2132l0 -16M611 2132l2 -30M612 2132l2 -37M612 2132l2 -24M613 2132l2 -19M613 2132l5 -42M614 2132l2 -19M614 2132l4 -29M615 2132l6 -43M615 2132l5 -28M616 2133l5 -29M617 2133l5 -27M617 2133l6 -26M617 2133l5 -22M618 2133l7 -31M618 2133l5 -19M619 2133l9 -36M619 2133l7 -22M620 2134l7 -22M620 2134l5 -14M621 2134l4 -12M621 2134l6 -15M622 2134l7 -19M622 2134l6 -14M622 2134l11 -25M623 2135l9 -21M623 2135l10 -21M624 2135l13 -25M625 2135l9 -18M625 2136l11 -23M625 2136l8 -14M626 2136l5 -9M626 2136l9 -15M626 2137l13 -21M627 2137l9 -14M616 2195l5 23M616 2195l2 12M615 2196l4 22M615 2196l4 24M614 2196l4 28M614 2196l4 36M613 2196l4 36M613 2196l4 34M612 2196l2 26M612 2196l1 18M612 2196l1 27M611 2196l1 33M610 2196l1 31M610 2196l0 19M610 2196l-1 16M609 2196l-2 45M608 2196l-1 23M608 2196l-3 40M608 2196l-2 24M607 2196l-4 40M607 2196l-3 28M606 2196l-5 38M605 2196l-7 50M605 2196l-8 50M605 2196l-7 40M604 2195l-5 26M603 2195l-7 34M603 2195l-8 37M602 2195l-8 36M602 2195l-7 30M602 2195l-14 48M601 2195l-12 43M601 2195l-13 40M600 2194l-18 54M600 2194l-17 50M599 2194l-14 39M598 2194l-18 47M598 2194l-16 42M598 2193l-11 25M597 2193l-8 19M597 2193l-12 26M596 2193l-16 34M596 2193l-15 29M596 2193l-15 29M595 2192l-16 31M595 2192l-15 27M594 2192l-16 29M594 2191l-26 43M593 2191l-22 36M593 2191l-23 36M592 2191l-16 25M592 2190l-12 19M592 2190l-18 27M591 2190l-14 19M591 2190l-13 17M590 2189l-17 23M590 2189l-16 21M590 2189l-23 28M589 2188l-12 15M589 2188l-25 28M589 2188l-21 22M588 2187l-16 17M588 2187l-12 11M588 2187l-12 12M587 2186l-23 23M587 2186l-18 17M586 2186l-21 19M584 2182l-17 11M583 2182l-19 12M583 2181l-10 6M583 2181l-12 7M583 2181l-25 15M582 2180l-21 12M582 2180l-21 12M582 2179l-29 16M582 2179l-19 9M581 2178l-19 10M581 2178l-17 8M581 2177l-31 14M581 2177l-17 8M581 2177l-20 8M580 2176l-14 6M580 2176l-33 13M580 2175l-33 12M580 2175l-39 13M580 2174l-37 12M579 2174l-40 12M579 2173l-41 12M579 2173l-43 12M579 2172l-35 9M579 2172l-32 7M579 2171l-28 7M579 2171l-28 5M579 2170l-26 6M579 2170l-37 7M578 2169l-29 5M578 2169l-35 5M578 2168l-18 3M578 2168l-42 5M578 2167l-24 3M578 2167l-48 4M578 2166l-29 3M578 2166l-24 1M578 2166l-30 1M578 2165l-39 1M578 2164l-24 1M578 2164l-35 0M578 2163l-18 0M578 2163l-20 -1M578 2162l-19 -1M578 2162l-24 -2M578 2162l-14 -1M578 2161l-26 -2M578 2161l-31 -4M578 2160l-27 -4M578 2160l-33 -5M578 2159l-24 -5M579 2158l-22 -4M579 2158l-14 -3M579 2157l-21 -4M579 2157l-20 -5M579 2157l-26 -7M579 2156l-20 -5M639 2151l9 -5M639 2151l21 -8M640 2152l14 -7M640 2152l13 -5M640 2153l23 -9M640 2153l16 -6M640 2153l11 -4M640 2154l15 -5M641 2154l21 -6M641 2155l14 -4M641 2155l26 -7M641 2156l25 -7M641 2156l13 -3M641 2157l29 -6M641 2157l23 -5M641 2158l32 -7M641 2158l22 -3M642 2159l21 -4M642 2159l32 -5M642 2160l13 -2M642 2161l35 -4M642 2161l36 -4M642 2161l19 -1M642 2162l38 -2M642 2162l40 -2M642 2163l27 -1M642 2163l36 -1M642 2164l20 -1M642 2164l29 1M642 2165l23 0M642 2165l39 2M642 2166l23 1M642 2166l38 3M642 2167l24 2M642 2167l14 2M642 2168l32 4M642 2168l30 4M642 2169l13 1M642 2169l26 5M641 2170l18 3M641 2170l21 5M641 2171l17 3M641 2171l26 6M641 2172l12 3M641 2172l24 7M641 2173l16 5M641 2173l27 8M640 2174l25 8M640 2174l22 7M640 2175l22 7M640 2175l24 9M640 2175l12 5M640 2176l11 5M639 2176l15 6M639 2177l9 4M639 2177l15 7" stroke="#4cb34c" stroke-width="1.5" fill="none"/>
<path d="M581 2150l-13 -6M581 2150l-7 -4M582 2149l-12 -6M582 2149l-8 -5M582 2148l-9 -5M582 2148l-14 -8M583 2147l-9 -5M583 2147l-8 -5M583 2146l-11 -7M583 2146l-9 -6M584 2145l-15 -10M584 2145l-13 -10M584 2145l-18 -14M585 2144l-11 -8M585 2144l-17 -14M585 2144l-16 -14M586 2143l-15 -13M586 2143l-18 -17M586 2142l-19 -17M587 2142l-16 -15M587 2141l-16 -15M588 2141l-11 -11M588 2141l-13 -14M588 2140l-16 -18M589 2140l-15 -17M589 2140l-12 -14M590 2139l-9 -10M590 2139l-10 -11M590 2139l-6 -8M591 2138l-13 -17M591 2138l-10 -14M592 2138l-8 -11M592 2138l-10 -15M593 2137l-6 -9M593 2137l-9 -13M593 2137l-8 -14M594 2136l-9 -14M594 2136l-7 -14M595 2136l-7 -12M595 2136l-4 -9M596 2135l-5 -8M596 2135l-4 -8M624 2135l3 -6M624 2135l6 -11M625 2136l4 -7M625 2136l5 -10M626 2136l4 -8M626 2136l6 -10M627 2137l9 -15M627 2137l6 -10M627 2137l11 -16M628 2138l9 -13M628 2138l9 -12M629 2138l11 -15M629 2138l7 -9M630 2139l9 -13M630 2139l12 -14M630 2139l7 -8M631 2140l16 -19M631 2140l7 -8M632 2140l16 -18M632 2141l15 -16M632 2141l15 -15M633 2142l20 -19M633 2142l15 -13M634 2143l13 -12M634 2143l17 -15M634 2143l17 -14M635 2144l14 -13M635 2144l11 -9M635 2144l13 -9M636 2145l16 -12M636 2145l13 -10M636 2145l11 -7M636 2146l18 -12M637 2146l12 -8M637 2147l14 -9M637 2147l15 -9M638 2148l14 -8M638 2148l13 -7M638 2149l12 -7M639 2150l13 -7M639 2150l13 -7M639 2150l9 -4M639 2178l11 5M639 2178l13 7M638 2179l14 7M638 2179l15 8M638 2180l10 6M638 2180l11 6M637 2181l12 7M637 2181l16 10M637 2182l15 10M636 2182l17 12M636 2182l12 8M636 2183l11 8M636 2183l15 12M635 2183l18 14M635 2184l13 11M635 2184l19 16M634 2185l9 7M634 2185l9 8M634 2186l8 8M633 2186l16 16M633 2186l13 14M633 2187l10 10M632 2187l16 16M632 2188l18 19M631 2188l8 8M631 2188l13 15M630 2189l16 18M630 2189l16 20M630 2189l15 21M629 2190l9 12M629 2190l5 8M628 2190l14 19M628 2191l9 13M628 2191l11 18M627 2191l7 12M627 2191l9 17M626 2192l5 9M626 2192l5 10M625 2192l6 12M625 2192l6 13M624 2193l7 13M624 2193l3 7M596 2193l-4 10M596 2193l-4 8M595 2192l-4 10M595 2192l-8 15M594 2192l-6 11M594 2192l-7 11M593 2191l-9 16M593 2191l-5 8M593 2191l-5 8M592 2190l-11 17M592 2190l-13 19M591 2190l-11 15M591 2190l-6 8M590 2189l-9 12M590 2189l-12 15M589 2188l-9 12M589 2188l-14 17M589 2188l-13 14M588 2188l-8 9M588 2187l-9 9M588 2187l-20 19M587 2186l-17 18M587 2186l-13 12M586 2186l-8 7M586 2185l-22 19M586 2185l-20 16M585 2184l-19 16M585 2184l-19 16M585 2184l-10 7M584 2183l-16 12M584 2183l-19 14M584 2182l-16 11M583 2182l-12 8M583 2182l-16 10M583 2181l-14 9M583 2181l-8 4M582 2180l-9 5M582 2180l-10 6M582 2179l-13 7M582 2179l-14 7M581 2178l-11 6M581 2178l-9 4" stroke="#a9a9a9" stroke-width="1.5" fill="none"/>
<circle cx="610" cy="2164" r="30" fill="none" stroke="#ada394" stroke-width="12"/>
<path d="M634 2164.4L645.5 2164.6M633.8 2167.3L645.2 2168.9M633.2 2170.1L644.3 2173.1M632.3 2172.9L643 2177.2M631.1 2175.5L641.1 2181M629.5 2178L638.9 2184.7M627.7 2180.2L636.2 2188M625.6 2182.2L633.1 2191M623.3 2184L629.7 2193.6M620.8 2185.4L625.9 2195.7M618.1 2186.6L622 2197.4M615.3 2187.4L617.9 2198.6M612.5 2187.9L613.7 2199.3M609.6 2188L609.4 2199.5M606.7 2187.8L605.1 2199.2M603.9 2187.2L600.9 2198.3M601.1 2186.3L596.8 2197M598.5 2185.1L593 2195.1M596 2183.5L589.3 2192.9M593.8 2181.7L586 2190.2M591.8 2179.6L583 2187.1M590 2177.3L580.4 2183.7M588.6 2174.8L578.3 2179.9M587.4 2172.1L576.6 2176M586.6 2169.3L575.4 2171.9M586.1 2166.5L574.7 2167.7M586 2163.6L574.5 2163.4M586.2 2160.7L574.8 2159.1M586.8 2157.9L575.7 2154.9M587.7 2155.1L577 2150.8M588.9 2152.5L578.9 2147M590.5 2150L581.1 2143.3M592.3 2147.8L583.8 2140M594.4 2145.8L586.9 2137M596.7 2144L590.3 2134.4M599.2 2142.6L594.1 2132.3M601.9 2141.4L598 2130.6M604.7 2140.6L602.1 2129.4M607.5 2140.1L606.3 2128.7M610.4 2140L610.6 2128.5M613.3 2140.2L614.9 2128.8M616.1 2140.8L619.1 2129.7M618.9 2141.7L623.2 2131M621.5 2142.9L627 2132.9M624 2144.5L630.7 2135.1M626.2 2146.3L634 2137.8M628.2 2148.4L637 2140.9M630 2150.7L639.6 2144.3M631.4 2153.2L641.7 2148.1M632.6 2155.9L643.4 2152M633.4 2158.7L644.6 2156.1M633.9 2161.5L645.3 2160.3" stroke="#f3a24e" stroke-width="1.3" fill="none"/>
<path d="M636.4 2165.8L642.4 2166.3M628.6 2182.9L632.8 2187.2M611.4 2190.5L611.7 2196.5M593.5 2184.7L589.7 2189.4M583.9 2168.5L578 2169.6M587.5 2150.1L582.3 2146.9M602.4 2138.6L600.6 2132.9M621.1 2139.9L623.6 2134.5M634.3 2153.4L639.8 2150.9" stroke="#f0563e" stroke-width="3.4" fill="none"/>
<path d="M635.2 2172.1L640.9 2174M623.5 2186.8L626.6 2192M605 2190L603.8 2195.9M589 2180.1L584.2 2183.8M583.6 2162.2L577.6 2161.7M591.4 2145.1L587.2 2140.8M608.6 2137.5L608.3 2131.5M626.5 2143.3L630.3 2138.6M636.1 2159.5L642 2158.4" stroke="#f59a3a" stroke-width="3.4" fill="none"/>
<path d="M632.5 2177.9L637.7 2181.1M617.6 2189.4L619.4 2195.1M598.9 2188.1L596.4 2193.5M585.7 2174.6L580.2 2177.1M584.8 2155.9L579.1 2154M596.5 2141.2L593.4 2136M615 2138L616.2 2132.1M631 2147.9L635.8 2144.2" stroke="#6d9fd8" stroke-width="3.4" fill="none"/>
<circle cx="610" cy="2164" r="20.8" fill="none" stroke="#7fcd80" stroke-width="6.8"/>
<path d="M610 2151.7A12.3 12.3 0 0 1 618.7 2155.3" stroke="#6fa3dc" stroke-width="10.6" fill="none"/>
<path d="M618.7 2155.3A12.3 12.3 0 0 1 622.3 2164" stroke="#7dcf7d" stroke-width="10.6" fill="none"/>
<path d="M622.3 2164A12.3 12.3 0 0 1 618.7 2172.7" stroke="#f5a03c" stroke-width="10.6" fill="none"/>
<path d="M618.7 2172.7A12.3 12.3 0 0 1 610 2176.3" stroke="#e85050" stroke-width="10.6" fill="none"/>
<path d="M610 2176.3A12.3 12.3 0 0 1 601.3 2172.7" stroke="#e85050" stroke-width="10.6" fill="none"/>
<path d="M601.3 2172.7A12.3 12.3 0 0 1 597.7 2164" stroke="#6fa3dc" stroke-width="10.6" fill="none"/>
<path d="M597.7 2164A12.3 12.3 0 0 1 601.3 2155.3" stroke="#6fa3dc" stroke-width="10.6" fill="none"/>
<path d="M601.3 2155.3A12.3 12.3 0 0 1 610 2151.7" stroke="#6fa3dc" stroke-width="10.6" fill="none"/>
<path d="M625.4 2165.4h0M620.2 2169.3h0M620 2175.9h0M613.5 2175h0M608.6 2179.4h0M604.7 2174.2h0M598.1 2174h0M599 2167.5h0M594.6 2162.6h0M599.8 2158.7h0M600 2152.1h0M606.5 2153h0M611.4 2148.6h0M615.3 2153.8h0M621.9 2154h0M621 2160.5h0" stroke="#3a1a10" stroke-width="2.4" stroke-linecap="round" fill="none"/>
<circle cx="610" cy="2164" r="7.2" fill="#fff"/>
<path d="M831 2164l6 0M831 2166l10 0M831 2167l12 1M831 2168l6 1M830 2170l7 1M830 2172l9 2M830 2173l6 2M829 2174l15 5M829 2176l7 3M828 2178l7 3M827 2179l6 3M827 2180l7 5M826 2182l14 9M825 2183l4 3M824 2184l5 4M823 2185l23 21M822 2187l3 2M821 2187l9 10M819 2189l16 18M818 2189l10 13M817 2190l6 9M816 2191l2 5M814 2192l8 14M813 2193l8 15M812 2193l14 32M810 2194l4 9M809 2194l11 35M807 2195l2 6M806 2195l5 25M805 2196l3 16M803 2196l2 14M801 2196l3 31M800 2196l1 35M798 2196l0 5M796 2196l-1 17M795 2196l-1 11M794 2196l-1 4M792 2195l-1 8M790 2195l-1 4M789 2194l-7 22M788 2194l-6 14M786 2193l-7 16M785 2193l-18 35M783 2192l-2 5M782 2191l-3 6M781 2190l-17 25M780 2190l-13 16M778 2188l-6 8M777 2188l-4 4M776 2186l-6 6M775 2185l-4 4M774 2184l-6 5M773 2183l-5 3M772 2181l-10 7M771 2180l-6 4M771 2179l-6 3M770 2177l-8 4M769 2176l-31 13M769 2175l-12 4M768 2173l-19 6M768 2172l-12 3M768 2170l-5 1M767 2168l-4 1M767 2167l-10 1M767 2165l-15 1M767 2164l-8 0M767 2162l-12 0M767 2161l-5 0M767 2159l-4 0M768 2158l-6 -1M768 2156l-12 -3M768 2155l-11 -4M769 2153l-23 -7M769 2152l-6 -3M770 2151l-4 -2M771 2149l-7 -3M771 2148l-5 -3M772 2146l-6 -3M773 2145l-5 -4M774 2144l-13 -10M775 2143l-18 -17M776 2142l-7 -7M777 2141l-16 -18M778 2140l-12 -15M780 2139l-11 -14M781 2138l-12 -18M782 2137l-4 -8M784 2136l-13 -23M785 2135l-4 -8M786 2135l-7 -17M788 2134l-4 -9M789 2134l-9 -28M790 2133l-8 -31M792 2133l-2 -7M794 2132l-3 -14M795 2132l-1 -7M797 2132l-1 -17M798 2132l0 -10M800 2132l0 -20M802 2132l1 -13M803 2132l1 -9M804 2132l2 -12M806 2133l2 -12M807 2133l3 -11M809 2134l3 -9M810 2134l2 -4M812 2135l5 -14M813 2135l7 -12M814 2136l2 -4M816 2137l2 -4M817 2138l7 -11M818 2138l6 -7M820 2140l6 -8M821 2141l7 -8M822 2142l4 -4M823 2143l5 -4M824 2144l3 -3M825 2145l5 -4M826 2147l5 -4M827 2148l6 -4M827 2149l22 -11M828 2151l6 -3M829 2152l8 -4M829 2153l4 -1M830 2155l19 -6M830 2157l25 -6M830 2158l11 -2M831 2160l8 -1M831 2161l7 -1M831 2163l13 -1" stroke="#a9a9a9" stroke-width="1.8" fill="none"/>
<path d="M782 2137l-8 -13M783 2137l-7 -11M783 2136l-5 -8M783 2136l-7 -12M784 2136l-4 -7M784 2136l-7 -15M785 2135l-5 -9M786 2135l-8 -16M786 2135l-5 -11M786 2135l-7 -16M787 2134l-7 -16M787 2134l-7 -16M788 2134l-6 -16M788 2134l-4 -12M789 2134l-5 -13M789 2134l-8 -25M790 2133l-4 -11M790 2133l-3 -13M791 2133l-4 -14M791 2133l-4 -16M792 2133l-6 -26M792 2133l-4 -23M793 2133l-2 -14M794 2132l-3 -17M794 2132l-4 -30M794 2132l-3 -27M795 2132l-2 -13M796 2132l-3 -22M796 2132l-2 -19M796 2132l-1 -21M797 2132l-1 -21M798 2132l-1 -22M798 2132l0 -15M799 2132l-1 -16M799 2132l1 -24M800 2132l0 -9M800 2132l1 -17M801 2132l1 -17M802 2132l1 -11M802 2132l1 -12M802 2132l2 -17M803 2132l2 -16M804 2132l2 -15M804 2132l2 -13M805 2133l1 -10M805 2133l3 -16M805 2133l2 -7M818 2190l11 14M818 2190l7 10M817 2190l10 14M817 2190l8 12M816 2191l9 12M816 2191l13 19M816 2191l7 13M815 2192l6 11M815 2192l8 15M814 2192l9 15M814 2192l11 20M813 2193l12 22M813 2193l6 12M812 2193l10 21M812 2193l5 12M811 2194l12 28M811 2194l5 13M810 2194l10 26M810 2194l5 13M809 2194l4 13M809 2194l4 13M808 2195l6 19M808 2195l8 28M807 2195l8 29M807 2195l4 15M806 2195l3 14M806 2195l5 25M805 2195l3 15M805 2195l2 13M804 2196l2 15M804 2196l2 18M803 2196l4 30M803 2196l1 12M802 2196l1 12M802 2196l1 17M801 2196l2 27M800 2196l1 21M800 2196l0 20M799 2196l0 15M799 2196l0 21M798 2196l0 15M798 2196l-1 17M797 2196l0 13M797 2196l-1 15M796 2196l-2 16M796 2196l-1 9M795 2196l-2 18M768 2172l-20 5M768 2171l-10 3M768 2171l-13 3M768 2170l-17 4M768 2170l-24 4M767 2169l-21 4M767 2169l-28 4M767 2168l-17 2M767 2167l-29 4M767 2167l-23 2M767 2166l-18 2M767 2166l-16 1M767 2166l-34 1M767 2165l-21 0M767 2164l-21 0M767 2164l-27 -1M767 2163l-36 0M767 2163l-37 -1M767 2162l-31 -1M767 2162l-24 -2M767 2161l-40 -4M767 2160l-33 -3M767 2160l-18 -2M767 2160l-39 -6M767 2159l-17 -3M767 2158l-16 -3M768 2158l-35 -6M768 2158l-28 -6M768 2157l-35 -8M768 2156l-33 -8M768 2156l-22 -6M768 2155l-19 -5M768 2155l-28 -9M768 2155l-18 -6M769 2154l-13 -4M769 2153l-12 -4M769 2153l-17 -7M769 2152l-14 -5M769 2152l-20 -9M770 2151l-25 -10M770 2151l-20 -9M770 2150l-19 -9M770 2150l-9 -5M770 2150l-20 -11M771 2149l-15 -8M771 2148l-19 -10M771 2148l-14 -8M826 2147l12 -7M826 2148l14 -8M827 2148l15 -9M827 2149l19 -11M827 2149l10 -5M827 2149l24 -12M828 2150l21 -10M828 2151l12 -6M828 2151l24 -10M828 2151l13 -5M829 2152l24 -9M829 2153l18 -7M829 2153l24 -9M829 2154l22 -8M829 2154l30 -9M829 2154l32 -10M830 2155l25 -7M830 2155l17 -4M830 2156l17 -4M830 2157l40 -10M830 2157l22 -4M830 2158l17 -4M830 2158l26 -5M831 2159l16 -3M831 2159l22 -3M831 2160l32 -4M831 2160l27 -3M831 2161l24 -2M831 2161l20 -1M831 2162l15 -1M831 2162l15 0M831 2163l28 -1M831 2163l29 -1M831 2164l16 0M831 2164l11 0M831 2165l22 1M831 2165l12 1M831 2166l13 1M831 2167l20 2M831 2167l21 2M831 2168l18 2M831 2168l15 2" stroke="#4cb34c" stroke-width="1.5" fill="none"/>
<path d="M770 2150l-10 -5M770 2150l-10 -5M771 2149l-12 -6M771 2149l-12 -7M771 2148l-11 -7M772 2148l-9 -5M772 2147l-6 -4M772 2147l-8 -6M772 2146l-11 -7M773 2146l-11 -7M773 2145l-14 -11M773 2145l-8 -6M774 2145l-10 -8M774 2144l-8 -7M774 2144l-15 -13M775 2143l-10 -8M775 2142l-7 -7M776 2142l-13 -12M776 2142l-14 -13M776 2141l-8 -8M777 2141l-14 -14M777 2140l-14 -15M778 2140l-7 -7M778 2140l-8 -10M779 2139l-11 -12M779 2139l-7 -9M779 2139l-4 -7M780 2138l-11 -14M780 2138l-7 -10M781 2138l-7 -9M781 2137l-4 -6M782 2137l-8 -11M782 2137l-8 -13M782 2137l-6 -11M783 2136l-7 -12M784 2136l-4 -7M784 2136l-5 -10M785 2135l-4 -7M785 2135l-4 -9M813 2135l3 -6M813 2135l5 -8M814 2136l5 -10M814 2136l7 -11M815 2136l3 -6M815 2136l7 -12M816 2137l7 -12M816 2137l4 -7M817 2137l8 -12M817 2138l6 -8M818 2138l9 -13M818 2138l9 -12M819 2139l11 -15M819 2139l6 -8M819 2139l8 -9M820 2140l14 -16M820 2140l11 -11M821 2141l11 -13M821 2141l15 -15M822 2141l11 -11M822 2142l10 -10M822 2142l10 -9M823 2143l11 -10M823 2143l14 -12M824 2144l12 -10M824 2144l15 -13M824 2144l11 -8M825 2145l7 -6M825 2145l14 -10M825 2146l12 -9M826 2146l12 -8M826 2147l11 -8M826 2147l11 -7M826 2147l6 -3M827 2148l7 -4M827 2149l9 -5M827 2149l7 -3M828 2149l5 -2M828 2150l7 -3M828 2178l8 4M828 2179l8 4M827 2179l9 4M827 2179l10 5M827 2180l7 4M826 2181l7 4M826 2181l11 7M826 2181l7 4M825 2182l7 4M825 2182l11 7M825 2182l9 7M825 2183l14 10M824 2184l13 10M824 2184l11 9M823 2185l12 9M823 2185l9 7M823 2185l11 11M823 2186l12 11M822 2186l7 7M821 2187l8 7M821 2187l6 7M821 2187l12 13M820 2188l7 8M820 2188l7 8M819 2189l10 11M819 2189l8 10M819 2189l11 15M818 2190l6 7M818 2190l5 8M817 2190l8 11M817 2191l4 6M816 2191l8 12M816 2191l5 8M815 2192l8 12M815 2192l6 11M814 2192l6 11M814 2192l4 7M813 2193l5 8M813 2193l3 7M785 2193l-4 8M785 2193l-3 6M784 2192l-3 6M784 2192l-5 9M783 2192l-5 9M783 2192l-6 10M782 2191l-4 8M782 2191l-7 10M781 2190l-5 8M781 2190l-10 13M780 2190l-7 11M780 2190l-11 15M779 2189l-6 8M779 2189l-9 12M778 2188l-7 9M778 2188l-10 12M777 2188l-13 15M777 2187l-14 15M777 2187l-9 9M777 2187l-14 13M776 2186l-11 10M775 2186l-15 14M775 2185l-15 14M775 2185l-9 8M775 2185l-8 6M774 2184l-14 12M774 2184l-11 8M773 2183l-16 12M773 2183l-8 5M773 2182l-9 6M772 2182l-8 5M772 2181l-14 10M772 2181l-14 9M771 2180l-14 8M771 2180l-8 4M771 2179l-10 6M771 2179l-9 4M770 2178l-10 5M770 2178l-8 4" stroke="#a9a9a9" stroke-width="1.5" fill="none"/>
<circle cx="799" cy="2164" r="30" fill="none" stroke="#ada394" stroke-width="12"/>
<path d="M823 2164.4L834.5 2164.6M822.8 2167.3L834.2 2168.9M822.2 2170.1L833.3 2173.1M821.3 2172.9L832 2177.2M820.1 2175.5L830.1 2181M818.5 2178L827.9 2184.7M816.7 2180.2L825.2 2188M814.6 2182.2L822.1 2191M812.3 2184L818.7 2193.6M809.8 2185.4L814.9 2195.7M807.1 2186.6L811 2197.4M804.3 2187.4L806.9 2198.6M801.5 2187.9L802.7 2199.3M798.6 2188L798.4 2199.5M795.7 2187.8L794.1 2199.2M792.9 2187.2L789.9 2198.3M790.1 2186.3L785.8 2197M787.5 2185.1L782 2195.1M785 2183.5L778.3 2192.9M782.8 2181.7L775 2190.2M780.8 2179.6L772 2187.1M779 2177.3L769.4 2183.7M777.6 2174.8L767.3 2179.9M776.4 2172.1L765.6 2176M775.6 2169.3L764.4 2171.9M775.1 2166.5L763.7 2167.7M775 2163.6L763.5 2163.4M775.2 2160.7L763.8 2159.1M775.8 2157.9L764.7 2154.9M776.7 2155.1L766 2150.8M777.9 2152.5L767.9 2147M779.5 2150L770.1 2143.3M781.3 2147.8L772.8 2140M783.4 2145.8L775.9 2137M785.7 2144L779.3 2134.4M788.2 2142.6L783.1 2132.3M790.9 2141.4L787 2130.6M793.7 2140.6L791.1 2129.4M796.5 2140.1L795.3 2128.7M799.4 2140L799.6 2128.5M802.3 2140.2L803.9 2128.8M805.1 2140.8L808.1 2129.7M807.9 2141.7L812.2 2131M810.5 2142.9L816 2132.9M813 2144.5L819.7 2135.1M815.2 2146.3L823 2137.8M817.2 2148.4L826 2140.9M819 2150.7L828.6 2144.3M820.4 2153.2L830.7 2148.1M821.6 2155.9L832.4 2152M822.4 2158.7L833.6 2156.1M822.9 2161.5L834.3 2160.3" stroke="#f3a24e" stroke-width="1.3" fill="none"/>
<path d="M825.4 2165.8L831.4 2166.3M817.6 2182.9L821.8 2187.2M800.4 2190.5L800.7 2196.5M782.5 2184.7L778.7 2189.4M772.9 2168.5L767 2169.6M776.5 2150.1L771.3 2146.9M791.4 2138.6L789.6 2132.9M810.1 2139.9L812.6 2134.5M823.3 2153.4L828.8 2150.9" stroke="#f0563e" stroke-width="3.4" fill="none"/>
<path d="M824.2 2172.1L829.9 2174M812.5 2186.8L815.6 2192M794 2190L792.8 2195.9M778 2180.1L773.2 2183.8M772.6 2162.2L766.6 2161.7M780.4 2145.1L776.2 2140.8M797.6 2137.5L797.3 2131.5M815.5 2143.3L819.3 2138.6M825.1 2159.5L831 2158.4" stroke="#f59a3a" stroke-width="3.4" fill="none"/>
<path d="M821.5 2177.9L826.7 2181.1M806.6 2189.4L808.4 2195.1M787.9 2188.1L785.4 2193.5M774.7 2174.6L769.2 2177.1M773.8 2155.9L768.1 2154M785.5 2141.2L782.4 2136M804 2138L805.2 2132.1M820 2147.9L824.8 2144.2" stroke="#6d9fd8" stroke-width="3.4" fill="none"/>
<circle cx="799" cy="2164" r="20.8" fill="none" stroke="#7fcd80" stroke-width="6.8"/>
<path d="M799 2151.7A12.3 12.3 0 0 1 807.7 2155.3" stroke="#6fa3dc" stroke-width="10.6" fill="none"/>
<path d="M807.7 2155.3A12.3 12.3 0 0 1 811.3 2164" stroke="#7dcf7d" stroke-width="10.6" fill="none"/>
<path d="M811.3 2164A12.3 12.3 0 0 1 807.7 2172.7" stroke="#f5a03c" stroke-width="10.6" fill="none"/>
<path d="M807.7 2172.7A12.3 12.3 0 0 1 799 2176.3" stroke="#e85050" stroke-width="10.6" fill="none"/>
<path d="M799 2176.3A12.3 12.3 0 0 1 790.3 2172.7" stroke="#e85050" stroke-width="10.6" fill="none"/>
<path d="M790.3 2172.7A12.3 12.3 0 0 1 786.7 2164" stroke="#6fa3dc" stroke-width="10.6" fill="none"/>
<path d="M786.7 2164A12.3 12.3 0 0 1 790.3 2155.3" stroke="#6fa3dc" stroke-width="10.6" fill="none"/>
<path d="M790.3 2155.3A12.3 12.3 0 0 1 799 2151.7" stroke="#6fa3dc" stroke-width="10.6" fill="none"/>
<path d="M814.4 2165.4h0M809.2 2169.3h0M809 2175.9h0M802.5 2175h0M797.6 2179.4h0M793.7 2174.2h0M787.1 2174h0M788 2167.5h0M783.6 2162.6h0M788.8 2158.7h0M789 2152.1h0M795.5 2153h0M800.4 2148.6h0M804.3 2153.8h0M810.9 2154h0M810 2160.5h0" stroke="#3a1a10" stroke-width="2.4" stroke-linecap="round" fill="none"/>
<circle cx="799" cy="2164" r="7.2" fill="#fff"/>
<path d="M52 2282H90M277 2282H315M442 2282H480" stroke-width="3.2" fill="none" stroke="#000"/>
<path d="M52 2282H90" stroke="#d42a2a" stroke-width="3.5"/>
<path d="M277 2282H315" stroke="#1f4f7f" stroke-width="3.5"/>
<path d="M442 2282H480" stroke="#8c8c8c" stroke-width="3.5"/>
<path d="M589 2278H626" stroke="#2db34a" stroke-width="3.5"/>
<path d="M743 2278H781" stroke="#8c8c8c" stroke-width="3.5"/>
<text x="97" y="2290" font-size="22" text-anchor="start" fill="#000">WRCY/RGYW</text>
<text x="323" y="2290" font-size="22" text-anchor="start" fill="#000">SYC/GRS</text>
<text x="492" y="2291" font-size="22" text-anchor="start" fill="#000">Neutral</text>
<text x="635" y="2285" font-size="22" text-anchor="start" fill="#000">WA/TW</text>
<text x="795" y="2286" font-size="22" text-anchor="start" fill="#000">Neutral</text>
<text x="903.3" y="1713" font-size="49.5" text-anchor="start" fill="#000">c</text>
<rect x="1043.9" y="2038.2" width="13.4" height="49.8" fill="#d9d9d9" stroke="#222" stroke-width="1.1"/>
<rect x="1058.9" y="2046.4" width="13.4" height="41.6" fill="#f4a7a4" stroke="#222" stroke-width="1.1"/>
<rect x="1086.2" y="2016.2" width="13.4" height="71.8" fill="#d9d9d9" stroke="#222" stroke-width="1.1"/>
<rect x="1101.2" y="1965.2" width="13.4" height="122.8" fill="#f4a7a4" stroke="#222" stroke-width="1.1"/>
<rect x="1128.5" y="1999.2" width="13.4" height="88.8" fill="#d9d9d9" stroke="#222" stroke-width="1.1"/>
<rect x="1143.5" y="2014.3" width="13.4" height="73.7" fill="#f4a7a4" stroke="#222" stroke-width="1.1"/>
<rect x="1170.8" y="2045.2" width="13.4" height="42.8" fill="#d9d9d9" stroke="#222" stroke-width="1.1"/>
<rect x="1185.8" y="2037" width="13.4" height="51" fill="#f4a7a4" stroke="#222" stroke-width="1.1"/>
<g fill="#9a9a9a" stroke="#444" stroke-width="1"><circle cx="1054.8" cy="2044.4" r="4.2"/><circle cx="1050.3" cy="2036.3" r="4.2"/><circle cx="1047.4" cy="2044.9" r="4.2"/><circle cx="1050.7" cy="2038.6" r="4.2"/><circle cx="1046.5" cy="2044.4" r="4.2"/><circle cx="1092.3" cy="2002.4" r="4.2"/><circle cx="1096.3" cy="2013.5" r="4.2"/><circle cx="1092.9" cy="2034.1" r="4.2"/><circle cx="1094.5" cy="2018.3" r="4.2"/><circle cx="1097.9" cy="2026" r="4.2"/><circle cx="1097.9" cy="2013.5" r="4.2"/><circle cx="1140" cy="1987.2" r="4.2"/><circle cx="1134.2" cy="2006.8" r="4.2"/><circle cx="1138" cy="1983.3" r="4.2"/><circle cx="1132.9" cy="1991.3" r="4.2"/><circle cx="1139.8" cy="1989.5" r="4.2"/><circle cx="1182.2" cy="2043.4" r="4.2"/><circle cx="1180.5" cy="2037.9" r="4.2"/><circle cx="1174.6" cy="2051.7" r="4.2"/><circle cx="1176.4" cy="2026.6" r="4.2"/><circle cx="1173.5" cy="2036.9" r="4.2"/></g>
<g fill="#f08080" stroke="#b03030" stroke-width="1"><circle cx="1061" cy="2043.6" r="4.2"/><circle cx="1070.4" cy="2053.6" r="4.2"/><circle cx="1066.8" cy="2039.3" r="4.2"/><circle cx="1062.2" cy="2048" r="4.2"/><circle cx="1061.2" cy="2040.3" r="4.2"/><circle cx="1105.2" cy="1975.2" r="4.2"/><circle cx="1105.8" cy="2002.2" r="4.2"/><circle cx="1106.9" cy="1897.2" r="4.2"/><circle cx="1111.4" cy="1933" r="4.2"/><circle cx="1111.4" cy="2049.2" r="4.2"/><circle cx="1145.8" cy="2014.2" r="4.2"/><circle cx="1153.2" cy="2008.5" r="4.2"/><circle cx="1149.7" cy="2007.2" r="4.2"/><circle cx="1147.1" cy="1999.8" r="4.2"/><circle cx="1151.6" cy="2015" r="4.2"/><circle cx="1190.8" cy="2038.7" r="4.2"/><circle cx="1190.5" cy="2004.5" r="4.2"/><circle cx="1193.3" cy="2029.6" r="4.2"/><circle cx="1189.9" cy="2033.3" r="4.2"/><circle cx="1192" cy="2051.6" r="4.2"/></g>
<path d="M1048.6 2040.9l3.6 6.2h-7.2zM1137.8 1989.5l3.6 6.2h-7.2zM1182.4 2052.1l3.6 6.2h-7.2z" fill="#ececec" stroke="#333" stroke-width="1"/>
<path d="M1062.5 2042l3.6 6.2h-7.2zM1102.9 1888.7l3.6 6.2h-7.2zM1146.4 2017.1l3.6 6.2h-7.2zM1197.1 2044l3.6 6.2h-7.2z" fill="#f7c4c4" stroke="#333" stroke-width="1"/>
<path d="M1050.6 2038.2V2036.2m-4 0h8M1050.6 2038.2V2040.3M1065.6 2046.4V2044.4m-4 0h8M1065.6 2046.4V2048.5M1092.9 2016.2V2011m-4 0h8M1092.9 2016.2V2021.3M1107.9 1965.2V1947.1m-4 0h8M1107.9 1965.2V1983.2M1135.2 1999.2V1994m-4 0h8M1135.2 1999.2V2004.3M1150.2 2014.3V2009.1m-4 0h8M1150.2 2014.3V2019.4M1177.5 2045.2V2041.3m-4 0h8M1177.5 2045.2V2049M1192.5 2037V2029.3m-4 0h8M1192.5 2037V2044.7" stroke="#222" stroke-width="1.3" fill="none"/>
<path d="M1036.8 1898V2088H1203.8" stroke="#000" stroke-width="2" fill="none"/>
<path d="M1036.8 2088H1032.8M1036.8 2025H1032.8M1036.8 1962H1032.8M1036.8 1899H1032.8M1058.1 2088V2092M1100.4 2088V2092M1142.7 2088V2092M1185 2088V2092" stroke="#000" stroke-width="1.8" fill="none"/>
<text x="1029.3" y="2096.5" font-size="23.5" text-anchor="end" fill="#000">0.0</text>
<text x="1029.3" y="2033.5" font-size="23.5" text-anchor="end" fill="#000">0.1</text>
<text x="1029.3" y="1970.5" font-size="23.5" text-anchor="end" fill="#000">0.2</text>
<text x="1029.3" y="1907.5" font-size="23.5" text-anchor="end" fill="#000">0.3</text>
<text x="977" y="1993.5" font-size="21" text-anchor="middle" fill="#000" transform="rotate(-90 977 1993.5)">Mutation frequency (%)</text>
<text x="1060.1" y="2100" font-size="19" text-anchor="end" fill="#000" transform="rotate(-45 1060.1 2100)">Neutral</text>
<text x="1102.4" y="2100" font-size="19" text-anchor="end" fill="#000" transform="rotate(-45 1102.4 2100)">WRCY/RGYW</text>
<text x="1144.7" y="2100" font-size="19" text-anchor="end" fill="#000" transform="rotate(-45 1144.7 2100)">WA/TW</text>
<text x="1187" y="2100" font-size="19" text-anchor="end" fill="#000" transform="rotate(-45 1187 2100)">SYC/GRS</text>
<path d="M1052.8 1893.5H1070.2" stroke="#000" stroke-width="2.2"/>
<text x="1060.5" y="1892" font-size="24.5" text-anchor="start" fill="#000" transform="rotate(-43 1060.5 1892)">0.112</text>
<path d="M1099.4 1893.5H1116.8" stroke="#000" stroke-width="2.2"/>
<text x="1107.1" y="1892" font-size="24.5" text-anchor="start" fill="#000" transform="rotate(-43 1107.1 1892)">0.030</text>
<path d="M1144.1 1893.5H1161.5" stroke="#000" stroke-width="2.2"/>
<text x="1151.8" y="1892" font-size="24.5" text-anchor="start" fill="#000" transform="rotate(-43 1151.8 1892)">0.130</text>
<path d="M1190.3 1893.5H1207.7" stroke="#000" stroke-width="2.2"/>
<text x="1198" y="1892" font-size="24.5" text-anchor="start" fill="#000" transform="rotate(-43 1198 1892)">0.493</text>
<text x="1140" y="1803" font-size="25" text-anchor="middle" fill="#1f6fb4" font-weight="bold">CD38<tspan font-size="16.5" dy="-10">int</tspan></text>
<rect x="1335.7" y="2038.4" width="13.4" height="41.1" fill="#d9d9d9" stroke="#222" stroke-width="1.1"/>
<rect x="1350.7" y="2038.4" width="13.4" height="41.1" fill="#f4a7a4" stroke="#222" stroke-width="1.1"/>
<rect x="1378" y="1943.8" width="13.4" height="135.7" fill="#d9d9d9" stroke="#222" stroke-width="1.1"/>
<rect x="1393" y="1917.5" width="13.4" height="162" fill="#f4a7a4" stroke="#222" stroke-width="1.1"/>
<rect x="1420.3" y="2000.4" width="13.4" height="79.1" fill="#d9d9d9" stroke="#222" stroke-width="1.1"/>
<rect x="1435.3" y="2002.3" width="13.4" height="77.2" fill="#f4a7a4" stroke="#222" stroke-width="1.1"/>
<rect x="1462.6" y="2050.4" width="13.4" height="29.1" fill="#d9d9d9" stroke="#222" stroke-width="1.1"/>
<rect x="1477.6" y="2062.4" width="13.4" height="17.1" fill="#f4a7a4" stroke="#222" stroke-width="1.1"/>
<g fill="#9a9a9a" stroke="#444" stroke-width="1"><circle cx="1344.1" cy="2042" r="4.2"/><circle cx="1338.8" cy="2037.8" r="4.2"/><circle cx="1340.1" cy="2035.9" r="4.2"/><circle cx="1345.5" cy="2038.2" r="4.2"/><circle cx="1343" cy="2039.6" r="4.2"/><circle cx="1389.6" cy="1949.3" r="4.2"/><circle cx="1389.2" cy="1944.1" r="4.2"/><circle cx="1381.1" cy="1933.7" r="4.2"/><circle cx="1382.8" cy="1935.2" r="4.2"/><circle cx="1386.7" cy="1949.3" r="4.2"/><circle cx="1423.1" cy="2003.9" r="4.2"/><circle cx="1424.3" cy="2009.2" r="4.2"/><circle cx="1430.1" cy="2005.4" r="4.2"/><circle cx="1427" cy="1994.7" r="4.2"/><circle cx="1426.3" cy="1988.8" r="4.2"/><circle cx="1469.1" cy="2047.8" r="4.2"/><circle cx="1473.9" cy="2040.4" r="4.2"/><circle cx="1466" cy="2079.5" r="4.2"/><circle cx="1473.5" cy="2046.6" r="4.2"/><circle cx="1471.8" cy="2055.8" r="4.2"/></g>
<g fill="#f08080" stroke="#b03030" stroke-width="1"><circle cx="1361.5" cy="2040.5" r="4.2"/><circle cx="1353" cy="2037.5" r="4.2"/><circle cx="1359.3" cy="2037.8" r="4.2"/><circle cx="1355.8" cy="2039.7" r="4.2"/><circle cx="1352.6" cy="2044.4" r="4.2"/><circle cx="1353" cy="2034.3" r="4.2"/><circle cx="1398.9" cy="1912.4" r="4.2"/><circle cx="1400.7" cy="1929.3" r="4.2"/><circle cx="1395" cy="1929.9" r="4.2"/><circle cx="1402" cy="1915.7" r="4.2"/><circle cx="1401.3" cy="1883.6" r="4.2"/><circle cx="1444.7" cy="2005.7" r="4.2"/><circle cx="1438" cy="2000.7" r="4.2"/><circle cx="1444" cy="2004.6" r="4.2"/><circle cx="1437.4" cy="2003" r="4.2"/><circle cx="1443.4" cy="2002.9" r="4.2"/><circle cx="1482.7" cy="2063" r="4.2"/><circle cx="1481.7" cy="2057" r="4.2"/><circle cx="1485.5" cy="2061.5" r="4.2"/><circle cx="1489.1" cy="2062.4" r="4.2"/><circle cx="1479.5" cy="2058.7" r="4.2"/></g>
<path d="M1344 2037.8l3.6 6.2h-7.2zM1380.2 1945.2l3.6 6.2h-7.2zM1427.2 1994.5l3.6 6.2h-7.2zM1473.4 2040.4l3.6 6.2h-7.2z" fill="#ececec" stroke="#333" stroke-width="1"/>
<path d="M1398.3 1920.8l3.6 6.2h-7.2zM1437.5 1995.1l3.6 6.2h-7.2zM1482.5 2058.7l3.6 6.2h-7.2z" fill="#f7c4c4" stroke="#333" stroke-width="1"/>
<path d="M1342.4 2038.4V2037.3m-4 0h8M1342.4 2038.4V2039.4M1357.4 2038.4V2036.8m-4 0h8M1357.4 2038.4V2039.9M1384.7 1943.8V1938.6m-4 0h8M1384.7 1943.8V1949M1399.7 1917.5V1912.4m-4 0h8M1399.7 1917.5V1922.7M1427 2000.4V1997.8m-4 0h8M1427 2000.4V2003M1442 2002.3V2000.8m-4 0h8M1442 2002.3V2003.9M1469.3 2050.4V2045.2m-4 0h8M1469.3 2050.4V2055.6M1484.3 2062.4V2061.1m-4 0h8M1484.3 2062.4V2063.7" stroke="#222" stroke-width="1.3" fill="none"/>
<path d="M1328.6 1888.7V2079.5H1495.6" stroke="#000" stroke-width="2" fill="none"/>
<path d="M1328.6 2079.5H1324.6M1328.6 2016.2H1324.6M1328.6 1953H1324.6M1328.6 1889.7H1324.6M1349.9 2079.5V2083.5M1392.2 2079.5V2083.5M1434.5 2079.5V2083.5M1476.8 2079.5V2083.5" stroke="#000" stroke-width="1.8" fill="none"/>
<text x="1321.1" y="2088" font-size="23.5" text-anchor="end" fill="#000">0.0</text>
<text x="1321.1" y="2024.7" font-size="23.5" text-anchor="end" fill="#000">0.1</text>
<text x="1321.1" y="1961.5" font-size="23.5" text-anchor="end" fill="#000">0.2</text>
<text x="1321.1" y="1898.2" font-size="23.5" text-anchor="end" fill="#000">0.3</text>
<text x="1269" y="1984.6" font-size="21" text-anchor="middle" fill="#000" transform="rotate(-90 1269 1984.6)">Mutation frequency (%)</text>
<text x="1351.9" y="2091.5" font-size="19" text-anchor="end" fill="#000" transform="rotate(-45 1351.9 2091.5)">Neutral</text>
<text x="1394.2" y="2091.5" font-size="19" text-anchor="end" fill="#000" transform="rotate(-45 1394.2 2091.5)">WRCY/RGYW</text>
<text x="1436.5" y="2091.5" font-size="19" text-anchor="end" fill="#000" transform="rotate(-45 1436.5 2091.5)">WA/TW</text>
<text x="1478.8" y="2091.5" font-size="19" text-anchor="end" fill="#000" transform="rotate(-45 1478.8 2091.5)">SYC/GRS</text>
<path d="M1363.1 1874.7H1380.5" stroke="#000" stroke-width="2.2"/>
<text x="1370.8" y="1873.2" font-size="24.5" text-anchor="start" fill="#000" transform="rotate(-43 1370.8 1873.2)">0.916</text>
<path d="M1409.3 1874.7H1426.7" stroke="#000" stroke-width="2.2"/>
<text x="1417" y="1873.2" font-size="24.5" text-anchor="start" fill="#000" transform="rotate(-43 1417 1873.2)">0.044</text>
<path d="M1454.9 1874.7H1472.3" stroke="#000" stroke-width="2.2"/>
<text x="1462.6" y="1873.2" font-size="24.5" text-anchor="start" fill="#000" transform="rotate(-43 1462.6 1873.2)">0.190</text>
<path d="M1500.7 1874.7H1518.1" stroke="#000" stroke-width="2.2"/>
<text x="1508.4" y="1873.2" font-size="24.5" text-anchor="start" fill="#000" transform="rotate(-43 1508.4 1873.2)">0.091</text>
<text x="1432" y="1803" font-size="25" text-anchor="middle" fill="#b4141c" font-weight="bold">CD38<tspan font-size="16.5" dy="-10">&#8211;</tspan></text>
<rect x="1662.3" y="2028.8" width="13.4" height="40.8" fill="#d9d9d9" stroke="#222" stroke-width="1.1"/>
<rect x="1677.3" y="2027.5" width="13.4" height="42.1" fill="#f4a7a4" stroke="#222" stroke-width="1.1"/>
<rect x="1704.6" y="1928.4" width="13.4" height="141.2" fill="#d9d9d9" stroke="#222" stroke-width="1.1"/>
<rect x="1719.6" y="1931.5" width="13.4" height="138.1" fill="#f4a7a4" stroke="#222" stroke-width="1.1"/>
<rect x="1746.9" y="1988" width="13.4" height="81.6" fill="#d9d9d9" stroke="#222" stroke-width="1.1"/>
<rect x="1761.9" y="1989.3" width="13.4" height="80.3" fill="#f4a7a4" stroke="#222" stroke-width="1.1"/>
<rect x="1789.2" y="2050.8" width="13.4" height="18.8" fill="#d9d9d9" stroke="#222" stroke-width="1.1"/>
<rect x="1804.2" y="2050.8" width="13.4" height="18.8" fill="#f4a7a4" stroke="#222" stroke-width="1.1"/>
<g fill="#9a9a9a" stroke="#444" stroke-width="1"><circle cx="1670.8" cy="2029" r="4.2"/><circle cx="1672.5" cy="2025.9" r="4.2"/><circle cx="1665.5" cy="2028.3" r="4.2"/><circle cx="1666.3" cy="2027.5" r="4.2"/><circle cx="1669.3" cy="2028.9" r="4.2"/><circle cx="1711.2" cy="1928.6" r="4.2"/><circle cx="1713.9" cy="1922.3" r="4.2"/><circle cx="1709.9" cy="1931.4" r="4.2"/><circle cx="1710.6" cy="1929.7" r="4.2"/><circle cx="1714.5" cy="1929" r="4.2"/><circle cx="1714.3" cy="1926.9" r="4.2"/><circle cx="1751" cy="1986" r="4.2"/><circle cx="1751" cy="1985.9" r="4.2"/><circle cx="1749.3" cy="1987.2" r="4.2"/><circle cx="1755.1" cy="1985.7" r="4.2"/><circle cx="1755.8" cy="1985.6" r="4.2"/><circle cx="1796.9" cy="2046.4" r="4.2"/><circle cx="1798.1" cy="2045.7" r="4.2"/><circle cx="1796.7" cy="2049.9" r="4.2"/><circle cx="1796.8" cy="2047.4" r="4.2"/><circle cx="1794.3" cy="2053.3" r="4.2"/></g>
<g fill="#f08080" stroke="#b03030" stroke-width="1"><circle cx="1685.1" cy="2030.8" r="4.2"/><circle cx="1679.1" cy="2026" r="4.2"/><circle cx="1687.7" cy="2027.7" r="4.2"/><circle cx="1687.1" cy="2026.5" r="4.2"/><circle cx="1686.4" cy="2026.3" r="4.2"/><circle cx="1728.8" cy="1943.1" r="4.2"/><circle cx="1722.6" cy="1961.3" r="4.2"/><circle cx="1723.1" cy="1943.6" r="4.2"/><circle cx="1723.3" cy="1955.9" r="4.2"/><circle cx="1725.9" cy="1950.5" r="4.2"/><circle cx="1772" cy="1975" r="4.2"/><circle cx="1770" cy="1971.6" r="4.2"/><circle cx="1772.3" cy="1982.3" r="4.2"/><circle cx="1772.5" cy="1978.3" r="4.2"/><circle cx="1772.1" cy="1986.5" r="4.2"/><circle cx="1808.2" cy="2052" r="4.2"/><circle cx="1806.6" cy="2053.6" r="4.2"/><circle cx="1811.3" cy="2055.7" r="4.2"/><circle cx="1806.3" cy="2057" r="4.2"/><circle cx="1806.8" cy="2056.1" r="4.2"/><circle cx="1805.9" cy="2048.6" r="4.2"/></g>
<path d="M1666.1 2026l3.6 6.2h-7.2zM1757.9 1984.9l3.6 6.2h-7.2zM1793.9 2043.8l3.6 6.2h-7.2z" fill="#ececec" stroke="#333" stroke-width="1"/>
<path d="M1688.5 2027.1l3.6 6.2h-7.2zM1727.4 1930.4l3.6 6.2h-7.2zM1767.3 1993.4l3.6 6.2h-7.2z" fill="#f7c4c4" stroke="#333" stroke-width="1"/>
<path d="M1669 2028.8V2028m-4 0h8M1669 2028.8V2029.6M1684 2027.5V2026.8m-4 0h8M1684 2027.5V2028.3M1711.3 1928.4V1927.1m-4 0h8M1711.3 1928.4V1929.7M1726.3 1931.5V1921.3m-4 0h8M1726.3 1931.5V1941.8M1753.6 1988V1987m-4 0h8M1753.6 1988V1989M1768.6 1989.3V1984.1m-4 0h8M1768.6 1989.3V1994.4M1795.9 2050.8V2049.7m-4 0h8M1795.9 2050.8V2051.8M1810.9 2050.8V2048.2m-4 0h8M1810.9 2050.8V2053.3" stroke="#222" stroke-width="1.3" fill="none"/>
<path d="M1655.2 1880.3V2069.6H1822.2" stroke="#000" stroke-width="2" fill="none"/>
<path d="M1655.2 2069.6H1651.2M1655.2 2006.8H1651.2M1655.2 1944.1H1651.2M1655.2 1881.3H1651.2M1676.5 2069.6V2073.6M1718.8 2069.6V2073.6M1761.1 2069.6V2073.6M1803.4 2069.6V2073.6" stroke="#000" stroke-width="1.8" fill="none"/>
<text x="1647.7" y="2078.1" font-size="23.5" text-anchor="end" fill="#000">0.0</text>
<text x="1647.7" y="2015.3" font-size="23.5" text-anchor="end" fill="#000">0.1</text>
<text x="1647.7" y="1952.6" font-size="23.5" text-anchor="end" fill="#000">0.2</text>
<text x="1647.7" y="1889.8" font-size="23.5" text-anchor="end" fill="#000">0.3</text>
<text x="1596" y="1975.4" font-size="21" text-anchor="middle" fill="#000" transform="rotate(-90 1596 1975.4)">Mutation frequency (%)</text>
<text x="1678.5" y="2081.6" font-size="19" text-anchor="end" fill="#000" transform="rotate(-45 1678.5 2081.6)">Neutral</text>
<text x="1720.8" y="2081.6" font-size="19" text-anchor="end" fill="#000" transform="rotate(-45 1720.8 2081.6)">WRCY/RGYW</text>
<text x="1763.1" y="2081.6" font-size="19" text-anchor="end" fill="#000" transform="rotate(-45 1763.1 2081.6)">WA/TW</text>
<text x="1805.4" y="2081.6" font-size="19" text-anchor="end" fill="#000" transform="rotate(-45 1805.4 2081.6)">SYC/GRS</text>
<path d="M1678.6 1870H1696" stroke="#000" stroke-width="2.2"/>
<text x="1686.3" y="1868.5" font-size="24.5" text-anchor="start" fill="#000" transform="rotate(-43 1686.3 1868.5)">0.317</text>
<path d="M1724.6 1870H1742" stroke="#000" stroke-width="2.2"/>
<text x="1732.3" y="1868.5" font-size="24.5" text-anchor="start" fill="#000" transform="rotate(-43 1732.3 1868.5)">0.898</text>
<path d="M1770.3 1870H1787.7" stroke="#000" stroke-width="2.2"/>
<text x="1778" y="1868.5" font-size="24.5" text-anchor="start" fill="#000" transform="rotate(-43 1778 1868.5)">0.924</text>
<path d="M1816.2 1870H1833.6" stroke="#000" stroke-width="2.2"/>
<text x="1823.9" y="1868.5" font-size="24.5" text-anchor="start" fill="#000" transform="rotate(-43 1823.9 1868.5)">0.965</text>
<text x="1752" y="1803" font-size="25" text-anchor="middle" fill="#1d8a1d" font-weight="bold">CD27<tspan font-size="16.5" dy="-10">+</tspan></text>
<circle cx="1159" cy="2198" r="6.3" fill="#8c8c8c" stroke="#333" stroke-width="1.2"/>
<circle cx="1292.3" cy="2198" r="6.3" fill="#f08080" stroke="#b03030" stroke-width="1.2"/>
<path d="M1427.3 2191.5l7 11.5h-14z" fill="#d8d8d8" stroke="#333" stroke-width="1.2"/>
<path d="M1539.2 2191.5l7 11.5h-14z" fill="#f7b5b5" stroke="#b03030" stroke-width="1.2"/>
<text x="1178" y="2206" font-size="22.5" text-anchor="start" fill="#000">HC-Ag</text>
<text x="1311.8" y="2206" font-size="22.5" text-anchor="start" fill="#000">pRD-Ag</text>
<text x="1446.2" y="2206" font-size="22.5" text-anchor="start" fill="#000">HC-N</text>
<text x="1558.7" y="2206" font-size="22.5" text-anchor="start" fill="#000">pRD-N</text>
<text x="-2.5" y="2347.7" font-size="49.5" text-anchor="start" fill="#000">d</text>
<text x="233" y="2426" font-size="24.5" text-anchor="middle" fill="#1f6fb4" font-weight="bold">CD38<tspan font-size="16" dy="-10">int</tspan></text>
<text x="458.5" y="2426" font-size="24.5" text-anchor="middle" fill="#b4141c" font-weight="bold">CD38<tspan font-size="18" dy="-10">&#8211;</tspan></text>
<text x="700" y="2426" font-size="24.5" text-anchor="middle" fill="#1d8a1d" font-weight="bold">CD27<tspan font-size="18" dy="-10">+</tspan></text>
<clipPath id="fc1"><rect x="155.5" y="2442.7" width="153" height="153"/></clipPath>
<g clip-path="url(#fc1)">
<path d="M197.5 2442.5l0.5 2.5 1 4.5 1 4.5 0 2 1 4.5 0.5 4.5 0.5 4.5 0 2.5 0.5 4 0.5 4.5 0 4.5 0.5 4.5 0 4 0 4.5 0 4.5 0 4.5 0 4.5 0 4.5 0 4.5 0 4 -0.5 4.5 0 4.5 0.5 4.5 1 2.5 2 2.5 2 2 2.5 2 2 2 2.5 4 1 3 0 4 -1 4.5 -1 2.5 -1.5 2 -2 2.5 -3 2 -3.5 2 -2.5 1.5 -2.5 1 -2.5 2 -2 2.5 -2 3 -2 3.5 -2 2.5 -2.5 1 -3 -1 -2 -2.5 -1.5 -2 -2 -4.5 -1 -2.5 -1.5 -3.5 -1.5 -3 -1 -3 -1 -3.5 -1 -4.5 -0.5 -2.5 0 -4 -0.5 -4.5 0 -4.5 0 -4.5 -0.5 -4.5 0 -4.5 -0.5 -4.5 0 -4.5 0 -4 0 -2.5 -0.5 -4.5 0 -4.5 0 -4 0 -4.5 0.5 -4.5 0 -2.5 0 -4 0 -4.5 0.5 -4.5 0 -4.5 0.5 -4.5 0.5 -4.5 0.5 -3 0.5 -3.5 0.5 -4.5 0.5 -4.5 0.5 -2.5 1 -4M194.5 2442.5l1 4 0.5 3 1 4.5 0.5 2.5 1 4 0.5 4.5 0.5 4.5 0.5 2.5 0.5 4 0 4.5 0.5 4.5 0.5 4.5 0 4 0 4.5 0 4.5 0 4.5 0 4.5 0 4.5 0 4.5 0 4 -0.5 4.5 0 4.5 0 4.5 1 4 2.5 2.5 2 2 2 2 2.5 2.5 1.5 2.5 1 2.5 0 4 -0.5 2.5 -2 4.5 -1.5 2 -3 2.5 -2 1 -2.5 1.5 -4 1.5 -2.5 2 -2.5 1.5 -2 2 -2.5 1.5 -4 0 -2.5 -1.5 -2 -3 -1.5 -2.5 -1 -2 -2 -4.5 -1 -2 -1 -4.5 -0.5 -2.5 -0.5 -4 0 -4.5 0 -4.5 -0.5 -4.5 0 -4.5 -0.5 -4.5 -0.5 -4.5 0 -4.5 0 -2 -0.5 -4.5 0 -4.5 0 -4.5 0 -4 0 -4.5 0 -4.5 0.5 -4.5 0 -2 0 -4.5 0.5 -4.5 0.5 -4.5 0.5 -4.5 0.5 -4.5 0 -2 1 -4.5 0.5 -4.5 1 -4 0.5 -2.5 1 -4.5 1 -2.5M190.5 2442.5l1.5 2.5 1 3.5 1 3 1.5 4.5 0.5 2 0.5 4.5 1 4.5 0 2.5 1 4 0.5 4.5 0 4.5 0.5 4.5 0 4.5 0.5 4.5 0 2 0 4.5 0 4.5 0 4.5 0 4.5 0 2 -0.5 4.5 0 4.5 -0.5 4.5 0 4.5 0 4.5 1 2 2 3 2.5 1.5 2 2 2 2.5 2.5 4.5 0.5 2 -0.5 4 -1 2.5 -1.5 2.5 -2.5 2 -3.5 2.5 -2.5 1 -2.5 1 -4.5 2 -2 1 -4.5 1 -4 -2 -2 -2 -1.5 -2 -1.5 -2.5 -1.5 -4.5 -0.5 -2 -1 -4.5 0 -4.5 0 -4.5 -0.5 -4.5 0 -4 -0.5 -4.5 -0.5 -3 0 -4 -0.5 -4.5 0 -4 -0.5 -4.5 0 -4.5 0 -4.5 0 -4.5 0 -4.5 0.5 -4.5 0 -4 0.5 -4.5 0 -4 0.5 -3 0.5 -4.5 0.5 -4 0.5 -4.5 0.5 -2.5 1 -4.5 1 -4 0.5 -2.5 1.5 -4.5 1 -2M191 2574l-4.5 0 -2 -0.5 -2.5 -2 -2 -3 -2 -4 -1 -2 -0.5 -4.5 -0.5 -4.5 0 -4.5 0 -4.5 -0.5 -4 -0.5 -2.5 -0.5 -4.5 0 -4.5 -0.5 -4.5 0 -4 -0.5 -4.5 0 -4.5 0 -4.5 0 -4.5 0 -4.5 0.5 -4.5 0 -4 0.5 -4.5 0 -4.5 0.5 -4.5 0.5 -2.5 0.5 -4 1 -4.5 0.5 -3.5 1 -3.5 1.5 -4 0.5 -2.5 1.5 -3 2.5 -2.5 4.5 1 1.5 2.5 1 2 1.5 4.5 1 2 1 4.5 0.5 3.5 0.5 3.5 0.5 4 0.5 4.5 0.5 4.5 0.5 2.5 0 4.5 0.5 4 0 4.5 0 4.5 0.5 4.5 -0.5 4.5 0 4.5 0 4.5 -0.5 4 0 4.5 -0.5 2.5 0 4.5 0 4.5 0.5 2 2 3 2 2 2.5 2 2 2.5 2 4 0.5 2 -0.5 4 -1 2.5 -2 2.5 -2.5 2 -3 1.5 -2.5 1 -4.5 1.5 -2 1M191 2571.5l-4.5 0 -2 -1 -2.5 -2 -2 -3.5 -1 -2.5 -1 -4.5 -0.5 -4.5 0 -4.5 0 -2 -0.5 -4.5 -0.5 -4.5 -0.5 -4.5 -0.5 -4.5 0 -3.5 -0.5 -3 0 -4.5 0 -4.5 -0.5 -4.5 0 -4 0.5 -4.5 0 -4.5 0 -4.5 0.5 -3 0 -3.5 0.5 -4.5 0.5 -4.5 1 -4.5 0.5 -2 1 -4.5 1 -4.5 1 -2.5 1 -3 2.5 -2.5 4.5 0.5 1.5 3 1 2 1.5 4.5 0.5 2.5 1 4.5 0.5 4 0.5 2.5 0.5 4.5 0.5 4.5 0.5 4.5 0 4 0.5 4.5 0 4.5 0 4.5 0 4.5 0 4.5 -0.5 4.5 0 4 -0.5 4.5 -0.5 4.5 0 4.5 0 4.5 1.5 3 2.5 2.5 2 2 2.5 2 2 3.5 0.5 2.5 -0.5 4.5 -1.5 2 -2 2.5 -3 2 -2.5 1 -4.5 1 -2 0.5M193 2569.5l-4 0 -2.5 -0.5 -3 -2 -2 -2.5 -1.5 -4.5 -0.5 -2 0 -4.5 0 -4.5 -0.5 -4.5 -0.5 -4 -0.5 -4.5 -0.5 -2.5 -0.5 -4.5 -0.5 -4.5 0 -4 -0.5 -4.5 0 -4.5 0 -4.5 0 -4.5 0 -4.5 0.5 -4.5 0 -4 0.5 -4.5 0.5 -4.5 0.5 -2.5 0.5 -4.5 1 -4 0.5 -2.5 1.5 -4.5 1.5 -2 1.5 -2.5 3 0 2 2.5 1.5 3 1 3.5 1 4.5 0.5 2 1 4.5 0.5 4.5 0.5 4.5 0 2.5 0.5 4 0 4.5 0.5 4.5 0 4.5 -0.5 4.5 0 4.5 0 4.5 -0.5 4 0 2.5 -0.5 4.5 -0.5 4.5 -0.5 4.5 1 4 1.5 2.5 2 2 2.5 2.5 2 2 1.5 2.5 0.5 4 -0.5 2.5 -2.5 3 -2 1.5 -4.5 2 -2.5 0.5M195.5 2567l-4.5 1 -4.5 -1 -2 -2 -2 -2.5 -1 -2.5 -0.5 -4 0 -4.5 0 -4.5 -0.5 -4.5 -0.5 -3.5 -0.5 -3 -1 -4.5 -0.5 -4.5 -0.5 -4.5 0 -2 0 -4.5 -0.5 -4.5 0 -4.5 0 -4.5 0.5 -4.5 0 -4.5 0 -2 0.5 -4.5 0.5 -4.5 1 -4.5 0.5 -2.5 1 -4 1 -3.5 2 -3 2.5 -2 2.5 2 1.5 4.5 1 2 1 4.5 0.5 4 0.5 2.5 0.5 4.5 0.5 4.5 0.5 4.5 0 4.5 0 4.5 0 4 0 4.5 0 4.5 -0.5 4.5 -0.5 4.5 -0.5 4.5 -0.5 2.5 -0.5 4 0 4.5 0.5 3 2.5 3 2 2 2.5 2 2 3 1 2.5 -1 4.5 -2 2 -2.5 1.5 -2 1M195.5 2565l-4.5 1 -4 -1.5 -2.5 -2 -1 -2.5 -0.5 -4 0 -4.5 0.5 -4.5 -0.5 -4.5 -1 -2 -1 -4.5 -1 -4.5 0 -2.5 -1 -4.5 0 -4 -0.5 -4.5 0 -4.5 0 -4.5 0 -4.5 0 -4.5 0.5 -4.5 0 -4 1 -4.5 0 -2.5 1 -4.5 1 -3.5 1.5 -3 2.5 -2 1 0 2 2 1.5 4.5 0.5 2 1 4.5 0.5 4.5 0.5 4.5 0.5 2 0 4.5 0.5 4.5 0 4.5 0 4.5 -0.5 4.5 0 4.5 -0.5 2 -0.5 4.5 -0.5 4.5 -1 4.5 0 2 -1 4.5 1 3.5 2 3 2.5 2.5 2 1.5 2.5 2.5 1 2.5 -1 3.5 -2.5 2.5 -2 1M186.5 2539.5l-2 -1.5 -2 -4.5 -0.5 -2 -1 -4.5 -0.5 -4.5 -0.5 -4.5 0 -2 -0.5 -4.5 0 -4.5 0 -4.5 0.5 -4.5 0 -2 0.5 -4.5 0.5 -4.5 1 -4.5 0.5 -2 2 -4 2 -1.5 2.5 3 0.5 2.5 1.5 4.5 0 2 1 4.5 0 4.5 0.5 4.5 0 4.5 0 4 0 4.5 -0.5 4.5 0 4.5 -1 4.5 -0.5 2 -1 4.5 -0.5 3 -2.5 3M195.5 2562.5l-4.5 1 -3 -1 -2 -2.5 -1 -4 1 -4.5 3 -2 2.5 2 3.5 2 2 2.5 1 2 -0.5 2.5 -2 2M186.5 2532l-2 -1.5 -1.5 -3.5 -1 -4.5 0 -2 -0.5 -4.5 -0.5 -4.5 0 -4.5 0 -4.5 0.5 -4.5 0.5 -4.5 0 -2 1 -4.5 1.5 -3.5 2 -1.5 2 3 0.5 2 1 4.5 0.5 4.5 0.5 3.5 0 3 0 4.5 0 4.5 0 3 -0.5 3.5 -0.5 4.5 -1 4.5 -0.5 2 -2 3M193 2559l-4 -1 2 -2.5 2 2 0 1.5M186.5 2524l-2 -2.5 -1 -3.5 -0.5 -4.5 -0.5 -4.5 0 -4 0.5 -4.5 0.5 -4.5 1 -4 2 -2 1.5 3.5 1 2.5 0 4.5 0.5 4.5 0 4 -0.5 4.5 0 4.5 -1 2.5 -1.5 3.5" stroke="#2a2a2a" stroke-width="0.9" fill="none" stroke-linejoin="round"/>
<ellipse cx="199.9" cy="2511.5" rx="13" ry="36.7" transform="rotate(0 199.9 2511.5)" fill="#e4383c" opacity="0.8"/>
<ellipse cx="222.8" cy="2494.7" rx="10.7" ry="18.4" transform="rotate(0 222.8 2494.7)" fill="#e4383c" opacity="0.4"/>
<path d="M216.5 2442.5l2 2.5 1.5 2 2.5 2.5 3.5 2 2.5 1 4.5 0.5 4.5 0.5 3 0.5 3.5 0.5 4.5 1 2.5 0.5 4 2 2.5 1.5 2 2 2.5 2 2 2.5 2.5 3.5 1 2 1 3.5 1 3 0.5 4.5 0 4.5 0 4.5 0.5 4.5 0 4.5 -0.5 4.5 -1.5 3.5 -1.5 3 -1.5 2 -2 2.5 -3 2 -2.5 2.5 -2.5 2 -2 2 -1 2.5 -1 4.5 -0.5 4.5 -0.5 2 -0.5 4.5 -1.5 3.5 -1 3 -1.5 2.5 -2 3.5 -2 3 -1.5 2 -2 2.5 -2 2 -2 2.5 -2.5 2 -2.5 2.5 -2.5 2 -3 2 -2 2 -2 2 -2.5 2 -2 2 -2.5 2 -2 1.5 -3.5 2 -3 1.5 -4.5 0.5 -4.5 -0.5 -3 -1.5 -3 -2 -2.5 -2.5 -2 -2 -1.5 -2.5 -1.5 -2 -2 -3.5 -1.5 -3 -1 -2.5 -1.5 -4.5 -0.5 -2 -1.5 -4.5 -0.5 -4.5 -0.5 -2 -0.5 -4.5 -0.5 -4.5 -0.5 -4.5 -0.5 -4.5 0 -2 -0.5 -4.5 -0.5 -4.5 -0.5 -4.5 0 -4.5 0 -4.5 0 -4 0 -4.5 0.5 -4.5 0 -4.5 0.5 -4.5 0.5 -2 0.5 -4.5 1 -4.5 0.5 -4 1 -2.5 1 -4.5 0.5 -2.5 1.5 -4.5 0.5 -2 2 -4.5 1 -2 1.5 -4 1.5 -3M209 2442.5l2.5 2.5 2 2 2 2.5 2 2.5 2.5 2 2.5 2 4 1.5 4.5 0.5 2.5 0 4 0.5 4.5 0.5 4.5 1.5 2 1 3 1 3 2.5 2.5 2 2 2.5 1.5 2 1.5 3 1 3.5 1 4.5 0 2.5 0.5 4.5 0.5 4 0.5 4.5 0 4.5 -1.5 4.5 -1 2 -1.5 2.5 -2.5 2 -3 2.5 -3 1.5 -2 1.5 -2.5 1.5 -2 4 -0.5 2.5 0 4.5 0 4.5 -0.5 4.5 -1.5 4 -0.5 2.5 -1.5 3 -2 3.5 -1.5 2.5 -1.5 2 -2 2 -2 2.5 -2.5 2 -2.5 2.5 -2.5 2 -2.5 2.5 -3 2 -2.5 2 -2 2 -2.5 1.5 -2 1.5 -4 2 -2.5 1 -4.5 0.5 -4.5 -1 -2.5 -1 -2.5 -2 -2.5 -2 -1.5 -2.5 -2 -2.5 -2.5 -4 -1 -2 -1 -3.5 -1.5 -3.5 -1 -4 -0.5 -2.5 -0.5 -4.5 -1 -4.5 0 -2 -0.5 -4.5 -0.5 -4.5 -0.5 -4.5 -0.5 -4.5 -0.5 -4 0 -2.5 0 -4.5 -0.5 -4.5 0 -4 0.5 -4.5 0 -4.5 0.5 -2.5 0 -4 1 -4.5 0.5 -4.5 0.5 -2.5 1 -4.5 1 -4 1 -2.5 1 -4.5 1 -2 1.5 -4 1.5 -2.5 1 -2.5 2 -3.5 2.5 -3 2 -2.5M206.5 2578.5l-4.5 1 -4.5 0 -3 -1.5 -3.5 -2.5 -2 -2 -2 -2 -1.5 -2.5 -1 -2 -2 -4.5 -1 -2.5 -1.5 -4 -0.5 -2.5 -1 -4.5 -0.5 -4.5 -0.5 -2 -0.5 -4.5 -0.5 -4.5 -0.5 -4.5 -0.5 -4.5 0 -2 -0.5 -4.5 0 -4.5 0 -4.5 0 -4 0 -4.5 0.5 -4.5 0 -2.5 0.5 -4 0.5 -4.5 1 -4.5 0.5 -2.5 1 -4.5 1 -3 1 -3.5 1 -3 1.5 -3.5 1 -2.5 2 -3.5 2 -3 1.5 -2 2.5 -2.5 3 -2 2 -0.5 4.5 0 2.5 0.5 3 2 2.5 2.5 2.5 2 2 2.5 2.5 2 2.5 2 2.5 1.5 2.5 1 4 0.5 4.5 0.5 4.5 0.5 3.5 0.5 3 1 3.5 1.5 3.5 2 2 1.5 2.5 2.5 1.5 2.5 1 2.5 1.5 4.5 0.5 2 0.5 4.5 1 4.5 0.5 4.5 0 2 0 4.5 -0.5 2.5 -2 3.5 -2 2.5 -2 1.5 -2.5 1.5 -4 2 -2.5 1 -2.5 1.5 -2 2.5 -0.5 3.5 0.5 4 0.5 3 0 4.5 -0.5 4.5 -0.5 2 -1.5 4.5 -1 2 -1.5 3 -2 3 -2.5 3 -2 2 -2 2.5 -2.5 2 -2.5 2 -2 2 -2 2 -2.5 1.5 -2 1.5 -3.5 2 -3.5 2 -2 1M204.5 2576l-4.5 0.5 -3 -1 -4 -1.5 -2 -2 -2 -2.5 -2 -2.5 -1.5 -2.5 -1 -2.5 -1.5 -4 -1 -2.5 -1 -4 -1 -4.5 0 -2.5 -1 -4 -0.5 -4.5 -0.5 -4.5 -0.5 -2.5 -0.5 -4.5 0 -4 -0.5 -4.5 0 -4.5 0 -4.5 0 -4.5 0 -4.5 0.5 -4.5 0.5 -4 0.5 -2.5 0.5 -4.5 1 -4.5 0.5 -2 1.5 -4.5 1 -2 1.5 -4.5 1 -2.5 1.5 -3 2 -3.5 2 -2 2 -2.5 3 -2 2 -1 4.5 0 2.5 1 3.5 2 2.5 2.5 2.5 2 2.5 2 2 2 2.5 1.5 2.5 1 4 1 4.5 0.5 4.5 0.5 2.5 0.5 4 1 3 1 3.5 2 2.5 2 2 2.5 1.5 2.5 1 2 1.5 4.5 0.5 4 0.5 3 0.5 4 1 4.5 -0.5 4.5 -1.5 4 -2 2.5 -2.5 1.5 -2 1.5 -4.5 1.5 -2.5 0.5 -4 2 -2.5 2 -0.5 2.5 0.5 3.5 1 3 1 4.5 0.5 4.5 0 0 -0.5 4.5 -1 4 -1 2.5 -2 4 -1.5 2.5 -2 2.5 -2 2 -2 2 -2 2.5 -2.5 2 -3 2.5 -3 2 -2 1.5 -2.5 1.5 -2 1.5 -4.5 2 -2 0.5M208.5 2571.5l-4 1.5 -4.5 0 -4.5 -1.5 -2.5 -1.5 -2 -2 -2 -3 -2 -2.5 -1 -2.5 -1.5 -4 -1 -2.5 -1 -4.5 -0.5 -2.5 -0.5 -4 -1 -4.5 -0.5 -4.5 -0.5 -2 -0.5 -4.5 -0.5 -4.5 0 -4.5 -0.5 -4.5 0 -4.5 0 -4 0.5 -4.5 0 -4.5 0.5 -4.5 1 -4.5 0 -2 1 -4.5 1 -4 1 -3 1.5 -3.5 1 -3 1 -2 2.5 -4 1.5 -3 2 -2 3 -2 2 -1 4.5 -0.5 3 1.5 3.5 2 2.5 2 2 2 2.5 2 2 1.5 2.5 1.5 4 1 4.5 1 3 0 4 0.5 4.5 1 2 1 4 2 2.5 2 2 2.5 1 2 1.5 4.5 0.5 2.5 1 4.5 0.5 4 0.5 2.5 0 4.5 -0.5 2 -2 3.5 -2 2 -3 1 -4 1.5 -4 1 -2.5 0.5 -3.5 1.5 -2 2.5 -0.5 4.5 1.5 3.5 1.5 3 1 2.5 1 4 0 4.5 -0.5 4.5 -0.5 2.5 -2 4 -1.5 2.5 -1.5 2 -2 2.5 -2 2.5 -2.5 2 -2 2 -2.5 2 -3 2.5 -3.5 2 -2 1.5 -2.5 1M206.5 2569.5l-4.5 1 -4.5 -1 -2 -1 -2.5 -2 -2 -2 -2 -3.5 -1.5 -3 -1 -2 -1.5 -4.5 -0.5 -2.5 -1 -4.5 -1 -4 -0.5 -3 -0.5 -4 -0.5 -4.5 -0.5 -4.5 -0.5 -4 0 -2.5 -0.5 -4.5 0 -4.5 0 -4 0 -4.5 0.5 -2.5 0.5 -4.5 0.5 -4 0.5 -4.5 0.5 -2.5 1.5 -4.5 1 -3 1 -3.5 1 -2 2.5 -4.5 1.5 -2.5 1.5 -2 2.5 -2.5 3 -1.5 4.5 0 4.5 1.5 2 1.5 2.5 2 2 1.5 2.5 2 3.5 2 3 1 4.5 1 2 0.5 4.5 0.5 4.5 1 2.5 0.5 3.5 2 2.5 2.5 2 2 1 2.5 1.5 4.5 0.5 2 0.5 4.5 0.5 4.5 0 4.5 -1 2 -2.5 2.5 -4.5 2 -2 0.5 -4.5 0.5 -3.5 1 -3 2 -2.5 2.5 -1 2.5 0.5 4.5 0.5 2.5 2.5 4 1 2 1 3 1 4 0 4.5 -1 3.5 -1 3 -1 2 -2.5 3.5 -2 3 -2.5 2.5 -2 2 -2 2 -2.5 1.5 -2 1.5 -3 2 -4 2 -2 0.5M206.5 2567l-4.5 0.5 -3 -0.5 -3.5 -2 -2.5 -2 -2 -3 -1.5 -2 -1 -2 -1.5 -4.5 -0.5 -2.5 -1.5 -4.5 -0.5 -4 -0.5 -2.5 -1 -4.5 -0.5 -4.5 -0.5 -3.5 0 -3 -0.5 -4.5 -0.5 -4.5 0 -4.5 0 -4 0 -4.5 0.5 -4.5 0.5 -4 0.5 -2.5 1 -4.5 1 -4 0.5 -3 1.5 -3.5 1.5 -3 1 -2 2 -3.5 2 -2.5 2.5 -2 2 -1 4.5 -0.5 2.5 0.5 3.5 2 3 2.5 2 1.5 2.5 1.5 2 1.5 4.5 1.5 2 0.5 4.5 1 4.5 0.5 3 0.5 4 2 2 1.5 2 2.5 2 3 0.5 2.5 1 4.5 0 4 -0.5 4.5 -1.5 2.5 -3 2 -2.5 1 -4.5 1.5 -2.5 0.5 -3 1.5 -2.5 2 -2 2.5 -1.5 4 0 2.5 0.5 2.5 1.5 4 1 2.5 1.5 3 2 3.5 0.5 3 0 4 -0.5 2 -1.5 4.5 -1 2 -1.5 2.5 -2.5 3 -2 2.5 -2 2 -2.5 2 -2 1.5 -4 2 -3 1.5 -2 1M204.5 2565l-3 -0.5 -4 -1 -2 -1.5 -2.5 -2.5 -2 -3.5 -1.5 -2.5 -0.5 -2.5 -1.5 -4 -1 -3.5 -0.5 -3 -1 -4.5 -0.5 -4.5 -0.5 -2.5 -0.5 -4.5 -0.5 -4 -0.5 -4.5 0 -4.5 0 -4.5 0 -4.5 0 -4.5 0.5 -4.5 1 -4 0.5 -2.5 1 -4.5 1 -3 1.5 -3.5 1 -2.5 2 -3.5 2 -3 2.5 -2 2 -1.5 4.5 -0.5 4.5 2 2 1 2.5 1.5 2 2 3.5 2 3.5 1.5 2 1 4.5 1 4.5 0.5 2 0.5 4.5 2 2.5 2 1.5 2.5 1 2.5 1 4.5 -0.5 4 -1 2.5 -2 2.5 -3.5 2 -3.5 1.5 -2 1 -3 2 -2.5 2 -1.5 2 -2 4.5 -0.5 2.5 0.5 4.5 0.5 2 1.5 4.5 1.5 2 1 2.5 1.5 4.5 0.5 4.5 -1 4 -1 2.5 -2.5 4 -2 2.5 -2 2.5 -2.5 2 -2 2 -2.5 1.5 -2 1 -4.5 2 -2 0.5M208.5 2561l-4 1 -4.5 -0.5 -2.5 -1.5 -2.5 -2 -2 -2.5 -2 -4 -1 -2.5 -1 -4 -1 -2.5 -1 -4.5 -0.5 -3 -0.5 -3.5 -1 -4.5 -0.5 -4.5 0 -4 -0.5 -2.5 0 -4.5 0 -4.5 0 -4.5 0 -4.5 0.5 -2 0.5 -4.5 1 -4.5 0.5 -2 1.5 -4.5 1 -2.5 2 -4 1.5 -2.5 2 -2 3 -2.5 2.5 -0.5 4.5 0.5 2 1 2 1.5 3.5 2 3 2 2.5 1.5 2.5 1.5 4 1.5 2.5 0.5 4.5 1 2 1 3 2 1.5 3 0.5 4 -0.5 2.5 -2 3 -2.5 2 -2 1.5 -3 2 -2.5 2 -2 2.5 -1.5 2 -1.5 4.5 -1 2 0 4.5 0 4.5 1 2 1.5 4.5 1 2.5 1 2.5 1 4 0 4.5 -1 3 -1.5 3.5 -1.5 2.5 -2 2 -2.5 2.5 -2.5 2 -3 2 -2.5 1M208.5 2558.5l-4 1 -4.5 -1 -2.5 -1.5 -2 -2 -2.5 -3.5 -1 -2.5 -1 -3 -1 -3.5 -1 -4.5 -0.5 -2 -1 -4.5 -1 -4.5 0 -2.5 -0.5 -4 -0.5 -4.5 -0.5 -4.5 0 -4.5 0 -4.5 0.5 -4.5 0.5 -4.5 0.5 -2 1 -4.5 1.5 -4 1 -2.5 1 -2.5 2 -3.5 2.5 -2.5 2 -1.5 4.5 -1 4.5 1.5 2 1 2.5 1.5 3 2.5 3.5 2 2.5 1.5 2 1 4.5 2 2 1.5 2.5 2 0.5 3.5 -0.5 2 -2.5 3 -2 2.5 -2.5 2.5 -2 3 -1.5 2.5 -1 2 -1 4.5 -1 3.5 0 3 0 4.5 0.5 2 1.5 4.5 1 2.5 1.5 4.5 0.5 2 -0.5 4.5 -0.5 2 -1.5 4 -2 3 -2 2 -3 2 -2 1.5 -2.5 1.5M206.5 2556l-4.5 0 -2 -1 -2.5 -1.5 -2 -3 -2 -3.5 -1 -2.5 -1.5 -4 -0.5 -2.5 -1 -4.5 -0.5 -4 -0.5 -2.5 -1 -4.5 -0.5 -4.5 0 -4.5 -0.5 -4.5 0 -4 0.5 -4.5 0.5 -4.5 0.5 -4.5 1 -2.5 1 -4 1 -2.5 2 -4 2 -2.5 2.5 -2 2.5 -1 4.5 0 2 1 3 2 3 2 3 2.5 2 1.5 2.5 2 2 2.5 1.5 3 -0.5 4 -1 2.5 -2 4.5 -1 2 -1.5 4 -0.5 2.5 -1 4.5 -0.5 4.5 0 2.5 0 2 0.5 4.5 1.5 4.5 0.5 2 1 4.5 0 4.5 -1.5 4 -1.5 2.5 -2 2.5 -2.5 2 -3 1.5 -2 1M208.5 2552l-4 1 -4.5 -1.5 -2.5 -2 -1.5 -2.5 -1 -2.5 -2 -4 -0.5 -2.5 -1 -4.5 -0.5 -2 -1 -4.5 -1 -4.5 0 -3 -0.5 -3.5 -0.5 -4.5 0 -4.5 0 -4.5 0.5 -4.5 0.5 -2 0.5 -4.5 1.5 -4.5 1 -2 1 -3 2.5 -3 2 -2 2.5 -1 3.5 0 3 1 2 1.5 3 2 2.5 2 2 2.5 1.5 2.5 1.5 4 -0.5 4.5 -1 3.5 -1 3 -1 4.5 -0.5 2 -1 4.5 -0.5 4.5 0 4.5 0.5 4.5 1 4.5 0.5 2.5 0.5 4 0 4.5 -1 2 -2 3.5 -2 2.5 -2.5 1.5M208.5 2547.5l-4 1.5 -4.5 -2 -2 -2.5 -1 -2 -1.5 -3 -1.5 -3.5 -1 -3.5 -0.5 -3.5 -1 -4.5 -0.5 -2 -1 -4.5 0 -4.5 -0.5 -4.5 0 -4 0.5 -4.5 0.5 -4.5 0.5 -2.5 1 -4 1 -2.5 2.5 -4 2 -2.5 2.5 -1 4.5 0 2 1 3 2 2.5 2.5 1.5 2 1.5 4.5 0.5 2 0 3 -0.5 4 -1 4.5 -1 3 -0.5 3.5 -0.5 4.5 -0.5 4.5 0 4 0 4.5 1 4.5 0 4.5 -0.5 4.5 -1 2.5 -2.5 2.5M206.5 2542.5l-4.5 0.5 -2 -2 -2 -3 -1 -2 -1.5 -4 -1 -3 -1 -4.5 -0.5 -2 -1 -4.5 -0.5 -4.5 -0.5 -4.5 0 -4 0.5 -4.5 0.5 -4.5 1 -4 1.5 -2.5 1 -2.5 2 -2.5 3.5 -2 2.5 0 3 1.5 2 2 2.5 3 1 2.5 1 4.5 -0.5 4.5 -0.5 4.5 -1 4 -0.5 2.5 -0.5 4.5 -0.5 4.5 -0.5 4 0 4.5 0 4.5 0 4.5 -1 2.5 -1.5 2M204.5 2534l-4 -0.5 -2 -2 -1 -2.5 -2 -4.5 -0.5 -2 -1 -4.5 -1 -4.5 0 -2 0 -4.5 0 -4.5 0 -2 1 -4.5 1.5 -4 1.5 -2.5 2 -2.5 3 -1 3.5 1 2 2.5 1.5 2 1 4.5 0.5 4.5 -0.5 4.5 -1 4 -0.5 2.5 -0.5 4.5 -1 4.5 -0.5 4 -0.5 2.5 -1 4.5 -0.5 2.5M202 2522l-3.5 -1.5 -1 -2.5 -1.5 -4.5 -0.5 -4 0 -2.5 0 -3.5 0.5 -3 1 -4.5 1.5 -2.5 3 -2 1 0 3 2 1 2.5 0.5 4.5 0 4.5 -0.5 3 -0.5 3.5 -1.5 4.5 -0.5 2 -2 4" stroke="#e23c40" stroke-width="1.0" fill="none" stroke-linejoin="round"/>
</g>
<path d="M225.3 2492.1h0.1M256.2 2549h0.1M235.6 2492.1h0.1M243.1 2556.3h0.1M236.3 2554.6h0.1M278 2494.5h0.1M267.8 2525.5h0.1M257.8 2580h0.1M231.9 2483h0.1M300.6 2521h0.1M240.4 2513.8h0.1M253.9 2575.9h0.1M241.4 2502.5h0.1M271.8 2535.4h0.1M301.7 2564.4h0.1M253.2 2501.2h0.1M292.2 2579.3h0.1M226.8 2554.1h0.1M294.8 2545.7h0.1M242.1 2560.2h0.1M283.5 2500.2h0.1M276.3 2502.7h0.1M227.7 2514.4h0.1M251.5 2520.3h0.1M276.8 2564.1h0.1M302.3 2578.1h0.1M304.9 2559.5h0.1M249.2 2498.5h0.1M274.9 2535.2h0.1M279 2490.3h0.1M240 2572.5h0.1M273.1 2550.1h0.1M232.1 2520.6h0.1M298.1 2545.5h0.1M304.8 2500.5h0.1M261.2 2560.6h0.1M260.4 2559.4h0.1M269.9 2492.7h0.1M232.4 2578.7h0.1M234 2500.3h0.1M251.5 2551.9h0.1M293.6 2528.3h0.1M264.7 2559.4h0.1M246.9 2518h0.1M274 2544.2h0.1M227.4 2492.1h0.1M235.5 2553.1h0.1M280.5 2577.7h0.1M286.6 2506.3h0.1M286.4 2578.9h0.1M252.6 2482.1h0.1M254.8 2509h0.1M238.6 2485.4h0.1M234.5 2567h0.1M228.4 2542h0.1M241.1 2500.2h0.1M290.9 2510.7h0.1M239.3 2526.2h0.1M280.7 2533.1h0.1M294.1 2520.9h0.1" stroke="#e58a8a" stroke-width="1.2" stroke-linecap="round" fill="none"/>
<rect x="155.5" y="2442.7" width="153" height="153" fill="none" stroke="#555" stroke-width="1.2"/>
<rect x="165.8" y="2447.5" width="46.2" height="75.8" fill="none" stroke="#222" stroke-width="1.4"/>
<rect x="212" y="2448.2" width="49.6" height="75.1" fill="none" stroke="#222" stroke-width="1.4"/>
<rect x="165.8" y="2523.3" width="60.7" height="72.4" fill="none" stroke="#222" stroke-width="1.4"/>
<rect x="226.5" y="2523.3" width="81.3" height="72.4" fill="none" stroke="#222" stroke-width="1.4"/>
<path d="M155.5 2450.7H151.5M163.5 2601.7V2605.7M155.5 2454.2H153.5M167.1 2601.7V2603.7M155.5 2457.8H153.5M170.7 2601.7V2603.7M155.5 2461.3H153.5M174.2 2601.7V2603.7M155.5 2464.8H153.5M177.8 2601.7V2603.7M155.5 2468.3H153.5M181.4 2601.7V2603.7M155.5 2471.8H153.5M184.9 2601.7V2603.7M155.5 2475.4H153.5M188.5 2601.7V2603.7M155.5 2478.9H153.5M192.1 2601.7V2603.7M155.5 2482.4H151.5M195.7 2601.7V2605.7M155.5 2485.9H153.5M199.2 2601.7V2603.7M155.5 2489.5H153.5M202.8 2601.7V2603.7M155.5 2493H153.5M206.4 2601.7V2603.7M155.5 2496.5H153.5M210 2601.7V2603.7M155.5 2500H153.5M213.6 2601.7V2603.7M155.5 2503.6H153.5M217.1 2601.7V2603.7M155.5 2507.1H153.5M220.7 2601.7V2603.7M155.5 2510.6H153.5M224.3 2601.7V2603.7M155.5 2514.1H151.5M227.8 2601.7V2605.7M155.5 2517.7H153.5M231.4 2601.7V2603.7M155.5 2521.2H153.5M235 2601.7V2603.7M155.5 2524.7H153.5M238.6 2601.7V2603.7M155.5 2528.2H153.5M242.2 2601.7V2603.7M155.5 2531.8H153.5M245.7 2601.7V2603.7M155.5 2535.3H153.5M249.3 2601.7V2603.7M155.5 2538.8H153.5M252.9 2601.7V2603.7M155.5 2542.3H153.5M256.4 2601.7V2603.7M155.5 2545.9H151.5M260 2601.7V2605.7M155.5 2549.4H153.5M263.6 2601.7V2603.7M155.5 2552.9H153.5M267.2 2601.7V2603.7M155.5 2556.4H153.5M270.8 2601.7V2603.7M155.5 2560H153.5M274.3 2601.7V2603.7M155.5 2563.5H153.5M277.9 2601.7V2603.7M155.5 2567H153.5M281.5 2601.7V2603.7M155.5 2570.5H153.5M285.1 2601.7V2603.7M155.5 2574.1H153.5M288.6 2601.7V2603.7M155.5 2577.6H151.5M292.2 2601.7V2605.7M155.5 2581.1H153.5M295.8 2601.7V2603.7M155.5 2584.6H153.5M299.4 2601.7V2603.7M155.5 2588.2H153.5M302.9 2601.7V2603.7" stroke="#444" stroke-width="0.9" fill="none"/>
<path d="M158.5 2601.7H308.5" stroke="#333" stroke-width="1.3"/>
<text x="166.8" y="2464.2" font-size="17.5" text-anchor="start" fill="#000">84.4%</text>
<text x="166.8" y="2478.7" font-size="17.5" text-anchor="start" fill="#e0282e">67.6%</text>
<text x="220" y="2464.2" font-size="17.5" text-anchor="start" fill="#000">0.18%</text>
<text x="220" y="2478.7" font-size="17.5" text-anchor="start" fill="#e0282e">10.2%</text>
<text x="166.8" y="2576.4" font-size="17.5" text-anchor="start" fill="#000">14.5%</text>
<text x="166.8" y="2591.7" font-size="17.5" text-anchor="start" fill="#e0282e">18.8%</text>
<text x="304.5" y="2576.4" font-size="17.5" text-anchor="end" fill="#000">1.01%</text>
<text x="304.5" y="2591.7" font-size="17.5" text-anchor="end" fill="#e0282e">3.48%</text>
<text font-size="18" text-anchor="end" fill="#000" transform="translate(148 2481.2) rotate(0) scale(0.82 1)">10<tspan font-size="13" dy="-8.5">5</tspan></text>
<text font-size="18" text-anchor="end" fill="#000" transform="translate(148 2513.2) rotate(0) scale(0.82 1)">10<tspan font-size="13" dy="-8.5">4</tspan></text>
<text font-size="18" text-anchor="end" fill="#000" transform="translate(148 2551.2) rotate(0) scale(0.82 1)">10<tspan font-size="13" dy="-8.5">3</tspan></text>
<text font-size="18" text-anchor="end" fill="#000" transform="translate(148 2588.2) rotate(0) scale(0.82 1)">-10<tspan font-size="13" dy="-8.5">3</tspan></text>
<text font-size="18" text-anchor="end" fill="#000" transform="translate(142.5 2568.7) rotate(0) scale(0.82 1)">0</text>
<text font-size="18" text-anchor="start" fill="#000" transform="translate(158.2 2622.2) rotate(0) scale(0.82 1)">-10<tspan font-size="13" dy="-8.5">3</tspan></text>
<text font-size="18" text-anchor="start" fill="#000" transform="translate(187.2 2622.2) rotate(0) scale(0.82 1)">0</text>
<text font-size="18" text-anchor="start" fill="#000" transform="translate(212 2622.2) rotate(0) scale(0.82 1)">10<tspan font-size="13" dy="-8.5">3</tspan></text>
<text font-size="18" text-anchor="start" fill="#000" transform="translate(253 2622.2) rotate(0) scale(0.82 1)">10<tspan font-size="13" dy="-8.5">4</tspan></text>
<text font-size="18" text-anchor="start" fill="#000" transform="translate(286.5 2622.2) rotate(0) scale(0.82 1)">10<tspan font-size="13" dy="-8.5">5</tspan></text>
<clipPath id="fc2"><rect x="385.5" y="2442" width="153.9" height="152.7"/></clipPath>
<g clip-path="url(#fc2)">
<path d="M435.5 2442l1 4.5 0.5 2 1 4.5 0.5 4.5 0.5 2.5 1 4 0.5 4.5 0.5 4.5 0 4.5 0.5 3 0 3.5 0.5 4.5 0 4.5 0 4.5 0 4.5 0 4 0 4.5 -0.5 4.5 0 4.5 -0.5 2 0 4.5 0 4.5 0.5 3 0.5 3.5 0.5 4.5 0.5 4.5 0 4.5 0 4.5 -0.5 4.5 -1 3.5 -1 3 -1.5 3 -2 3.5 -1.5 2.5 -2 2 -2.5 2 -3 2 -2.5 1 -4.5 0 -2 -1 -2.5 -2 -2 -2.5 -2 -3 -2 -3 -0.5 -2.5 -2 -4.5 -0.5 -2 -1 -4.5 -0.5 -4.5 0 -4.5 -0.5 -3 0 -3.5 -0.5 -4.5 -0.5 -4.5 -0.5 -4 0 -4.5 -0.5 -4.5 0 -4.5 -0.5 -2 0 -4.5 0 -4.5 0 -4.5 0 -4.5 0 -4.5 0.5 -4 0 -2.5 0 -4.5 0.5 -4.5 0.5 -4 0.5 -4.5 0.5 -4.5 0.5 -2.5 0.5 -4 1 -4.5 0.5 -2.5 1 -4.5M512.5 2573.5l-4.5 1 -4.5 -1.5 -2 -1.5 -2 -2.5 -2 -3 -1.5 -2.5 -1 -3.5 -1 -3 -1 -4.5 -0.5 -4.5 0 -4 0.5 -4.5 1 -4.5 1 -3.5 1 -3 1 -2.5 2.5 -3 2 -2.5 2 -2 4.5 -1 4.5 0.5 2.5 1.5 2 2 2.5 3 1.5 4 1 2 1.5 4.5 0.5 2 0.5 4.5 0 4.5 0 4.5 -0.5 4 -0.5 2.5 -1.5 4.5 -1 2 -1.5 3.5 -2.5 3 -2 2 -2.5 1.5M431.5 2442l1 2 1.5 4.5 0.5 3 1 4 1 4 0.5 3 0.5 4 0.5 4.5 0.5 4 0.5 4.5 0 2.5 0.5 4.5 0 4 0 4.5 0.5 4.5 -0.5 4.5 0 4.5 0 4.5 -0.5 4 0 2.5 0 4.5 -0.5 4.5 0.5 4 0 2.5 1 4.5 0.5 4.5 0.5 4 0 4.5 -0.5 4.5 -1 4.5 -0.5 2 -2 4.5 -1.5 2.5 -2 2 -2 2.5 -3.5 2 -2.5 0.5 -4.5 -0.5 -2 -1 -2.5 -2 -2 -2.5 -2 -3.5 -1 -2 -1.5 -4.5 -0.5 -2 -1 -4.5 -0.5 -4.5 0 -4.5 0 -3 -0.5 -3.5 -0.5 -4.5 0 -4.5 -0.5 -4.5 -0.5 -4.5 -0.5 -4.5 0 -3.5 0 -3 -0.5 -4.5 0 -4 0 -4.5 0.5 -4.5 0 -4.5 0 -2 0.5 -4.5 0 -4.5 0.5 -4.5 0.5 -4.5 1 -4.5 0 -2 1 -4.5 1 -4.5 0.5 -2 1 -4.5 1 -2.5M510.5 2569l-4.5 0 -2.5 -1.5 -2 -2 -2 -3.5 -1.5 -2.5 -1 -3 -1 -4 -0.5 -4.5 0 -4 0.5 -4.5 1 -4.5 0.5 -2.5 2 -3 2 -3.5 2 -2 2.5 -1 4.5 -0.5 2.5 1.5 2.5 2 2 2.5 2 4 1 2.5 1 4.5 0 3 0.5 3.5 -0.5 3.5 -0.5 3 -1 4.5 -0.5 2.5 -2.5 4 -1.5 2.5 -3 2 -2 1M427.5 2442l1.5 2 1 3 1.5 4 1 2 1 4.5 1 4.5 0.5 2 1 4.5 0.5 4.5 0.5 4.5 0 2 0.5 4.5 0 4.5 0.5 4.5 0 4.5 0 4.5 0 4 0 4.5 -0.5 4.5 -0.5 4.5 0 4.5 0 2 0 3 0 3.5 1 4.5 0.5 4.5 0.5 4.5 0 2 0.5 4.5 -0.5 2.5 -0.5 4.5 -1.5 4 -1 2.5 -1.5 2 -2 3 -2.5 1.5 -4.5 2 -4.5 -0.5 -2 -1.5 -2.5 -2 -2 -3 -1.5 -4 -1 -2 -1 -4.5 -1 -4.5 0 -2 -0.5 -4.5 0 -4.5 0 -4.5 -0.5 -4.5 -0.5 -4 -0.5 -4.5 0 -4.5 -0.5 -2.5 -0.5 -4 0 -4.5 0 -4.5 0 -4.5 0 -4.5 0 -4.5 0.5 -4 0 -4.5 0.5 -2.5 0 -4.5 1 -4 0.5 -4.5 0.5 -3 0.5 -4 1.5 -4 0.5 -2.5 1.5 -4.5 1 -2 1.5 -3.5M510.5 2564.5l-4.5 0 -2.5 -1.5 -2 -3 -1.5 -3 -1 -2 -1 -4.5 0 -4.5 0 -4.5 1 -4.5 1 -2 1.5 -3.5 2 -2.5 2.5 -1.5 4.5 -0.5 2.5 1.5 2 2 2 3.5 1 3 1 4.5 0.5 4.5 -0.5 4.5 -1 4.5 -1 2.5 -2 4 -2.5 2 -2 1M428 2571.5l-4.5 0.5 -3.5 -1.5 -2.5 -2.5 -1.5 -2 -1.5 -2.5 -1.5 -4 -0.5 -3.5 -1 -3.5 -0.5 -4.5 0 -4 0 -4.5 0 -4.5 -0.5 -4.5 -0.5 -4.5 0 -2 -0.5 -4.5 -0.5 -4.5 -0.5 -4.5 0 -4.5 0 -4 0 -4.5 0 -4.5 0 -4.5 0.5 -4.5 0.5 -4.5 0.5 -4.5 0.5 -2 0.5 -4.5 1 -4.5 0.5 -2 1 -4.5 1 -3 1.5 -3.5 1.5 -2.5 1.5 -2 4.5 -1.5 2.5 1.5 2 2.5 1.5 4 1 2.5 1.5 4 0.5 2.5 1 4.5 1 4.5 0 2 0.5 4.5 0.5 4.5 0.5 4.5 0 4 0.5 4.5 0 4.5 0 4.5 0 4.5 -0.5 4.5 0 4 -0.5 4.5 -0.5 4.5 0 4.5 1 4.5 0.5 4.5 0.5 2 0.5 4.5 0.5 4.5 -0.5 4.5 -0.5 4 -1 2.5 -1.5 3.5 -2 3 -2.5 2 -2 1.5M510.5 2560.5l-4.5 -0.5 -2.5 -2 -1.5 -3 -1 -2.5 -0.5 -4.5 0 -4 0.5 -4.5 1 -2.5 1.5 -3 2.5 -2 4.5 -0.5 2 1.5 2.5 3 1 3.5 1 4.5 0 4 -1 4.5 -1 3 -2.5 3.5 -2 1.5M428 2569l-4.5 0.5 -3.5 -1.5 -2 -2 -1.5 -2.5 -2 -4 -0.5 -2.5 -1 -4.5 -0.5 -4.5 0 -4 0 -4.5 0 -4.5 0 -3.5 -0.5 -3 -0.5 -4.5 -0.5 -4.5 -0.5 -4.5 -0.5 -4.5 0 -4 0 -2.5 0 -4.5 0 -4.5 0 -2 0 -4.5 0.5 -4.5 0.5 -4.5 0.5 -4.5 1 -4 0 -2.5 1.5 -4.5 0.5 -2.5 1.5 -4 1 -2 2 -3 2 -2 3 0.5 2.5 2 1.5 2.5 1.5 4 1 2.5 1 4.5 1 3 0.5 3.5 0.5 4.5 0.5 4.5 0.5 4.5 0 2 0.5 4.5 0 4.5 0 4.5 0 4 -0.5 4.5 0 2.5 -0.5 4 0 4.5 -0.5 4.5 0 4.5 0.5 4.5 0.5 2 1 4.5 1 4.5 0 4.5 0 4.5 -1 4.5 -1 2 -2 4 -2.5 2.5 -2 1M510.5 2555.5l-4.5 -0.5 -1.5 -2.5 -1 -2 -0.5 -4.5 0.5 -4.5 1 -2 1.5 -2.5 4.5 -0.5 2 2 1 3 0.5 4.5 -0.5 4.5 -1 2.5 -2 2.5M428 2567l-4.5 0.5 -3 -1.5 -2.5 -2.5 -1.5 -2.5 -1.5 -4 -0.5 -3.5 -0.5 -3 0 -4.5 0 -4.5 0 -4.5 0 -4.5 -0.5 -4 -0.5 -4.5 -0.5 -4.5 -0.5 -2.5 -0.5 -4 0 -4.5 0 -4.5 -0.5 -4.5 0.5 -4.5 0 -4.5 0.5 -4 0.5 -4.5 0 -2.5 0.5 -4.5 1 -4 0.5 -2.5 1.5 -4.5 0.5 -2 2.5 -4 2 -2 4.5 1.5 1.5 2 1 2.5 1.5 4.5 1 2 1 4.5 0.5 4.5 0.5 2 0.5 4.5 0.5 4.5 0 4.5 0 4.5 0 4.5 0 4 0 4.5 -0.5 4.5 -0.5 4.5 0 2 -0.5 4.5 0 4.5 0.5 2.5 0.5 4 1.5 4.5 0 2.5 1 4 0 4.5 -1 4.5 -0.5 2.5 -1.5 3 -2.5 3 -2 1.5M508 2546l0 0 0 0M428 2565l-4.5 0.5 -3 -2 -2 -2 -2 -4 -0.5 -2.5 -0.5 -4.5 0 -4.5 0 -4.5 0 -4.5 0 -4.5 -0.5 -4 -0.5 -4.5 -0.5 -2.5 -0.5 -4.5 -0.5 -4 0 -4.5 -0.5 -4.5 0 -4.5 0 -4.5 0.5 -4.5 0 -4 0.5 -4.5 1 -4.5 0.5 -2.5 1 -4 0.5 -3 2 -4 2 -2 3 -1 2 2 2 3.5 0.5 2 1.5 4.5 0.5 2.5 1 4 0.5 4.5 0.5 4.5 0 4.5 0.5 4.5 0 4.5 -0.5 4 0 4.5 -0.5 4.5 -0.5 4.5 -0.5 4.5 0 4.5 0 4 1 4.5 1 2.5 1 4.5 0.5 4 0 4.5 -0.5 4.5 -1 2.5 -2.5 3.5 -2 2M428 2563l-4.5 0.5 -3 -2 -1.5 -2.5 -1.5 -4 -1 -4 0 -3 0 -3.5 0.5 -3 0.5 -4.5 0 -4.5 -0.5 -4 -0.5 -2.5 -0.5 -4.5 -1 -4.5 -0.5 -4 0 -2.5 -0.5 -4.5 0 -4 0 -4.5 0 -4.5 0.5 -4.5 0 -2 1 -4.5 0.5 -4.5 0.5 -2.5 2 -4 1 -2.5 4 -2 2 2.5 2 4 0.5 2 1 4.5 1 4.5 0 2.5 0.5 4 0.5 4.5 0 4.5 0 4.5 -0.5 4.5 0 4.5 -0.5 2 -0.5 4.5 -0.5 4.5 -0.5 4.5 0 4 1.5 4.5 0.5 2.5 1.5 4.5 0.5 2 0.5 4.5 -0.5 4.5 -0.5 2 -2 3.5 -2 2.5M428 2560.5l-4.5 0.5 -2.5 -1.5 -2 -4 -0.5 -3 -0.5 -4.5 0.5 -4 0.5 -4 0.5 -3 1 -4.5 -0.5 -4 -1 -2.5 -1 -4.5 -1 -4.5 -0.5 -2 -0.5 -4.5 -0.5 -4.5 0 -4 0 -4.5 0 -4.5 0.5 -4.5 0.5 -4.5 0.5 -2 1.5 -4.5 1 -2.5 1.5 -2.5 3 0.5 1.5 2 1.5 4.5 1 2.5 0.5 4.5 0.5 4 0.5 4.5 0 4.5 0 4.5 -0.5 4.5 -0.5 4.5 -0.5 4 -0.5 2.5 -1 4.5 -0.5 4.5 0 4 2 4.5 1 2.5 1 2.5 1 4 0.5 4.5 -0.5 4.5 -1 2.5 -2 3M423.5 2522l-2.5 -0.5 -2 -4.5 -0.5 -2 -0.5 -4.5 -0.5 -4.5 -0.5 -4 0 -4.5 0.5 -4.5 0.5 -4.5 1 -4.5 0.5 -2 1.5 -3 3 0.5 1.5 3 1 4 0.5 4 0.5 4.5 0.5 4.5 -0.5 4.5 0 4.5 -1 4.5 -0.5 4 -1 2.5 -1.5 2.5M428 2557.5l-4.5 1 -2.5 -2 -1 -4 -0.5 -4.5 0.5 -4 1 -3.5 2.5 -2.5 2.5 1.5 2 2 1.5 4.5 0.5 2.5 0 4 -0.5 2.5 -1.5 2.5M423.5 2513.5l-2.5 -0.5 -1 -4.5 -1 -4.5 0 -4.5 0.5 -4.5 0.5 -4.5 1 -3.5 3 1.5 1.5 4.5 0 2 0.5 4.5 -0.5 4.5 0 2 -1 4.5 -1 3M425.5 2556l-2.5 -1 -2 -4.5 0 -2.5 0.5 -2 2 -3 3 1 1.5 2.5 0.5 4 -0.5 3.5 -2.5 2" stroke="#2a2a2a" stroke-width="0.9" fill="none" stroke-linejoin="round"/>
<ellipse cx="434.7" cy="2506.1" rx="6.9" ry="21.4" transform="rotate(0 434.7 2506.1)" fill="#e4383c" opacity="0.3"/>
<path d="M439 2442l2 2 1.5 2.5 1.5 2 2 2.5 3.5 2 3 0 2 -0.5 4 -1.5 3 -1.5 2.5 -1 4 -1.5 3.5 -0.5 3 -1 4.5 0 4.5 0 4 1 3 1 2 1.5 2.5 2 2 2 2.5 4.5 0.5 2 0.5 4.5 0 4.5 -0.5 4.5 -0.5 2.5 -1.5 4 -1 3 -1.5 4 -1 2 -2 3.5 -2 3 -1.5 2.5 -1.5 2 -1.5 2.5 -2.5 3 -2 2.5 -2.5 2.5 -2 2.5 -2.5 2 -2 2 -2 2 -2.5 1.5 -2 2 -3 2 -3 2 -2.5 2.5 -1.5 2 -1.5 4 0 2.5 -0.5 4.5 0 4.5 -0.5 4.5 -0.5 4.5 -0.5 2 -1.5 4.5 -1.5 2 -1.5 3 -2.5 3 -2 2 -2 1.5 -4.5 1.5 -4.5 -0.5 -3 -1.5 -3 -2 -2 -2.5 -1.5 -2 -2 -4 -1 -2.5 -1 -3.5 -1 -3.5 -1 -4.5 -0.5 -2 -1.5 -4.5 -0.5 -3 -1.5 -3.5 -1 -2.5 -1.5 -4 -1 -2.5 -1 -4.5 -0.5 -4.5 0 -4 0.5 -4.5 1 -4.5 0.5 -2.5 1 -4 1 -4.5 0.5 -2.5 0.5 -4 1 -4.5 0.5 -2.5 0.5 -4.5 1 -4 0.5 -2.5 1 -4.5 1.5 -4.5 0.5 -2 1.5 -4.5 1 -2 1.5 -3 2 -3.5 2 -2.5M501.5 2557l-2 0 -4.5 -1 -2.5 -1 -3 -2.5 -2 -2 -1.5 -2.5 -2 -4 -0.5 -2.5 -0.5 -4.5 0 -4.5 0.5 -2 2 -4.5 1 -2 2 -2.5 2.5 -2 4 -2 2 -1 4.5 -0.5 4.5 1 2 1 2.5 1.5 2.5 2 2 2.5 2 3.5 1 3 1 4.5 0 4.5 -1 4.5 -1 2 -2 3.5 -2.5 3 -2 1.5 -2.5 1.5 -4.5 1.5 -2 0M441.5 2568.5l-4.5 1.5 -4.5 -0.5 -3 -1.5 -2.5 -2 -1.5 -2.5 -2 -3.5 -1.5 -3 -1 -2.5 -1 -4 -1 -4.5 0 -2 -1 -4.5 -1 -4.5 -1 -2.5 -1 -4 -1 -2.5 -1 -4.5 -0.5 -4.5 0 -3.5 0 -1.5 0 -3.5 0.5 -4.5 0.5 -4.5 0.5 -4.5 0.5 -2 1 -4.5 0.5 -4.5 0.5 -2.5 1 -4 1 -4.5 0.5 -2.5 1 -4 1 -4 1 -3 1.5 -3 1.5 -3.5 1.5 -2 2 -2.5 4 -2 4.5 1 2 2 2.5 2.5 2 2.5 2 2.5 2.5 1 4.5 0 2 -1 4.5 -1.5 2.5 -1.5 3 -1 3.5 -1 4.5 -1 4 0 1 0 4 0 4.5 1.5 2 1.5 2.5 1.5 2 3 1.5 3.5 1 3 0 3.5 0 4.5 -0.5 2 -1 4.5 -1 2.5 -1.5 4.5 -1 2 -2 3 -2 3.5 -1.5 2.5 -1.5 2 -2 2.5 -2 2 -2 3 -2.5 2 -2 2.5 -2 2 -2.5 1.5 -2.5 2 -3 2.5 -3 2 -2.5 2.5 -2.5 2 -1 2.5 -1 2 -0.5 4.5 -0.5 4.5 0 4.5 0 4 -1 4.5 -0.5 2.5 -1.5 4.5 -1 2 -2 3 -2 2.5 -2 1.5M503.5 2551l-4 0 -3 -0.5 -3.5 -2.5 -2 -2 -1.5 -2 -1 -4.5 -0.5 -2.5 0 -2 1 -4.5 1.5 -2 2 -3 2.5 -1.5 4.5 -2 4 0.5 3.5 1.5 2.5 2 2 2.5 1 2 1 4.5 0 4.5 -1 3 -1.5 3.5 -2.5 2 -2.5 2 -2.5 1M439 2567l-4.5 0.5 -3.5 -1.5 -3 -2.5 -1.5 -2 -1.5 -2 -1.5 -4 -1 -3 -1 -4.5 -0.5 -2 -1 -4.5 -0.5 -4.5 -0.5 -2 -1 -4.5 -1.5 -4 -0.5 -2.5 -1 -4.5 -0.5 -4.5 0 -2 0 -4.5 0 -2.5 0.5 -4 0.5 -4.5 0.5 -4.5 0.5 -3 1 -3.5 0.5 -4.5 1 -3.5 0.5 -3.5 1 -4 1 -2.5 1 -4.5 1 -2 2 -4.5 1.5 -2 2 -2.5 3.5 -1.5 4.5 1 2 1.5 2.5 2.5 2 2.5 2 1.5 4.5 1 4.5 -1.5 2.5 -1 4 -1.5 2.5 -1 4.5 -1 2.5 -0.5 4 -0.5 4.5 0 2.5 1 4 2 2.5 2 1.5 2.5 1 2 1 4.5 0 4.5 -0.5 4.5 -1 2 -1.5 4.5 -0.5 2.5 -2 3.5 -1.5 3 -1.5 2 -1.5 2.5 -2.5 3 -2 2.5 -2.5 2.5 -2 2.5 -2 2 -2.5 2 -2 2 -2.5 1.5 -2 2 -3 2 -3 2 -2 2.5 -1.5 2 -1.5 4.5 -0.5 2 0 4.5 0 4.5 0 4.5 -0.5 4.5 -1 4.5 -1 2 -2 4 -2 2.5 -2 2 -2.5 1.5M501.5 2546l-2.5 0 -3.5 -2 -2 -2.5 -1 -4 0 -1.5 1 -3.5 1.5 -2.5 2 -2 4.5 -1 3.5 1.5 2.5 2 1 2 1 4.5 -1.5 4.5 -1.5 2.5 -3 1.5 -2 0.5M439 2564.5l-4.5 1 -3.5 -2 -2.5 -2 -1.5 -2 -1.5 -2.5 -1.5 -4.5 -0.5 -2 -1 -4.5 -1 -4.5 -0.5 -3 -0.5 -3.5 -1 -4.5 -0.5 -2 -1.5 -4.5 -0.5 -4.5 -0.5 -2.5 -0.5 -4 0 -4.5 0 -4.5 0.5 -4.5 0.5 -2 0.5 -4.5 0.5 -4.5 1 -4 0.5 -2.5 1 -4.5 0.5 -3 1 -3.5 1.5 -4 1 -3 1 -2.5 2.5 -3.5 2 -2 2.5 -1 3 0.5 3.5 2 2 2 2.5 2.5 2 1.5 2.5 0.5 2 0 4.5 -1.5 2.5 -1 4 -2 2.5 -0.5 4.5 -1.5 2.5 0 4 -0.5 2.5 0.5 4.5 1.5 2 1.5 2.5 2 2 4 0.5 2 0.5 4.5 -1 4.5 0 2 -1.5 4.5 -1 2.5 -2 3.5 -1.5 3 -1.5 2 -1.5 2.5 -2 2.5 -2.5 3 -2 2.5 -2 2 -2.5 2 -2 2 -2.5 2 -2.5 1.5 -3 2 -2.5 2.5 -2.5 2 -2 2.5 -1 2 -1 4.5 -0.5 4.5 0 4.5 0 4.5 0 4 -0.5 2.5 -1 4.5 -1.5 2.5 -2 3.5 -2 2.5 -2.5 1M501.5 2538.5l-2.5 -1.5 1 -2 2 0 -0.5 3.5M439 2562l-4.5 1 -3 -1.5 -2.5 -2 -1.5 -2.5 -2 -4 -0.5 -2.5 -1 -4.5 -0.5 -2.5 -0.5 -4 -1 -4.5 -1 -4.5 -0.5 -2 -1 -4.5 -0.5 -2.5 -1 -4.5 -0.5 -4 0 -4.5 0 -4.5 0.5 -4.5 0.5 -4.5 0.5 -3 0.5 -3.5 1 -4.5 0.5 -3.5 1 -3 1 -4.5 1 -2 1.5 -4.5 1 -2.5 1.5 -2 2.5 -2.5 4 -1 2.5 1 2.5 2.5 2.5 2 3.5 2.5 2.5 0.5 3 -0.5 3.5 -1.5 2.5 -1 4.5 -2 2 -0.5 4.5 -1 4.5 -0.5 4.5 1 2.5 1 3 2 1.5 2.5 1.5 4.5 0 4 -0.5 4.5 -1 4.5 -1 2.5 -1.5 3 -2 3.5 -1.5 2 -1.5 2.5 -2 2 -2 2.5 -2 2.5 -2.5 2.5 -2 2 -2.5 1.5 -2.5 2.5 -3.5 2 -3 2 -2 2.5 -2 2 -1.5 2.5 -1 2.5 -1 4 0 4.5 0.5 4.5 0 4.5 -0.5 4 -1 4.5 -1 2.5 -1.5 3 -2 2.5 -2.5 1.5M439 2560l-4.5 0.5 -3 -1 -2 -2.5 -1.5 -2.5 -2 -4 -0.5 -2.5 -1 -4 -0.5 -4.5 -0.5 -4.5 -0.5 -2.5 -1 -4 -1 -3.5 -0.5 -3.5 -1 -4.5 -0.5 -4 -0.5 -2.5 0 -4.5 0.5 -4 0 -2.5 0.5 -4.5 0.5 -4.5 1 -4 0.5 -2.5 1 -4.5 1 -3 1 -3.5 1 -3 2 -3.5 1.5 -2.5 3.5 -2 2 0 2.5 0.5 2 1.5 2.5 2.5 3.5 2 3 0.5 3 -0.5 3.5 -1.5 2.5 -1 4.5 -1.5 2 -1 4.5 -0.5 4.5 0 4.5 1 2 1.5 2.5 2.5 1 3 0.5 4 0 4.5 -1.5 4.5 -1 2.5 -1.5 3 -1.5 3.5 -1.5 2 -1.5 2.5 -2 2 -2 2.5 -2.5 2.5 -2 2 -2.5 2 -2.5 2 -3 2.5 -3.5 2 -2 2 -2.5 2.5 -1.5 2 -1 2.5 -1.5 4.5 -0.5 4 0 1 0.5 3.5 0 4.5 0 4.5 -0.5 2 -1 4.5 -1 2.5 -2 3.5 -2.5 1.5M439 2557.5l-4.5 1 -2.5 -1.5 -2 -2 -2 -4.5 -1 -2.5 -1 -4 -0.5 -4 0 -3 -1 -4.5 -1 -4 -0.5 -2.5 -1 -4.5 -1 -2.5 -0.5 -4 -0.5 -4.5 0 -4.5 0 -4 0.5 -4.5 0.5 -4.5 0.5 -2.5 0.5 -4 1.5 -4.5 0.5 -2.5 1.5 -4.5 0.5 -2 2 -3.5 2 -3 2.5 -1.5 4.5 1 2 1.5 2.5 1.5 2.5 2 4 0.5 3.5 -0.5 3 -1.5 2.5 -1 4.5 -1.5 2 -1 4.5 -0.5 4.5 0.5 2 0.5 3 2 1.5 3 1.5 3.5 -0.5 4.5 -1 4.5 -0.5 2.5 -1.5 3 -2 3.5 -1.5 2 -1.5 2.5 -2 2 -2 2.5 -2 2 -2.5 2 -3 2.5 -3 2 -3 2 -2 2 -2.5 2 -2 3 -1.5 2 -1 2.5 -1 4.5 0 4 0 4.5 0 4.5 0 4.5 -1 4.5 -0.5 2 -1.5 3 -2.5 2M439 2555l-4.5 1 -2 -1 -2.5 -3 -1.5 -4 -0.5 -2.5 -1 -4 -0.5 -4.5 -0.5 -4.5 -0.5 -2 -1 -4.5 -1 -3 -1 -3.5 -1 -4.5 -0.5 -4.5 0 -2 0 -4.5 0 -3 0.5 -3.5 0.5 -4.5 1 -4.5 0.5 -2.5 1 -4 1 -4 1.5 -3 1 -2 2 -3.5 2.5 -1.5 4.5 0.5 2 1.5 2.5 1.5 2.5 1.5 4 0.5 3 -0.5 3.5 -1.5 2.5 -1 4.5 -1.5 2 -0.5 4.5 -0.5 3 0.5 3.5 2 2 2.5 1 2 0 4.5 -0.5 4.5 -1 2.5 -1.5 3 -1.5 3.5 -1.5 2 -2 2.5 -2 2 -2 2.5 -2 2 -3 2 -3 2.5 -3 2 -2 1.5 -2.5 2.5 -2 2.5 -1.5 2.5 -1.5 2 -1.5 4.5 -0.5 2.5 0 4 0 4.5 0.5 4.5 -0.5 4.5 -1 4.5 -1 2 -2 2.5M437 2553l-3 -0.5 -2.5 -2 -1.5 -3 -1 -3.5 -0.5 -4.5 -0.5 -4.5 -0.5 -2.5 -1 -4 -1 -3 -1 -4 -1 -4 -0.5 -2.5 -0.5 -4.5 -0.5 -4.5 0 -4 0.5 -4.5 0.5 -4.5 0.5 -2.5 1 -4 1 -4.5 1 -2.5 1.5 -3 2 -3.5 2.5 -2 4.5 0.5 2.5 1.5 3.5 2 2.5 1 4.5 -0.5 2.5 -0.5 4.5 -2 2 -1 4.5 -1 4.5 0 4 2 2 2 0.5 3 0.5 4 -0.5 2 -1.5 4.5 -1.5 2 -1 2.5 -2.5 3 -2 3 -2.5 2 -2 2 -2.5 2 -2 1.5 -2.5 2 -3 2 -2.5 2.5 -1.5 2 -2 2.5 -2 4 -1 2.5 -1 4.5 0 4 0 4.5 0 4.5 0 4.5 -0.5 2 -2 3.5 -2 1.5M437 2550l-4 -2 -1.5 -2 -1 -4.5 -0.5 -3.5 0 -3 -1 -4.5 -1 -3 -1.5 -3.5 -1 -3 -1 -4 -1 -4 0 -3 -0.5 -4 0 -4 0.5 -3 0.5 -4 0.5 -4.5 1 -4 1 -2.5 1.5 -4 1 -2.5 2 -2.5 3.5 -1.5 4.5 1.5 2.5 1.5 2 1 4.5 1 4 -1 2.5 -1.5 2.5 -1 4.5 -1 4.5 0 3.5 1 1.5 2.5 1 4.5 -1 4.5 -0.5 2.5 -2.5 4 -1.5 2 -2 2.5 -2 2 -2.5 2.5 -3 2 -2.5 2 -2 1.5 -2.5 2 -2 2.5 -2.5 3 -1 2 -1.5 2.5 -1.5 4 -1 2.5 -1 4.5 0 4.5 0.5 4.5 0 4.5 -1 3.5 -2 2.5M434.5 2544l-0.5 -2.5 -1 -4.5 -0.5 -3.5 -1 -3 -1.5 -3 -1.5 -3.5 -1 -2.5 -1.5 -4.5 -0.5 -2 -1 -4.5 0 -4.5 0 -4 0 -4.5 1 -4.5 0.5 -2.5 1 -4 1 -3 2 -4 2 -2 2.5 -1 4 1 3 1.5 2 1.5 4.5 0.5 4.5 -1 2 -1 4.5 -1.5 2.5 -0.5 3.5 0.5 3 2 0.5 2.5 0 4.5 -1 2 -1.5 3.5 -2.5 3 -2 2.5 -2.5 2 -2 2 -2.5 1.5 -2 1.5 -2.5 2 -2 2.5 -2.5 3 -1.5 3 -1.5 2 -1 2.5 -2 4.5 -1 2 -1.5 4.5 0 2 0 2.5 0 4.5 0 3 -2.5 1.5M434.5 2526.5l-2 -0.5 -2.5 -3 -1.5 -3.5 -1 -2.5 -1.5 -4 -0.5 -3.5 0 -3.5 0 -4 0 -4 0.5 -3 1 -4.5 1 -3 1.5 -3.5 1 -2 2.5 -2.5 4 -0.5 2 1.5 2.5 1.5 4 1.5 4.5 0 4.5 -1.5 2.5 -0.5 4.5 -0.5 2 1 1.5 4.5 -1.5 4 -1.5 2.5 -2 2 -2 2.5 -2.5 2 -3 2.5 -2.5 1.5 -2 2.5 -1.5 2.5 -1.5 2 -1.5 2.5 -2 3.5 -2 3 -1 2 -1.5 2.5 -2.5 2.5M437 2520l-4.5 1.5 -2.5 -2.5 -1.5 -4 -1 -2 -0.5 -4.5 -0.5 -4.5 0 -4.5 0.5 -4.5 1 -3 1 -3.5 1 -2.5 2.5 -3 4.5 -1 3.5 2 3 2 2 1 4.5 0.5 4.5 -0.5 4 1.5 -1.5 4.5 -2 2 -2.5 2.5 -2.5 2 -1.5 2.5 -1.5 2 -1.5 2 -2 3.5 -2 3.5 -1.5 2 -1 2 -2 3M434.5 2518l-2.5 -1 -2 -2 -1.5 -4.5 -0.5 -4 -0.5 -2.5 0.5 -4.5 0 -2 1 -4.5 1 -3.5 2 -3 2.5 -1.5 4.5 1 2.5 1.5 2 2 2 2 2 3.5 -1 4.5 -1 2.5 -2 4 -1.5 2.5 -1 2 -2 3.5 -2 2.5 -2.5 1.5M437 2513.5l-4.5 0.5 -2.5 -3.5 -0.5 -2 -0.5 -4.5 0 -4.5 1 -4.5 0.5 -2 2 -3.5 2 -1.5 3.5 0.5 3 2 1.5 2.5 1 2.5 0 4 -0.5 2.5 -1.5 4 -1.5 2.5 -1 2 -2 3M437 2509l-4.5 0 -1 -3 -0.5 -4 0.5 -4.5 1 -3 2 -2.5 3.5 1 1.5 2 1 4.5 -1 4.5 -1 2 -1.5 3" stroke="#e23c40" stroke-width="1.0" fill="none" stroke-linejoin="round"/>
</g>
<path d="M485.8 2503.1h0.1M468.3 2570.9h0.1M501.9 2548.7h0.1M499.9 2518.2h0.1M514.4 2537.4h0.1M518.5 2545.8h0.1M523.2 2523.8h0.1M467.4 2495h0.1M513.7 2496.8h0.1M508.2 2541.8h0.1M459.6 2558h0.1M457.4 2566.2h0.1M523.4 2501.6h0.1M514 2552.9h0.1M465 2546.7h0.1M464.9 2570.8h0.1M510.9 2577.4h0.1M459.1 2511.7h0.1M505.3 2540.5h0.1M469.6 2568.3h0.1M523.8 2510.1h0.1M466.7 2546.4h0.1M488 2546h0.1M495 2519.4h0.1M456.5 2493.6h0.1M492.1 2552.5h0.1M489.5 2554.1h0.1M498.8 2567.6h0.1M508.2 2512.1h0.1M466.1 2486.7h0.1M458 2565.8h0.1M526.1 2554.8h0.1M463.7 2545.7h0.1M465.2 2568.4h0.1M508.2 2554.6h0.1M504.4 2521.7h0.1M524 2575.6h0.1M474.5 2523.6h0.1M514.6 2547.7h0.1M488.2 2524.8h0.1M533.7 2507.6h0.1M472 2548.3h0.1M477.3 2569.3h0.1M481.3 2571.9h0.1M485.7 2568h0.1M516 2552.8h0.1M472.2 2496.5h0.1M457.3 2498.1h0.1M509.1 2486.6h0.1M474.1 2536.5h0.1M467.4 2512.8h0.1M473.4 2547.3h0.1M464.4 2579.2h0.1M503.6 2550.9h0.1M499.8 2529.6h0.1M533.9 2568.9h0.1M521.8 2483.1h0.1M502.8 2573.6h0.1M506.8 2531.1h0.1M507.7 2497.7h0.1" stroke="#e58a8a" stroke-width="1.2" stroke-linecap="round" fill="none"/>
<rect x="385.5" y="2442" width="153.9" height="152.7" fill="none" stroke="#555" stroke-width="1.2"/>
<rect x="396.8" y="2446.3" width="46.1" height="75.7" fill="none" stroke="#222" stroke-width="1.4"/>
<rect x="442.9" y="2446.3" width="49" height="75.7" fill="none" stroke="#222" stroke-width="1.4"/>
<rect x="396.8" y="2522" width="60.5" height="72.7" fill="none" stroke="#222" stroke-width="1.4"/>
<rect x="457.3" y="2522" width="81" height="72.7" fill="none" stroke="#222" stroke-width="1.4"/>
<path d="M385.5 2450H381.5M393.5 2600.7V2604.7M385.5 2453.5H383.5M397.1 2600.7V2602.7M385.5 2457H383.5M400.7 2600.7V2602.7M385.5 2460.6H383.5M404.3 2600.7V2602.7M385.5 2464.1H383.5M407.9 2600.7V2602.7M385.5 2467.6H383.5M411.5 2600.7V2602.7M385.5 2471.1H383.5M415.1 2600.7V2602.7M385.5 2474.6H383.5M418.7 2600.7V2602.7M385.5 2478.1H383.5M422.3 2600.7V2602.7M385.5 2481.7H381.5M425.9 2600.7V2604.7M385.5 2485.2H383.5M429.5 2600.7V2602.7M385.5 2488.7H383.5M433.1 2600.7V2602.7M385.5 2492.2H383.5M436.7 2600.7V2602.7M385.5 2495.7H383.5M440.3 2600.7V2602.7M385.5 2499.2H383.5M443.9 2600.7V2602.7M385.5 2502.8H383.5M447.5 2600.7V2602.7M385.5 2506.3H383.5M451.1 2600.7V2602.7M385.5 2509.8H383.5M454.7 2600.7V2602.7M385.5 2513.3H381.5M458.3 2600.7V2604.7M385.5 2516.8H383.5M461.9 2600.7V2602.7M385.5 2520.3H383.5M465.4 2600.7V2602.7M385.5 2523.9H383.5M469 2600.7V2602.7M385.5 2527.4H383.5M472.6 2600.7V2602.7M385.5 2530.9H383.5M476.2 2600.7V2602.7M385.5 2534.4H383.5M479.8 2600.7V2602.7M385.5 2537.9H383.5M483.4 2600.7V2602.7M385.5 2541.5H383.5M487 2600.7V2602.7M385.5 2545H381.5M490.6 2600.7V2604.7M385.5 2548.5H383.5M494.2 2600.7V2602.7M385.5 2552H383.5M497.8 2600.7V2602.7M385.5 2555.5H383.5M501.4 2600.7V2602.7M385.5 2559H383.5M505 2600.7V2602.7M385.5 2562.6H383.5M508.6 2600.7V2602.7M385.5 2566.1H383.5M512.2 2600.7V2602.7M385.5 2569.6H383.5M515.8 2600.7V2602.7M385.5 2573.1H383.5M519.4 2600.7V2602.7M385.5 2576.6H381.5M523 2600.7V2604.7M385.5 2580.1H383.5M526.6 2600.7V2602.7M385.5 2583.7H383.5M530.2 2600.7V2602.7M385.5 2587.2H383.5M533.8 2600.7V2602.7" stroke="#444" stroke-width="0.9" fill="none"/>
<path d="M388.5 2600.7H539.4" stroke="#333" stroke-width="1.3"/>
<text x="397.8" y="2463.5" font-size="17.5" text-anchor="start" fill="#000">71.6%</text>
<text x="397.8" y="2478" font-size="17.5" text-anchor="start" fill="#e0282e">57.6%</text>
<text x="444.4" y="2463.5" font-size="17.5" text-anchor="start" fill="#000">2.45%</text>
<text x="444.4" y="2478" font-size="17.5" text-anchor="start" fill="#e0282e">19.2%</text>
<text x="397.8" y="2575.4" font-size="17.5" text-anchor="start" fill="#000">14.2%</text>
<text x="397.8" y="2590.7" font-size="17.5" text-anchor="start" fill="#e0282e">16.8%</text>
<text x="535.4" y="2575.4" font-size="17.5" text-anchor="end" fill="#000">12.3%</text>
<text x="535.4" y="2590.7" font-size="17.5" text-anchor="end" fill="#e0282e">5.6%</text>
<text font-size="18" text-anchor="end" fill="#000" transform="translate(378 2480.5) rotate(0) scale(0.82 1)">10<tspan font-size="13" dy="-8.5">5</tspan></text>
<text font-size="18" text-anchor="end" fill="#000" transform="translate(378 2512.5) rotate(0) scale(0.82 1)">10<tspan font-size="13" dy="-8.5">4</tspan></text>
<text font-size="18" text-anchor="end" fill="#000" transform="translate(378 2550.5) rotate(0) scale(0.82 1)">10<tspan font-size="13" dy="-8.5">3</tspan></text>
<text font-size="18" text-anchor="end" fill="#000" transform="translate(378 2587.5) rotate(0) scale(0.82 1)">-10<tspan font-size="13" dy="-8.5">3</tspan></text>
<text font-size="18" text-anchor="end" fill="#000" transform="translate(372.5 2568) rotate(0) scale(0.82 1)">0</text>
<text font-size="18" text-anchor="start" fill="#000" transform="translate(388.2 2621.2) rotate(0) scale(0.82 1)">-10<tspan font-size="13" dy="-8.5">3</tspan></text>
<text font-size="18" text-anchor="start" fill="#000" transform="translate(417.2 2621.2) rotate(0) scale(0.82 1)">0</text>
<text font-size="18" text-anchor="start" fill="#000" transform="translate(442 2621.2) rotate(0) scale(0.82 1)">10<tspan font-size="13" dy="-8.5">3</tspan></text>
<text font-size="18" text-anchor="start" fill="#000" transform="translate(483 2621.2) rotate(0) scale(0.82 1)">10<tspan font-size="13" dy="-8.5">4</tspan></text>
<text font-size="18" text-anchor="start" fill="#000" transform="translate(516.5 2621.2) rotate(0) scale(0.82 1)">10<tspan font-size="13" dy="-8.5">5</tspan></text>
<clipPath id="fc3"><rect x="626.7" y="2442.8" width="153.3" height="153.2"/></clipPath>
<g clip-path="url(#fc3)">
<path d="M674 2443l1.5 2.5 1.5 4 1 2 1.5 4.5 0.5 4 0.5 3 1 4 0.5 4.5 0 4.5 0.5 2.5 0 4.5 0 4 0 4.5 -0.5 2.5 0 4.5 -0.5 4 -0.5 4.5 -1 4.5 -0.5 2.5 -1 4.5 -0.5 3 -0.5 3.5 -0.5 4.5 0.5 4.5 0.5 2 1.5 4.5 0.5 4 0.5 2.5 0 4.5 -0.5 3.5 -0.5 3.5 -1.5 4 -1 2.5 -1.5 2 -2 2.5 -3 2 -4 1.5 -4.5 0 -2.5 -1.5 -3 -2 -2 -2.5 -1 -2 -2 -4.5 -1 -2 -1 -4.5 0 -4.5 0.5 -4.5 1 -4.5 0.5 -2 1.5 -4.5 0.5 -2.5 0.5 -4.5 -0.5 -3 -1.5 -3.5 -1 -4.5 -0.5 -2 -1 -4.5 -0.5 -4.5 -0.5 -2.5 -0.5 -4 -0.5 -4.5 0 -4.5 0 -4.5 0 -4.5 0 -4.5 0.5 -4.5 1 -4.5 0 -2 1 -4.5 1 -4.5 0.5 -2 1.5 -4.5 0.5 -2.5 2 -3.5M758 2583l-4.5 1 -4.5 0.5 -4.5 -0.5 -4.5 -1.5 -2 -0.5 -2.5 -1.5 -3.5 -2.5 -2.5 -2 -2 -2 -2 -2.5 -1.5 -2 -2 -4 -1 -3 -1 -3 -1 -3.5 0 -4.5 0 -4.5 0.5 -4.5 0.5 -2 1.5 -4.5 1 -2 2 -4 2 -3 2 -2 2.5 -2.5 2.5 -1.5 2 -1.5 2.5 -1 4 -2 3.5 -0.5 3.5 -0.5 4.5 0.5 2 0.5 4.5 1.5 2 1 3 1.5 3 2 2 2.5 2 2 1.5 2.5 2 3 1.5 3.5 1 2.5 1 4 0.5 4.5 0.5 4.5 -0.5 4.5 -1 4.5 -1 2 -1.5 4.5 -1.5 2.5 -1.5 2 -2 2.5 -2 2.5 -2.5 1.5 -3 2.5 -3.5 1.5 -2 1M669 2443l2.5 2 2 3 1.5 3.5 1 2.5 1.5 4.5 0.5 2 1 4.5 0.5 4.5 0.5 4.5 0 2 0.5 4.5 0 4.5 0 4.5 -0.5 4.5 0 2 -0.5 4.5 -0.5 4.5 -0.5 4.5 -0.5 2 -1 4.5 -1 4.5 -0.5 2 -0.5 4.5 0 4.5 0.5 3 1.5 4 1 4 0.5 2.5 0.5 4.5 -0.5 4.5 -0.5 3 -1 3.5 -1.5 2.5 -2 3 -2.5 2.5 -2 1 -4.5 1 -3.5 -1 -3 -2 -2.5 -2.5 -1 -2.5 -1 -2 -1.5 -4.5 -0.5 -4.5 0 -4.5 0.5 -4.5 1.5 -3.5 1 -3 1 -2.5 1 -4 -0.5 -4.5 -0.5 -3 -1 -3.5 -1 -3.5 -1 -3.5 -1 -4.5 -0.5 -2 -0.5 -4.5 -0.5 -4.5 -0.5 -4.5 0 -4.5 0 -4 0 -4.5 0.5 -4.5 0.5 -4.5 0.5 -3 0.5 -3.5 1.5 -4.5 0.5 -2.5 1.5 -4.5 1 -2 2 -3 2 -3M758 2578.5l-4.5 1.5 -4.5 0 -4.5 0 -4.5 -1.5 -2 -1 -2.5 -1.5 -2.5 -2 -2.5 -2.5 -2 -2 -2 -3.5 -1.5 -3.5 -1 -2 -1 -4.5 -0.5 -4.5 0 -4.5 0.5 -4.5 1.5 -3.5 1 -3 1 -2 2.5 -3.5 2 -2.5 2.5 -2 2 -2 2.5 -1.5 4 -1.5 2.5 -0.5 4.5 -0.5 4.5 0 2 0.5 4.5 2 2 1 2.5 1.5 2.5 2 2 2.5 2 3 2 3.5 1 2.5 1.5 4 0.5 2.5 0 4.5 0 4.5 -0.5 2.5 -1 4 -1 3 -2 3.5 -1.5 2.5 -2 2 -2 2.5 -3 2 -3 2 -2 0.5M669 2567.5l-4.5 1 -3.5 -1.5 -3 -2 -2 -2.5 -1 -2 -1.5 -4.5 -0.5 -2 -0.5 -4.5 1 -4.5 0 -2.5 2 -4 1 -2.5 1.5 -3.5 0.5 -3 -0.5 -4.5 0 -2.5 -1.5 -4 -1 -3 -1 -4 -1 -4 -0.5 -2.5 -1 -4.5 -0.5 -4.5 0 -4.5 -0.5 -4.5 0 -4 0.5 -4.5 0 -4.5 1 -4.5 0.5 -4.5 0.5 -2 1.5 -4.5 0.5 -2.5 2.5 -4.5 1 -2 2.5 -2.5 3 -1.5 4.5 1.5 2 2.5 1.5 2 1 2.5 1.5 4.5 1 2 1 4.5 0.5 4.5 0.5 2 0.5 4.5 0.5 4.5 0 4.5 0 4.5 -0.5 4.5 0 4.5 -0.5 3 -0.5 3.5 -1 4.5 -1 4.5 0 2 -1 4.5 -1 4.5 0 3.5 0 1.5 0.5 4 1 4.5 1 2 1 4.5 0.5 4.5 -0.5 4.5 -1 4.5 -1 2 -1.5 3 -2.5 2.5 -2 1.5M755.5 2576l-4.5 1 -4.5 0 -3.5 -1 -3 -1 -2 -1.5 -3 -2 -2.5 -2 -1.5 -2.5 -2 -3 -2 -3.5 -0.5 -2 -1 -4.5 0 -4.5 0 -4.5 1 -3.5 1 -3 1.5 -2.5 2 -3.5 2.5 -2.5 2 -2 2.5 -1.5 2.5 -1.5 4 -1.5 4.5 -0.5 4.5 0.5 4.5 1.5 2 1 2 1.5 2.5 2 2.5 2 2 3 2 4 1 2 1 4.5 0.5 4.5 -0.5 4.5 -1 4.5 -1 3 -1.5 3.5 -1.5 2 -2 2.5 -2.5 2 -3 2.5 -2.5 1.5 -2.5 0.5M669 2565.5l-4.5 1 -4 -1.5 -2.5 -2.5 -1.5 -2 -1 -2 -1 -4.5 -0.5 -4.5 0.5 -4.5 1 -3.5 1.5 -3 1 -2.5 2 -4.5 0 -2 0 -3 -0.5 -4 -1.5 -4 -0.5 -2.5 -1.5 -4.5 -0.5 -2 -1 -4.5 -1 -4.5 0 -2 -0.5 -4.5 -0.5 -4.5 0 -4.5 0 -4.5 0.5 -4.5 0.5 -3 0.5 -3.5 1 -4.5 0.5 -3 1.5 -3.5 1 -2.5 2 -3.5 2 -2 4.5 -0.5 2.5 1.5 2 3 2 4 1 2 1.5 4.5 0.5 2 0.5 4.5 0.5 4.5 0.5 4.5 0 4.5 0 4.5 0 4.5 -0.5 4.5 -0.5 4 -1 4 -0.5 3 -0.5 4.5 -1 4.5 -0.5 2 -0.5 4.5 -0.5 4.5 0.5 4.5 1 3 1 3.5 1 4.5 0.5 2 0 4.5 -0.5 3 -1 4 -1 2 -2.5 3 -2 2M751 2574l-4.5 0 -2 -0.5 -4.5 -1.5 -2 -1.5 -2.5 -2 -2 -2.5 -2.5 -3 -1 -2.5 -1 -3 -1 -3.5 0 -4.5 0.5 -4.5 0.5 -2.5 1.5 -4 1.5 -2.5 1.5 -2 2 -2.5 3 -2 3.5 -2 2.5 -1 4.5 -0.5 4.5 0.5 2.5 0.5 4 2 2 1.5 2.5 2.5 2 3 1.5 2.5 1 2 1.5 4.5 0.5 4.5 -0.5 4.5 -1 4.5 -1 2 -2 3.5 -2 3 -2.5 2.5 -2 1.5 -2 1 -4.5 1.5 -2.5 0.5M669 2563.5l-4.5 1.5 -4.5 -2.5 -2 -2 -1 -2 -1.5 -4.5 -0.5 -2.5 0.5 -4.5 0 -2 1.5 -4.5 1.5 -2 1.5 -3.5 1.5 -3.5 0 -4.5 -1 -4.5 -0.5 -3 -1 -3.5 -1 -4 -1 -2.5 -1 -4.5 -0.5 -2.5 -1 -4 -0.5 -4.5 0 -4.5 0 -4.5 0 -4.5 0 -4.5 1 -4.5 0.5 -3 1 -3.5 1.5 -4 1 -2.5 1.5 -2.5 2.5 -2 3.5 -0.5 2.5 2 2 3 1 2 1.5 3.5 1 3 0.5 4.5 0.5 3.5 0.5 3.5 0.5 4.5 0 4 -0.5 4.5 0 4.5 -0.5 2.5 -0.5 4 -0.5 4.5 -1 4.5 -0.5 2.5 -0.5 4.5 -1 4 -0.5 3 0 4 0 4 1 2.5 1 4.5 1 2 1 4.5 0 4.5 -1 4.5 -1 2.5 -2 3 -2 2M755.5 2570.5l-4.5 1 -4.5 0 -4.5 -1.5 -2 -1 -2 -2 -2.5 -2 -2 -3 -2 -3.5 -0.5 -2.5 -1 -4.5 0.5 -4.5 0.5 -3.5 1 -3 1.5 -2 2 -3.5 2.5 -2 2 -1.5 4 -2 2.5 -1 4.5 0 3.5 1 3.5 1 2 1.5 2 2 2.5 3 2 3.5 1 2 1 4.5 0 4.5 -1 4.5 -1 3 -1.5 3.5 -2 2.5 -2 2 -3 2.5 -2.5 1M666.5 2563l-3.5 -0.5 -3 -2 -1.5 -2 -1 -2.5 -1 -4.5 0 -4.5 1 -4.5 1 -2 1.5 -2.5 2 -4 1 -2.5 0 -4.5 -1 -4 -0.5 -2.5 -1 -4.5 -0.5 -2 -1.5 -4.5 -0.5 -3 -1 -4 -1 -4 -0.5 -3 -0.5 -4 0 -4.5 0 -4 0.5 -4.5 0 -2.5 0.5 -4.5 1.5 -4.5 0.5 -2 2 -4.5 2 -2 2.5 -1.5 3.5 1.5 2 2 1 2.5 1.5 4 1 2.5 0.5 4.5 1 4.5 0 4.5 0 4 0 4.5 -0.5 4.5 -0.5 4.5 -0.5 4.5 -0.5 2 -0.5 4.5 -1 4.5 -0.5 2.5 -0.5 4 -1 4.5 0 4.5 1 4.5 0.5 2.5 2 4 0.5 2.5 0.5 4.5 -0.5 4.5 -0.5 2 -2 3.5 -2 2.5 -2.5 1M755.5 2567.5l-4.5 1.5 -4.5 0 -4.5 -1.5 -2 -1.5 -2 -2 -2.5 -3 -1.5 -2.5 -0.5 -2.5 -1 -4.5 0 -4.5 1 -3 1 -3.5 1.5 -2 2 -2.5 2.5 -2 4 -2 2 -0.5 4.5 -0.5 2.5 0.5 4.5 2 2 2 2 2.5 2 2.5 1 2 1 4.5 0 4.5 -0.5 4.5 -1 2.5 -2.5 4 -2 2 -2 2 -2.5 1M666.5 2561.5l-4.5 -1 -2 -2 -1.5 -2.5 -0.5 -2.5 -0.5 -4 0.5 -3.5 1 -3.5 1 -2 2 -3.5 2.5 -3 2 -2.5 -1 -4.5 -1 -2 -1.5 -4.5 -1 -3 -1 -3.5 -1 -4.5 -0.5 -2.5 -1.5 -4.5 -0.5 -2 -0.5 -4.5 -0.5 -4.5 -0.5 -4.5 0 -4 0.5 -4.5 0.5 -4.5 1 -3 1 -4 1 -2.5 2 -3 2.5 -1 2 0 2.5 2.5 2 4 1 2.5 1 4.5 0.5 3 0 3.5 0.5 4.5 0 4.5 -0.5 4.5 0 2.5 -0.5 4 -1 4.5 -0.5 4.5 -0.5 2 -0.5 4.5 -1 4.5 -0.5 2.5 -1.5 4 -0.5 4.5 2 4.5 1 2.5 1 2.5 1.5 4 0.5 4.5 -0.5 4.5 -1.5 3 -2 3 -2.5 1.5M755.5 2565l-4.5 1.5 -4.5 -0.5 -3.5 -1 -3 -2.5 -2 -2 -1.5 -2 -1 -3 -0.5 -4 0 -4.5 0.5 -2.5 2 -4 1.5 -2 2.5 -2.5 3 -1.5 2.5 -0.5 4 -0.5 2.5 0.5 3.5 2 2.5 2.5 2 2 1 2 1.5 4.5 0 4.5 -1 4.5 -1 2.5 -2 3 -2 2 -2.5 1.5M666.5 2521.5l-2 -2 -1 -3.5 -1.5 -3.5 -0.5 -3 -1.5 -4.5 -0.5 -2.5 -1 -4 -0.5 -4.5 -0.5 -2.5 0 -4.5 0 -4 0.5 -4.5 0 -2.5 1 -4.5 1 -2.5 2 -4 2.5 -1 3 1 1.5 2 2 4.5 0.5 2.5 0.5 4.5 0.5 4.5 0.5 4 -0.5 4.5 -0.5 4.5 -0.5 4.5 -0.5 3.5 -0.5 3 -0.5 4.5 -1 4.5 -1 2.5 -1.5 3M666.5 2559.5l-4.5 -0.5 -2 -2.5 -1 -2.5 -0.5 -4.5 0.5 -4.5 1 -2.5 2 -3 2.5 -2.5 3.5 1.5 1.5 2 1.5 4.5 0.5 2 0 4.5 -0.5 2.5 -2 4 -2.5 1.5M753.5 2563l-4.5 1 -4.5 -1.5 -2.5 -1 -2 -2.5 -1.5 -3 -1 -2 -0.5 -4.5 1 -4 1 -3 1.5 -2 2.5 -2 3.5 -2 4.5 0 4.5 1.5 2.5 2 2 2.5 1 2.5 0.5 4.5 -0.5 4.5 -1 3 -2 3 -2.5 2 -2 1M666.5 2515.5l-2 -2 -1.5 -4 -1 -2.5 -1 -4.5 -1 -4 -0.5 -2.5 -0.5 -4.5 -0.5 -4.5 0.5 -4 0 -4.5 1 -4 1 -3 1 -2 4.5 -1.5 2.5 3 1 3 1 4.5 0 2 0.5 4.5 0 4.5 -0.5 4.5 0 2 -0.5 4.5 -1 4.5 -0.5 4 -1 2.5 -1.5 4M666.5 2558l-4.5 -1 -1.5 -3 -1 -2.5 0.5 -4.5 0.5 -2 1.5 -3 2.5 -2 3 0.5 1.5 2 1.5 4.5 0 4.5 -1.5 4.5 -2.5 2M751 2561l-4.5 -0.5 -2 -1 -2.5 -2 -2 -3.5 -0.5 -2.5 0.5 -4.5 1 -2 1 -2.5 2.5 -2 4.5 -1.5 4.5 1 2 1.5 2.5 3 0.5 2.5 0.5 4.5 -1 4 -2.5 3 -2 1.5 -2.5 1M666.5 2508l-2 -1 -1.5 -4.5 -1 -2 -1 -4.5 -0.5 -4.5 -0.5 -4.5 0 -4 1 -4.5 1 -4.5 2.5 -2.5 3 2.5 1.5 3 0.5 3.5 0.5 4.5 0 4.5 0 4.5 -0.5 4.5 -0.5 2 -1.5 4.5 -1 3M664.5 2556l-2.5 -1.5 -1 -3 0.5 -4.5 0.5 -2.5 2.5 -2 2.5 0 2 3.5 0.5 3.5 -0.5 3 -2.5 3 -2 0.5M751 2557l-4.5 -0.5 -2 -1.5 -1.5 -3.5 0.5 -4.5 1 -2 4.5 -2.5 0 0 4.5 2 2 2.5 0.5 2.5 -0.5 2.5 -2 4 -2.5 1M666.5 2500l-2.5 -1.5 -1.5 -4.5 -0.5 -2.5 0 -4.5 0 -4 0.5 -2.5 2 -4 2.5 2 1 4.5 0.5 4 0 4.5 -1 4.5 -1 4M666.5 2553l-3.5 -1.5 0 -4.5 3.5 -1.5 1 4 -1 3.5" stroke="#2a2a2a" stroke-width="0.9" fill="none" stroke-linejoin="round"/>
<ellipse cx="671.2" cy="2493.4" rx="5.4" ry="18.4" transform="rotate(0 671.2 2493.4)" fill="#e4383c" opacity="0.3"/>
<path d="M682.5 2443l2 4 1 2.5 1 3 2.5 3 4.5 0 3.5 -1.5 3 -1.5 2 -1 4.5 -1.5 2.5 -1 4.5 -1.5 2 -0.5 4.5 -0.5 4.5 -0.5 4.5 0 4.5 0 4 1 2.5 1 2.5 1.5 3 2 2 2.5 1.5 2 1.5 4.5 0.5 3 0 3.5 0 2.5 -1 4.5 -1 3.5 -1.5 3 -1 2.5 -2 3.5 -2 3 -1.5 2 -2 2.5 -2 2 -2 2.5 -2 2 -2.5 2 -2.5 2.5 -2.5 2 -3 2.5 -2.5 1.5 -2 1.5 -2.5 1.5 -3.5 2 -3 2 -2.5 1 -3.5 1.5 -3 1.5 -2 1 -2.5 2 -2 4.5 -0.5 2 -0.5 4.5 -0.5 4.5 -1 3.5 -0.5 3 -1.5 4.5 -1 2.5 -1.5 2.5 -2 3 -2.5 2.5 -2 1.5 -4.5 1.5 -4.5 -1.5 -2 -1.5 -2.5 -2.5 -2 -3 -1.5 -2.5 -1 -2.5 -1.5 -4.5 -0.5 -2 -1 -4.5 -1 -4.5 -0.5 -2 -1 -4.5 -0.5 -4.5 -0.5 -2.5 -1.5 -4 -0.5 -4.5 -0.5 -2.5 -0.5 -4.5 0 -4.5 0.5 -4 0.5 -4 0 -3 0.5 -4.5 0.5 -4 0.5 -4.5 0.5 -4.5 0.5 -2.5 0.5 -4.5 0.5 -4 1 -4 0.5 -3 1 -4.5 1 -2 1.5 -4.5 1 -2M678 2443l2 2.5 2 4 1 2 1.5 3.5 2 3.5 2.5 1.5 4.5 -0.5 2.5 -1 4 -2 2 -1 4 -1.5 3 -1 4 -1.5 2.5 -0.5 4.5 -0.5 4.5 -0.5 4.5 0.5 4.5 1 2 0.5 3.5 2 2.5 2 2 2.5 1 2 1.5 4.5 0 4.5 -0.5 4.5 -1 3 -1.5 3.5 -1 2.5 -2 3 -2 3.5 -1.5 2 -2 2.5 -2 2 -2 2.5 -2.5 2 -2.5 2 -2.5 2.5 -3 2 -2 1.5 -2.5 1.5 -2.5 1.5 -4 2.5 -2.5 1 -2 1 -4.5 2 -2 1 -3 1.5 -2 2 -2 4.5 -0.5 2.5 -0.5 4.5 -0.5 4.5 -0.5 2.5 -1 4 -1.5 3.5 -1 3 -1.5 2.5 -2 2 -2.5 2.5 -4 1 -4 -1 -2.5 -2.5 -2 -2 -1.5 -2.5 -1 -2.5 -1.5 -4 -1 -2.5 -1 -4 -0.5 -4.5 -0.5 -2.5 -1 -4.5 -1 -4.5 -0.5 -2 -0.5 -4.5 -1 -4.5 -0.5 -4.5 0 -2.5 0 -4 0 -2.5 0 -4 0.5 -4.5 0.5 -4.5 0 -4.5 1 -4.5 0.5 -3.5 0 -3 1 -4.5 1 -4.5 0.5 -2 1 -4.5 1 -2.5 2 -4 1.5 -2.5 1.5 -2M680 2554l-4.5 2 -4.5 -1.5 -2 -2.5 -2 -2.5 -1 -2.5 -1.5 -3.5 -1 -3 -1 -4.5 -0.5 -2 -1 -4.5 -0.5 -4.5 -0.5 -2.5 -1 -4 -1 -4.5 0 -3 -0.5 -4 -0.5 -4.5 0 -4 0 -4.5 0.5 -4.5 0.5 -4.5 0 -2 0.5 -4.5 0.5 -4.5 0.5 -4.5 0.5 -2.5 1 -4 1 -4.5 1 -2.5 1.5 -4 1.5 -2.5 1.5 -2.5 2.5 -2 3.5 -1 2 1 2.5 2 2 3 2 4 1 2 1.5 3 2 3 2.5 1 2.5 0 4 -2 2.5 -1 3 -1.5 3.5 -1.5 2 -1 4.5 -1.5 3 -0.5 4 -1 4 0 4.5 0 4 1 3 1 2.5 1 2.5 2.5 2 2 1.5 4.5 0.5 2 0 4.5 -0.5 2.5 -1 4.5 -1 2.5 -2 4 -1.5 2 -1.5 2.5 -1.5 2 -2.5 3 -2 2 -2.5 2.5 -2 2 -2.5 1.5 -2.5 2.5 -3.5 2 -2.5 2 -2.5 1.5 -2.5 1 -4 2 -2.5 1 -3.5 1.5 -3 1.5 -2 1.5 -2.5 2.5 -1.5 3.5 -0.5 3.5 -0.5 3 -0.5 4.5 -1 4.5 -0.5 2 -1.5 4.5 -1 2.5 -2 2.5 -2 2M678 2552.5l-4.5 0 -2.5 -1 -2 -2.5 -2.5 -4 -0.5 -2.5 -1.5 -4 -0.5 -2.5 -1 -4.5 -1 -3.5 -0.5 -3 -1 -4.5 -0.5 -4 -0.5 -2.5 -1 -4.5 0 -4.5 -0.5 -4.5 0 -4.5 0.5 -4.5 0 -4.5 0.5 -4 0.5 -4.5 0.5 -4.5 0.5 -2.5 0.5 -4.5 1 -4 1 -2.5 1.5 -4.5 1 -2 1 -2.5 2.5 -2.5 3.5 -2 1 0 3.5 2.5 2 2 1 2.5 2 4 1.5 2.5 1.5 2.5 2 2 4 0 2.5 -1 2.5 -1 4 -2.5 2 -1 3.5 -1 3.5 -1.5 4 -1 2.5 -0.5 4.5 -0.5 4.5 0 4.5 1 2 0.5 3 2 2.5 2 2 2.5 1.5 4 0 2.5 0 3 -0.5 3.5 -1.5 4.5 -1 2.5 -1.5 2 -2 3.5 -2.5 3 -2 2.5 -2 2 -2 2.5 -2.5 2 -2.5 2 -2 1.5 -2.5 1.5 -2.5 1.5 -3.5 2.5 -3 1.5 -2 1 -4.5 1.5 -2 1 -4 1.5 -3 2 -1.5 2.5 -1 2 -1 4.5 -0.5 4.5 -0.5 3 -0.5 4 -1 4 -1 2.5 -2 3.5 -2 2.5 -2 1.5M675.5 2550l-2 -0.5 -3 -2.5 -1.5 -2 -2 -4.5 -1 -2 -1 -4.5 -0.5 -2.5 -1 -4.5 -1 -4.5 -0.5 -2 -1 -4.5 -0.5 -4.5 -0.5 -3 -0.5 -3.5 0 -4.5 0 -4.5 0 -4.5 0 -4.5 0.5 -3.5 0.5 -3 0.5 -4.5 0.5 -4.5 0.5 -3.5 1 -3 1.5 -4.5 0.5 -2 1.5 -3.5 2.5 -3 2 -1.5 4.5 1 2.5 2 1.5 2.5 1 2.5 1.5 3.5 2 3 2.5 2 2.5 1 2 -1 4.5 -2 2.5 -1.5 2 -1 4.5 -2 2 -0.5 4.5 -1.5 2.5 -0.5 4.5 -0.5 4 0 4.5 0.5 2.5 1 3 1.5 2.5 2.5 1.5 2 1.5 4.5 0 4.5 -1 4.5 -1 2 -2 4.5 -1.5 2 -1.5 2.5 -2 2 -2 2.5 -2 2 -2.5 2.5 -2.5 2 -3 2 -3 2.5 -2.5 1.5 -2 1 -3.5 2 -3.5 1.5 -2 0.5 -4.5 1.5 -2 1 -3 2 -2 2.5 -1.5 4 -0.5 2.5 -0.5 4.5 -1 4.5 -0.5 3.5 -1 3 -1.5 3.5 -2 3 -2 2 -2.5 1M678 2546l-4.5 0.5 -2.5 -2 -2 -3.5 -1.5 -2.5 -1 -3.5 -1 -3.5 -0.5 -4.5 -0.5 -2 -1 -4.5 -1 -4.5 -0.5 -2 -1 -4.5 -0.5 -4.5 0 -4.5 0 -4.5 0 -4.5 0 -4.5 0.5 -4 0.5 -4.5 0.5 -4.5 0.5 -2.5 1 -4.5 1 -3 1 -3.5 1.5 -2 2 -3.5 2 -1.5 4 0.5 2.5 2 1.5 2.5 1 2 2 4.5 2 2 2.5 2.5 2.5 0.5 2 -1 3.5 -2 3.5 -1.5 2 -1.5 3.5 -1 3 -1.5 3.5 -1 3.5 -1 4.5 -0.5 4 0.5 4.5 1 2.5 1 2 1.5 2.5 2.5 1.5 4 0 4.5 -1 4.5 -0.5 2 -2 4.5 -1.5 2 -1.5 2.5 -2 2 -2 2.5 -2.5 2.5 -2 2 -3 2 -3 2 -3 2 -2 1.5 -2.5 1 -4.5 2 -2 1 -4.5 1.5 -2 0.5 -3 2 -2.5 2 -1.5 2.5 -1 4 -1 4.5 0 2.5 -1 4.5 -1 4.5 -0.5 2 -2 3.5 -2 2M675.5 2543.5l-2 -1 -2.5 -2 -2 -4 -1 -2.5 -1 -4.5 -1 -2.5 -1 -4.5 -0.5 -3 -1 -3.5 -1 -4.5 -0.5 -3 -0.5 -3.5 0 -4.5 -0.5 -4.5 0.5 -4.5 0 -4.5 0.5 -4 0 -2.5 1 -4.5 0.5 -4.5 1 -3 1 -3.5 1 -3 2.5 -3.5 2 -2 4.5 1 2.5 2.5 1.5 3 1 2 1.5 3 2.5 3 2 1 3 -0.5 4 -1.5 2 -1.5 2.5 -1.5 4 -2 2.5 -1 4 -1 2.5 -1 4.5 -0.5 4.5 0 4.5 1 2 0.5 2.5 2 2 2.5 1.5 4 0 4.5 -1.5 4.5 -0.5 2.5 -1.5 2.5 -2.5 3 -2 3 -2 2.5 -2.5 2 -2 2 -2.5 2 -2 1.5 -2.5 1.5 -3.5 2 -3 1.5 -2.5 1 -4 1.5 -2.5 0.5 -4.5 1.5 -2 1.5 -2.5 2.5 -1.5 3.5 -0.5 2 -1 4.5 -0.5 4.5 -1 3.5 -0.5 3 -1.5 3.5 -2 3 -2.5 1M678 2538.5l-4.5 1 -2.5 -3 -1 -2.5 -1 -2.5 -1.5 -4.5 -1 -3.5 -0.5 -3 -1 -4.5 -1 -2 -0.5 -4.5 -1 -4.5 0 -4.5 -0.5 -2 0 -4.5 0 -3 0.5 -4 0.5 -4 0.5 -4.5 0.5 -4.5 0.5 -2.5 1.5 -4.5 1 -2 2 -4 2 -2 4.5 1 2.5 2.5 1 2.5 1.5 2 1.5 3.5 2.5 2.5 2 1 2.5 -0.5 4 -2 2.5 -1.5 2.5 -1 3 -2 3.5 -1.5 2 -0.5 4.5 -1.5 4.5 -0.5 4.5 0.5 4.5 1 2 1.5 2.5 2.5 1 3 0.5 4.5 -1 4.5 -1 2.5 -2 3 -2 3 -2 2.5 -2 2.5 -2.5 2 -2.5 2 -2 1.5 -2.5 1.5 -2.5 1.5 -4 2.5 -2.5 0.5 -4 1.5 -2.5 1 -4.5 1 -2 1.5 -2.5 2 -2 3.5 -1 2.5 -1 4 -0.5 2.5 -0.5 4.5 -1.5 4.5 -0.5 2 -1.5 2.5M675.5 2535.5l-3 -1.5 -1.5 -2.5 -1.5 -4.5 -1 -2 -1 -4.5 -1 -2 -1 -4.5 -1 -4.5 -0.5 -2.5 -0.5 -4.5 -0.5 -4 0 -4.5 0 -4.5 0.5 -4.5 0.5 -4.5 0.5 -2.5 1 -4 1 -4.5 1 -2.5 1.5 -2.5 2 -2.5 4.5 1 2 2 1 2 1.5 2.5 2 3.5 2.5 2.5 2 0.5 2.5 0 3.5 -2 3 -2 2.5 -1.5 2 -1 4.5 -2 2 -1 4.5 -1 4.5 -0.5 4.5 0.5 4 1.5 2 2.5 1.5 2 0.5 4.5 -1 4.5 -0.5 2.5 -2 3 -2.5 3.5 -1.5 2 -2.5 2.5 -2.5 2 -2 2 -2.5 1.5 -2 1.5 -4 1.5 -3 1.5 -2.5 1 -4 1 -4.5 1 -2 1 -2.5 1.5 -2 3 -1.5 3.5 -1 2.5 -1 4 -1 4 -0.5 3 -1.5 4 -2.5 2M675.5 2530l-2.5 -0.5 -2 -3 -1.5 -4 -0.5 -2 -1.5 -4.5 -1 -2 -1 -4.5 -1 -4.5 0 -2.5 -0.5 -4 0 -4.5 0 -4.5 0.5 -4.5 0 -2 1 -4.5 1 -4.5 0.5 -2.5 2 -4 2 -2.5 2.5 -0.5 2 1 2.5 3 1.5 3 1.5 2.5 1.5 2 4 2.5 0.5 0 4 -2 2.5 -1.5 2 -1.5 3.5 -2 3 -1.5 2.5 -1 4.5 -1.5 2 -0.5 4.5 0 2.5 0 4 2 2.5 2.5 1 2.5 0 4.5 -1 4 -1 2.5 -1.5 2 -2 2.5 -2 2.5 -2.5 2 -2 2 -3.5 2.5 -3.5 2 -2 1 -3.5 1 -3 1.5 -4.5 0.5 -2.5 0.5 -4 2 -2.5 2.5 -1 2 -1.5 2.5 -1.5 4.5 -1 2 -1 4.5 -1 2 -2 3M675.5 2523.5l-3 -1 -1.5 -2 -2 -4 -1 -2.5 -1.5 -4.5 -0.5 -2.5 -0.5 -4.5 -0.5 -4 0 -4.5 0 -4.5 0.5 -4.5 0.5 -4.5 0.5 -3.5 1 -3 1.5 -3.5 2 -2.5 4.5 0.5 2.5 3 1.5 2.5 1 2 1.5 2.5 3.5 2 2 0 3.5 -2 2.5 -1.5 2 -1.5 2.5 -1.5 4 -2.5 2.5 -0.5 4.5 -1.5 2 -0.5 4.5 0 2.5 0.5 3 2 1.5 2.5 1 4.5 -1.5 4 -1 2.5 -1.5 2 -1.5 2.5 -2.5 2.5 -2 2 -3 2 -3.5 2.5 -2.5 1 -2.5 1 -4 1.5 -4.5 0.5 -2.5 0.5 -4.5 1.5 -2 2.5 -2 2.5 -1 2 -1.5 3.5 -1.5 3.5 -1 2 -2 3M675.5 2518.5l-3 0 -2 -2.5 -1.5 -3.5 -1 -3 -1 -4.5 -0.5 -2.5 -0.5 -4 -0.5 -4.5 0.5 -4.5 0.5 -4.5 0 -3 1 -3.5 1.5 -4.5 1.5 -2.5 3 -1.5 2.5 1.5 2 2.5 2 4 2 2.5 2 2.5 2.5 0.5 2.5 -1 2.5 -2 3 -2 3 -2.5 2.5 -1.5 2 -1 4.5 -1.5 2.5 -0.5 4.5 -0.5 3 0.5 3 2.5 1 2 0.5 4.5 -1 2.5 -2 4 -2 2.5 -2 2 -3 2.5 -2 1.5 -2.5 1.5 -3 1.5 -3.5 1 -4.5 1 -2 0 -4.5 0.5 -3 1.5 -2.5 2.5 -1.5 2 -2 4 -1.5 3 -1 2 -2 2.5M675.5 2514l-3 0 -2 -2.5 -1.5 -3.5 -1 -3 -1 -4.5 0 -4.5 -0.5 -4.5 0.5 -4.5 0.5 -4 1.5 -4.5 1 -2.5 1.5 -2 3.5 0 2 2 1.5 2.5 1.5 2.5 2 3.5 2.5 2 4.5 -0.5 2 -2 2.5 -2.5 2 -2 2.5 -1.5 3 -2 3.5 -1.5 2 -0.5 4.5 -0.5 3 0.5 3 2 1 2.5 0 3.5 -1.5 3 -1.5 2 -1.5 2.5 -2.5 2 -3 2.5 -3.5 2 -2.5 1 -4 1 -4.5 0 -4.5 -0.5 -2.5 1 -2 2 -2.5 3 -2 3.5 -1 2.5 -1.5 2 -2 2.5M702 2494.5l-4 1 -4.5 -0.5 -2.5 -1.5 -0.5 -4 1 -2.5 2 -2 2 -2.5 2.5 -2 3 -2 3.5 -2 2 -0.5 4.5 0 2.5 1 1.5 3.5 -1 4.5 -1.5 2 -2 2.5 -2.5 2 -3.5 2.5 -2.5 0.5M675.5 2510.5l-4 -1 -1 -2.5 -1.5 -3.5 -0.5 -3 -0.5 -4.5 0 -4.5 0 -4.5 1 -4 0.5 -2.5 1.5 -3 4.5 0 2.5 3 1 2.5 1.5 2 1.5 3.5 2 3 -0.5 4.5 -1.5 3.5 -1.5 3 -1 2.5 -1.5 3 -2.5 2.5M673.5 2507.5l-2.5 -2 -1 -3 -1 -4 0 -2.5 0 -4.5 0 -2 1 -4.5 1 -4 2.5 -1.5 2 1 2.5 3 1.5 3.5 1 2.5 0.5 4.5 -0.5 4.5 -1 2 -1.5 4 -2.5 2.5 -2 0.5M702 2492l-4 0.5 -2.5 -1 -0.5 -4.5 1.5 -2 2 -2 3 -2.5 3 -1 4.5 -0.5 2.5 1.5 -0.5 4 -1.5 2.5 -2.5 2.5 -2.5 1.5 -2.5 1M673.5 2503l-2 -2.5 -0.5 -2 -0.5 -4.5 0.5 -4.5 0 -2.5 2.5 -3 2 1 2.5 4.5 0.5 2 0 4.5 -0.5 2.5 -2.5 4 -2 0.5" stroke="#e23c40" stroke-width="1.0" fill="none" stroke-linejoin="round"/>
</g>
<path d="M715.5 2531.1h0.1M708.8 2562.9h0.1M714.5 2536.1h0.1M771 2520.7h0.1M774.3 2553.9h0.1M740.2 2543.7h0.1M743.3 2517h0.1M776.7 2521.3h0.1M775.6 2566h0.1M698 2506.8h0.1M734.5 2562.2h0.1M710.1 2542.4h0.1M725.5 2559.3h0.1M771 2557h0.1M711.4 2556.8h0.1M731.3 2564.5h0.1M733.9 2571.4h0.1M775.8 2563.2h0.1M762.8 2562.7h0.1M743.8 2498.5h0.1M775.8 2527.3h0.1M697 2524.4h0.1M729.4 2501.1h0.1M773.7 2492.3h0.1M769.1 2535.8h0.1M710.2 2516.8h0.1M732.3 2492.8h0.1M757.7 2546h0.1M775.5 2563.7h0.1M759.5 2580.4h0.1M771.4 2545.2h0.1M739.5 2533.3h0.1M761.8 2573.2h0.1M763.2 2564.7h0.1M697.9 2523h0.1M702.8 2539.4h0.1M742.8 2536.9h0.1M765.4 2503.5h0.1M754.9 2539.5h0.1M713 2578.5h0.1M700 2527.4h0.1M739.2 2540.4h0.1M775.5 2536h0.1M767.7 2510.4h0.1M734.8 2495.7h0.1M747.7 2523.2h0.1M759.5 2492.3h0.1M733.4 2576.6h0.1M696.6 2546.9h0.1M750.7 2553.4h0.1M741 2531h0.1M773.6 2509.3h0.1M752.9 2547.7h0.1M754.9 2528.7h0.1M697.1 2558.3h0.1M718.4 2559h0.1M775.9 2558.4h0.1M728.4 2566.5h0.1M727 2513h0.1M742.1 2546.2h0.1" stroke="#e58a8a" stroke-width="1.2" stroke-linecap="round" fill="none"/>
<rect x="626.7" y="2442.8" width="153.3" height="153.2" fill="none" stroke="#555" stroke-width="1.2"/>
<rect x="637.7" y="2447.7" width="46.1" height="75.5" fill="none" stroke="#222" stroke-width="1.4"/>
<rect x="683.8" y="2447.7" width="49.6" height="75.5" fill="none" stroke="#222" stroke-width="1.4"/>
<rect x="637.7" y="2523.2" width="61.1" height="72.8" fill="none" stroke="#222" stroke-width="1.4"/>
<rect x="698.8" y="2523.2" width="80.7" height="72.8" fill="none" stroke="#222" stroke-width="1.4"/>
<path d="M626.7 2450.8H622.7M634.7 2602V2606M626.7 2454.3H624.7M638.3 2602V2604M626.7 2457.9H624.7M641.9 2602V2604M626.7 2461.4H624.7M645.4 2602V2604M626.7 2464.9H624.7M649 2602V2604M626.7 2468.5H624.7M652.6 2602V2604M626.7 2472H624.7M656.2 2602V2604M626.7 2475.5H624.7M659.8 2602V2604M626.7 2479H624.7M663.4 2602V2604M626.7 2482.6H622.7M666.9 2602V2606M626.7 2486.1H624.7M670.5 2602V2604M626.7 2489.6H624.7M674.1 2602V2604M626.7 2493.2H624.7M677.7 2602V2604M626.7 2496.7H624.7M681.3 2602V2604M626.7 2500.2H624.7M684.9 2602V2604M626.7 2503.8H624.7M688.4 2602V2604M626.7 2507.3H624.7M692 2602V2604M626.7 2510.8H624.7M695.6 2602V2604M626.7 2514.3H622.7M699.2 2602V2606M626.7 2517.9H624.7M702.8 2602V2604M626.7 2521.4H624.7M706.4 2602V2604M626.7 2524.9H624.7M709.9 2602V2604M626.7 2528.5H624.7M713.5 2602V2604M626.7 2532H624.7M717.1 2602V2604M626.7 2535.5H624.7M720.7 2602V2604M626.7 2539.1H624.7M724.3 2602V2604M626.7 2542.6H624.7M727.8 2602V2604M626.7 2546.1H622.7M731.4 2602V2606M626.7 2549.6H624.7M735 2602V2604M626.7 2553.2H624.7M738.6 2602V2604M626.7 2556.7H624.7M742.2 2602V2604M626.7 2560.2H624.7M745.8 2602V2604M626.7 2563.8H624.7M749.3 2602V2604M626.7 2567.3H624.7M752.9 2602V2604M626.7 2570.8H624.7M756.5 2602V2604M626.7 2574.3H624.7M760.1 2602V2604M626.7 2577.9H622.7M763.7 2602V2606M626.7 2581.4H624.7M767.3 2602V2604M626.7 2584.9H624.7M770.8 2602V2604M626.7 2588.5H624.7M774.4 2602V2604" stroke="#444" stroke-width="0.9" fill="none"/>
<path d="M629.7 2602H780" stroke="#333" stroke-width="1.3"/>
<text x="638.7" y="2464.3" font-size="17.5" text-anchor="start" fill="#000">44.7%</text>
<text x="638.7" y="2478.8" font-size="17.5" text-anchor="start" fill="#e0282e">67.2%</text>
<text x="685.3" y="2464.3" font-size="17.5" text-anchor="start" fill="#000">1.08%</text>
<text x="685.3" y="2478.8" font-size="17.5" text-anchor="start" fill="#e0282e">26.2%</text>
<text x="638.7" y="2576.7" font-size="17.5" text-anchor="start" fill="#000">21.7%</text>
<text x="638.7" y="2592" font-size="17.5" text-anchor="start" fill="#e0282e">3.93%</text>
<text x="776" y="2576.7" font-size="17.5" text-anchor="end" fill="#000">31.9%</text>
<text x="776" y="2592" font-size="17.5" text-anchor="end" fill="#e0282e">2.61%</text>
<text font-size="18" text-anchor="end" fill="#000" transform="translate(619.2 2481.3) rotate(0) scale(0.82 1)">10<tspan font-size="13" dy="-8.5">5</tspan></text>
<text font-size="18" text-anchor="end" fill="#000" transform="translate(619.2 2513.3) rotate(0) scale(0.82 1)">10<tspan font-size="13" dy="-8.5">4</tspan></text>
<text font-size="18" text-anchor="end" fill="#000" transform="translate(619.2 2551.3) rotate(0) scale(0.82 1)">10<tspan font-size="13" dy="-8.5">3</tspan></text>
<text font-size="18" text-anchor="end" fill="#000" transform="translate(619.2 2588.3) rotate(0) scale(0.82 1)">-10<tspan font-size="13" dy="-8.5">3</tspan></text>
<text font-size="18" text-anchor="end" fill="#000" transform="translate(613.7 2568.8) rotate(0) scale(0.82 1)">0</text>
<text font-size="18" text-anchor="start" fill="#000" transform="translate(629.4 2622.5) rotate(0) scale(0.82 1)">-10<tspan font-size="13" dy="-8.5">3</tspan></text>
<text font-size="18" text-anchor="start" fill="#000" transform="translate(658.4 2622.5) rotate(0) scale(0.82 1)">0</text>
<text font-size="18" text-anchor="start" fill="#000" transform="translate(683.2 2622.5) rotate(0) scale(0.82 1)">10<tspan font-size="13" dy="-8.5">3</tspan></text>
<text font-size="18" text-anchor="start" fill="#000" transform="translate(724.2 2622.5) rotate(0) scale(0.82 1)">10<tspan font-size="13" dy="-8.5">4</tspan></text>
<text font-size="18" text-anchor="start" fill="#000" transform="translate(757.7 2622.5) rotate(0) scale(0.82 1)">10<tspan font-size="13" dy="-8.5">5</tspan></text>
<text x="103" y="2558" font-size="20" text-anchor="middle" fill="#000" transform="rotate(-90 103 2558)">IgM-PE-CF594</text>
<path d="M96.5 2490V2452" stroke="#000" stroke-width="2.2"/>
<path d="M96.5 2438l-6 17h12z" fill="#000"/>
<text x="115" y="2649" font-size="21" text-anchor="start" fill="#000">IgG-FITC</text>
<path d="M208 2641.5H780" stroke="#000" stroke-width="2.2"/>
<path d="M796 2641.5l-18 -6.5v13z" fill="#000"/>
<rect x="235.6" y="2692.8" width="50" height="14" fill="#808080"/>
<rect x="445.8" y="2692.8" width="50" height="14" fill="#f07c7c"/>
<text x="294.5" y="2709" font-size="27" text-anchor="start" fill="#000">HC-Ag</text>
<text x="504.7" y="2709" font-size="27" text-anchor="start" fill="#000">pRD-Ag</text>
<text x="903.5" y="2348.5" font-size="49.5" text-anchor="start" fill="#000">e</text>
<rect x="1048.9" y="2498.1" width="13.4" height="105.6" fill="#d9d9d9" stroke="#222" stroke-width="1.1"/>
<rect x="1063.9" y="2551.8" width="13.4" height="51.9" fill="#f4a7a4" stroke="#222" stroke-width="1.1"/>
<rect x="1091.2" y="2527.7" width="13.4" height="76" fill="#d9d9d9" stroke="#222" stroke-width="1.1"/>
<rect x="1106.2" y="2501.8" width="13.4" height="101.9" fill="#f4a7a4" stroke="#222" stroke-width="1.1"/>
<rect x="1133.5" y="2600" width="13.4" height="3.7" fill="#d9d9d9" stroke="#222" stroke-width="1.1"/>
<rect x="1148.5" y="2598.1" width="13.4" height="5.6" fill="#f4a7a4" stroke="#222" stroke-width="1.1"/>
<rect x="1175.8" y="2601.8" width="13.4" height="1.9" fill="#d9d9d9" stroke="#222" stroke-width="1.1"/>
<rect x="1190.8" y="2583.3" width="13.4" height="20.4" fill="#f4a7a4" stroke="#222" stroke-width="1.1"/>
<g fill="#9a9a9a" stroke="#444" stroke-width="1"><circle cx="1056.9" cy="2462" r="4.2"/><circle cx="1055.4" cy="2437.1" r="4.2"/><circle cx="1058.7" cy="2480.7" r="4.2"/><circle cx="1055.7" cy="2417.8" r="4.2"/><circle cx="1050.6" cy="2532.1" r="4.2"/><circle cx="1054.3" cy="2499.2" r="4.2"/><circle cx="1058.5" cy="2513.2" r="4.2"/><circle cx="1052.9" cy="2507" r="4.2"/><circle cx="1060.6" cy="2496.6" r="4.2"/><circle cx="1058" cy="2484.5" r="4.2"/><circle cx="1050.9" cy="2452.8" r="4.2"/><circle cx="1053.9" cy="2543.4" r="4.2"/><circle cx="1060.1" cy="2521.1" r="4.2"/><circle cx="1093.2" cy="2491.1" r="4.2"/><circle cx="1093.8" cy="2528.9" r="4.2"/><circle cx="1097.9" cy="2550.9" r="4.2"/><circle cx="1097.8" cy="2603.7" r="4.2"/><circle cx="1095.1" cy="2586.2" r="4.2"/><circle cx="1099" cy="2546.9" r="4.2"/><circle cx="1094.7" cy="2576.2" r="4.2"/><circle cx="1094.6" cy="2545.7" r="4.2"/><circle cx="1096.4" cy="2576.8" r="4.2"/><circle cx="1098.9" cy="2458.6" r="4.2"/><circle cx="1093.6" cy="2533.8" r="4.2"/><circle cx="1101" cy="2511.5" r="4.2"/><circle cx="1099.7" cy="2521.7" r="4.2"/><circle cx="1099.7" cy="2563.1" r="4.2"/><circle cx="1135.5" cy="2602.9" r="4.2"/><circle cx="1137.3" cy="2600.5" r="4.2"/><circle cx="1144" cy="2598.3" r="4.2"/><circle cx="1141.2" cy="2602.8" r="4.2"/><circle cx="1143.7" cy="2602.2" r="4.2"/><circle cx="1138.3" cy="2598.9" r="4.2"/><circle cx="1142.9" cy="2601.4" r="4.2"/><circle cx="1135.3" cy="2600.3" r="4.2"/><circle cx="1135.4" cy="2601.8" r="4.2"/><circle cx="1141.1" cy="2603.7" r="4.2"/><circle cx="1141" cy="2602.2" r="4.2"/><circle cx="1137.8" cy="2602.8" r="4.2"/><circle cx="1144.3" cy="2603.7" r="4.2"/><circle cx="1181.4" cy="2602.1" r="4.2"/><circle cx="1180.6" cy="2601.3" r="4.2"/><circle cx="1182.5" cy="2600.6" r="4.2"/><circle cx="1183" cy="2602.8" r="4.2"/><circle cx="1183.5" cy="2601" r="4.2"/><circle cx="1182.6" cy="2602.1" r="4.2"/><circle cx="1180.6" cy="2602.3" r="4.2"/><circle cx="1184.5" cy="2603.7" r="4.2"/><circle cx="1178.1" cy="2603.7" r="4.2"/><circle cx="1185.6" cy="2602.2" r="4.2"/><circle cx="1180.7" cy="2600.1" r="4.2"/><circle cx="1187.4" cy="2602.1" r="4.2"/><circle cx="1178.2" cy="2601.3" r="4.2"/></g>
<g fill="#f08080" stroke="#b03030" stroke-width="1"><circle cx="1074.9" cy="2545.9" r="4.2"/><circle cx="1070.1" cy="2564.9" r="4.2"/><circle cx="1070.4" cy="2575.9" r="4.2"/><circle cx="1067.5" cy="2560" r="4.2"/><circle cx="1067.9" cy="2497.6" r="4.2"/><circle cx="1073.4" cy="2538.9" r="4.2"/><circle cx="1074.5" cy="2533" r="4.2"/><circle cx="1073.1" cy="2481.1" r="4.2"/><circle cx="1072.9" cy="2548.9" r="4.2"/><circle cx="1066.8" cy="2588.3" r="4.2"/><circle cx="1067.6" cy="2603.3" r="4.2"/><circle cx="1074.8" cy="2544.1" r="4.2"/><circle cx="1069.3" cy="2530.1" r="4.2"/><circle cx="1117.8" cy="2474.3" r="4.2"/><circle cx="1117.5" cy="2509.1" r="4.2"/><circle cx="1112.8" cy="2550.3" r="4.2"/><circle cx="1111.7" cy="2532.8" r="4.2"/><circle cx="1109.5" cy="2500.8" r="4.2"/><circle cx="1108.6" cy="2445" r="4.2"/><circle cx="1112.7" cy="2485.5" r="4.2"/><circle cx="1116.3" cy="2546.9" r="4.2"/><circle cx="1110.8" cy="2481.5" r="4.2"/><circle cx="1112.1" cy="2494.9" r="4.2"/><circle cx="1111.3" cy="2496.7" r="4.2"/><circle cx="1116.9" cy="2492.5" r="4.2"/><circle cx="1112.7" cy="2456" r="4.2"/><circle cx="1110.4" cy="2506.6" r="4.2"/><circle cx="1154.7" cy="2597.4" r="4.2"/><circle cx="1151.6" cy="2597.7" r="4.2"/><circle cx="1151.5" cy="2594.5" r="4.2"/><circle cx="1155.6" cy="2602.1" r="4.2"/><circle cx="1152.4" cy="2600.1" r="4.2"/><circle cx="1151.9" cy="2594.3" r="4.2"/><circle cx="1157.3" cy="2596.7" r="4.2"/><circle cx="1155.7" cy="2594.8" r="4.2"/><circle cx="1158.9" cy="2592.5" r="4.2"/><circle cx="1157.9" cy="2596.5" r="4.2"/><circle cx="1154.8" cy="2598" r="4.2"/><circle cx="1150.8" cy="2598.6" r="4.2"/><circle cx="1157.3" cy="2597.9" r="4.2"/><circle cx="1192.7" cy="2595.5" r="4.2"/><circle cx="1198.9" cy="2579.2" r="4.2"/><circle cx="1196.4" cy="2593.8" r="4.2"/><circle cx="1196.5" cy="2579.4" r="4.2"/><circle cx="1196.8" cy="2582.9" r="4.2"/><circle cx="1195" cy="2580.4" r="4.2"/><circle cx="1199.7" cy="2588.2" r="4.2"/><circle cx="1197.1" cy="2599.7" r="4.2"/><circle cx="1197.4" cy="2582.5" r="4.2"/><circle cx="1198.8" cy="2574.2" r="4.2"/><circle cx="1197.3" cy="2579.5" r="4.2"/><circle cx="1197.4" cy="2584.2" r="4.2"/><circle cx="1200.3" cy="2587.3" r="4.2"/></g>
<path d="M1054.3 2493.9l3.6 6.2h-7.2zM1136.5 2593.6l3.6 6.2h-7.2zM1185.6 2597.6l3.6 6.2h-7.2z" fill="#ececec" stroke="#333" stroke-width="1"/>
<path d="M1070.1 2566.5l3.6 6.2h-7.2zM1152.7 2596.6l3.6 6.2h-7.2zM1198.8 2598.6l3.6 6.2h-7.2z" fill="#f7c4c4" stroke="#333" stroke-width="1"/>
<path d="M1055.6 2498.1V2485.7m-4 0h8M1055.6 2498.1V2510.5M1070.6 2551.8V2544.4m-4 0h8M1070.6 2551.8V2559.2M1097.9 2527.7V2517.8m-4 0h8M1097.9 2527.7V2537.6M1112.9 2501.8V2494.4m-4 0h8M1112.9 2501.8V2509.2M1140.2 2600V2599.5m-4 0h8M1140.2 2600V2600.5M1155.2 2598.1V2597.2m-4 0h8M1155.2 2598.1V2599.1M1182.5 2601.8V2601.4m-4 0h8M1182.5 2601.8V2602.3M1197.5 2583.3V2580.8m-4 0h8M1197.5 2583.3V2585.8" stroke="#222" stroke-width="1.3" fill="none"/>
<path d="M1041.8 2417.4V2603.7H1208.8" stroke="#000" stroke-width="2" fill="none"/>
<path d="M1041.8 2603.7H1037.8M1041.8 2566.6H1037.8M1041.8 2529.6H1037.8M1041.8 2492.5H1037.8M1041.8 2455.5H1037.8M1041.8 2418.4H1037.8M1063.1 2603.7V2607.7M1105.4 2603.7V2607.7M1147.7 2603.7V2607.7M1190 2603.7V2607.7" stroke="#000" stroke-width="1.8" fill="none"/>
<text x="1034.3" y="2612.2" font-size="23.5" text-anchor="end" fill="#000">0</text>
<text x="1034.3" y="2575.1" font-size="23.5" text-anchor="end" fill="#000">20</text>
<text x="1034.3" y="2538.1" font-size="23.5" text-anchor="end" fill="#000">40</text>
<text x="1034.3" y="2501" font-size="23.5" text-anchor="end" fill="#000">60</text>
<text x="1034.3" y="2464" font-size="23.5" text-anchor="end" fill="#000">80</text>
<text x="1034.3" y="2426.9" font-size="23.5" text-anchor="end" fill="#000">100</text>
<text x="998" y="2511" font-size="21" text-anchor="middle" fill="#000" transform="rotate(-90 998 2511)">Frequency (%)</text>
<text x="1060.1" y="2615.7" font-size="17.5" text-anchor="end" fill="#000" font-style="italic" transform="rotate(-40 1060.1 2615.7)">IgM<tspan font-size="12" dy="-7">&#8211;</tspan><tspan dy="7"> IgG</tspan><tspan font-size="12" dy="-7">&#8211;</tspan></text>
<text x="1102.4" y="2615.7" font-size="17.5" text-anchor="end" fill="#000" font-style="italic" transform="rotate(-40 1102.4 2615.7)">IgM<tspan font-size="12" dy="-7">+</tspan><tspan dy="7">IgG</tspan><tspan font-size="12" dy="-7">&#8211;</tspan></text>
<text x="1144.7" y="2615.7" font-size="17.5" text-anchor="end" fill="#000" font-style="italic" transform="rotate(-40 1144.7 2615.7)">IgM<tspan font-size="12" dy="-7">&#8211;</tspan><tspan dy="7">IgG</tspan><tspan font-size="12" dy="-7">+</tspan></text>
<text x="1187" y="2615.7" font-size="17.5" text-anchor="end" fill="#000" font-style="italic" transform="rotate(-40 1187 2615.7)">IgM<tspan font-size="12" dy="-7">+</tspan><tspan dy="7">IgG</tspan><tspan font-size="12" dy="-7">dim</tspan></text>
<path d="M1051.9 2429.6H1069.3" stroke="#000" stroke-width="2.2"/>
<text x="1059.6" y="2428.1" font-size="22.5" text-anchor="start" fill="#000" transform="rotate(-43 1059.6 2428.1)">0.001</text>
<path d="M1098.3 2429.6H1115.7" stroke="#000" stroke-width="2.2"/>
<text x="1106" y="2428.1" font-size="22.5" text-anchor="start" fill="#000" transform="rotate(-43 1106 2428.1)">0.062</text>
<path d="M1143.4 2429.6H1160.8" stroke="#000" stroke-width="2.2"/>
<text x="1151.1" y="2428.1" font-size="22.5" text-anchor="start" fill="#000" transform="rotate(-43 1151.1 2428.1)">0.044</text>
<path d="M1189.5 2429.6H1206.9" stroke="#000" stroke-width="2.2"/>
<text x="1197.2" y="2428.1" font-size="22.5" text-anchor="start" fill="#000" transform="rotate(-43 1197.2 2428.1)">0.000001</text>
<text x="1137.5" y="2357" font-size="25" text-anchor="middle" fill="#1f6fb4" font-weight="bold">CD38<tspan font-size="16.5" dy="-10">int</tspan></text>
<rect x="1355.6" y="2531.4" width="13.4" height="72.3" fill="#d9d9d9" stroke="#222" stroke-width="1.1"/>
<rect x="1370.6" y="2555.5" width="13.4" height="48.2" fill="#f4a7a4" stroke="#222" stroke-width="1.1"/>
<rect x="1397.9" y="2511" width="13.4" height="92.7" fill="#d9d9d9" stroke="#222" stroke-width="1.1"/>
<rect x="1412.9" y="2512.9" width="13.4" height="90.8" fill="#f4a7a4" stroke="#222" stroke-width="1.1"/>
<rect x="1440.2" y="2587" width="13.4" height="16.7" fill="#d9d9d9" stroke="#222" stroke-width="1.1"/>
<rect x="1455.2" y="2594.4" width="13.4" height="9.3" fill="#f4a7a4" stroke="#222" stroke-width="1.1"/>
<rect x="1482.5" y="2598.1" width="13.4" height="5.6" fill="#d9d9d9" stroke="#222" stroke-width="1.1"/>
<rect x="1497.5" y="2572.2" width="13.4" height="31.5" fill="#f4a7a4" stroke="#222" stroke-width="1.1"/>
<g fill="#9a9a9a" stroke="#444" stroke-width="1"><circle cx="1357.5" cy="2513.7" r="4.2"/><circle cx="1367.3" cy="2536.2" r="4.2"/><circle cx="1363.8" cy="2524.6" r="4.2"/><circle cx="1360.8" cy="2515.9" r="4.2"/><circle cx="1366.9" cy="2512.8" r="4.2"/><circle cx="1360.5" cy="2546.9" r="4.2"/><circle cx="1364.2" cy="2593.7" r="4.2"/><circle cx="1366.5" cy="2577.4" r="4.2"/><circle cx="1366.1" cy="2534.2" r="4.2"/><circle cx="1363.2" cy="2541.6" r="4.2"/><circle cx="1365.8" cy="2539.5" r="4.2"/><circle cx="1363.1" cy="2511.3" r="4.2"/><circle cx="1366.9" cy="2478.2" r="4.2"/><circle cx="1403.2" cy="2415.7" r="4.2"/><circle cx="1403.9" cy="2452.1" r="4.2"/><circle cx="1409.1" cy="2574" r="4.2"/><circle cx="1404.7" cy="2467" r="4.2"/><circle cx="1408.6" cy="2523.2" r="4.2"/><circle cx="1401.3" cy="2502.3" r="4.2"/><circle cx="1402.9" cy="2540.6" r="4.2"/><circle cx="1403.2" cy="2520" r="4.2"/><circle cx="1405" cy="2507.7" r="4.2"/><circle cx="1407.6" cy="2502.5" r="4.2"/><circle cx="1406.5" cy="2524.5" r="4.2"/><circle cx="1400.1" cy="2528.9" r="4.2"/><circle cx="1408.8" cy="2564.1" r="4.2"/><circle cx="1404.2" cy="2477.8" r="4.2"/><circle cx="1446.6" cy="2587.6" r="4.2"/><circle cx="1444" cy="2583.7" r="4.2"/><circle cx="1451.2" cy="2593.8" r="4.2"/><circle cx="1450.2" cy="2577" r="4.2"/><circle cx="1450.4" cy="2580" r="4.2"/><circle cx="1442.2" cy="2585.3" r="4.2"/><circle cx="1445.7" cy="2584.5" r="4.2"/><circle cx="1449.4" cy="2578.8" r="4.2"/><circle cx="1444.4" cy="2588.7" r="4.2"/><circle cx="1444.2" cy="2595.1" r="4.2"/><circle cx="1448.6" cy="2587.3" r="4.2"/><circle cx="1443.5" cy="2584.3" r="4.2"/><circle cx="1442.5" cy="2578.8" r="4.2"/><circle cx="1493.9" cy="2600.4" r="4.2"/><circle cx="1486.1" cy="2603.7" r="4.2"/><circle cx="1491.8" cy="2603.7" r="4.2"/><circle cx="1488.1" cy="2593.9" r="4.2"/><circle cx="1485.8" cy="2599.5" r="4.2"/><circle cx="1484.7" cy="2600.2" r="4.2"/><circle cx="1489.4" cy="2600.1" r="4.2"/><circle cx="1493.9" cy="2596.3" r="4.2"/><circle cx="1492.8" cy="2595.4" r="4.2"/><circle cx="1490.2" cy="2594.3" r="4.2"/><circle cx="1484.4" cy="2603.7" r="4.2"/><circle cx="1493.7" cy="2599.2" r="4.2"/><circle cx="1492.5" cy="2600.8" r="4.2"/></g>
<g fill="#f08080" stroke="#b03030" stroke-width="1"><circle cx="1381.9" cy="2574.1" r="4.2"/><circle cx="1375.4" cy="2571.3" r="4.2"/><circle cx="1378.8" cy="2540.3" r="4.2"/><circle cx="1373.7" cy="2603.7" r="4.2"/><circle cx="1374.2" cy="2534.2" r="4.2"/><circle cx="1372.8" cy="2597.1" r="4.2"/><circle cx="1381.6" cy="2563.4" r="4.2"/><circle cx="1377.4" cy="2557.1" r="4.2"/><circle cx="1378.9" cy="2587.7" r="4.2"/><circle cx="1381.5" cy="2559" r="4.2"/><circle cx="1378.1" cy="2566.3" r="4.2"/><circle cx="1375.3" cy="2527" r="4.2"/><circle cx="1376.6" cy="2588" r="4.2"/><circle cx="1420.4" cy="2549" r="4.2"/><circle cx="1424.5" cy="2512.6" r="4.2"/><circle cx="1421.9" cy="2514.2" r="4.2"/><circle cx="1421" cy="2546.4" r="4.2"/><circle cx="1422.8" cy="2544.4" r="4.2"/><circle cx="1420.7" cy="2471.6" r="4.2"/><circle cx="1419.6" cy="2507.6" r="4.2"/><circle cx="1420.9" cy="2514.9" r="4.2"/><circle cx="1421.5" cy="2522.7" r="4.2"/><circle cx="1418.9" cy="2497.6" r="4.2"/><circle cx="1424.3" cy="2513.9" r="4.2"/><circle cx="1418.1" cy="2504.3" r="4.2"/><circle cx="1417.1" cy="2497.6" r="4.2"/><circle cx="1457.2" cy="2586.2" r="4.2"/><circle cx="1464.6" cy="2592.2" r="4.2"/><circle cx="1466.8" cy="2584" r="4.2"/><circle cx="1465.4" cy="2594.2" r="4.2"/><circle cx="1458.3" cy="2593.5" r="4.2"/><circle cx="1460.3" cy="2585.3" r="4.2"/><circle cx="1457" cy="2585.5" r="4.2"/><circle cx="1460.7" cy="2603.7" r="4.2"/><circle cx="1464.9" cy="2597.4" r="4.2"/><circle cx="1465.8" cy="2598" r="4.2"/><circle cx="1465.4" cy="2601.1" r="4.2"/><circle cx="1462" cy="2596.7" r="4.2"/><circle cx="1458.5" cy="2592.2" r="4.2"/><circle cx="1508.6" cy="2564.6" r="4.2"/><circle cx="1508.3" cy="2556.4" r="4.2"/><circle cx="1506.6" cy="2589.8" r="4.2"/><circle cx="1502.5" cy="2561.3" r="4.2"/><circle cx="1506.5" cy="2537.5" r="4.2"/><circle cx="1508.2" cy="2578.7" r="4.2"/><circle cx="1502.4" cy="2565.4" r="4.2"/><circle cx="1502" cy="2592.7" r="4.2"/><circle cx="1508.5" cy="2571.8" r="4.2"/><circle cx="1502.2" cy="2567.1" r="4.2"/><circle cx="1500.2" cy="2559.4" r="4.2"/><circle cx="1503.7" cy="2570.3" r="4.2"/><circle cx="1504" cy="2576.7" r="4.2"/></g>
<path d="M1363 2549.5l3.6 6.2h-7.2zM1446.9 2590.1l3.6 6.2h-7.2zM1485.2 2599.9l3.6 6.2h-7.2z" fill="#ececec" stroke="#333" stroke-width="1"/>
<path d="M1379 2574l3.6 6.2h-7.2zM1423.3 2495.1l3.6 6.2h-7.2zM1465.3 2585.1l3.6 6.2h-7.2zM1503.3 2560.4l3.6 6.2h-7.2z" fill="#f7c4c4" stroke="#333" stroke-width="1"/>
<path d="M1362.3 2531.4V2522.5m-4 0h8M1362.3 2531.4V2540.3M1377.3 2555.5V2547.1m-4 0h8M1377.3 2555.5V2563.9M1404.6 2511V2502.1m-4 0h8M1404.6 2511V2520M1419.6 2512.9V2505m-4 0h8M1419.6 2512.9V2520.8M1446.9 2587V2585m-4 0h8M1446.9 2587V2589M1461.9 2594.4V2592.5m-4 0h8M1461.9 2594.4V2596.4M1489.2 2598.1V2597.2m-4 0h8M1489.2 2598.1V2599.1M1504.2 2572.2V2568.2m-4 0h8M1504.2 2572.2V2576.2" stroke="#222" stroke-width="1.3" fill="none"/>
<path d="M1348.5 2417.4V2603.7H1515.5" stroke="#000" stroke-width="2" fill="none"/>
<path d="M1348.5 2603.7H1344.5M1348.5 2566.6H1344.5M1348.5 2529.6H1344.5M1348.5 2492.5H1344.5M1348.5 2455.5H1344.5M1348.5 2418.4H1344.5M1369.8 2603.7V2607.7M1412.1 2603.7V2607.7M1454.4 2603.7V2607.7M1496.7 2603.7V2607.7" stroke="#000" stroke-width="1.8" fill="none"/>
<text x="1341" y="2612.2" font-size="23.5" text-anchor="end" fill="#000">0</text>
<text x="1341" y="2575.1" font-size="23.5" text-anchor="end" fill="#000">20</text>
<text x="1341" y="2538.1" font-size="23.5" text-anchor="end" fill="#000">40</text>
<text x="1341" y="2501" font-size="23.5" text-anchor="end" fill="#000">60</text>
<text x="1341" y="2464" font-size="23.5" text-anchor="end" fill="#000">80</text>
<text x="1341" y="2426.9" font-size="23.5" text-anchor="end" fill="#000">100</text>
<text x="1305" y="2511" font-size="21" text-anchor="middle" fill="#000" transform="rotate(-90 1305 2511)">Frequency (%)</text>
<text x="1366.8" y="2615.7" font-size="17.5" text-anchor="end" fill="#000" font-style="italic" transform="rotate(-40 1366.8 2615.7)">IgM<tspan font-size="12" dy="-7">&#8211;</tspan><tspan dy="7"> IgG</tspan><tspan font-size="12" dy="-7">&#8211;</tspan></text>
<text x="1409.1" y="2615.7" font-size="17.5" text-anchor="end" fill="#000" font-style="italic" transform="rotate(-40 1409.1 2615.7)">IgM<tspan font-size="12" dy="-7">+</tspan><tspan dy="7">IgG</tspan><tspan font-size="12" dy="-7">&#8211;</tspan></text>
<text x="1451.4" y="2615.7" font-size="17.5" text-anchor="end" fill="#000" font-style="italic" transform="rotate(-40 1451.4 2615.7)">IgM<tspan font-size="12" dy="-7">&#8211;</tspan><tspan dy="7">IgG</tspan><tspan font-size="12" dy="-7">+</tspan></text>
<text x="1493.7" y="2615.7" font-size="17.5" text-anchor="end" fill="#000" font-style="italic" transform="rotate(-40 1493.7 2615.7)">IgM<tspan font-size="12" dy="-7">+</tspan><tspan dy="7">IgG</tspan><tspan font-size="12" dy="-7">dim</tspan></text>
<path d="M1355.8 2427.9H1373.2" stroke="#000" stroke-width="2.2"/>
<text x="1363.5" y="2426.4" font-size="22.5" text-anchor="start" fill="#000" transform="rotate(-43 1363.5 2426.4)">0.351</text>
<path d="M1402 2427.9H1419.4" stroke="#000" stroke-width="2.2"/>
<text x="1409.7" y="2426.4" font-size="22.5" text-anchor="start" fill="#000" transform="rotate(-43 1409.7 2426.4)">0.981</text>
<path d="M1447.3 2427.9H1464.7" stroke="#000" stroke-width="2.2"/>
<text x="1455" y="2426.4" font-size="22.5" text-anchor="start" fill="#000" transform="rotate(-43 1455 2426.4)">0.351</text>
<path d="M1493.5 2427.9H1510.9" stroke="#000" stroke-width="2.2"/>
<text x="1501.2" y="2426.4" font-size="22.5" text-anchor="start" fill="#000" transform="rotate(-43 1501.2 2426.4)">0.00003</text>
<text x="1437" y="2357" font-size="25" text-anchor="middle" fill="#b4141c" font-weight="bold">CD38<tspan font-size="16.5" dy="-10">&#8211;</tspan></text>
<rect x="1671.2" y="2551.8" width="13.4" height="51.9" fill="#d9d9d9" stroke="#222" stroke-width="1.1"/>
<rect x="1686.2" y="2564.8" width="13.4" height="38.9" fill="#f4a7a4" stroke="#222" stroke-width="1.1"/>
<rect x="1713.5" y="2533.3" width="13.4" height="70.4" fill="#d9d9d9" stroke="#222" stroke-width="1.1"/>
<rect x="1728.5" y="2509.2" width="13.4" height="94.5" fill="#f4a7a4" stroke="#222" stroke-width="1.1"/>
<rect x="1755.8" y="2550" width="13.4" height="53.7" fill="#d9d9d9" stroke="#222" stroke-width="1.1"/>
<rect x="1770.8" y="2587" width="13.4" height="16.7" fill="#f4a7a4" stroke="#222" stroke-width="1.1"/>
<rect x="1798.1" y="2600" width="13.4" height="3.7" fill="#d9d9d9" stroke="#222" stroke-width="1.1"/>
<rect x="1813.1" y="2572.2" width="13.4" height="31.5" fill="#f4a7a4" stroke="#222" stroke-width="1.1"/>
<g fill="#9a9a9a" stroke="#444" stroke-width="1"><circle cx="1681.8" cy="2511.6" r="4.2"/><circle cx="1673.7" cy="2572.3" r="4.2"/><circle cx="1678.2" cy="2568.1" r="4.2"/><circle cx="1674.2" cy="2562.4" r="4.2"/><circle cx="1675.1" cy="2544.7" r="4.2"/><circle cx="1677.5" cy="2533" r="4.2"/><circle cx="1680" cy="2544.1" r="4.2"/><circle cx="1677.1" cy="2550.6" r="4.2"/><circle cx="1676.5" cy="2581.9" r="4.2"/><circle cx="1673.5" cy="2554.2" r="4.2"/><circle cx="1679.5" cy="2546.7" r="4.2"/><circle cx="1679.1" cy="2576" r="4.2"/><circle cx="1680.5" cy="2534.5" r="4.2"/><circle cx="1720.7" cy="2523.6" r="4.2"/><circle cx="1724.4" cy="2551.3" r="4.2"/><circle cx="1716.9" cy="2589.3" r="4.2"/><circle cx="1725" cy="2570.2" r="4.2"/><circle cx="1715.4" cy="2506.2" r="4.2"/><circle cx="1723.3" cy="2523.4" r="4.2"/><circle cx="1723.2" cy="2562.1" r="4.2"/><circle cx="1724.7" cy="2602.5" r="4.2"/><circle cx="1722.7" cy="2603.7" r="4.2"/><circle cx="1718.7" cy="2553.2" r="4.2"/><circle cx="1717.1" cy="2506.6" r="4.2"/><circle cx="1716" cy="2537.6" r="4.2"/><circle cx="1724.5" cy="2551.3" r="4.2"/><circle cx="1767" cy="2542.8" r="4.2"/><circle cx="1758.3" cy="2562" r="4.2"/><circle cx="1759.9" cy="2571.4" r="4.2"/><circle cx="1763.1" cy="2558.8" r="4.2"/><circle cx="1764.7" cy="2569.9" r="4.2"/><circle cx="1757.5" cy="2546.3" r="4.2"/><circle cx="1758.9" cy="2573.3" r="4.2"/><circle cx="1766.2" cy="2527.3" r="4.2"/><circle cx="1759.2" cy="2541.9" r="4.2"/><circle cx="1762" cy="2523.1" r="4.2"/><circle cx="1764.5" cy="2556.7" r="4.2"/><circle cx="1762.3" cy="2546.4" r="4.2"/><circle cx="1763.1" cy="2558.6" r="4.2"/><circle cx="1808.4" cy="2601.8" r="4.2"/><circle cx="1802.4" cy="2600.8" r="4.2"/><circle cx="1809.6" cy="2599.2" r="4.2"/><circle cx="1806.1" cy="2601.1" r="4.2"/><circle cx="1802.6" cy="2596.8" r="4.2"/><circle cx="1803.4" cy="2599.1" r="4.2"/><circle cx="1800.7" cy="2597.9" r="4.2"/><circle cx="1807.2" cy="2597.2" r="4.2"/><circle cx="1802.7" cy="2602.2" r="4.2"/><circle cx="1800.6" cy="2598.3" r="4.2"/><circle cx="1801.5" cy="2597.7" r="4.2"/><circle cx="1809.6" cy="2601.4" r="4.2"/><circle cx="1800" cy="2599" r="4.2"/></g>
<g fill="#f08080" stroke="#b03030" stroke-width="1"><circle cx="1688.8" cy="2576.8" r="4.2"/><circle cx="1692.6" cy="2583.9" r="4.2"/><circle cx="1692.4" cy="2571.7" r="4.2"/><circle cx="1694.3" cy="2598.8" r="4.2"/><circle cx="1691.1" cy="2558" r="4.2"/><circle cx="1696.1" cy="2550" r="4.2"/><circle cx="1688.9" cy="2560.5" r="4.2"/><circle cx="1688.3" cy="2552.7" r="4.2"/><circle cx="1696.1" cy="2570.2" r="4.2"/><circle cx="1691.2" cy="2531.4" r="4.2"/><circle cx="1690.9" cy="2579.4" r="4.2"/><circle cx="1695.7" cy="2549.2" r="4.2"/><circle cx="1689" cy="2583.9" r="4.2"/><circle cx="1731.9" cy="2483.9" r="4.2"/><circle cx="1735.6" cy="2489.9" r="4.2"/><circle cx="1734.4" cy="2501.6" r="4.2"/><circle cx="1739.2" cy="2527.5" r="4.2"/><circle cx="1739.1" cy="2531.5" r="4.2"/><circle cx="1738.3" cy="2501.1" r="4.2"/><circle cx="1734.3" cy="2477.9" r="4.2"/><circle cx="1737.1" cy="2533.4" r="4.2"/><circle cx="1732.6" cy="2491.4" r="4.2"/><circle cx="1733.2" cy="2541.7" r="4.2"/><circle cx="1735.8" cy="2546.8" r="4.2"/><circle cx="1735.7" cy="2485.2" r="4.2"/><circle cx="1736.5" cy="2503.4" r="4.2"/><circle cx="1781.3" cy="2583.2" r="4.2"/><circle cx="1781.1" cy="2589.8" r="4.2"/><circle cx="1779.2" cy="2603.7" r="4.2"/><circle cx="1778.6" cy="2586.8" r="4.2"/><circle cx="1776" cy="2589.5" r="4.2"/><circle cx="1775.5" cy="2577.6" r="4.2"/><circle cx="1776.4" cy="2577.2" r="4.2"/><circle cx="1776.7" cy="2589.6" r="4.2"/><circle cx="1778" cy="2581.9" r="4.2"/><circle cx="1775.1" cy="2598.6" r="4.2"/><circle cx="1774.7" cy="2587.9" r="4.2"/><circle cx="1775.1" cy="2582.3" r="4.2"/><circle cx="1773.6" cy="2579.2" r="4.2"/><circle cx="1821.9" cy="2574.3" r="4.2"/><circle cx="1820.5" cy="2590.8" r="4.2"/><circle cx="1820.8" cy="2568.2" r="4.2"/><circle cx="1820.7" cy="2602.9" r="4.2"/><circle cx="1815.7" cy="2576.4" r="4.2"/><circle cx="1823.4" cy="2564.3" r="4.2"/><circle cx="1818" cy="2567.4" r="4.2"/><circle cx="1821" cy="2555.3" r="4.2"/><circle cx="1819.2" cy="2603.7" r="4.2"/><circle cx="1818.4" cy="2579.1" r="4.2"/><circle cx="1824.1" cy="2588.2" r="4.2"/><circle cx="1817.9" cy="2594.6" r="4.2"/><circle cx="1824.6" cy="2536.6" r="4.2"/></g>
<path d="M1676.6 2551.2l3.6 6.2h-7.2zM1724.7 2525.6l3.6 6.2h-7.2zM1762.8 2567.6l3.6 6.2h-7.2zM1805.9 2596.8l3.6 6.2h-7.2z" fill="#ececec" stroke="#333" stroke-width="1"/>
<path d="M1695.7 2567.1l3.6 6.2h-7.2zM1733.5 2516.4l3.6 6.2h-7.2zM1777.1 2593.7l3.6 6.2h-7.2zM1816.1 2599.2l3.6 6.2h-7.2z" fill="#f7c4c4" stroke="#333" stroke-width="1"/>
<path d="M1677.9 2551.8V2546.9m-4 0h8M1677.9 2551.8V2556.8M1692.9 2564.8V2557.9m-4 0h8M1692.9 2564.8V2571.7M1720.2 2533.3V2525.9m-4 0h8M1720.2 2533.3V2540.7M1735.2 2509.2V2502.3m-4 0h8M1735.2 2509.2V2516.1M1762.5 2550V2545m-4 0h8M1762.5 2550V2554.9M1777.5 2587V2584.1m-4 0h8M1777.5 2587V2590M1804.8 2600V2599.5m-4 0h8M1804.8 2600V2600.5M1819.8 2572.2V2567.7m-4 0h8M1819.8 2572.2V2576.7" stroke="#222" stroke-width="1.3" fill="none"/>
<path d="M1664.1 2417.4V2603.7H1831.1" stroke="#000" stroke-width="2" fill="none"/>
<path d="M1664.1 2603.7H1660.1M1664.1 2566.6H1660.1M1664.1 2529.6H1660.1M1664.1 2492.5H1660.1M1664.1 2455.5H1660.1M1664.1 2418.4H1660.1M1685.4 2603.7V2607.7M1727.7 2603.7V2607.7M1770 2603.7V2607.7M1812.3 2603.7V2607.7" stroke="#000" stroke-width="1.8" fill="none"/>
<text x="1656.6" y="2612.2" font-size="23.5" text-anchor="end" fill="#000">0</text>
<text x="1656.6" y="2575.1" font-size="23.5" text-anchor="end" fill="#000">20</text>
<text x="1656.6" y="2538.1" font-size="23.5" text-anchor="end" fill="#000">40</text>
<text x="1656.6" y="2501" font-size="23.5" text-anchor="end" fill="#000">60</text>
<text x="1656.6" y="2464" font-size="23.5" text-anchor="end" fill="#000">80</text>
<text x="1656.6" y="2426.9" font-size="23.5" text-anchor="end" fill="#000">100</text>
<text x="1621" y="2511" font-size="21" text-anchor="middle" fill="#000" transform="rotate(-90 1621 2511)">Frequency (%)</text>
<text x="1682.4" y="2615.7" font-size="17.5" text-anchor="end" fill="#000" font-style="italic" transform="rotate(-40 1682.4 2615.7)">IgM<tspan font-size="12" dy="-7">&#8211;</tspan><tspan dy="7"> IgG</tspan><tspan font-size="12" dy="-7">&#8211;</tspan></text>
<text x="1724.7" y="2615.7" font-size="17.5" text-anchor="end" fill="#000" font-style="italic" transform="rotate(-40 1724.7 2615.7)">IgM<tspan font-size="12" dy="-7">+</tspan><tspan dy="7">IgG</tspan><tspan font-size="12" dy="-7">&#8211;</tspan></text>
<text x="1767" y="2615.7" font-size="17.5" text-anchor="end" fill="#000" font-style="italic" transform="rotate(-40 1767 2615.7)">IgM<tspan font-size="12" dy="-7">&#8211;</tspan><tspan dy="7">IgG</tspan><tspan font-size="12" dy="-7">+</tspan></text>
<text x="1809.3" y="2615.7" font-size="17.5" text-anchor="end" fill="#000" font-style="italic" transform="rotate(-40 1809.3 2615.7)">IgM<tspan font-size="12" dy="-7">+</tspan><tspan dy="7">IgG</tspan><tspan font-size="12" dy="-7">dim</tspan></text>
<path d="M1672.6 2434.4H1690" stroke="#000" stroke-width="2.2"/>
<text x="1680.3" y="2432.9" font-size="22.5" text-anchor="start" fill="#000" transform="rotate(-43 1680.3 2432.9)">0.12</text>
<path d="M1719.1 2434.4H1736.5" stroke="#000" stroke-width="2.2"/>
<text x="1726.8" y="2432.9" font-size="22.5" text-anchor="start" fill="#000" transform="rotate(-43 1726.8 2432.9)">0.12</text>
<path d="M1764.5 2434.4H1781.9" stroke="#000" stroke-width="2.2"/>
<text x="1772.2" y="2432.9" font-size="22.5" text-anchor="start" fill="#000" transform="rotate(-43 1772.2 2432.9)">0.0002</text>
<path d="M1810.6 2434.4H1828" stroke="#000" stroke-width="2.2"/>
<text x="1818.3" y="2432.9" font-size="22.5" text-anchor="start" fill="#000" transform="rotate(-43 1818.3 2432.9)">0.00001</text>
<text x="1754" y="2357" font-size="25" text-anchor="middle" fill="#1d8a1d" font-weight="bold">CD27<tspan font-size="16.5" dy="-10">+</tspan></text>
<circle cx="1159" cy="2705" r="6.3" fill="#8c8c8c" stroke="#333" stroke-width="1.2"/>
<circle cx="1292.3" cy="2705" r="6.3" fill="#f08080" stroke="#b03030" stroke-width="1.2"/>
<path d="M1427.3 2698.5l7 11.5h-14z" fill="#d8d8d8" stroke="#333" stroke-width="1.2"/>
<path d="M1539.2 2698.5l7 11.5h-14z" fill="#f7b5b5" stroke="#b03030" stroke-width="1.2"/>
<text x="1178" y="2713" font-size="22.5" text-anchor="start" fill="#000">HC-Ag</text>
<text x="1311.8" y="2713" font-size="22.5" text-anchor="start" fill="#000">pRD-Ag</text>
<text x="1446.2" y="2713" font-size="22.5" text-anchor="start" fill="#000">HC-N</text>
<text x="1558.7" y="2713" font-size="22.5" text-anchor="start" fill="#000">pRD-N</text>
</svg>
</body></html>
